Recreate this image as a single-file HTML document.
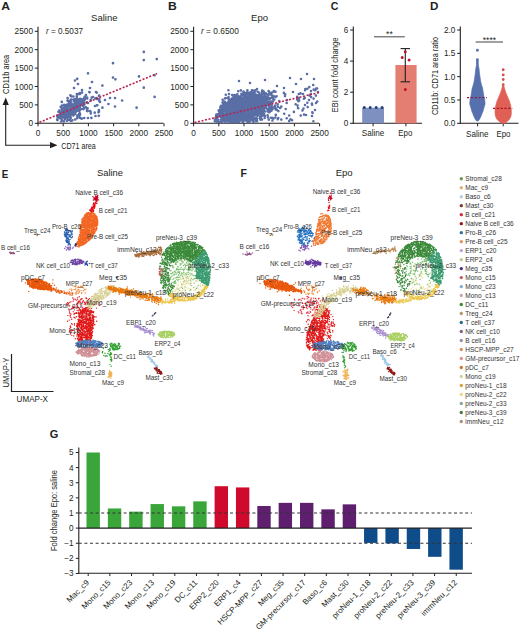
<!DOCTYPE html>
<html><head><meta charset="utf-8"><style>
html,body{margin:0;padding:0;background:#fff;}
svg{display:block;}
text{font-family:"Liberation Sans", sans-serif;}
</style></head><body>
<svg width="520" height="633" viewBox="0 0 520 633" fill="#231f20" font-family='"Liberation Sans", sans-serif'>
<rect width="520" height="633" fill="#fff"/>
<text x="1.20" y="10.17" font-size="10.8" font-weight="bold" textLength="8.80" lengthAdjust="spacingAndGlyphs">A</text>
<text x="104.30" y="21.20" font-size="9.5" text-anchor="middle">Saline</text>
<line x1="38.00" y1="26.70" x2="38.00" y2="123.80" stroke="#231f20" stroke-width="1.1"/>
<line x1="37.50" y1="123.30" x2="163.50" y2="123.30" stroke="#231f20" stroke-width="1.1"/>
<line x1="34.80" y1="123.30" x2="38.00" y2="123.30" stroke="#231f20" stroke-width="1"/>
<text x="33.00" y="126.45" font-size="8.8" text-anchor="end" textLength="4.60" lengthAdjust="spacingAndGlyphs">0</text>
<line x1="38.00" y1="123.30" x2="38.00" y2="126.30" stroke="#231f20" stroke-width="1"/>
<text x="38.00" y="135.95" font-size="8.8" text-anchor="middle" textLength="4.60" lengthAdjust="spacingAndGlyphs">0</text>
<line x1="34.80" y1="104.90" x2="38.00" y2="104.90" stroke="#231f20" stroke-width="1"/>
<text x="33.00" y="108.05" font-size="8.8" text-anchor="end" textLength="13.80" lengthAdjust="spacingAndGlyphs">500</text>
<line x1="63.20" y1="123.30" x2="63.20" y2="126.30" stroke="#231f20" stroke-width="1"/>
<text x="63.20" y="135.95" font-size="8.8" text-anchor="middle" textLength="13.80" lengthAdjust="spacingAndGlyphs">500</text>
<line x1="34.80" y1="86.50" x2="38.00" y2="86.50" stroke="#231f20" stroke-width="1"/>
<text x="33.00" y="89.65" font-size="8.8" text-anchor="end" textLength="18.40" lengthAdjust="spacingAndGlyphs">1000</text>
<line x1="88.40" y1="123.30" x2="88.40" y2="126.30" stroke="#231f20" stroke-width="1"/>
<text x="88.40" y="135.95" font-size="8.8" text-anchor="middle" textLength="18.40" lengthAdjust="spacingAndGlyphs">1000</text>
<line x1="34.80" y1="68.10" x2="38.00" y2="68.10" stroke="#231f20" stroke-width="1"/>
<text x="33.00" y="71.25" font-size="8.8" text-anchor="end" textLength="18.40" lengthAdjust="spacingAndGlyphs">1500</text>
<line x1="113.60" y1="123.30" x2="113.60" y2="126.30" stroke="#231f20" stroke-width="1"/>
<text x="113.60" y="135.95" font-size="8.8" text-anchor="middle" textLength="18.40" lengthAdjust="spacingAndGlyphs">1500</text>
<line x1="34.80" y1="49.70" x2="38.00" y2="49.70" stroke="#231f20" stroke-width="1"/>
<text x="33.00" y="52.85" font-size="8.8" text-anchor="end" textLength="18.40" lengthAdjust="spacingAndGlyphs">2000</text>
<line x1="138.80" y1="123.30" x2="138.80" y2="126.30" stroke="#231f20" stroke-width="1"/>
<text x="138.80" y="135.95" font-size="8.8" text-anchor="middle" textLength="18.40" lengthAdjust="spacingAndGlyphs">2000</text>
<line x1="34.80" y1="31.30" x2="38.00" y2="31.30" stroke="#231f20" stroke-width="1"/>
<text x="33.00" y="34.45" font-size="8.8" text-anchor="end" textLength="18.40" lengthAdjust="spacingAndGlyphs">2500</text>
<line x1="164.00" y1="123.30" x2="164.00" y2="126.30" stroke="#231f20" stroke-width="1"/>
<text x="164.00" y="135.95" font-size="8.8" text-anchor="middle" textLength="18.40" lengthAdjust="spacingAndGlyphs">2500</text>
<text x="46.00" y="34.20" font-size="8.2" textLength="37.00" lengthAdjust="spacingAndGlyphs"><tspan font-style="italic">r</tspan> = 0.5037</text>
<text x="168.10" y="10.17" font-size="10.8" font-weight="bold" textLength="8.80" lengthAdjust="spacingAndGlyphs">B</text>
<text x="259.50" y="21.20" font-size="9.5" text-anchor="middle">Epo</text>
<line x1="193.60" y1="26.70" x2="193.60" y2="123.80" stroke="#231f20" stroke-width="1.1"/>
<line x1="193.10" y1="123.30" x2="319.10" y2="123.30" stroke="#231f20" stroke-width="1.1"/>
<line x1="190.40" y1="123.30" x2="193.60" y2="123.30" stroke="#231f20" stroke-width="1"/>
<text x="188.60" y="126.45" font-size="8.8" text-anchor="end" textLength="4.60" lengthAdjust="spacingAndGlyphs">0</text>
<line x1="193.60" y1="123.30" x2="193.60" y2="126.30" stroke="#231f20" stroke-width="1"/>
<text x="193.60" y="135.95" font-size="8.8" text-anchor="middle" textLength="4.60" lengthAdjust="spacingAndGlyphs">0</text>
<line x1="190.40" y1="104.90" x2="193.60" y2="104.90" stroke="#231f20" stroke-width="1"/>
<text x="188.60" y="108.05" font-size="8.8" text-anchor="end" textLength="13.80" lengthAdjust="spacingAndGlyphs">500</text>
<line x1="218.80" y1="123.30" x2="218.80" y2="126.30" stroke="#231f20" stroke-width="1"/>
<text x="218.80" y="135.95" font-size="8.8" text-anchor="middle" textLength="13.80" lengthAdjust="spacingAndGlyphs">500</text>
<line x1="190.40" y1="86.50" x2="193.60" y2="86.50" stroke="#231f20" stroke-width="1"/>
<text x="188.60" y="89.65" font-size="8.8" text-anchor="end" textLength="18.40" lengthAdjust="spacingAndGlyphs">1000</text>
<line x1="244.00" y1="123.30" x2="244.00" y2="126.30" stroke="#231f20" stroke-width="1"/>
<text x="244.00" y="135.95" font-size="8.8" text-anchor="middle" textLength="18.40" lengthAdjust="spacingAndGlyphs">1000</text>
<line x1="190.40" y1="68.10" x2="193.60" y2="68.10" stroke="#231f20" stroke-width="1"/>
<text x="188.60" y="71.25" font-size="8.8" text-anchor="end" textLength="18.40" lengthAdjust="spacingAndGlyphs">1500</text>
<line x1="269.20" y1="123.30" x2="269.20" y2="126.30" stroke="#231f20" stroke-width="1"/>
<text x="269.20" y="135.95" font-size="8.8" text-anchor="middle" textLength="18.40" lengthAdjust="spacingAndGlyphs">1500</text>
<line x1="190.40" y1="49.70" x2="193.60" y2="49.70" stroke="#231f20" stroke-width="1"/>
<text x="188.60" y="52.85" font-size="8.8" text-anchor="end" textLength="18.40" lengthAdjust="spacingAndGlyphs">2000</text>
<line x1="294.40" y1="123.30" x2="294.40" y2="126.30" stroke="#231f20" stroke-width="1"/>
<text x="294.40" y="135.95" font-size="8.8" text-anchor="middle" textLength="18.40" lengthAdjust="spacingAndGlyphs">2000</text>
<line x1="190.40" y1="31.30" x2="193.60" y2="31.30" stroke="#231f20" stroke-width="1"/>
<text x="188.60" y="34.45" font-size="8.8" text-anchor="end" textLength="18.40" lengthAdjust="spacingAndGlyphs">2500</text>
<line x1="319.60" y1="123.30" x2="319.60" y2="126.30" stroke="#231f20" stroke-width="1"/>
<text x="319.60" y="135.95" font-size="8.8" text-anchor="middle" textLength="18.40" lengthAdjust="spacingAndGlyphs">2500</text>
<text x="201.00" y="34.20" font-size="8.2" textLength="37.80" lengthAdjust="spacingAndGlyphs"><tspan font-style="italic">r</tspan> = 0.6500</text>
<path d="M143.8 51.9h0M143.8 60.1h0M156.8 59.1h0M113.0 63.2h0M88.0 73.3h0M139.0 76.4h0M154.6 75.2h0M113.0 77.6h0M115.4 79.3h0M143.8 87.7h0M77.2 78.8h0M92.0 82.0h0M102.4 85.6h0M122.1 100.5h0M136.6 107.7h0M154.6 96.9h0M115.0 98.0h0M115.0 106.5h0M108.4 104.0h0M102.4 107.7h0M78.0 84.0h0M74.0 88.0h0M82.0 90.0h0M90.0 88.0h0M96.0 92.0h0M99.0 96.0h0M86.0 95.0h0M105.0 100.0h0M110.0 98.0h0M100.0 102.0h0M75.0 80.5h0M80.0 94.0h0M93.0 97.0h0M88.0 103.0h0M95.0 106.0h0M84.0 108.0h0M90.0 111.0h0M97.0 99.0h0M79.0 116.0h0M88.0 118.0h0M71.0 121.0h0M64.0 121.5h0M69.6 113.0h0M67.7 110.1h0M63.2 114.2h0M78.5 105.6h0M77.6 105.4h0M73.1 108.5h0M61.1 121.5h0M74.7 109.0h0M62.8 113.1h0M71.9 108.2h0M71.8 105.1h0M73.1 109.7h0M70.0 119.1h0M76.8 111.0h0M63.9 110.8h0M67.4 111.4h0M74.9 107.5h0M64.5 109.2h0M69.7 116.8h0M65.2 115.0h0M69.0 102.8h0M73.7 114.1h0M67.2 107.9h0M73.2 107.2h0M62.3 120.4h0M76.9 109.6h0M80.6 103.7h0M67.4 105.1h0M72.5 104.8h0M63.7 108.2h0M62.1 113.3h0M73.4 96.5h0M60.9 118.4h0M81.2 104.4h0M70.5 105.7h0M65.0 119.1h0M77.8 104.8h0M72.8 110.2h0M82.3 103.7h0M74.9 109.1h0M77.8 106.8h0M71.0 99.6h0M71.4 114.3h0M73.3 106.6h0M73.9 110.5h0M73.8 113.2h0M64.5 112.1h0M77.0 104.6h0M66.5 117.7h0M78.7 100.9h0M60.4 116.8h0M68.2 109.8h0M76.8 99.2h0M75.2 99.2h0M66.4 116.2h0M79.8 106.9h0M72.7 108.7h0M72.5 111.1h0M69.5 111.8h0M73.8 107.0h0M76.6 107.9h0M84.3 100.6h0M66.2 111.0h0M72.3 113.1h0M68.7 113.0h0M63.1 116.7h0M73.3 108.7h0M68.8 114.4h0M70.5 106.8h0M87.2 98.5h0M66.0 112.6h0M68.3 111.0h0M73.7 100.9h0M72.0 113.5h0M79.6 110.5h0M57.7 117.7h0M69.3 113.8h0M70.4 95.4h0M73.5 99.5h0M70.7 101.5h0M74.3 113.0h0M69.5 111.4h0M75.7 106.3h0M73.4 115.5h0M76.3 103.5h0M75.4 104.3h0M72.7 111.6h0M73.1 111.0h0M71.6 103.6h0M59.3 110.5h0M80.4 105.8h0M77.4 99.2h0M67.1 106.2h0M79.2 111.3h0M68.1 119.8h0M76.2 104.2h0M67.8 108.5h0M73.7 109.3h0M77.4 98.8h0M81.5 109.0h0M79.3 101.8h0M67.7 117.3h0M71.1 109.8h0M78.9 101.7h0M70.5 106.3h0M72.1 112.8h0M74.0 114.0h0M72.3 113.8h0M84.2 107.5h0M67.8 116.4h0M61.7 116.4h0M68.6 110.9h0M66.6 113.9h0M82.1 100.8h0M76.1 110.5h0M65.4 106.9h0M69.1 116.5h0M57.4 116.6h0M78.8 107.4h0M72.1 112.6h0M68.1 105.2h0M57.9 116.1h0M74.7 103.3h0M62.0 112.2h0M59.4 117.6h0M63.0 117.4h0M60.7 106.9h0M74.1 105.3h0M70.8 107.0h0M77.2 108.4h0M75.3 107.6h0M80.6 105.2h0M67.6 100.7h0M79.4 109.6h0M66.8 110.0h0M78.5 94.0h0M79.4 115.6h0M65.6 117.1h0M82.3 99.7h0M76.1 110.1h0M63.7 114.4h0M74.1 111.2h0M69.3 109.5h0M62.3 114.1h0M76.2 105.7h0M62.1 111.7h0M90.8 99.8h0M67.6 98.1h0M75.4 108.3h0M82.4 102.6h0M70.9 112.1h0M70.4 106.0h0M83.6 109.1h0M58.9 115.1h0M72.4 109.1h0M64.8 108.9h0M86.9 102.3h0M58.5 111.8h0M84.0 104.4h0M84.3 103.2h0M64.8 115.4h0M71.0 112.0h0M64.8 113.4h0M74.0 108.8h0M74.8 107.4h0M69.9 114.3h0M68.2 107.0h0M65.8 113.3h0M69.7 111.1h0M70.5 110.6h0M65.8 106.5h0M75.5 111.3h0M72.4 107.1h0M70.5 104.5h0M57.5 120.1h0M65.7 117.3h0M67.1 120.7h0M63.9 107.5h0M66.2 115.7h0M73.8 108.0h0M81.8 104.6h0M71.4 112.1h0M83.6 104.6h0M74.1 101.1h0M70.9 113.2h0M70.8 115.1h0M76.3 109.9h0M75.2 119.5h0M77.7 102.8h0M77.3 118.1h0M70.0 114.7h0M76.6 104.9h0M62.7 116.7h0M75.3 111.9h0M75.3 106.0h0M77.1 107.3h0M71.5 109.1h0M70.1 113.5h0M61.3 113.4h0M66.2 105.1h0M61.9 105.6h0M66.9 115.5h0M73.7 106.9h0M64.8 106.5h0M83.6 102.1h0M75.0 101.4h0M64.1 104.9h0M77.6 109.0h0M57.2 119.8h0M69.7 100.9h0M62.2 108.6h0M70.9 110.7h0M76.1 109.0h0M83.1 106.0h0M59.9 115.2h0M60.1 112.0h0M69.5 110.4h0M69.2 102.2h0M61.7 116.4h0M67.9 110.0h0M67.6 107.8h0M75.6 107.5h0M67.7 108.2h0M61.8 101.9h0M63.5 115.3h0M60.4 118.5h0M67.4 104.7h0M67.5 110.3h0M74.7 109.6h0M67.6 107.4h0M68.9 110.5h0M75.7 107.1h0M61.7 109.3h0M65.6 109.5h0M62.3 115.4h0M67.0 112.9h0M72.4 105.9h0M84.7 96.8h0M77.7 104.6h0M71.3 96.3h0M65.6 114.8h0M80.1 114.6h0M75.5 112.5h0M77.6 109.1h0M73.0 106.8h0M70.6 103.8h0M75.3 100.5h0M77.2 115.7h0M68.6 111.2h0M77.9 104.0h0M65.3 115.1h0M75.7 109.3h0M69.4 119.8h0M81.2 101.3h0M70.7 107.2h0M77.6 100.3h0M73.3 104.9h0M67.2 116.0h0M78.9 103.0h0M67.6 116.2h0M70.5 111.3h0M83.1 105.8h0M72.4 120.3h0M72.1 112.6h0M65.5 113.2h0M76.0 98.8h0M76.7 102.3h0M68.8 109.3h0M66.4 107.0h0M66.4 105.1h0M70.3 111.4h0M72.5 106.8h0M64.4 115.3h0M70.8 117.7h0M74.8 105.6h0M65.0 110.1h0M62.8 113.7h0M73.3 110.2h0M79.2 114.0h0M65.3 113.7h0M66.9 113.3h0M72.1 110.5h0M69.3 112.5h0M72.3 112.3h0M67.3 106.6h0M64.6 117.5h0M67.3 115.5h0M75.8 107.1h0M99.2 95.5h0M87.1 109.6h0M96.4 98.0h0M81.0 99.0h0M84.4 104.5h0M98.8 115.8h0M96.7 92.6h0M74.8 111.9h0M97.3 105.3h0M89.3 92.0h0M84.2 118.0h0M95.5 116.0h0M99.3 99.0h0M76.8 96.3h0M87.6 111.1h0M98.5 112.2h0M90.8 113.4h0M85.9 107.4h0M75.0 113.9h0M80.0 117.8h0M90.8 100.5h0M77.3 99.1h0M90.5 111.6h0M76.9 94.0h0M87.6 108.3h0M84.1 98.3h0M89.6 92.3h0M81.8 104.9h0M98.9 110.0h0M97.0 105.3h0M80.1 98.9h0M99.0 111.7h0M82.0 92.6h0M87.0 110.9h0M84.9 99.2h0M91.4 117.9h0M79.9 93.0h0M82.8 103.8h0M91.7 97.5h0M94.7 112.7h0M87.1 97.7h0M99.2 100.7h0M95.3 98.5h0M79.8 113.3h0M81.7 118.7h0" stroke="#5a6ea6" stroke-width="2.70" stroke-linecap="round"/>
<line x1="39.50" y1="122.30" x2="157.00" y2="73.60" stroke="#b82350" stroke-width="1.6" stroke-dasharray="2,1.6"/>
<path d="M233.1 112.7h0M246.9 114.2h0M252.4 110.4h0M257.1 121.3h0M245.5 109.4h0M255.8 106.0h0M262.1 92.2h0M228.4 90.3h0M252.4 102.2h0M260.1 116.8h0M241.3 107.5h0M233.0 106.8h0M234.8 116.4h0M242.7 109.2h0M241.8 115.5h0M248.5 105.4h0M250.9 104.4h0M246.1 100.6h0M257.8 105.0h0M248.8 112.5h0M244.4 107.0h0M241.7 107.1h0M247.1 107.5h0M250.5 103.0h0M236.3 96.3h0M237.8 115.5h0M259.7 99.3h0M244.2 119.2h0M239.3 115.3h0M265.4 99.8h0M257.3 97.8h0M244.7 107.4h0M246.3 115.2h0M273.6 91.6h0M235.2 115.2h0M228.5 117.9h0M249.3 104.1h0M245.6 96.7h0M248.8 95.4h0M231.0 109.6h0M238.5 116.4h0M242.2 106.1h0M253.4 115.5h0M243.0 111.2h0M259.9 103.6h0M242.5 111.7h0M257.1 107.6h0M235.6 104.2h0M245.9 114.6h0M224.3 108.9h0M236.9 97.5h0M237.3 107.8h0M246.6 102.2h0M228.8 111.6h0M239.7 105.3h0M244.0 113.5h0M262.6 112.6h0M230.1 110.9h0M231.8 112.9h0M246.0 97.9h0M248.4 106.2h0M217.3 121.0h0M254.1 91.0h0M253.7 105.7h0M249.7 109.0h0M259.6 100.3h0M253.2 101.6h0M250.1 100.0h0M244.7 120.0h0M247.8 105.5h0M224.2 110.7h0M247.0 113.6h0M249.2 109.8h0M244.7 117.4h0M235.2 107.9h0M254.5 104.4h0M236.7 107.1h0M239.9 114.2h0M244.0 99.7h0M248.4 107.7h0M230.0 119.3h0M237.3 108.6h0M256.3 112.5h0M233.5 115.5h0M238.0 119.0h0M235.0 117.5h0M237.2 114.5h0M239.1 105.5h0M272.1 97.4h0M234.3 113.1h0M259.8 102.6h0M260.3 106.8h0M232.7 118.8h0M250.5 110.1h0M256.3 108.4h0M245.5 111.0h0M237.5 111.1h0M253.2 101.3h0M256.0 97.8h0M244.4 104.3h0M242.5 103.9h0M244.9 103.9h0M247.2 113.8h0M228.1 113.8h0M250.8 109.1h0M232.2 98.2h0M260.1 104.0h0M241.5 107.2h0M244.6 105.0h0M225.9 110.3h0M232.2 108.7h0M227.4 119.3h0M225.4 120.3h0M228.7 116.8h0M261.6 102.5h0M232.0 113.4h0M239.8 97.7h0M233.9 113.4h0M235.7 112.1h0M254.1 109.5h0M256.0 107.5h0M238.0 110.5h0M237.5 108.6h0M235.3 99.6h0M237.3 110.7h0M228.4 114.3h0M248.8 105.1h0M234.7 99.2h0M262.1 119.5h0M248.5 104.3h0M244.2 92.4h0M254.8 106.5h0M240.9 105.3h0M249.7 102.5h0M243.9 104.7h0M246.6 112.4h0M229.7 113.7h0M250.9 106.4h0M264.1 114.0h0M224.7 102.5h0M257.6 113.4h0M256.8 108.7h0M231.7 108.2h0M252.1 98.5h0M281.3 106.6h0M230.7 108.5h0M243.4 103.2h0M260.0 101.2h0M234.4 113.6h0M241.1 107.2h0M244.8 103.0h0M222.5 111.5h0M241.8 109.5h0M250.0 106.6h0M229.2 109.2h0M250.0 109.5h0M239.9 108.6h0M255.1 103.8h0M253.7 108.4h0M248.1 115.7h0M233.2 110.1h0M228.8 108.7h0M267.9 110.9h0M243.7 112.3h0M260.3 107.3h0M255.7 94.6h0M234.2 115.3h0M262.2 101.6h0M229.2 111.7h0M230.7 107.5h0M261.4 96.8h0M247.5 121.9h0M259.3 104.4h0M234.5 114.9h0M266.1 103.6h0M259.8 102.5h0M248.7 104.9h0M251.1 114.4h0M221.9 116.7h0M244.0 104.2h0M239.6 115.5h0M271.4 101.5h0M242.8 97.8h0M269.0 98.6h0M238.8 102.4h0M238.5 102.7h0M244.1 111.4h0M243.1 110.5h0M228.5 101.7h0M237.5 105.5h0M227.1 112.5h0M243.2 100.2h0M243.6 118.4h0M251.1 104.2h0M243.5 107.6h0M243.1 113.7h0M234.9 95.0h0M239.5 103.8h0M249.6 101.7h0M249.4 121.3h0M224.7 108.1h0M216.8 121.8h0M228.6 101.3h0M222.9 121.1h0M230.3 111.1h0M249.9 115.3h0M271.5 104.3h0M244.4 109.3h0M270.5 107.5h0M238.8 113.5h0M246.1 107.7h0M231.8 103.8h0M230.8 102.7h0M260.3 105.4h0M249.8 92.5h0M269.6 103.5h0M250.4 108.6h0M245.2 108.9h0M253.0 94.1h0M221.3 107.6h0M232.8 108.5h0M247.8 108.5h0M240.8 104.7h0M238.2 117.2h0M252.9 105.3h0M241.3 120.2h0M235.3 116.2h0M257.4 100.9h0M250.8 97.6h0M256.6 104.5h0M221.6 122.0h0M232.7 121.7h0M232.2 111.8h0M245.1 105.4h0M244.3 104.2h0M251.4 105.3h0M238.2 91.2h0M258.2 102.7h0M217.4 119.6h0M251.1 112.8h0M241.6 113.9h0M234.2 104.3h0M259.5 108.3h0M265.5 105.5h0M230.0 102.2h0M231.3 108.6h0M232.1 117.1h0M245.9 105.5h0M244.0 107.2h0M246.8 112.3h0M253.7 99.5h0M246.3 115.0h0M218.3 116.2h0M238.9 100.2h0M236.6 116.3h0M260.9 112.5h0M226.6 105.4h0M251.5 111.7h0M241.5 100.1h0M254.8 109.4h0M248.5 103.0h0M248.2 112.1h0M229.7 101.0h0M247.7 110.1h0M244.4 114.3h0M233.6 111.8h0M239.1 114.2h0M263.6 98.5h0M274.3 106.7h0M254.4 108.1h0M266.2 98.0h0M237.9 103.2h0M251.9 114.4h0M250.4 108.6h0M239.6 111.1h0M233.6 104.6h0M229.5 108.3h0M256.5 110.6h0M225.4 122.2h0M252.9 100.5h0M219.5 112.9h0M234.0 114.6h0M232.1 98.8h0M241.5 98.4h0M251.7 96.6h0M230.3 107.7h0M237.6 119.9h0M255.3 107.8h0M242.7 97.9h0M233.4 108.6h0M229.6 117.6h0M230.0 108.9h0M222.5 102.5h0M253.5 113.7h0M242.1 102.1h0M259.6 104.0h0M258.5 112.7h0M256.6 100.0h0M258.5 107.8h0M219.6 115.2h0M221.9 116.3h0M247.4 99.3h0M250.8 115.7h0M275.7 109.4h0M239.7 111.8h0M242.3 115.9h0M256.6 103.7h0M224.9 121.1h0M237.0 115.4h0M249.6 117.3h0M256.7 99.9h0M251.1 117.7h0M235.6 114.6h0M261.6 109.9h0M246.0 98.1h0M225.1 117.6h0M253.6 122.2h0M232.8 120.7h0M248.6 94.6h0M231.0 114.6h0M234.8 110.8h0M246.6 101.5h0M246.9 102.5h0M235.7 115.3h0M234.7 114.0h0M264.3 100.2h0M241.8 114.3h0M239.6 117.6h0M225.7 119.9h0M232.9 107.1h0M264.5 93.9h0M268.0 103.1h0M259.8 94.9h0M262.2 111.0h0M240.1 108.9h0M276.6 96.3h0M234.6 107.6h0M249.0 108.5h0M248.7 118.4h0M238.6 113.7h0M259.8 94.7h0M260.9 114.2h0M220.5 110.0h0M223.1 103.7h0M243.8 95.3h0M252.5 115.0h0M218.8 116.2h0M231.1 111.5h0M244.1 112.0h0M237.2 111.0h0M234.7 112.8h0M225.8 116.0h0M268.8 98.7h0M225.1 117.6h0M224.5 104.5h0M233.6 117.6h0M247.1 106.3h0M226.5 107.7h0M261.4 102.9h0M223.6 101.6h0M225.8 115.0h0M244.5 106.9h0M234.8 102.3h0M233.5 118.3h0M217.8 116.9h0M248.2 113.8h0M227.8 118.9h0M245.6 102.4h0M246.4 100.9h0M230.9 113.4h0M224.5 105.8h0M237.9 116.0h0M239.5 118.9h0M222.7 107.6h0M264.5 102.7h0M253.1 98.7h0M253.8 106.0h0M251.1 105.5h0M257.2 98.3h0M225.0 105.5h0M256.3 98.0h0M225.2 109.2h0M232.7 103.8h0M236.4 106.9h0M232.0 106.3h0M241.4 106.0h0M244.2 109.9h0M241.4 93.9h0M232.6 107.2h0M248.9 95.1h0M231.3 111.2h0M239.7 116.9h0M238.2 117.3h0M260.0 104.8h0M249.1 107.0h0M245.8 99.0h0M253.9 100.5h0M255.9 104.0h0M257.4 101.8h0M237.1 112.7h0M234.8 108.1h0M243.8 109.3h0M263.2 100.8h0M272.5 109.3h0M268.5 105.8h0M244.1 109.1h0M238.2 105.4h0M239.5 105.5h0M266.1 103.0h0M231.1 100.0h0M240.2 106.8h0M224.1 108.3h0M241.2 108.3h0M262.4 101.7h0M243.4 105.8h0M237.2 121.4h0M260.1 113.7h0M237.2 111.1h0M232.1 119.8h0M224.0 120.2h0M260.7 111.3h0M231.6 120.8h0M230.2 108.4h0M263.5 96.2h0M230.6 111.2h0M279.3 101.0h0M230.1 101.2h0M235.5 119.9h0M267.3 96.9h0M231.1 109.8h0M229.5 121.5h0M244.2 102.8h0M252.9 104.7h0M227.2 119.3h0M249.1 92.7h0M268.6 101.7h0M248.0 93.5h0M231.1 110.9h0M253.4 94.2h0M224.8 101.7h0M239.5 112.4h0M217.1 114.9h0M253.0 115.7h0M250.5 103.4h0M223.3 110.0h0M233.1 113.6h0M245.4 119.3h0M243.4 100.9h0M265.8 106.0h0M241.7 104.1h0M252.7 99.0h0M224.1 117.6h0M246.9 111.3h0M254.5 113.8h0M232.7 119.6h0M230.0 118.7h0M245.1 109.5h0M255.4 103.5h0M259.6 108.0h0M242.5 104.8h0M230.2 110.1h0M239.1 110.0h0M285.0 96.1h0M250.6 99.5h0M231.3 111.1h0M242.2 101.7h0M263.0 96.5h0M242.6 110.7h0M246.1 111.6h0M246.3 108.4h0M245.8 106.1h0M229.2 110.1h0M271.9 109.1h0M244.3 117.1h0M233.2 106.4h0M234.7 113.3h0M243.4 110.4h0M243.8 114.8h0M263.7 91.5h0M243.6 106.5h0M243.2 97.8h0M249.8 107.2h0M237.3 94.3h0M235.0 106.5h0M220.1 111.4h0M253.0 108.4h0M242.9 112.2h0M233.8 112.8h0M243.9 112.1h0M240.7 108.5h0M238.6 105.9h0M274.3 99.5h0M253.5 120.4h0M257.7 91.7h0M253.7 110.1h0M271.4 106.3h0M249.9 97.6h0M230.5 115.5h0M246.5 100.0h0M235.7 108.7h0M243.7 110.7h0M235.0 103.2h0M263.2 111.6h0M243.0 115.8h0M249.8 110.5h0M246.8 101.7h0M252.4 111.9h0M275.5 108.2h0M271.5 102.3h0M235.8 107.3h0M231.0 114.3h0M243.2 113.2h0M273.6 96.0h0M252.6 108.1h0M245.3 106.2h0M238.3 104.7h0M244.4 107.9h0M244.4 102.0h0M242.7 109.1h0M247.8 99.2h0M250.2 112.6h0M249.4 103.4h0M234.6 110.3h0M255.9 114.3h0M238.2 106.0h0M247.7 108.1h0M227.6 109.7h0M242.2 113.6h0M222.9 109.6h0M246.0 98.8h0M244.4 110.5h0M238.0 103.5h0M240.4 107.3h0M244.6 102.1h0M253.1 92.8h0M239.6 110.0h0M253.9 99.9h0M248.2 102.5h0M256.5 115.3h0M237.5 113.9h0M231.5 120.1h0M258.9 102.4h0M227.2 117.8h0M260.6 109.1h0M248.9 93.4h0M236.0 121.4h0M270.0 103.0h0M256.8 100.7h0M224.7 115.3h0M239.1 109.8h0M251.3 104.2h0M245.7 110.5h0M246.4 120.1h0M248.4 107.0h0M237.6 106.4h0M261.1 102.4h0M225.6 111.7h0M239.0 107.1h0M254.3 95.9h0M249.2 107.1h0M225.7 115.9h0M241.9 112.6h0M236.5 113.4h0M255.5 110.9h0M240.4 105.5h0M252.0 90.3h0M232.5 117.5h0M248.6 99.1h0M241.9 102.7h0M245.0 114.1h0M247.2 92.3h0M248.4 93.9h0M258.8 105.0h0M271.8 92.7h0M244.6 115.3h0M231.4 108.3h0M236.7 110.7h0M228.1 118.0h0M249.7 106.4h0M264.8 97.5h0M258.8 98.4h0M247.8 93.1h0M244.3 106.8h0M233.6 108.1h0M235.4 106.6h0M233.1 108.9h0M227.0 114.1h0M252.3 103.1h0M238.5 119.9h0M257.8 109.1h0M257.3 100.5h0M242.9 116.4h0M234.0 111.4h0M248.2 109.1h0M240.6 116.5h0M241.3 114.4h0M258.5 107.0h0M249.4 97.9h0M222.3 112.6h0M252.3 115.4h0M225.7 117.7h0M228.3 109.4h0M239.8 114.7h0M247.8 114.9h0M230.5 119.9h0M255.1 104.2h0M247.3 102.9h0M225.9 112.7h0M239.3 121.7h0M245.6 109.7h0M250.4 100.1h0M255.7 106.1h0M222.4 121.1h0M250.8 108.6h0M263.0 97.6h0M250.9 110.6h0M232.4 121.3h0M246.6 99.5h0M236.4 99.7h0M240.2 101.8h0M243.0 97.8h0M247.6 104.9h0M242.7 108.2h0M240.6 100.3h0M227.9 111.5h0M243.1 94.6h0M229.9 109.6h0M228.1 116.9h0M238.1 104.8h0M230.3 119.4h0M234.3 116.2h0M243.6 95.1h0M226.9 115.1h0M248.7 111.8h0M255.7 110.7h0M236.3 109.8h0M251.8 102.1h0M252.8 93.5h0M250.7 104.3h0M246.4 107.4h0M225.9 112.2h0M261.0 95.5h0M225.0 114.9h0M234.3 105.7h0M232.8 120.0h0M231.8 105.5h0M254.3 108.0h0M229.3 119.4h0M257.0 101.1h0M225.1 119.4h0M254.7 103.7h0M216.0 117.1h0M249.7 111.3h0M267.2 97.1h0M235.2 111.5h0M256.5 96.5h0M251.4 100.4h0M250.1 110.6h0M225.3 115.1h0M246.8 111.2h0M226.7 108.2h0M238.8 108.7h0M238.1 120.7h0M253.9 104.3h0M249.4 98.2h0M236.1 107.4h0M224.4 116.2h0M243.5 118.5h0M228.1 111.4h0M248.9 109.1h0M241.2 106.0h0M249.8 108.4h0M215.7 117.8h0M220.0 109.6h0M244.2 108.5h0M241.5 103.1h0M237.0 104.6h0M249.0 111.0h0M269.5 106.8h0M229.7 110.8h0M229.7 116.1h0M271.3 102.1h0M225.3 119.4h0M242.7 110.8h0M264.8 94.0h0M244.9 102.4h0M245.0 114.7h0M238.4 105.6h0M217.9 120.0h0M243.9 112.6h0M237.6 114.3h0M253.0 103.5h0M235.2 110.4h0M228.1 113.2h0M238.3 112.0h0M263.8 109.4h0M237.3 115.1h0M248.0 111.9h0M242.9 110.5h0M233.6 106.9h0M257.3 111.9h0M252.3 107.9h0M244.6 104.8h0M243.4 104.5h0M231.7 122.1h0M256.7 119.7h0M232.0 112.9h0M235.3 112.8h0M237.3 105.7h0M255.0 98.2h0M236.3 115.2h0M233.5 109.4h0M246.1 104.8h0M224.4 115.4h0M243.1 120.5h0M229.1 121.0h0M230.2 111.3h0M238.1 112.5h0M258.3 114.7h0M236.4 120.6h0M257.8 108.3h0M233.6 118.7h0M241.4 111.7h0M239.9 114.5h0M260.3 109.6h0M241.6 116.2h0M259.9 95.2h0M259.2 92.7h0M251.0 109.5h0M263.3 102.3h0M233.4 106.9h0M226.5 120.6h0M237.0 106.0h0M247.5 101.4h0M234.8 108.7h0M268.6 108.5h0M236.0 100.4h0M246.0 107.9h0M248.2 110.4h0M239.8 116.4h0M254.2 105.6h0M235.2 108.4h0M249.0 98.5h0M238.0 105.4h0M224.1 120.5h0M241.7 109.4h0M250.5 95.1h0M241.8 111.1h0M250.9 97.8h0M252.5 106.3h0M263.6 108.2h0M254.9 118.9h0M240.9 106.4h0M235.0 105.2h0M237.0 97.8h0M241.9 112.0h0M254.9 101.3h0M259.7 97.3h0M235.6 98.4h0M229.5 108.5h0M263.5 103.9h0M228.3 118.2h0M248.0 105.0h0M241.6 107.1h0M230.4 101.5h0M243.8 117.1h0M260.8 99.5h0M231.4 111.9h0M255.0 106.1h0M234.9 114.3h0M240.4 113.2h0M233.0 102.6h0M244.6 113.2h0M226.7 114.4h0M253.0 102.0h0M255.7 110.5h0M218.3 115.0h0M255.2 112.8h0M227.8 110.2h0M240.1 96.6h0M252.0 108.8h0M237.2 114.6h0M253.2 106.6h0M252.6 115.0h0M235.9 112.6h0M237.4 117.9h0M237.6 114.0h0M244.0 108.6h0M264.9 99.2h0M263.0 106.1h0M259.4 100.9h0M256.3 108.4h0M234.4 113.9h0M240.2 109.5h0M257.8 97.7h0M234.4 107.7h0M243.5 112.2h0M266.4 101.2h0M246.5 102.2h0M253.0 113.8h0M255.4 90.4h0M257.7 113.4h0M249.6 95.8h0M239.3 114.1h0M245.7 102.0h0M232.3 119.4h0M243.0 110.6h0M222.7 112.8h0M247.8 96.7h0M225.7 115.9h0M250.2 110.6h0M236.5 109.8h0M237.5 106.9h0M245.7 108.6h0M234.2 113.9h0M241.6 108.6h0M252.7 93.1h0M242.9 101.5h0M241.3 119.4h0M227.3 114.3h0M236.3 117.7h0M225.0 104.5h0M248.0 104.2h0M240.3 117.0h0M229.3 111.6h0M244.9 110.6h0M237.5 117.8h0M271.0 94.5h0M260.0 99.4h0M243.0 106.3h0M230.5 105.0h0M239.8 118.6h0M256.4 100.8h0M233.3 107.8h0M251.1 106.1h0M233.0 105.7h0M261.4 106.4h0M231.6 119.9h0M228.7 118.7h0M228.2 111.8h0M249.6 108.8h0M253.5 98.7h0M266.2 108.3h0M243.0 111.7h0M231.3 112.3h0M224.6 116.6h0M247.8 115.7h0M256.6 108.6h0M236.6 109.7h0M238.0 112.1h0M219.9 114.5h0M241.1 105.9h0M264.0 99.5h0M265.7 107.3h0M236.3 114.0h0M258.6 100.1h0M241.9 105.3h0M242.0 106.6h0M245.4 114.4h0M260.9 102.3h0M246.7 112.9h0M235.7 104.4h0M254.6 97.6h0M252.2 98.4h0M264.0 93.1h0M256.8 113.1h0M226.9 103.2h0M253.3 109.2h0M233.4 95.5h0M240.6 107.5h0M236.3 109.4h0M216.8 115.4h0M269.6 108.2h0M235.5 106.8h0M249.8 113.0h0M248.9 98.3h0M244.5 108.9h0M264.0 108.2h0M251.8 113.2h0M240.3 120.0h0M237.2 113.6h0M252.1 98.8h0M228.5 102.6h0M244.1 107.8h0M238.8 113.6h0M242.5 107.0h0M256.7 114.9h0M233.9 106.0h0M234.1 112.8h0M247.8 100.9h0M252.9 97.7h0M254.0 107.0h0M253.2 119.0h0M238.1 109.5h0M250.4 111.4h0M224.8 117.8h0M233.6 116.6h0M260.4 101.9h0M241.0 110.6h0M249.9 106.9h0M235.0 106.9h0M242.4 117.0h0M243.8 117.3h0M245.6 107.4h0M218.3 114.1h0M255.7 94.8h0M226.2 108.0h0M236.1 115.7h0M245.2 94.0h0M260.1 97.7h0M238.0 121.8h0M238.0 102.3h0M231.8 108.2h0M227.7 112.5h0M254.5 106.3h0M229.1 115.0h0M244.2 113.2h0M238.7 113.4h0M270.3 98.2h0M228.3 116.7h0M230.4 111.2h0M245.3 109.9h0M240.2 115.4h0M236.4 102.5h0M252.9 102.2h0M256.7 98.7h0M250.4 107.7h0M257.7 106.0h0M249.8 102.5h0M242.4 110.4h0M249.3 110.8h0M237.6 106.1h0M235.5 114.4h0M235.2 108.0h0M232.2 95.1h0M236.9 109.4h0M247.7 93.4h0M239.0 113.4h0M251.3 113.3h0M253.6 97.2h0M249.7 103.6h0M234.9 122.2h0M231.6 107.5h0M234.6 106.3h0M256.3 105.8h0M261.7 103.8h0M236.2 118.4h0M232.2 109.9h0M239.9 110.1h0M256.6 99.0h0M246.6 106.9h0M222.6 109.5h0M240.0 112.5h0M247.4 110.0h0M241.6 106.1h0M245.4 100.9h0M223.2 114.3h0M221.6 113.8h0M230.7 109.8h0M239.5 104.6h0M232.3 101.4h0M241.9 103.1h0M240.8 90.4h0M231.8 114.8h0M243.5 109.1h0M222.5 118.4h0M241.7 102.5h0M251.9 104.7h0M241.2 106.3h0M249.6 106.6h0M258.3 105.5h0M233.2 111.0h0M253.5 101.9h0M248.4 110.0h0M234.1 96.4h0M244.3 109.5h0M242.0 103.8h0M257.9 101.6h0M231.9 108.2h0M244.3 100.7h0M262.1 108.0h0M261.8 105.1h0M259.8 105.1h0M259.2 98.7h0M245.5 112.8h0M243.4 115.9h0M244.7 112.6h0M239.7 99.9h0M248.9 115.1h0M261.4 112.8h0M248.1 102.5h0M237.7 97.7h0M241.6 115.3h0M256.2 112.3h0M228.0 110.2h0M254.1 118.2h0M246.6 103.8h0M241.6 110.6h0M275.0 107.9h0M272.9 97.4h0M258.5 111.6h0M249.8 108.3h0M238.6 107.6h0M231.0 99.3h0M245.5 107.4h0M248.7 118.7h0M239.9 108.0h0M231.9 112.9h0M236.6 112.6h0M285.2 94.2h0M255.6 109.1h0M253.6 109.9h0M254.5 113.6h0M258.8 111.4h0M235.2 111.7h0M234.4 118.6h0M252.1 101.7h0M256.1 121.2h0M256.1 95.7h0M242.3 113.2h0M242.4 111.5h0M258.8 104.5h0M228.8 119.2h0M241.0 110.2h0M231.1 104.0h0M224.3 113.7h0M254.8 95.9h0M233.4 116.1h0M233.2 117.1h0M236.2 113.4h0M243.4 108.4h0M244.8 117.5h0M235.9 115.1h0M245.3 110.9h0M251.9 94.8h0M245.3 106.5h0M235.7 105.7h0M228.9 107.3h0M265.1 99.8h0M249.7 99.2h0M247.3 116.7h0M239.1 103.4h0M236.4 104.5h0M222.6 115.3h0M234.7 106.4h0M227.8 108.4h0M248.5 115.9h0M220.7 119.5h0M225.9 114.4h0M244.7 111.7h0M256.0 99.6h0M224.7 114.7h0M244.3 103.3h0M258.1 114.0h0M223.6 118.9h0M251.2 92.1h0M244.3 106.5h0M243.8 105.0h0M249.5 110.3h0M253.8 108.2h0M244.7 99.9h0M236.6 112.1h0M234.4 104.9h0M217.9 120.4h0M241.1 105.4h0M234.2 106.1h0M231.6 112.5h0M234.9 116.5h0M240.4 110.6h0M250.5 114.2h0M250.7 107.0h0M237.9 105.2h0M239.0 114.9h0M244.1 105.5h0M220.3 107.3h0M248.8 113.3h0M243.8 98.9h0M239.6 111.5h0M230.4 116.1h0M237.3 105.2h0M227.1 120.6h0M244.7 101.8h0M230.4 119.8h0M249.4 103.9h0M262.9 98.6h0M230.3 121.2h0M240.3 112.1h0M240.1 102.9h0M225.5 114.4h0M258.7 95.4h0M260.9 102.9h0M227.6 116.7h0M247.6 100.6h0M228.0 117.7h0M215.8 118.6h0M227.5 104.7h0M239.1 111.3h0M231.7 105.1h0M240.7 97.6h0M250.4 109.0h0M266.8 105.0h0M247.4 108.6h0M239.2 101.1h0M263.0 104.1h0M235.4 103.8h0M263.3 104.0h0M227.6 119.4h0M267.6 98.5h0M246.4 104.4h0M236.0 118.7h0M283.9 92.9h0M242.2 114.3h0M239.6 114.9h0M250.8 98.5h0M227.3 114.4h0M253.9 106.1h0M255.5 94.2h0M247.2 102.7h0M244.1 110.3h0M228.4 113.0h0M226.9 116.9h0M229.4 110.7h0M243.4 104.0h0M256.0 99.0h0M254.1 106.0h0M227.5 113.4h0M229.9 111.4h0M242.6 121.1h0M240.1 120.5h0M244.9 98.9h0M256.8 105.7h0M238.6 108.7h0M244.8 105.8h0M233.9 109.8h0M256.3 99.0h0M244.4 100.2h0M229.2 104.9h0M240.9 114.1h0M245.0 104.5h0M249.4 103.6h0M247.7 108.6h0M243.5 91.6h0M226.3 120.6h0M237.5 107.1h0M263.4 104.1h0M268.7 101.7h0M241.0 114.3h0M230.3 110.7h0M234.0 110.7h0M251.3 102.0h0M245.2 104.3h0M239.6 111.1h0M229.9 120.8h0M247.9 115.3h0M256.4 107.5h0M237.4 103.5h0M238.0 107.5h0M244.3 104.9h0M256.7 99.9h0M240.9 115.7h0M239.2 101.9h0M247.1 105.6h0M214.8 121.3h0M226.1 110.4h0M249.2 108.1h0M246.2 103.2h0M244.9 107.0h0M238.9 108.4h0M236.7 117.8h0M246.4 118.8h0M256.5 114.3h0M241.3 111.8h0M235.8 110.4h0M217.4 115.0h0M227.7 110.4h0M258.9 103.9h0M260.5 107.3h0M256.7 109.9h0M235.8 116.9h0M236.4 107.7h0M263.1 115.1h0M251.2 99.6h0M246.5 109.7h0M246.2 104.9h0M224.8 116.1h0M255.4 108.9h0M253.4 111.8h0M228.6 114.1h0M248.9 113.0h0M245.3 111.2h0M248.7 120.5h0M275.7 97.0h0M217.8 119.7h0M221.2 112.8h0M249.0 117.7h0M249.8 110.4h0M256.1 104.7h0M230.3 113.1h0M245.9 105.6h0M232.2 110.5h0M219.5 111.2h0M239.9 107.4h0M245.8 116.9h0M245.9 107.2h0M223.8 109.1h0M245.0 101.9h0M245.2 100.4h0M243.6 107.9h0M254.4 101.3h0M237.6 112.4h0M246.7 118.5h0M237.3 107.3h0M238.8 113.5h0M246.8 111.8h0M266.6 98.9h0M226.2 116.4h0M242.3 93.8h0M238.7 100.4h0M251.4 114.5h0M252.3 94.7h0M262.6 106.8h0M238.3 113.9h0M261.5 98.9h0M240.5 105.8h0M252.4 90.3h0M258.7 95.7h0M250.6 94.6h0M228.1 110.6h0M249.3 95.1h0M248.6 102.1h0M257.9 100.5h0M248.1 105.4h0M265.2 97.2h0M246.3 120.6h0M244.6 112.6h0M232.6 114.1h0M229.8 103.8h0M244.2 97.9h0M264.6 95.2h0M237.6 112.4h0M223.0 105.8h0M234.8 119.9h0M251.0 94.7h0M258.2 102.7h0M248.8 106.6h0M245.2 101.0h0M228.2 109.8h0M238.5 114.6h0M232.2 109.0h0M252.4 107.7h0M235.0 104.6h0M224.9 105.1h0M259.8 109.1h0M268.2 101.8h0M248.2 111.6h0M254.1 102.4h0M251.8 119.6h0M230.9 118.6h0M257.1 100.6h0M250.9 105.1h0M244.7 104.2h0M241.6 109.1h0M262.4 115.8h0M219.0 121.9h0M244.2 114.6h0M258.0 107.8h0M250.6 99.1h0M256.0 96.9h0M260.8 105.9h0M231.5 121.1h0M231.1 108.4h0M220.8 116.1h0M254.1 99.6h0M268.3 103.0h0M232.0 104.9h0M221.4 121.1h0M256.9 95.8h0M241.3 107.4h0M239.7 113.3h0M268.5 94.0h0M255.9 110.7h0M237.8 109.7h0M233.3 108.1h0M240.9 103.7h0M227.3 112.9h0M261.4 99.8h0M245.6 97.6h0M233.0 102.2h0M242.0 113.1h0M243.3 102.2h0M254.9 110.3h0M246.9 104.1h0M239.9 105.6h0M241.0 111.6h0M240.3 116.3h0M275.5 91.8h0M248.5 111.9h0M250.1 104.1h0M237.9 117.4h0M251.6 108.6h0M232.7 117.0h0M252.2 103.6h0M255.8 118.1h0M223.1 107.4h0M240.1 113.5h0M240.0 101.9h0M221.4 113.6h0M240.2 104.1h0M230.4 112.6h0M233.2 108.6h0M241.8 107.0h0M247.5 98.7h0M242.8 113.9h0M259.2 105.8h0M238.8 99.7h0M252.5 108.6h0M225.0 107.9h0M241.7 102.2h0M261.8 96.8h0M236.5 117.1h0M244.3 102.0h0M257.6 115.8h0M224.9 114.2h0M222.9 103.5h0M252.1 109.7h0M256.2 106.2h0M214.8 119.8h0M230.2 105.8h0M228.9 119.5h0M242.6 122.1h0M243.8 95.3h0M257.0 111.4h0M239.6 101.7h0M262.8 91.7h0M236.4 98.3h0M221.0 105.9h0M259.5 110.0h0M233.3 103.3h0M242.1 111.6h0M218.6 110.5h0M242.3 113.7h0M244.1 111.2h0M244.0 101.9h0M239.4 107.5h0M246.7 101.8h0M261.7 101.3h0M250.7 109.8h0M257.0 105.7h0M216.8 114.9h0M268.4 101.6h0M250.7 108.7h0M231.7 108.5h0M236.0 119.4h0M251.2 117.5h0M253.3 117.4h0M245.4 99.5h0M266.5 101.4h0M258.7 103.7h0M237.9 111.8h0M223.9 108.1h0M228.6 110.8h0M223.3 115.9h0M251.0 119.3h0M267.0 98.6h0M253.5 102.8h0M247.3 106.6h0M234.8 112.4h0M222.9 119.8h0M235.5 104.2h0M238.4 114.3h0M233.8 115.6h0M253.5 115.1h0M226.9 114.3h0M252.6 115.1h0M247.4 112.0h0M220.5 113.7h0M264.1 98.1h0M269.9 92.7h0M234.4 101.1h0M251.3 107.0h0M270.1 98.8h0M235.2 102.0h0M243.1 115.1h0M255.1 112.2h0M253.8 103.9h0M250.7 106.7h0M244.6 100.7h0M248.0 108.6h0M259.2 112.1h0M260.8 94.9h0M217.1 121.0h0M247.5 109.2h0M225.6 112.4h0M246.5 112.4h0M272.9 98.6h0M228.0 98.3h0M256.5 102.2h0M238.1 103.7h0M247.8 94.2h0M243.8 109.1h0M249.3 115.1h0M240.9 110.1h0M250.1 95.0h0M238.1 111.0h0M253.2 98.9h0M254.0 106.8h0M222.6 117.8h0M246.6 112.2h0M252.0 101.1h0M258.7 107.9h0M249.7 109.2h0M225.1 118.3h0M224.8 107.6h0M237.5 111.8h0M240.5 107.3h0M228.6 115.7h0M228.3 104.7h0M246.8 117.2h0M233.8 104.9h0M265.3 111.5h0M237.4 109.4h0M246.3 114.2h0M243.7 95.6h0M223.8 107.8h0M248.3 107.2h0M266.1 97.4h0M246.5 107.7h0M249.5 122.1h0M249.5 116.2h0M258.5 98.1h0M250.6 102.9h0M243.9 109.3h0M241.2 106.1h0M262.9 98.7h0M255.8 115.2h0M253.2 111.7h0M263.9 107.8h0M262.4 90.8h0M269.2 98.2h0M216.2 114.9h0M222.6 116.7h0M218.9 111.3h0M246.5 108.3h0M230.4 112.1h0M240.8 110.0h0M241.4 107.7h0M250.3 94.4h0M235.5 112.6h0M235.1 107.9h0M236.4 112.7h0M258.8 100.9h0M239.2 112.6h0M233.9 98.7h0M244.8 105.2h0M235.6 116.0h0M241.2 105.4h0M241.9 108.2h0M248.6 107.9h0M232.3 104.1h0M226.4 114.3h0M227.9 120.0h0M235.0 99.4h0M262.2 93.9h0M240.7 107.8h0M226.3 103.0h0M261.5 116.3h0M223.0 120.6h0M243.9 114.2h0M236.6 116.2h0M255.9 107.6h0M261.7 99.8h0M261.8 96.1h0M240.2 104.1h0M244.5 115.2h0M252.2 105.5h0M262.1 90.5h0M241.5 94.7h0M243.9 99.9h0M265.3 107.6h0M237.5 119.9h0M232.7 119.2h0M249.7 105.0h0M221.5 115.3h0M222.6 99.8h0M251.0 107.9h0M252.9 105.1h0M225.8 94.8h0M251.0 112.1h0M230.3 103.8h0M237.3 99.2h0M244.0 113.6h0M263.6 102.1h0M246.6 112.4h0M260.7 99.2h0M223.0 111.1h0M222.3 110.7h0M241.2 111.7h0M244.3 108.5h0M238.1 113.6h0M256.2 108.6h0M262.1 98.8h0M242.6 120.6h0M245.8 110.4h0M239.7 116.7h0M233.9 105.2h0M240.1 106.7h0M252.7 102.0h0M243.2 107.0h0M245.2 103.3h0M253.9 94.2h0M234.9 106.9h0M251.1 105.6h0M247.9 104.3h0M229.3 106.3h0M236.0 107.7h0M246.8 109.6h0M255.3 102.9h0M229.0 106.8h0M243.7 110.8h0M269.5 99.1h0M271.0 110.4h0M230.4 122.2h0M261.1 110.7h0M244.2 114.8h0M235.1 111.3h0M246.6 119.6h0M241.3 116.0h0M241.2 104.4h0M247.0 111.6h0M233.6 116.8h0M230.0 107.7h0M244.5 106.3h0M224.4 104.7h0M242.9 110.3h0M236.1 112.7h0M221.7 119.9h0M248.5 108.3h0M233.7 112.9h0M246.4 114.7h0M246.5 109.0h0M234.0 118.3h0M257.1 99.4h0M251.6 107.3h0M238.2 101.5h0M245.3 105.0h0M256.9 100.0h0M244.0 112.5h0M247.1 103.3h0M252.4 107.5h0M254.5 100.4h0M240.4 106.9h0M231.0 115.2h0M251.1 115.2h0M238.4 113.2h0M257.6 101.9h0M243.2 109.5h0M230.0 106.9h0M257.9 103.8h0M237.9 102.0h0M246.5 115.4h0M223.9 110.1h0M260.8 111.4h0M262.2 97.0h0M248.5 101.1h0M248.3 103.9h0M248.0 116.0h0M246.1 105.7h0M243.4 110.3h0M235.4 113.1h0M254.1 115.0h0M227.0 121.2h0M276.2 96.5h0M246.4 115.1h0M233.8 108.9h0M245.3 103.6h0M257.4 102.8h0M253.4 122.1h0M238.0 117.0h0M233.6 121.1h0M255.7 104.5h0M259.6 113.1h0M261.0 101.3h0M243.9 115.9h0M220.2 113.6h0M250.1 109.7h0M271.9 109.1h0M247.5 109.8h0M223.4 115.2h0M245.1 106.2h0M244.3 112.3h0M227.5 110.9h0M223.4 104.7h0M252.1 103.4h0M254.4 101.4h0M273.0 101.4h0M244.4 108.9h0M241.1 115.0h0M268.5 95.4h0M228.5 118.6h0M253.1 94.2h0M230.1 106.9h0M250.9 108.9h0M229.2 106.4h0M246.4 93.0h0M250.5 104.5h0M270.8 104.3h0M233.4 110.6h0M236.4 106.2h0M245.4 114.3h0M220.8 116.0h0M264.3 105.1h0M228.9 108.7h0M226.4 104.2h0M257.9 103.0h0M229.0 104.3h0M235.5 108.1h0M264.5 96.7h0M246.2 114.7h0M250.7 104.2h0M249.1 103.1h0M238.5 103.8h0M226.2 105.2h0M250.1 109.3h0M246.3 112.7h0M249.6 106.8h0M231.3 117.4h0M259.7 106.2h0M257.9 99.3h0M231.6 121.8h0M234.6 113.7h0M239.4 110.2h0M237.0 107.3h0M240.2 96.5h0M226.9 107.3h0M225.8 98.0h0M253.8 115.5h0M240.4 114.8h0M247.2 98.3h0M254.6 92.3h0M233.3 110.0h0M259.4 102.8h0M238.4 104.9h0M243.3 108.8h0M255.3 113.2h0M252.1 105.0h0M243.7 119.3h0M244.7 107.8h0M270.2 108.4h0M249.5 105.2h0M235.9 118.8h0M238.1 117.2h0M231.6 113.9h0M247.8 107.6h0M246.1 110.0h0M224.1 108.6h0M244.3 120.4h0M238.1 104.2h0M233.1 112.8h0M256.7 99.2h0M250.1 107.0h0M234.9 105.4h0M238.2 105.6h0M245.1 95.7h0M259.1 107.3h0M253.4 114.6h0M246.1 95.6h0M243.8 111.4h0M230.0 106.1h0M249.1 109.6h0M235.7 109.9h0M233.8 108.4h0M243.8 115.6h0M219.3 115.8h0M264.7 102.0h0M246.1 113.1h0M225.5 107.4h0M247.4 112.6h0M234.7 107.3h0M248.9 110.4h0M241.0 96.4h0M228.6 97.1h0M243.3 102.7h0M236.7 121.4h0M261.1 104.6h0M246.1 108.5h0M233.9 111.9h0M265.8 93.4h0M233.4 113.6h0M256.1 109.0h0M228.6 113.5h0M235.5 103.2h0M241.9 105.8h0M255.5 106.5h0M231.6 113.7h0M235.7 107.2h0M237.9 117.9h0M232.3 101.2h0M233.4 118.0h0M268.6 91.1h0M236.4 109.0h0M223.9 119.0h0M242.0 110.9h0M271.7 95.2h0M254.7 109.6h0M232.0 109.0h0M264.8 104.7h0M241.4 101.8h0M255.2 107.3h0M275.2 105.6h0M253.5 106.2h0M241.5 105.4h0M246.8 108.7h0M253.4 111.8h0M244.9 104.1h0M256.6 113.7h0M231.7 116.0h0M250.7 109.1h0M248.6 105.7h0M244.6 119.4h0M262.1 91.3h0M231.7 109.7h0M221.3 119.8h0M240.0 106.1h0M259.9 118.3h0M264.7 107.8h0M238.0 115.1h0M244.2 116.0h0M249.8 105.6h0M247.8 101.8h0M256.3 113.5h0M238.4 114.2h0M251.4 98.2h0M265.8 100.1h0M253.2 102.6h0M253.2 93.9h0M243.0 115.3h0M234.5 116.7h0M238.0 113.0h0M251.6 120.3h0M227.1 120.3h0M257.1 95.3h0M248.6 122.1h0M234.8 100.3h0M244.4 103.1h0M232.4 107.2h0M244.9 104.7h0M229.2 112.6h0M245.5 101.8h0M253.1 93.2h0M246.6 104.5h0M261.7 96.6h0M229.9 104.8h0M270.3 101.8h0M226.6 113.0h0M242.8 94.8h0M247.0 113.2h0M243.1 111.8h0M241.0 110.8h0M243.2 103.7h0M247.1 108.1h0M239.9 105.2h0M228.9 116.0h0M247.4 90.3h0M238.0 119.8h0M252.7 99.8h0M257.9 95.8h0M235.6 110.1h0M225.8 114.6h0M235.8 107.4h0M235.2 116.8h0M261.8 98.2h0M267.6 109.6h0M260.9 103.4h0M223.5 121.1h0M236.9 112.4h0M215.8 117.6h0M242.9 102.2h0M249.9 117.2h0M243.5 103.7h0M230.5 116.4h0M228.6 98.8h0M247.5 112.5h0M234.7 121.9h0M251.6 113.3h0M221.3 117.3h0M268.4 112.1h0M259.8 101.8h0M243.0 104.3h0M255.2 98.9h0M238.8 96.2h0M243.3 109.9h0M234.3 110.7h0M221.7 107.9h0M226.8 119.5h0M243.3 114.1h0M228.8 118.4h0M236.2 111.9h0M254.8 104.1h0M233.3 101.1h0M244.7 113.3h0M233.3 112.1h0M250.6 114.4h0M233.8 100.9h0M233.1 101.9h0M242.9 121.9h0M245.7 106.5h0M255.2 101.1h0M247.0 108.4h0M244.6 97.9h0M253.8 110.3h0M243.9 112.9h0M251.7 111.2h0M231.9 109.1h0M248.6 110.5h0M250.7 107.8h0M238.0 118.2h0M251.0 112.7h0M233.2 113.4h0M234.7 109.8h0M245.5 110.0h0M225.0 98.4h0M232.6 116.5h0M231.5 116.2h0M234.7 105.4h0M262.0 112.4h0M240.5 109.3h0M252.0 95.8h0M232.8 120.6h0M253.2 101.1h0M232.2 115.4h0M221.5 113.8h0M232.9 95.6h0M252.0 110.3h0M253.2 94.5h0M222.4 111.3h0M227.8 112.6h0M245.9 110.6h0M259.3 94.4h0M254.5 105.0h0M226.2 116.4h0M234.4 119.1h0M258.4 98.1h0M229.9 114.8h0M229.7 120.2h0M242.6 103.5h0M234.3 117.2h0M230.7 112.2h0M256.5 112.2h0M251.2 105.9h0M267.0 103.5h0M249.4 110.0h0M252.9 106.6h0M235.8 100.4h0M271.7 105.5h0M234.3 114.0h0M236.8 97.2h0M238.1 112.6h0M255.3 95.2h0M246.8 107.6h0M244.4 109.1h0M233.6 102.8h0M249.2 108.8h0M253.0 113.3h0M230.3 116.5h0M243.6 113.5h0M238.2 106.4h0M246.7 110.8h0M259.0 105.2h0M239.9 108.2h0M220.7 122.2h0M227.2 111.5h0M253.6 97.9h0M236.8 117.1h0M266.1 94.4h0M255.8 98.9h0M248.6 109.7h0M228.7 121.6h0M267.1 99.2h0M242.9 100.4h0M267.0 99.3h0M226.1 120.8h0M220.0 113.1h0M271.2 92.8h0M231.5 109.2h0M235.5 115.5h0M259.8 94.7h0M243.7 95.7h0M263.0 99.9h0M236.0 122.2h0M243.9 117.9h0M261.0 112.9h0M231.0 113.8h0M246.7 105.8h0M261.4 96.1h0M259.3 111.6h0M228.1 110.8h0M247.0 105.8h0M242.0 105.8h0M242.0 112.4h0M250.5 100.1h0M278.3 118.0h0M309.4 95.5h0M317.3 101.5h0M313.6 98.6h0M270.8 117.7h0M312.1 104.7h0M312.6 113.0h0M284.2 113.8h0M313.2 85.0h0M310.8 94.0h0M290.5 119.2h0M277.8 119.3h0M289.2 115.5h0M277.7 104.3h0M316.1 88.6h0M307.7 107.1h0M313.4 121.2h0M311.9 103.6h0M313.7 89.6h0M315.9 95.6h0M259.2 114.1h0M277.9 106.8h0M286.7 103.0h0M269.9 110.9h0M286.7 118.2h0M275.4 117.6h0M297.2 96.8h0M271.8 107.2h0M280.2 107.9h0M289.2 121.1h0M297.2 99.6h0M273.4 118.6h0M298.2 108.3h0M298.8 94.0h0M272.4 120.5h0M300.7 115.6h0M264.8 115.9h0M312.3 112.2h0M292.1 120.2h0M303.5 108.6h0M269.7 112.1h0M297.6 105.6h0M285.7 109.0h0M272.7 118.1h0M275.9 115.0h0M278.4 111.1h0M267.6 115.2h0M295.6 104.2h0M317.1 88.5h0M303.9 98.8h0M304.0 114.6h0M271.4 110.7h0M299.2 100.5h0M309.3 87.1h0M260.3 119.6h0M275.7 114.8h0M281.3 119.6h0M304.8 97.9h0M268.8 119.8h0M274.4 107.5h0M293.9 111.9h0M307.3 102.7h0M257.1 118.6h0M311.1 97.1h0M298.4 101.2h0M267.8 117.1h0M272.6 118.0h0M305.1 90.2h0M260.8 118.2h0M299.1 98.2h0M315.3 90.2h0M307.4 88.8h0M268.7 119.5h0M302.5 110.4h0M276.9 109.9h0M264.7 118.0h0M300.5 93.4h0M305.3 89.0h0M239.0 81.0h0M250.0 83.0h0M265.0 80.0h0M277.0 86.0h0M284.0 88.0h0M290.0 78.0h0M301.0 79.0h0M307.0 74.0h0M314.0 79.0h0M318.0 92.0h0M311.0 91.0h0M296.0 84.0h0M287.0 100.0h0M305.0 105.0h0M315.0 110.0h0M303.0 94.0h0M309.0 100.0h0M316.0 103.0h0M298.0 108.0h0M312.0 116.0h0M306.0 115.0h0M293.0 92.0h0M274.0 91.0h0M257.0 89.0h0M229.0 94.0h0" stroke="#5a6ea6" stroke-width="2.60" stroke-linecap="round"/>
<line x1="194.50" y1="122.60" x2="320.00" y2="92.30" stroke="#b82350" stroke-width="1.6" stroke-dasharray="2,1.6"/>
<line x1="5.70" y1="145.20" x2="5.70" y2="104.00" stroke="#231f20" stroke-width="1.1"/>
<path d="M5.7 97.5 L2.6 105 L8.8 105 Z" fill="#231f20"/>
<line x1="5.20" y1="145.20" x2="51.00" y2="145.20" stroke="#231f20" stroke-width="1.1"/>
<path d="M57.5 145.2 L50 142.1 L50 148.3 Z" fill="#231f20"/>
<text x="5.20" y="77.73" font-size="9.3" text-anchor="middle" textLength="39.00" lengthAdjust="spacingAndGlyphs" transform="rotate(-90 5.20 74.40)">CD11b area</text>
<text x="61.30" y="148.53" font-size="9.3" textLength="34.50" lengthAdjust="spacingAndGlyphs">CD71 area</text>
<text x="330.80" y="10.17" font-size="10.8" font-weight="bold" textLength="7.60" lengthAdjust="spacingAndGlyphs">C</text>
<line x1="353.30" y1="26.50" x2="353.30" y2="123.80" stroke="#231f20" stroke-width="1.1"/>
<line x1="352.80" y1="123.30" x2="422.00" y2="123.30" stroke="#231f20" stroke-width="1.1"/>
<line x1="350.10" y1="123.30" x2="353.30" y2="123.30" stroke="#231f20" stroke-width="1"/>
<text x="348.30" y="126.24" font-size="8.2" text-anchor="end">0</text>
<line x1="350.10" y1="92.20" x2="353.30" y2="92.20" stroke="#231f20" stroke-width="1"/>
<text x="348.30" y="95.14" font-size="8.2" text-anchor="end">2</text>
<line x1="350.10" y1="61.10" x2="353.30" y2="61.10" stroke="#231f20" stroke-width="1"/>
<text x="348.30" y="64.04" font-size="8.2" text-anchor="end">4</text>
<line x1="350.10" y1="30.00" x2="353.30" y2="30.00" stroke="#231f20" stroke-width="1"/>
<text x="348.30" y="32.94" font-size="8.2" text-anchor="end">6</text>
<rect x="362.20" y="107.75" width="21.80" height="15.55" fill="#7e90c0"/>
<rect x="395.40" y="64.99" width="21.20" height="58.31" fill="#e47e72"/>
<line x1="373.10" y1="123.30" x2="373.10" y2="126.30" stroke="#231f20" stroke-width="1"/>
<line x1="405.90" y1="123.30" x2="405.90" y2="126.30" stroke="#231f20" stroke-width="1"/>
<text x="373.10" y="136.14" font-size="8.2" text-anchor="middle" textLength="22.50" lengthAdjust="spacingAndGlyphs">Saline</text>
<text x="405.30" y="136.14" font-size="8.2" text-anchor="middle" textLength="14.00" lengthAdjust="spacingAndGlyphs">Epo</text>
<line x1="405.30" y1="48.60" x2="405.30" y2="81.80" stroke="#231f20" stroke-width="1.1"/>
<line x1="400.60" y1="48.60" x2="410.00" y2="48.60" stroke="#231f20" stroke-width="1.1"/>
<line x1="400.60" y1="81.80" x2="410.00" y2="81.80" stroke="#231f20" stroke-width="1.1"/>
<path d="M364.3 107.6h0M370.2 107.6h0M376.2 107.6h0M382.1 107.6h0" stroke="#263c78" stroke-width="3.00" stroke-linecap="round"/>
<path d="M405.3 51.7h0M402.2 57.6h0M409.1 60.0h0M405.3 89.6h0" stroke="#c4102e" stroke-width="3.00" stroke-linecap="round"/>
<line x1="374.00" y1="36.80" x2="404.80" y2="36.80" stroke="#555" stroke-width="1.1"/>
<text x="389.40" y="37.24" font-size="8.5" text-anchor="middle">**</text>
<text x="334.60" y="78.04" font-size="8.5" text-anchor="middle" textLength="75.00" lengthAdjust="spacingAndGlyphs" transform="rotate(-90 334.60 75.00)">EBI count fold change</text>
<text x="430.00" y="10.17" font-size="10.8" font-weight="bold" textLength="8.40" lengthAdjust="spacingAndGlyphs">D</text>
<line x1="460.30" y1="26.50" x2="460.30" y2="123.80" stroke="#231f20" stroke-width="1.1"/>
<line x1="459.80" y1="123.30" x2="518.50" y2="123.30" stroke="#231f20" stroke-width="1.1"/>
<line x1="457.10" y1="123.30" x2="460.30" y2="123.30" stroke="#231f20" stroke-width="1"/>
<text x="455.30" y="126.24" font-size="8.2" text-anchor="end">0.0</text>
<line x1="457.10" y1="99.97" x2="460.30" y2="99.97" stroke="#231f20" stroke-width="1"/>
<text x="455.30" y="102.91" font-size="8.2" text-anchor="end">0.5</text>
<line x1="457.10" y1="76.65" x2="460.30" y2="76.65" stroke="#231f20" stroke-width="1"/>
<text x="455.30" y="79.59" font-size="8.2" text-anchor="end">1.0</text>
<line x1="457.10" y1="53.33" x2="460.30" y2="53.33" stroke="#231f20" stroke-width="1"/>
<text x="455.30" y="56.26" font-size="8.2" text-anchor="end">1.5</text>
<line x1="457.10" y1="30.00" x2="460.30" y2="30.00" stroke="#231f20" stroke-width="1"/>
<text x="455.30" y="32.94" font-size="8.2" text-anchor="end">2.0</text>
<line x1="477.60" y1="123.30" x2="477.60" y2="126.30" stroke="#231f20" stroke-width="1"/>
<line x1="503.20" y1="123.30" x2="503.20" y2="126.30" stroke="#231f20" stroke-width="1"/>
<text x="477.30" y="136.64" font-size="8.2" text-anchor="middle" textLength="22.50" lengthAdjust="spacingAndGlyphs">Saline</text>
<text x="503.40" y="136.64" font-size="8.2" text-anchor="middle" textLength="14.00" lengthAdjust="spacingAndGlyphs">Epo</text>
<text x="434.70" y="79.04" font-size="8.5" text-anchor="middle" textLength="78.00" lengthAdjust="spacingAndGlyphs" transform="rotate(-90 434.70 76.00)">CD11b: CD71 area ratio</text>
<line x1="475.70" y1="42.00" x2="503.00" y2="42.00" stroke="#555" stroke-width="1.1"/>
<text x="489.40" y="42.84" font-size="8.5" text-anchor="middle">****</text>
<path d="M477.40 64.50 L476.90 64.50 L476.20 66.00 L475.60 70.00 L475.20 74.00 L474.60 78.00 L474.00 82.00 L473.20 85.00 L472.20 88.00 L471.60 92.00 L470.90 96.00 L470.00 100.00 L469.70 104.00 L470.90 108.00 L471.70 111.00 L472.90 114.00 L474.10 117.00 L475.40 119.50 L476.60 121.00 L478.20 121.00 L479.40 119.50 L480.70 117.00 L481.90 114.00 L483.10 111.00 L483.90 108.00 L485.10 104.00 L484.80 100.00 L483.90 96.00 L483.20 92.00 L482.60 88.00 L481.60 85.00 L480.80 82.00 L480.20 78.00 L479.60 74.00 L479.20 70.00 L478.60 66.00 L477.90 64.50 Z" fill="#5670ad" stroke="#5670ad" stroke-width="0.6" stroke-linejoin="round"/>
<path d="M477.4 50.3h0M477.4 59.8h0M477.4 61.8h0M477.4 64.0h0" stroke="#5670ad" stroke-width="2.90" stroke-linecap="round"/>
<path d="M503.20 85.50 L502.80 85.50 L502.20 87.00 L501.40 90.00 L500.40 93.00 L499.10 96.00 L497.90 99.00 L497.00 101.00 L496.10 104.00 L495.50 106.50 L495.10 109.00 L495.00 111.50 L495.10 114.00 L495.50 116.50 L496.70 119.00 L498.60 121.00 L500.70 122.70 L502.70 123.50 L503.70 123.50 L505.70 122.70 L507.80 121.00 L509.70 119.00 L510.90 116.50 L511.30 114.00 L511.40 111.50 L511.30 109.00 L510.90 106.50 L510.30 104.00 L509.40 101.00 L508.50 99.00 L507.30 96.00 L506.00 93.00 L505.00 90.00 L504.20 87.00 L503.60 85.50 Z" fill="#e06055" stroke="#e06055" stroke-width="0.6" stroke-linejoin="round"/>
<path d="M503.2 69.8h0M503.2 74.9h0M503.2 79.5h0M503.2 84.7h0" stroke="#d8504c" stroke-width="2.90" stroke-linecap="round"/>
<line x1="467.00" y1="97.60" x2="486.80" y2="97.60" stroke="#8c1c40" stroke-width="1.3" stroke-dasharray="2.2,1.6"/>
<line x1="493.00" y1="108.40" x2="512.30" y2="108.40" stroke="#a8102a" stroke-width="1.4" stroke-dasharray="2.2,1.6"/>
<text x="49.80" y="438.07" font-size="10.8" font-weight="bold" textLength="8.60" lengthAdjust="spacingAndGlyphs">G</text>
<line x1="78.80" y1="447.50" x2="78.80" y2="573.80" stroke="#231f20" stroke-width="1.1"/>
<line x1="78.30" y1="573.30" x2="472.00" y2="573.30" stroke="#231f20" stroke-width="1.1"/>
<line x1="75.80" y1="573.46" x2="78.80" y2="573.46" stroke="#231f20" stroke-width="1"/>
<text x="73.60" y="576.40" font-size="8.2" text-anchor="end">−3</text>
<line x1="75.80" y1="558.34" x2="78.80" y2="558.34" stroke="#231f20" stroke-width="1"/>
<text x="73.60" y="561.28" font-size="8.2" text-anchor="end">−2</text>
<line x1="75.80" y1="543.22" x2="78.80" y2="543.22" stroke="#231f20" stroke-width="1"/>
<text x="73.60" y="546.16" font-size="8.2" text-anchor="end">−1</text>
<line x1="75.80" y1="528.10" x2="78.80" y2="528.10" stroke="#231f20" stroke-width="1"/>
<text x="73.60" y="531.04" font-size="8.2" text-anchor="end">0</text>
<line x1="75.80" y1="512.98" x2="78.80" y2="512.98" stroke="#231f20" stroke-width="1"/>
<text x="73.60" y="515.92" font-size="8.2" text-anchor="end">1</text>
<line x1="75.80" y1="497.86" x2="78.80" y2="497.86" stroke="#231f20" stroke-width="1"/>
<text x="73.60" y="500.80" font-size="8.2" text-anchor="end">2</text>
<line x1="75.80" y1="482.74" x2="78.80" y2="482.74" stroke="#231f20" stroke-width="1"/>
<text x="73.60" y="485.68" font-size="8.2" text-anchor="end">3</text>
<line x1="75.80" y1="467.62" x2="78.80" y2="467.62" stroke="#231f20" stroke-width="1"/>
<text x="73.60" y="470.56" font-size="8.2" text-anchor="end">4</text>
<line x1="75.80" y1="452.50" x2="78.80" y2="452.50" stroke="#231f20" stroke-width="1"/>
<text x="73.60" y="455.44" font-size="8.2" text-anchor="end">5</text>
<rect x="86.50" y="452.50" width="13.40" height="75.60" fill="#3aa63a"/>
<line x1="88.20" y1="573.30" x2="88.20" y2="576.00" stroke="#231f20" stroke-width="1"/>
<text x="89.60" y="583.20" font-size="8" text-anchor="end" transform="rotate(-45 89.60 583.20)">Mac_c9</text>
<rect x="107.85" y="508.44" width="13.40" height="19.66" fill="#3aa63a"/>
<line x1="109.85" y1="573.30" x2="109.85" y2="576.00" stroke="#231f20" stroke-width="1"/>
<text x="111.25" y="583.20" font-size="8" text-anchor="end" transform="rotate(-45 111.25 583.20)">Mono_c15</text>
<rect x="129.20" y="511.62" width="13.40" height="16.48" fill="#3aa63a"/>
<line x1="131.50" y1="573.30" x2="131.50" y2="576.00" stroke="#231f20" stroke-width="1"/>
<text x="132.90" y="583.20" font-size="8" text-anchor="end" transform="rotate(-45 132.90 583.20)">Mono_c23</text>
<rect x="150.55" y="504.06" width="13.40" height="24.04" fill="#3aa63a"/>
<line x1="153.15" y1="573.30" x2="153.15" y2="576.00" stroke="#231f20" stroke-width="1"/>
<text x="154.55" y="583.20" font-size="8" text-anchor="end" transform="rotate(-45 154.55 583.20)">Mono_c13</text>
<rect x="171.90" y="506.33" width="13.40" height="21.77" fill="#3aa63a"/>
<line x1="174.80" y1="573.30" x2="174.80" y2="576.00" stroke="#231f20" stroke-width="1"/>
<text x="176.20" y="583.20" font-size="8" text-anchor="end" transform="rotate(-45 176.20 583.20)">Mono_c19</text>
<rect x="193.25" y="501.34" width="13.40" height="26.76" fill="#3aa63a"/>
<line x1="196.45" y1="573.30" x2="196.45" y2="576.00" stroke="#231f20" stroke-width="1"/>
<text x="197.85" y="583.20" font-size="8" text-anchor="end" transform="rotate(-45 197.85 583.20)">DC_c11</text>
<rect x="214.60" y="486.22" width="13.40" height="41.88" fill="#cf0a2c"/>
<line x1="218.10" y1="573.30" x2="218.10" y2="576.00" stroke="#231f20" stroke-width="1"/>
<text x="219.50" y="583.20" font-size="8" text-anchor="end" transform="rotate(-45 219.50 583.20)">ERP2_c20</text>
<rect x="235.95" y="487.43" width="13.40" height="40.67" fill="#cf0a2c"/>
<line x1="239.75" y1="573.30" x2="239.75" y2="576.00" stroke="#231f20" stroke-width="1"/>
<text x="241.15" y="583.20" font-size="8" text-anchor="end" transform="rotate(-45 241.15 583.20)">ERP1_c4</text>
<rect x="257.30" y="506.02" width="13.40" height="22.08" fill="#5d1f6e"/>
<line x1="261.40" y1="573.30" x2="261.40" y2="576.00" stroke="#231f20" stroke-width="1"/>
<text x="262.80" y="583.20" font-size="8" text-anchor="end" transform="rotate(-45 262.80 583.20)">HSCP-MPP_c27</text>
<rect x="278.65" y="502.85" width="13.40" height="25.25" fill="#5d1f6e"/>
<line x1="283.05" y1="573.30" x2="283.05" y2="576.00" stroke="#231f20" stroke-width="1"/>
<text x="284.45" y="583.20" font-size="8" text-anchor="end" transform="rotate(-45 284.45 583.20)">Meg_c35</text>
<rect x="300.00" y="502.85" width="13.40" height="25.25" fill="#5d1f6e"/>
<line x1="304.70" y1="573.30" x2="304.70" y2="576.00" stroke="#231f20" stroke-width="1"/>
<text x="306.10" y="583.20" font-size="8" text-anchor="end" transform="rotate(-45 306.10 583.20)">GM-precursor_c17</text>
<rect x="321.35" y="509.35" width="13.40" height="18.75" fill="#5d1f6e"/>
<line x1="326.35" y1="573.30" x2="326.35" y2="576.00" stroke="#231f20" stroke-width="1"/>
<text x="327.75" y="583.20" font-size="8" text-anchor="end" transform="rotate(-45 327.75 583.20)">Baso_c6</text>
<rect x="342.70" y="504.36" width="13.40" height="23.74" fill="#5d1f6e"/>
<line x1="348.00" y1="573.30" x2="348.00" y2="576.00" stroke="#231f20" stroke-width="1"/>
<text x="349.40" y="583.20" font-size="8" text-anchor="end" transform="rotate(-45 349.40 583.20)">Mast_c30</text>
<rect x="364.05" y="528.10" width="13.40" height="14.82" fill="#0f4c8a"/>
<line x1="369.65" y1="573.30" x2="369.65" y2="576.00" stroke="#231f20" stroke-width="1"/>
<text x="371.05" y="583.20" font-size="8" text-anchor="end" transform="rotate(-45 371.05 583.20)">proNeu-1_c18</text>
<rect x="385.40" y="528.10" width="13.40" height="15.27" fill="#0f4c8a"/>
<line x1="391.30" y1="573.30" x2="391.30" y2="576.00" stroke="#231f20" stroke-width="1"/>
<text x="392.70" y="583.20" font-size="8" text-anchor="end" transform="rotate(-45 392.70 583.20)">proNeu-2_c22</text>
<rect x="406.75" y="528.10" width="13.40" height="20.87" fill="#0f4c8a"/>
<line x1="412.95" y1="573.30" x2="412.95" y2="576.00" stroke="#231f20" stroke-width="1"/>
<text x="414.35" y="583.20" font-size="8" text-anchor="end" transform="rotate(-45 414.35 583.20)">preNeu-2_c33</text>
<rect x="428.10" y="528.10" width="13.40" height="28.73" fill="#0f4c8a"/>
<line x1="434.60" y1="573.30" x2="434.60" y2="576.00" stroke="#231f20" stroke-width="1"/>
<text x="436.00" y="583.20" font-size="8" text-anchor="end" transform="rotate(-45 436.00 583.20)">preNeu-3_c39</text>
<rect x="449.45" y="528.10" width="13.40" height="41.58" fill="#0f4c8a"/>
<line x1="456.25" y1="573.30" x2="456.25" y2="576.00" stroke="#231f20" stroke-width="1"/>
<text x="457.65" y="583.20" font-size="8" text-anchor="end" transform="rotate(-45 457.65 583.20)">immNeu_c12</text>
<line x1="78.80" y1="528.10" x2="472.00" y2="528.10" stroke="#231f20" stroke-width="1.3"/>
<line x1="78.80" y1="512.98" x2="472.00" y2="512.98" stroke="#333" stroke-width="1.1" stroke-dasharray="3,2.6"/>
<line x1="78.80" y1="543.22" x2="472.00" y2="543.22" stroke="#333" stroke-width="1.1" stroke-dasharray="3,2.6"/>
<text x="54.30" y="513.44" font-size="8.2" text-anchor="middle" textLength="81.00" lengthAdjust="spacingAndGlyphs" transform="rotate(-90 54.30 510.50)">Fold change Epo: saline</text>
<circle cx="461.3" cy="178.70" r="1.7" fill="#6b9a50"/>
<text x="465.30" y="181.03" font-size="6.5" fill="#333">Stromal_c28</text>
<circle cx="461.3" cy="187.69" r="1.7" fill="#e0b070"/>
<text x="465.30" y="190.02" font-size="6.5" fill="#333">Mac_c9</text>
<circle cx="461.3" cy="196.68" r="1.7" fill="#b8cce0"/>
<text x="465.30" y="199.01" font-size="6.5" fill="#333">Baso_c6</text>
<circle cx="461.3" cy="205.67" r="1.7" fill="#7a3a2a"/>
<text x="465.30" y="208.00" font-size="6.5" fill="#333">Mast_c30</text>
<circle cx="461.3" cy="214.66" r="1.7" fill="#d03040"/>
<text x="465.30" y="216.99" font-size="6.5" fill="#333">B cell_c21</text>
<circle cx="461.3" cy="223.65" r="1.7" fill="#a01020"/>
<text x="465.30" y="225.98" font-size="6.5" fill="#333">Naive B cell_c36</text>
<circle cx="461.3" cy="232.64" r="1.7" fill="#3070a0"/>
<text x="465.30" y="234.97" font-size="6.5" fill="#333">Pro-B_c26</text>
<circle cx="461.3" cy="241.63" r="1.7" fill="#e89060"/>
<text x="465.30" y="243.96" font-size="6.5" fill="#333">Pre-B cell_c25</text>
<circle cx="461.3" cy="250.62" r="1.7" fill="#c0a0d8"/>
<text x="465.30" y="252.95" font-size="6.5" fill="#333">ERP1_c20</text>
<circle cx="461.3" cy="259.61" r="1.7" fill="#b8c890"/>
<text x="465.30" y="261.94" font-size="6.5" fill="#333">ERP2_c4</text>
<circle cx="461.3" cy="268.60" r="1.7" fill="#4a3080"/>
<text x="465.30" y="270.93" font-size="6.5" fill="#333">Meg_c35</text>
<circle cx="461.3" cy="277.59" r="1.7" fill="#c85858"/>
<text x="465.30" y="279.92" font-size="6.5" fill="#333">Mono_c15</text>
<circle cx="461.3" cy="286.58" r="1.7" fill="#80a8d0"/>
<text x="465.30" y="288.91" font-size="6.5" fill="#333">Mono_c23</text>
<circle cx="461.3" cy="295.57" r="1.7" fill="#c8a8b0"/>
<text x="465.30" y="297.90" font-size="6.5" fill="#333">Mono_c13</text>
<circle cx="461.3" cy="304.56" r="1.7" fill="#3a8a3a"/>
<text x="465.30" y="306.89" font-size="6.5" fill="#333">DC_c11</text>
<circle cx="461.3" cy="313.55" r="1.7" fill="#b89870"/>
<text x="465.30" y="315.88" font-size="6.5" fill="#333">Treg_c24</text>
<circle cx="461.3" cy="322.54" r="1.7" fill="#306888"/>
<text x="465.30" y="324.87" font-size="6.5" fill="#333">T cell_c37</text>
<circle cx="461.3" cy="331.53" r="1.7" fill="#806880"/>
<text x="465.30" y="333.86" font-size="6.5" fill="#333">NK cell_c10</text>
<circle cx="461.3" cy="340.52" r="1.7" fill="#a090a8"/>
<text x="465.30" y="342.85" font-size="6.5" fill="#333">B cell_c16</text>
<circle cx="461.3" cy="349.51" r="1.7" fill="#d89060"/>
<text x="465.30" y="351.84" font-size="6.5" fill="#333">HSCP-MPP_c27</text>
<circle cx="461.3" cy="358.50" r="1.7" fill="#e0909a"/>
<text x="465.30" y="360.83" font-size="6.5" fill="#333">GM-precursor_c17</text>
<circle cx="461.3" cy="367.49" r="1.7" fill="#c87838"/>
<text x="465.30" y="369.82" font-size="6.5" fill="#333">pDC_c7</text>
<circle cx="461.3" cy="376.48" r="1.7" fill="#c8d8a0"/>
<text x="465.30" y="378.81" font-size="6.5" fill="#333">Mono_c19</text>
<circle cx="461.3" cy="385.47" r="1.7" fill="#d8a040"/>
<text x="465.30" y="387.80" font-size="6.5" fill="#333">proNeu-1_c18</text>
<circle cx="461.3" cy="394.46" r="1.7" fill="#f0d888"/>
<text x="465.30" y="396.79" font-size="6.5" fill="#333">proNeu-2_c22</text>
<circle cx="461.3" cy="403.45" r="1.7" fill="#88a8a0"/>
<text x="465.30" y="405.78" font-size="6.5" fill="#333">preNeu-2_c33</text>
<circle cx="461.3" cy="412.44" r="1.7" fill="#4a7a40"/>
<text x="465.30" y="414.77" font-size="6.5" fill="#333">preNeu-3_c39</text>
<circle cx="461.3" cy="421.43" r="1.7" fill="#a89080"/>
<text x="465.30" y="423.76" font-size="6.5" fill="#333">immNeu_c12</text>
<path d="M79.0 291.0h0M80.5 286.3h0M83.5 287.9h0M85.3 292.9h0M81.6 293.2h0M76.7 291.7h0M70.0 289.1h0M78.2 286.5h0M72.4 293.7h0M75.8 286.5h0M71.7 290.8h0M71.8 289.8h0M78.8 289.4h0M78.1 293.4h0M83.4 290.7h0M78.8 287.2h0M83.6 288.1h0M82.5 287.3h0M79.5 291.5h0M75.4 289.8h0M69.3 291.4h0M81.8 286.5h0M79.0 292.3h0M73.0 285.8h0M73.1 285.9h0M77.8 287.5h0M74.0 289.6h0M75.4 292.9h0M82.5 286.1h0M74.6 286.1h0M81.9 292.8h0M76.2 294.3h0M75.8 288.1h0M78.2 289.4h0M76.7 292.7h0M84.6 289.8h0M71.6 289.1h0M85.8 289.1h0M81.2 290.6h0M77.2 290.7h0" stroke="#f08a3a" stroke-width="1.44" stroke-linecap="round"/>
<path d="M72.9 307.0h0M76.3 312.9h0M83.6 308.4h0M89.6 305.5h0M69.7 302.4h0M86.0 310.1h0M71.7 308.6h0M84.4 308.8h0M66.6 304.9h0M75.1 307.7h0M75.4 299.3h0M84.8 302.2h0M88.1 302.5h0M81.3 311.5h0M69.2 310.2h0M76.3 300.2h0M77.1 306.0h0M77.6 299.2h0M80.6 302.4h0M93.1 303.9h0M78.2 301.1h0M84.1 312.0h0M77.0 310.6h0M73.8 299.0h0M67.2 305.1h0M90.5 300.7h0M78.3 310.7h0M73.7 299.7h0M80.5 304.7h0M72.7 307.1h0M77.7 297.6h0M78.4 313.5h0M74.5 307.6h0M85.9 298.1h0M74.4 309.9h0M66.5 303.8h0M69.5 305.5h0M80.5 299.5h0M89.0 304.5h0M73.1 301.3h0M86.8 298.8h0M92.4 304.3h0M82.7 312.5h0M85.4 307.6h0M86.2 302.0h0M79.9 300.4h0M78.2 302.1h0M82.4 302.4h0M73.7 308.6h0M79.9 301.1h0M69.2 306.2h0M80.1 310.0h0M76.5 304.4h0M91.0 301.9h0M73.2 311.7h0M83.1 300.7h0M88.7 307.0h0M70.9 301.7h0M83.3 300.5h0M79.0 309.8h0M68.7 308.9h0M68.9 305.6h0M84.2 309.4h0M92.9 304.0h0M77.9 303.7h0M85.5 310.3h0M84.2 304.2h0M81.9 306.3h0M93.8 305.4h0M89.5 301.3h0" stroke="#e84050" stroke-width="1.44" stroke-linecap="round"/>
<path d="M89.3 330.6h0M93.4 312.7h0M90.6 321.0h0M76.4 316.7h0M91.0 335.7h0M92.3 328.8h0M72.1 308.2h0M84.0 310.5h0M77.1 306.1h0M71.6 330.7h0M73.7 335.9h0M76.9 336.0h0M76.1 312.7h0M78.8 302.5h0M80.1 317.2h0M70.0 330.4h0M84.5 322.2h0M74.4 313.5h0M96.1 316.9h0M91.3 329.8h0M83.5 334.5h0M71.6 323.6h0M75.0 318.0h0M72.7 330.3h0M84.2 333.2h0M85.8 326.0h0M84.0 315.0h0M94.8 316.8h0M70.1 315.3h0M88.2 339.3h0M86.4 328.5h0M80.4 320.5h0M89.8 314.7h0M70.3 326.8h0M91.3 311.9h0M87.5 337.7h0M81.8 315.4h0M80.4 333.7h0M86.0 308.9h0M69.3 320.1h0M67.5 321.2h0M79.4 340.2h0M79.4 336.0h0M90.4 325.5h0M74.1 314.2h0M81.7 317.8h0M86.4 322.2h0M76.7 326.3h0M79.7 335.5h0M92.1 325.4h0M84.4 302.5h0M78.5 312.5h0M85.6 304.6h0M83.3 317.0h0M81.8 318.2h0M70.1 331.3h0M91.0 325.9h0M70.5 326.0h0M93.4 328.6h0M75.3 338.8h0M74.4 325.1h0M78.4 313.8h0M89.8 326.7h0M77.0 323.7h0M94.9 324.7h0M94.4 324.6h0M80.8 324.1h0M85.7 321.1h0M86.0 323.3h0M88.1 339.9h0M86.4 334.0h0M74.1 317.2h0M73.8 330.2h0M82.9 326.2h0M76.8 325.5h0M82.5 317.4h0M77.4 334.1h0M72.2 324.3h0M81.8 339.5h0M71.9 335.6h0M78.9 323.9h0M76.9 308.2h0M71.0 314.1h0M88.0 325.2h0M70.7 334.1h0M82.2 307.7h0M91.6 334.8h0M91.3 311.2h0M90.0 332.9h0M86.0 335.3h0M76.4 329.3h0M87.5 336.0h0M84.0 313.0h0M74.5 323.7h0M93.7 311.7h0M87.9 328.9h0M70.7 333.1h0M90.0 314.3h0M69.9 313.3h0M90.1 320.7h0M91.5 308.4h0M70.2 316.0h0M69.2 332.1h0M69.7 328.7h0M69.5 311.9h0M86.9 336.9h0M79.3 320.0h0M67.9 315.6h0M74.3 333.5h0M88.4 333.4h0M83.0 330.0h0M70.8 317.4h0M75.8 313.3h0M89.2 310.6h0M76.8 313.3h0M92.9 327.5h0M81.4 317.2h0M80.5 324.7h0M92.9 312.3h0M74.8 306.1h0M82.1 332.7h0M71.7 319.3h0M96.7 321.2h0M78.5 335.6h0M93.8 317.0h0M70.7 327.5h0M89.2 338.9h0M86.8 314.3h0M82.4 313.5h0M80.4 320.7h0M99.3 302.6h0M99.2 305.2h0M97.4 301.6h0M96.5 308.1h0M79.5 308.3h0M73.7 307.0h0M82.9 301.6h0M73.1 307.8h0M92.3 296.4h0M79.5 301.6h0M86.8 309.2h0M100.0 305.1h0M79.2 296.7h0M68.5 303.3h0M87.0 302.2h0M101.4 301.6h0M78.6 301.7h0M87.3 303.7h0M81.3 299.0h0M77.4 302.9h0M82.1 310.7h0M86.3 298.3h0M78.4 307.5h0M98.0 298.8h0M94.1 302.1h0M85.4 303.5h0M90.0 306.0h0M79.7 309.7h0M95.5 299.8h0M68.4 303.9h0M89.6 298.6h0M67.6 302.8h0M88.5 299.5h0M82.0 298.7h0M72.7 297.9h0M95.4 302.3h0M91.8 300.6h0M95.0 304.5h0M89.5 301.3h0M86.2 298.1h0" stroke="#e01a1a" stroke-width="1.44" stroke-linecap="round"/>
<path d="M86.1 331.3h0M78.7 319.7h0M80.9 339.0h0M91.8 336.7h0M89.2 318.5h0M80.9 333.8h0M82.1 334.5h0M82.9 335.9h0M86.7 338.0h0M93.8 321.4h0M86.3 321.8h0M90.1 319.0h0M80.5 336.8h0M86.4 335.7h0M85.3 308.4h0M90.1 315.3h0M81.4 332.3h0M90.0 331.2h0M84.5 334.8h0M88.4 314.8h0M86.1 329.7h0M89.4 314.5h0M82.3 320.0h0M78.6 320.2h0M89.4 328.9h0M79.9 334.8h0M79.0 335.5h0M81.3 326.6h0M81.6 340.6h0M93.0 317.8h0M89.7 333.4h0M86.5 316.7h0M82.5 314.5h0M84.3 341.1h0M77.4 338.8h0M92.3 317.3h0M80.6 311.4h0M83.2 311.5h0M80.1 316.5h0M86.8 324.0h0M82.2 327.0h0M90.2 334.5h0M82.8 341.9h0M90.5 328.3h0M85.1 319.5h0M79.3 340.7h0M87.3 310.7h0M77.6 333.6h0M81.0 327.4h0M91.2 320.3h0M85.5 332.3h0M80.3 330.8h0M84.2 344.3h0M80.2 334.0h0M86.0 313.6h0M90.5 310.7h0M87.6 339.7h0M79.2 315.3h0M90.0 324.9h0M92.8 319.8h0M83.8 343.4h0M82.8 343.7h0M92.1 314.6h0M86.3 342.8h0M79.0 339.3h0M90.2 335.5h0M87.2 310.8h0M90.3 334.5h0M82.4 333.0h0M84.0 335.5h0M83.5 337.5h0M85.0 337.9h0M82.1 327.7h0M77.4 325.6h0M78.3 339.7h0M88.5 323.2h0M89.0 334.6h0M87.3 307.6h0M92.7 323.7h0M87.1 338.0h0M92.7 317.3h0M80.6 312.6h0M92.3 332.3h0M86.9 312.0h0M84.0 343.0h0M91.3 334.8h0M77.7 333.4h0M85.4 325.7h0M79.5 326.5h0M90.6 312.0h0M91.9 323.0h0M81.5 316.1h0M84.8 331.6h0M86.7 340.8h0M85.7 326.5h0M82.3 311.7h0M92.7 325.4h0M91.9 333.5h0M89.4 335.8h0M82.1 334.7h0M80.5 328.1h0M87.1 336.5h0M79.9 320.1h0M91.0 337.6h0M80.6 311.1h0M89.3 335.3h0M88.0 336.6h0M85.8 328.4h0M92.7 331.6h0M88.2 329.4h0M85.4 335.8h0M86.7 311.9h0M84.2 323.0h0M84.3 328.3h0M83.1 321.9h0M84.3 321.1h0M77.3 334.4h0M83.7 324.1h0M87.1 320.9h0M81.9 324.7h0M82.5 309.2h0M81.1 316.7h0M88.9 337.3h0M85.0 321.7h0M81.0 337.3h0M78.9 329.6h0M84.8 312.5h0M78.0 334.8h0M78.2 337.7h0M88.3 325.0h0M87.5 310.8h0M87.0 323.0h0M81.2 342.3h0M89.4 311.6h0M80.9 320.0h0M86.7 319.3h0M84.5 337.9h0M80.1 334.4h0M82.6 342.9h0M93.2 319.4h0M87.3 311.2h0M84.0 330.7h0M87.8 320.0h0M86.5 313.5h0M82.2 330.5h0M92.3 326.6h0M81.3 329.3h0M81.7 336.7h0M79.7 317.0h0M84.5 341.5h0M79.8 314.3h0M79.2 315.1h0M82.6 322.0h0M89.9 322.3h0M85.1 322.1h0M90.2 341.3h0M84.2 342.0h0M81.3 344.2h0M85.9 332.9h0M83.5 317.3h0M79.3 340.6h0M83.1 333.5h0M84.8 327.0h0M80.5 313.7h0M82.7 332.9h0M89.1 323.5h0M80.6 338.3h0M86.4 319.4h0M81.2 318.1h0M81.8 320.2h0M90.4 337.0h0M88.9 340.6h0M88.1 311.3h0M81.4 327.1h0M91.0 329.3h0M84.3 316.2h0M91.4 311.5h0M88.1 320.5h0M92.1 318.3h0M87.9 332.9h0M81.8 317.4h0M77.7 330.3h0M82.9 314.1h0M84.4 342.4h0M81.2 313.3h0M87.7 332.0h0M85.7 313.8h0M91.9 311.2h0M80.0 316.2h0M85.7 325.1h0M86.4 334.6h0M92.2 324.8h0M77.7 338.6h0M79.4 329.9h0M90.3 311.9h0M82.0 339.3h0M88.7 311.1h0M88.7 337.2h0M83.9 312.9h0M88.2 319.1h0M79.3 313.3h0M83.8 311.8h0M83.5 328.0h0M86.4 322.3h0M90.6 310.3h0M82.6 342.5h0M90.0 327.4h0M90.4 328.8h0M79.0 316.7h0M78.7 340.3h0M82.5 322.5h0M86.1 310.8h0M89.0 337.2h0M90.5 340.5h0M82.4 312.5h0M89.9 333.3h0M83.3 320.0h0M79.6 338.6h0M84.8 337.9h0M82.8 319.2h0M85.7 335.3h0M92.0 320.4h0M88.8 322.3h0M91.6 335.9h0M86.4 320.8h0M81.7 340.6h0M90.6 318.6h0M90.8 327.1h0M86.4 327.5h0M84.0 328.2h0M88.4 331.4h0M90.7 333.3h0M90.2 312.8h0M86.0 336.3h0M79.7 327.0h0M92.3 335.4h0M83.8 325.2h0M81.7 343.5h0M90.3 332.9h0M82.2 334.8h0M85.3 337.3h0M83.2 340.5h0M88.6 324.1h0M86.6 337.6h0M86.0 343.5h0M89.1 325.6h0M91.4 312.7h0M82.7 334.1h0M91.0 321.2h0M78.3 328.7h0M82.5 316.9h0M84.6 310.0h0M86.5 323.9h0M82.2 329.9h0M82.9 344.1h0M79.1 320.1h0M79.1 323.1h0M93.3 315.4h0M86.0 318.4h0M88.5 328.3h0M87.2 318.4h0M89.5 333.2h0M89.1 324.9h0M84.9 317.9h0M77.7 324.7h0M87.5 314.1h0M91.5 338.0h0M85.3 313.7h0M81.6 335.0h0M82.9 329.7h0M78.9 339.1h0M82.7 341.5h0M82.6 318.6h0M80.0 343.7h0M87.0 338.4h0M78.1 327.6h0M86.1 343.4h0M93.1 317.0h0M86.5 320.7h0M86.8 342.5h0M81.4 338.2h0M93.1 316.7h0M83.2 329.1h0M81.0 333.9h0M88.1 310.6h0M88.8 320.2h0M84.8 337.2h0M86.1 317.4h0M85.8 344.3h0M89.4 332.5h0M91.3 322.5h0M86.5 339.3h0M80.4 339.6h0M77.4 327.4h0M86.8 312.6h0M92.7 323.7h0M80.1 322.6h0M87.1 323.3h0M89.1 312.0h0M81.3 337.7h0M89.8 329.8h0M84.3 316.0h0M87.0 344.3h0M80.6 309.9h0M88.8 311.1h0M80.8 323.7h0M93.8 319.3h0M82.4 325.1h0M79.8 322.3h0M88.9 319.3h0M90.5 314.0h0M78.7 330.8h0M84.7 341.9h0M78.8 335.4h0M88.4 321.1h0M79.2 330.3h0M89.9 325.0h0M85.0 333.1h0M87.4 323.1h0M80.2 324.6h0M86.3 341.1h0M82.6 315.5h0M87.7 335.1h0M81.2 333.2h0M93.0 323.6h0M88.1 339.9h0M80.5 320.1h0M82.2 325.1h0M89.7 331.0h0M77.6 323.4h0M77.5 327.0h0M87.8 314.7h0M91.6 322.7h0M93.3 320.6h0M87.5 327.6h0M81.5 336.6h0M82.5 340.5h0M85.5 308.4h0M82.1 330.2h0M90.7 311.1h0M90.2 321.8h0M85.9 323.0h0M89.5 333.6h0M91.1 332.6h0M87.7 318.9h0M81.5 342.0h0M86.0 307.8h0M82.8 320.3h0M78.9 334.6h0M90.8 337.0h0M90.5 311.6h0M91.3 338.5h0M85.8 315.9h0M91.6 311.6h0M93.7 322.8h0M90.1 337.5h0M90.2 342.2h0M89.8 315.6h0M82.5 320.0h0M84.4 311.9h0M88.9 326.8h0M90.0 319.8h0M84.0 335.3h0M88.9 340.7h0M82.3 339.2h0M89.5 328.8h0M83.9 328.5h0M82.3 311.7h0M77.8 334.2h0M89.4 330.4h0M80.5 334.4h0M91.0 330.5h0M80.9 328.5h0M83.7 317.2h0M79.5 339.9h0M87.7 342.4h0M79.9 317.0h0M85.7 309.2h0M82.1 327.5h0M85.2 341.6h0M86.8 331.2h0M86.9 336.8h0M80.8 332.0h0M81.4 321.5h0M81.4 316.3h0M82.5 322.8h0M83.1 319.3h0M89.6 325.7h0M92.3 324.4h0M80.5 338.2h0M92.2 311.6h0M85.5 328.3h0M79.0 319.1h0M87.5 332.6h0M87.7 330.6h0M83.4 309.6h0M78.3 336.2h0M79.9 320.2h0M80.4 339.7h0M90.9 338.6h0M83.5 342.6h0M81.4 328.8h0M88.4 315.9h0M83.5 310.8h0M90.5 314.0h0M79.3 317.6h0M87.9 331.2h0M85.9 339.4h0M89.8 315.0h0M86.1 313.4h0M81.1 312.6h0M78.3 320.3h0M92.1 331.9h0M87.1 327.1h0M86.6 329.8h0M78.4 336.4h0M81.1 329.4h0M86.0 319.9h0M93.1 322.0h0M84.2 327.5h0M90.1 327.5h0M89.2 331.2h0M89.9 315.2h0M86.7 323.7h0M80.9 336.7h0M80.8 334.0h0M85.3 323.2h0M89.0 334.5h0M90.6 317.0h0M88.4 325.8h0M93.0 324.0h0M85.0 327.2h0M82.2 311.0h0M85.2 309.7h0M79.9 323.9h0M82.9 326.0h0M86.0 321.8h0M86.5 343.9h0M81.8 320.4h0M82.4 335.2h0M85.4 337.2h0M80.5 321.0h0M83.8 321.6h0M93.4 323.7h0M86.8 343.6h0M87.9 329.6h0M91.1 319.7h0M86.1 329.1h0M78.1 335.3h0M83.4 331.4h0M81.8 341.9h0M83.3 317.5h0M92.2 315.5h0M81.6 325.5h0M80.6 337.2h0M78.3 322.7h0M90.3 334.1h0M90.5 311.5h0M92.1 320.6h0M90.8 324.9h0M92.2 325.2h0M81.4 312.7h0M85.4 308.9h0M79.8 340.2h0M86.8 339.8h0M79.6 325.3h0M85.0 311.1h0M81.5 342.0h0M89.3 326.3h0M87.4 339.7h0M79.8 316.1h0M79.3 326.5h0M86.9 324.5h0M85.0 312.4h0M89.2 327.4h0M82.3 338.7h0M83.6 324.1h0M81.4 335.3h0M92.4 312.3h0M85.6 343.8h0M92.1 324.1h0M78.8 324.3h0M85.8 336.9h0M80.2 317.6h0M87.4 310.6h0M89.8 323.1h0M92.7 315.5h0M91.9 315.6h0M78.3 321.8h0M93.5 320.5h0M89.2 308.3h0M85.8 327.5h0M78.7 329.0h0M84.6 319.4h0M91.1 333.3h0M87.8 343.8h0M79.1 337.1h0M90.0 325.0h0M79.0 315.2h0M79.2 330.2h0M87.6 339.6h0M93.5 317.0h0M81.5 339.9h0M78.9 337.1h0M92.2 328.4h0M87.3 330.3h0M90.1 326.7h0M78.9 315.5h0M88.1 310.0h0M78.8 316.5h0M90.5 327.8h0M83.1 343.6h0M86.9 316.1h0M86.6 339.5h0M83.3 323.5h0M87.9 313.9h0M86.9 319.2h0M85.0 334.1h0M77.3 326.3h0M82.3 329.8h0M91.0 324.8h0M87.7 318.0h0M81.4 326.4h0M86.1 315.5h0M90.0 326.0h0M83.0 316.6h0M92.9 316.4h0M78.2 331.0h0M88.5 319.8h0M84.5 333.0h0M79.7 320.9h0M90.4 332.9h0M87.0 310.9h0M80.7 316.7h0M77.5 331.3h0M86.7 342.1h0M86.4 341.9h0M85.0 326.7h0M81.8 324.6h0M92.9 325.5h0M80.4 330.7h0M85.7 325.1h0M88.9 329.7h0M88.1 326.0h0M77.6 324.2h0M91.2 329.9h0M92.4 327.7h0M79.8 333.9h0M88.0 337.7h0M78.5 324.6h0M90.8 320.0h0M79.4 339.9h0M78.1 328.2h0M91.9 311.0h0M86.8 313.9h0M82.6 312.7h0M84.9 308.8h0M88.2 331.6h0M78.3 340.0h0M86.2 342.6h0M85.4 310.1h0M89.0 313.6h0M92.3 325.7h0M82.5 332.2h0M89.1 324.5h0M81.7 323.0h0M89.2 315.7h0M79.7 325.4h0M88.2 309.5h0M81.6 343.9h0M81.5 336.3h0M82.2 310.3h0M85.3 340.0h0M89.0 330.6h0M85.2 332.3h0M85.9 314.0h0M88.8 311.9h0M82.3 339.4h0M86.7 326.4h0M89.1 325.7h0M83.5 328.0h0M92.4 331.8h0M79.7 339.5h0M81.8 337.6h0M88.1 330.0h0M89.6 317.2h0M91.2 327.6h0M89.9 338.9h0M81.3 322.6h0M83.1 309.9h0M91.9 333.1h0M85.3 327.7h0M83.1 333.1h0M86.1 325.9h0M81.4 315.5h0M88.4 320.0h0M93.5 317.5h0M85.7 311.0h0M83.1 309.8h0M85.5 343.4h0M90.0 320.8h0M81.7 342.4h0M77.9 339.1h0M83.6 323.2h0M87.3 327.0h0M90.2 331.6h0M88.1 309.8h0M83.2 325.0h0M87.8 309.3h0M86.5 335.1h0M79.7 335.9h0M89.2 327.8h0M91.0 337.6h0M87.7 332.4h0M80.0 319.9h0M82.5 339.6h0M90.3 318.0h0M78.0 319.5h0M83.1 321.8h0M91.5 327.3h0M87.7 323.7h0M84.8 343.4h0M81.7 327.0h0M85.1 312.4h0M79.5 326.3h0M90.6 323.4h0M79.3 340.6h0M77.8 331.7h0M79.5 316.9h0M84.2 335.7h0M84.4 322.9h0M83.8 326.8h0M81.8 343.2h0M80.2 312.0h0M86.3 320.3h0M89.3 308.5h0M88.5 320.8h0M92.8 318.4h0M84.4 319.1h0M86.1 317.7h0M88.4 322.6h0M89.0 318.1h0M84.8 328.2h0M89.2 331.8h0M84.3 310.3h0M80.1 314.0h0M88.3 320.0h0M92.4 315.9h0M81.2 314.0h0M79.5 332.9h0M86.8 316.5h0M90.8 332.7h0M84.3 330.1h0M88.2 323.8h0M78.6 320.9h0M93.1 321.2h0M87.9 310.4h0M90.2 339.8h0M83.3 321.1h0M85.7 316.6h0M80.6 311.9h0M88.7 326.4h0M91.9 330.4h0M87.5 323.6h0M84.2 312.5h0M86.3 317.4h0M79.1 340.1h0M86.8 340.3h0M82.0 328.9h0M81.7 338.6h0M80.6 331.6h0M86.4 319.4h0M78.4 325.5h0M85.9 338.1h0M80.5 314.0h0M82.2 337.5h0M80.9 331.1h0M89.0 325.9h0M78.9 325.0h0M93.0 321.9h0M86.5 323.0h0M85.6 308.6h0M92.0 329.0h0M82.9 317.8h0M80.2 342.5h0M91.3 321.4h0M87.3 328.0h0M89.5 313.2h0M86.6 307.7h0M88.1 330.3h0M93.3 325.6h0M91.2 325.1h0M80.7 322.4h0M78.3 329.1h0M80.7 333.7h0M80.0 333.2h0M87.5 334.0h0M93.2 318.2h0M88.6 322.1h0M90.0 329.8h0" stroke="#e01a1a" stroke-width="1.44" stroke-linecap="round"/>
<path d="M112.2 285.8h0M88.9 305.2h0M88.6 306.2h0M98.3 299.3h0M101.2 298.0h0M99.9 294.9h0M106.7 287.7h0M91.5 303.0h0M111.7 289.5h0M96.1 297.3h0M97.8 295.1h0M92.7 296.6h0M107.2 293.7h0M105.9 296.8h0M94.6 298.1h0M90.6 305.4h0M94.1 297.3h0M93.0 299.3h0M105.4 287.1h0M102.5 292.4h0M94.5 296.2h0M94.3 299.8h0M97.3 296.4h0M91.1 305.1h0M108.9 288.9h0M96.4 302.7h0M111.3 289.1h0M102.9 297.6h0M104.4 292.8h0M110.8 287.1h0M105.0 290.7h0M106.9 294.7h0M107.4 292.9h0M100.3 296.4h0M108.5 286.8h0M101.3 291.2h0M103.7 291.2h0M94.1 298.3h0M104.9 287.7h0M101.6 296.9h0M106.1 291.9h0M88.2 304.6h0M112.5 286.7h0M111.1 291.0h0M98.0 297.0h0M101.2 290.2h0M93.8 305.3h0M93.6 304.8h0M87.0 304.2h0M97.2 295.8h0M106.4 287.6h0M89.2 304.8h0M106.4 289.6h0M107.3 292.6h0M95.8 302.8h0M102.9 288.2h0M93.2 296.4h0M112.7 288.1h0M95.5 298.0h0M95.3 295.1h0M95.5 300.6h0M111.5 287.6h0M94.1 299.6h0M97.9 295.9h0M102.1 299.1h0M112.7 291.8h0M89.4 305.4h0M113.6 288.0h0M93.6 296.4h0M106.5 288.7h0M89.1 304.2h0M112.4 286.0h0M105.5 292.2h0M110.6 287.0h0M92.6 307.0h0M108.6 286.1h0M90.4 301.0h0M106.2 290.6h0M100.3 290.1h0M87.8 306.3h0M103.7 296.8h0M94.3 297.4h0M107.6 290.0h0M101.2 299.0h0M103.4 296.0h0M95.4 293.5h0M100.7 292.1h0M97.1 301.8h0M113.7 288.8h0M110.1 292.7h0M90.3 304.4h0M98.5 293.4h0M109.0 289.2h0M90.0 300.7h0M98.3 290.9h0M106.6 292.9h0M86.7 305.1h0M106.9 288.5h0M94.5 295.2h0M91.2 307.1h0M109.7 291.9h0M110.2 287.4h0M110.0 293.1h0M108.9 289.8h0M90.6 302.4h0M93.7 303.4h0M86.3 305.1h0M102.4 294.9h0M96.1 294.5h0M105.6 293.3h0M106.0 291.1h0M88.7 303.6h0M98.6 301.0h0M112.0 286.9h0M89.5 306.4h0M98.8 300.8h0M110.3 287.7h0M95.0 297.6h0M89.3 301.2h0M100.4 293.9h0M109.3 287.7h0M102.2 293.6h0M104.1 291.2h0M99.1 297.6h0M97.4 298.5h0M97.4 302.1h0M92.0 299.8h0M108.1 285.5h0M112.3 287.2h0M111.7 285.8h0M109.3 288.6h0M91.4 298.6h0M106.2 295.6h0M98.5 296.2h0M107.3 295.8h0M93.3 298.5h0M95.4 304.9h0M96.2 295.1h0M101.8 298.5h0M91.9 303.9h0M103.5 296.7h0M96.6 297.6h0M100.8 297.0h0M111.3 287.8h0M100.7 295.9h0M98.2 296.9h0M89.2 303.1h0M101.6 289.0h0M112.3 286.0h0M91.8 296.5h0M94.0 304.0h0M89.1 301.2h0M110.2 286.2h0M100.5 290.2h0M91.7 300.1h0M103.8 297.4h0M95.4 301.0h0M114.5 286.2h0M110.1 293.1h0M89.1 307.1h0M99.1 295.8h0M99.0 293.6h0M94.9 302.1h0M107.6 292.7h0M90.2 306.9h0M99.0 291.6h0M97.3 297.7h0M101.8 292.1h0M101.7 290.5h0M112.6 286.7h0M105.7 297.2h0M89.5 304.7h0M108.7 294.4h0M96.3 299.5h0M108.1 294.2h0M97.1 297.6h0M97.8 300.7h0M90.6 308.5h0M97.6 298.7h0M103.6 296.0h0M96.1 300.6h0M94.1 298.6h0M111.5 290.5h0M99.6 296.9h0M94.8 298.9h0M99.3 291.8h0M96.9 302.5h0M98.6 300.4h0M90.0 299.7h0M108.9 286.6h0M104.6 293.8h0M95.9 304.5h0M98.8 295.6h0M95.3 302.4h0M101.9 294.3h0M114.0 285.4h0M96.8 303.8h0M100.3 298.5h0M100.3 296.6h0M96.0 303.6h0M97.3 301.2h0M97.4 293.4h0M99.0 299.5h0M113.9 286.5h0M107.6 290.2h0M101.0 297.3h0M96.9 296.7h0M113.3 289.3h0M109.1 294.1h0M103.9 298.5h0M108.2 292.2h0M106.3 293.9h0M96.9 295.1h0M97.0 293.2h0M105.3 292.2h0M97.5 297.0h0M99.4 300.4h0M96.7 298.8h0M91.5 298.0h0M108.2 293.7h0M104.5 294.8h0M104.7 294.9h0M90.0 305.3h0M94.0 297.7h0M114.2 289.1h0M94.7 294.0h0M105.2 293.5h0M106.1 288.6h0M107.7 288.2h0M106.7 288.9h0M103.5 297.3h0M105.7 296.9h0M95.0 294.7h0M96.3 295.4h0M96.6 303.9h0M94.5 298.9h0M109.2 287.8h0M100.6 289.5h0M99.7 289.8h0M91.9 305.3h0M95.0 296.7h0M100.8 293.7h0M109.2 287.8h0M89.0 301.5h0M102.1 299.1h0M93.6 297.1h0M102.3 299.0h0M86.5 304.5h0M90.9 300.3h0M102.2 295.9h0M101.8 291.1h0M90.9 302.6h0M112.7 288.5h0M99.1 297.3h0M106.7 295.4h0M113.0 286.8h0M94.5 305.0h0M89.2 305.3h0M108.0 295.3h0M89.8 307.7h0M106.0 287.3h0M91.1 300.4h0M94.4 296.7h0M105.5 287.8h0M105.3 293.3h0M99.4 297.9h0M113.1 286.1h0M89.5 300.8h0M91.9 303.1h0M106.6 289.0h0M106.9 287.0h0M97.2 301.9h0M107.8 290.1h0M114.1 287.6h0M92.0 300.1h0M112.4 286.3h0M100.3 297.3h0M89.2 305.2h0M99.7 292.0h0M88.4 304.9h0M108.8 289.7h0M95.5 297.5h0M90.0 301.1h0M89.9 306.6h0M102.7 299.3h0M97.1 302.7h0M113.5 289.2h0M96.5 299.8h0M106.7 296.1h0M95.5 303.1h0M107.4 295.0h0M90.6 303.4h0M93.3 301.6h0M110.2 291.4h0M109.5 293.9h0M99.7 299.1h0M113.0 290.2h0M101.6 288.5h0M104.6 294.5h0M106.5 287.0h0" stroke="#d8d296" stroke-width="1.44" stroke-linecap="round"/>
<path d="M125.7 292.5h0M153.8 298.9h0M115.6 288.6h0M144.6 295.4h0M154.6 301.0h0M160.8 296.9h0M129.1 295.0h0M123.1 290.9h0M126.5 289.0h0M113.4 288.8h0M156.3 298.3h0M130.5 291.0h0M129.1 290.5h0M131.7 294.4h0M146.4 297.5h0M109.1 287.9h0M158.6 300.8h0M129.4 295.1h0M119.9 291.9h0M140.4 295.3h0M110.8 289.5h0M155.5 299.2h0M148.5 297.5h0M130.3 294.3h0M146.4 296.6h0M135.0 295.2h0M121.3 288.7h0M135.1 295.0h0M111.2 287.8h0M120.3 292.0h0M129.3 291.2h0M118.0 289.6h0M154.6 302.2h0M113.0 290.0h0M138.4 293.1h0M142.0 295.1h0M155.7 299.0h0M118.8 290.6h0M155.8 297.0h0M129.5 291.1h0M125.7 291.0h0M157.7 297.7h0M116.9 288.8h0M156.5 301.4h0M133.3 293.6h0M142.8 295.1h0M126.0 291.3h0M118.3 289.1h0M122.7 290.7h0M157.8 297.2h0M129.9 295.2h0M121.7 291.8h0M147.3 295.3h0M109.7 288.4h0M120.3 290.5h0M155.9 297.4h0M152.5 293.6h0M108.3 287.4h0M129.9 292.1h0M155.0 298.9h0M116.3 288.9h0M128.8 291.8h0M133.3 293.2h0M143.8 297.1h0M140.8 299.1h0M113.5 290.6h0M120.2 290.3h0M134.3 295.1h0M156.4 301.0h0M141.4 296.7h0M122.2 290.0h0M155.6 300.5h0M150.1 297.3h0M127.4 292.1h0M152.4 296.9h0M142.4 296.4h0M110.4 287.5h0M114.4 287.9h0M130.5 293.5h0M136.9 293.3h0M127.1 290.6h0M126.8 291.4h0M158.3 297.8h0M127.3 287.0h0M133.7 291.5h0M127.4 294.3h0M144.5 297.3h0M122.3 292.5h0M157.8 297.1h0M138.1 297.4h0M127.2 288.8h0M145.8 295.5h0M152.9 296.4h0M115.7 288.9h0M153.2 297.1h0M124.8 289.9h0M149.6 296.3h0M161.6 300.2h0M150.1 296.5h0M146.4 293.9h0M128.2 295.4h0M144.6 295.3h0M131.7 292.6h0M156.0 299.2h0M153.1 297.1h0M151.6 297.2h0M109.3 287.6h0M140.7 295.9h0M127.8 289.7h0M130.7 290.8h0M113.8 291.4h0M133.3 293.7h0M131.8 293.8h0M108.0 288.1h0M156.1 300.6h0M133.6 293.9h0M139.0 295.2h0M141.9 297.9h0M161.0 301.3h0M113.5 289.7h0M123.7 291.3h0M151.4 298.7h0M123.0 291.0h0M151.6 295.1h0M109.7 286.6h0M142.7 294.1h0M141.4 292.7h0M136.6 295.5h0M127.5 290.4h0M118.2 290.1h0M144.0 297.5h0M108.8 286.9h0M130.0 292.7h0M135.6 293.2h0M145.3 295.1h0M109.0 288.0h0M145.7 297.9h0M136.0 295.9h0M146.0 300.4h0M147.5 300.4h0M154.9 300.1h0M128.1 294.4h0M146.0 296.2h0M159.4 298.5h0M132.3 290.8h0M116.1 290.1h0M156.7 297.7h0M115.4 291.7h0M114.9 288.7h0M132.0 292.5h0M118.9 289.9h0M145.8 294.0h0M115.0 291.0h0M112.3 289.3h0M147.7 293.4h0M152.4 297.3h0M143.2 296.9h0M124.1 289.8h0M111.4 288.2h0M142.9 293.5h0M136.5 290.8h0M128.2 293.2h0M115.2 291.4h0M156.5 298.5h0M161.4 299.6h0M134.6 294.1h0M135.0 291.8h0M121.3 292.3h0M160.3 300.4h0M152.5 299.9h0M120.7 290.5h0M130.5 291.6h0M133.4 293.5h0M158.2 302.5h0M157.9 299.8h0M131.8 293.4h0M149.1 293.4h0M161.5 299.3h0M144.9 296.4h0M111.3 289.8h0M129.4 292.5h0M118.3 289.0h0M136.8 296.0h0M114.2 288.2h0M131.3 293.3h0M130.1 295.4h0M131.8 294.0h0M132.5 292.4h0M161.1 299.7h0M142.5 297.7h0M126.4 290.8h0M153.1 297.4h0M138.2 294.3h0M146.3 294.6h0M129.0 293.3h0M125.4 292.7h0M108.8 288.3h0M134.4 291.8h0M145.8 297.6h0M146.6 297.4h0M110.0 289.3h0M160.5 298.9h0M154.6 297.7h0M131.4 293.7h0M150.3 295.3h0M161.4 300.9h0M149.2 294.8h0M134.8 293.6h0M140.2 291.8h0M161.0 301.9h0M138.9 294.1h0M138.7 294.4h0M158.1 299.8h0M121.4 293.1h0M146.7 296.5h0M149.1 300.2h0M109.6 289.0h0M121.5 289.4h0M125.1 289.3h0M117.8 289.3h0M111.8 289.0h0M129.4 294.6h0M149.2 297.5h0M140.3 293.6h0M116.2 288.3h0M121.1 289.5h0M143.2 298.9h0M137.0 297.5h0M157.9 299.1h0M147.8 296.3h0M141.8 293.7h0M148.5 299.5h0M144.5 297.2h0M156.3 303.3h0M130.6 297.1h0M127.2 289.9h0M118.4 290.2h0M115.6 291.0h0M120.9 290.6h0M141.2 295.0h0M130.2 292.4h0M134.2 292.5h0M119.0 292.9h0M127.8 292.5h0M123.8 292.5h0M137.5 293.8h0M116.1 287.6h0M152.1 300.3h0M151.9 299.5h0M110.9 288.2h0M115.2 288.6h0M128.4 290.8h0M146.3 297.3h0M130.2 294.7h0M115.5 289.7h0M151.4 297.2h0M149.6 296.0h0M119.0 290.8h0M115.6 289.2h0M138.8 293.3h0M128.0 292.1h0M148.8 298.7h0M131.1 294.7h0M116.0 291.7h0M120.3 291.5h0M149.4 299.8h0M109.4 289.8h0M153.1 297.4h0M131.0 292.3h0M122.2 291.2h0M155.1 298.3h0M152.2 302.0h0M157.5 300.6h0M152.7 299.9h0M124.9 291.5h0M136.8 294.6h0M137.7 294.8h0M141.9 296.8h0M117.3 290.5h0M131.4 290.0h0M115.3 288.6h0M113.8 288.8h0M146.7 295.7h0M121.5 290.4h0M146.7 298.4h0M139.9 294.2h0M120.3 288.8h0M124.5 291.8h0M140.9 294.8h0M114.5 289.2h0M130.2 293.9h0M139.7 296.5h0M141.4 297.1h0M150.1 296.4h0M113.9 291.1h0M140.8 292.6h0M153.0 296.9h0M116.8 289.4h0M134.2 293.0h0M156.8 296.7h0M135.8 295.4h0M109.1 287.9h0M131.7 290.5h0M120.8 290.0h0M109.4 288.2h0M154.2 297.8h0M138.4 295.9h0M149.2 299.4h0M120.1 290.9h0M116.1 289.6h0M140.5 294.2h0M158.2 297.8h0M118.6 291.7h0M127.0 292.5h0M130.0 290.2h0M123.1 292.9h0M145.7 295.4h0M157.3 299.0h0M121.9 290.6h0M145.6 297.7h0M145.6 296.1h0M140.1 295.6h0M126.8 289.9h0M108.2 287.6h0M110.3 289.4h0M113.2 287.0h0M120.6 288.3h0M124.5 292.6h0M159.1 302.6h0M110.8 289.9h0M139.9 297.5h0M157.4 299.1h0M126.4 294.9h0M123.1 290.3h0M149.3 298.9h0M129.4 292.0h0M150.6 294.5h0M131.8 291.6h0M132.2 293.8h0M155.0 300.2h0M121.8 292.8h0M139.3 293.1h0M124.3 292.1h0M152.7 298.6h0M159.5 301.1h0M158.6 299.5h0M132.4 291.0h0M151.6 301.1h0M144.7 296.2h0M117.8 290.6h0M122.2 291.6h0M124.7 293.2h0M119.5 291.3h0M108.3 287.4h0M108.6 287.9h0M138.2 294.5h0M109.7 286.9h0M137.2 294.8h0M119.4 292.2h0M152.7 294.6h0M158.0 301.1h0M137.5 294.2h0M130.4 293.0h0M120.5 289.8h0M133.5 289.0h0M126.5 290.6h0M108.5 286.5h0M112.9 290.5h0M136.6 291.8h0M126.1 290.1h0M139.7 299.1h0M138.9 293.5h0M126.7 290.5h0M145.4 294.4h0M145.0 294.5h0M126.7 293.5h0M120.4 291.9h0M117.1 290.8h0M123.4 290.8h0M130.3 294.1h0M161.0 298.5h0M129.8 292.3h0M137.5 295.2h0M136.2 292.4h0M127.0 292.4h0M112.7 289.7h0M123.2 292.5h0M139.0 295.2h0M114.2 289.3h0M142.3 293.9h0M131.2 293.6h0M114.9 287.7h0M137.8 294.2h0M127.6 294.6h0M119.4 294.2h0M114.3 290.0h0M121.6 291.2h0M130.3 292.5h0M131.7 291.9h0M161.1 298.0h0M125.1 292.4h0M108.2 288.4h0M123.0 288.9h0M113.7 287.5h0M122.3 292.4h0M130.0 291.4h0M111.8 289.5h0M141.2 295.8h0M111.5 286.7h0M108.1 288.0h0M123.9 289.6h0M147.4 298.5h0M145.1 295.1h0M141.7 296.1h0M132.5 295.0h0M139.9 294.1h0M144.5 294.4h0M143.8 296.4h0M140.1 296.4h0M134.8 293.8h0M160.5 300.9h0M124.9 289.8h0M117.9 288.9h0M131.3 293.8h0M122.3 289.1h0M113.5 289.3h0M143.7 295.8h0M121.7 289.9h0M110.4 286.9h0M130.2 293.1h0M140.0 294.6h0M111.0 288.4h0M135.0 296.0h0M132.4 292.1h0M121.8 292.2h0M148.7 299.5h0M129.1 293.5h0M146.0 297.5h0M150.4 295.0h0M128.7 294.2h0M109.2 288.9h0M145.1 300.1h0M112.8 288.7h0M133.8 295.0h0M109.1 289.4h0M122.5 290.2h0M110.1 286.2h0M147.3 295.4h0M154.0 300.5h0M111.3 287.5h0M125.2 290.2h0M119.9 289.8h0M111.5 289.8h0M124.5 289.8h0M133.4 294.0h0M142.2 295.0h0M120.3 292.5h0M159.5 298.5h0M129.1 291.1h0M127.1 291.9h0M158.5 304.5h0M157.2 298.5h0M134.9 292.0h0M132.0 290.3h0M157.5 299.9h0M127.8 291.0h0M145.1 297.2h0M118.4 291.0h0M113.1 292.4h0M152.9 295.3h0M135.3 293.9h0M132.4 290.9h0M136.0 294.9h0M126.5 292.6h0M127.5 291.5h0M121.1 289.8h0M155.0 299.8h0M150.8 294.1h0M119.1 287.8h0M151.4 298.6h0" stroke="#e8780c" stroke-width="1.44" stroke-linecap="round"/>
<path d="M32.7 284.0h0M33.1 287.0h0M43.7 283.6h0M41.3 284.6h0M35.6 279.5h0M45.6 287.4h0M37.9 287.3h0M47.7 286.5h0M47.2 289.6h0M38.3 287.4h0M45.3 282.4h0M36.4 281.6h0M47.2 285.9h0M34.5 287.0h0M42.1 287.3h0M44.4 283.8h0M41.8 285.0h0M34.1 282.0h0M47.0 287.9h0M39.6 283.0h0M44.6 286.0h0M50.6 287.1h0M36.6 281.7h0M37.7 283.0h0M28.3 284.2h0M45.6 287.2h0M43.5 285.4h0M33.2 286.3h0M39.9 282.6h0M49.7 285.7h0M35.5 286.0h0M30.8 280.7h0M38.8 281.2h0M47.1 285.4h0M36.8 282.9h0M32.3 280.9h0M44.3 282.1h0M29.6 282.9h0M36.6 283.1h0M38.5 283.1h0M32.6 280.3h0M38.8 285.9h0M29.6 284.0h0M31.3 285.4h0M35.6 286.2h0M46.6 283.2h0M36.6 279.4h0M32.3 285.6h0M36.1 284.7h0M43.8 282.3h0M36.2 286.8h0M39.1 283.5h0M38.8 281.9h0M31.2 284.5h0M44.6 284.5h0M39.5 286.2h0M41.2 286.5h0M36.6 283.1h0M35.6 281.3h0M46.8 288.4h0M34.0 285.0h0M38.5 280.0h0M45.3 284.6h0M29.7 286.4h0M31.4 286.6h0M48.7 284.4h0M44.6 282.9h0M38.6 282.1h0M32.7 282.0h0M33.8 280.7h0M41.0 287.8h0M47.8 285.9h0M27.8 282.8h0M44.5 284.8h0M50.7 287.6h0M29.2 284.2h0M38.0 279.3h0M42.9 287.6h0M32.6 281.3h0M46.3 284.6h0M27.5 282.0h0M34.2 283.7h0M49.2 287.8h0M36.6 286.2h0M36.3 285.8h0M29.0 281.8h0M41.5 286.0h0M34.1 284.4h0M35.3 285.2h0M29.7 285.7h0M32.2 284.9h0M31.7 283.6h0M33.6 285.9h0M46.5 288.2h0M40.7 282.5h0M34.2 284.3h0M45.7 282.2h0M41.9 281.6h0M45.0 284.2h0M34.8 283.7h0M36.9 286.2h0M37.8 285.2h0M39.7 287.1h0M46.7 286.9h0M37.2 284.4h0M29.6 285.0h0M33.7 280.4h0M45.3 285.5h0M41.1 288.5h0M28.6 282.9h0M32.5 285.4h0M32.8 281.6h0M49.9 286.8h0M37.7 282.8h0M49.9 288.4h0M27.6 280.3h0M49.9 287.9h0M34.3 287.7h0M41.5 281.3h0M44.2 283.3h0M37.7 286.4h0M36.3 281.5h0M40.2 289.4h0M29.4 281.4h0M32.2 280.1h0M49.5 286.4h0M39.8 284.4h0M31.6 284.1h0M46.0 284.9h0M45.4 285.4h0M38.6 287.8h0M33.4 282.8h0M48.2 286.0h0M46.1 283.3h0M32.9 282.9h0M46.9 289.6h0M30.7 280.5h0M33.9 285.6h0M37.8 280.5h0M29.5 284.5h0M35.7 284.3h0M29.7 282.6h0M39.6 279.5h0M39.5 288.2h0M40.3 280.5h0M34.0 279.9h0M43.9 287.8h0M38.2 285.2h0M35.3 287.9h0M39.0 280.6h0M39.1 286.0h0M45.3 282.2h0M28.4 283.7h0M42.5 287.3h0M43.0 289.4h0M50.9 287.0h0M33.6 286.7h0M41.5 288.4h0M46.4 282.3h0M31.3 286.1h0M29.8 284.2h0M33.9 283.1h0M43.4 285.8h0M49.3 286.6h0M49.7 285.5h0M43.2 288.7h0M45.7 285.8h0M44.9 288.2h0M36.7 280.9h0M38.0 288.2h0M32.0 280.9h0M31.8 283.3h0M27.6 283.3h0M48.8 288.9h0M48.4 286.9h0M41.2 284.4h0M44.9 285.4h0M49.5 287.2h0M38.1 288.3h0M34.2 283.0h0M43.4 289.1h0M34.5 286.1h0M49.2 288.7h0M44.5 288.2h0M42.9 284.9h0M31.8 284.5h0M28.1 282.0h0M31.5 287.3h0M31.9 282.4h0M41.5 281.7h0M43.9 281.5h0M50.5 285.8h0M49.9 287.1h0M36.5 280.8h0M49.3 286.1h0M35.7 279.3h0M33.0 279.1h0M31.3 287.1h0M34.0 287.7h0M45.4 285.9h0M47.7 289.1h0M40.3 280.7h0M29.2 281.4h0M34.0 284.5h0M47.2 287.3h0M41.9 285.8h0M27.7 281.0h0M31.8 279.3h0M46.6 283.7h0M46.6 289.0h0M36.1 287.6h0M35.4 285.7h0M33.4 286.8h0M34.1 283.4h0M45.1 288.0h0M30.5 280.5h0M32.3 287.3h0M43.8 286.7h0M35.8 285.4h0M33.5 287.6h0M32.3 283.6h0M43.6 283.1h0M28.2 279.7h0M43.3 288.0h0M44.0 288.4h0M43.6 287.5h0M48.0 285.3h0M40.3 280.4h0M32.9 279.5h0M29.8 283.0h0M34.3 285.0h0M49.4 288.1h0M31.8 285.3h0M31.9 279.2h0M32.5 280.8h0M47.2 288.4h0M36.4 282.5h0M44.5 284.6h0M35.2 280.2h0M29.9 286.7h0M32.6 284.5h0M33.7 284.1h0M39.5 281.5h0M29.9 283.3h0M40.4 287.8h0M41.3 282.5h0M50.2 287.5h0M39.1 283.7h0M48.0 285.6h0M40.8 284.4h0M30.3 280.5h0M33.1 279.6h0M46.9 283.7h0M40.0 281.1h0M37.1 287.0h0M39.0 283.4h0M47.7 283.4h0M32.1 284.0h0M34.6 281.5h0M46.3 282.5h0M42.6 282.0h0M46.4 286.6h0M42.2 280.5h0M39.5 288.1h0M46.6 285.3h0M27.5 281.4h0M37.0 286.6h0M44.4 288.5h0M33.2 279.9h0M35.2 279.7h0M33.8 280.1h0M40.4 281.8h0M41.3 286.7h0M32.6 280.0h0M39.9 283.1h0M38.2 282.7h0M31.1 279.9h0M45.2 285.8h0M44.2 285.8h0M39.8 280.8h0M38.5 281.5h0M37.2 287.7h0M30.1 285.4h0M33.8 281.2h0M34.6 283.1h0M43.1 283.2h0M46.8 283.0h0M42.9 286.8h0M40.1 286.7h0M50.9 287.0h0M47.8 288.7h0M37.9 283.3h0M31.2 280.5h0M34.6 283.3h0M36.6 283.8h0M27.9 282.4h0M39.0 288.9h0M43.3 289.4h0M48.5 284.2h0M41.4 288.2h0M35.3 280.0h0M46.0 284.7h0M38.7 280.0h0M40.8 285.1h0M44.8 288.9h0M35.0 283.3h0M35.6 287.8h0M38.0 279.3h0M38.9 280.2h0M36.5 283.7h0M27.0 280.1h0M49.5 284.8h0M50.9 286.5h0M36.7 279.1h0M43.6 281.9h0M31.1 285.9h0M32.2 280.6h0M44.8 289.2h0M32.1 281.2h0M30.6 280.9h0M32.6 283.3h0M32.9 286.1h0M33.0 281.6h0M37.5 280.4h0M28.2 284.0h0M49.2 285.6h0M34.7 283.1h0M37.7 282.2h0M28.3 280.3h0M30.6 280.9h0M35.3 279.7h0M42.4 280.8h0M39.8 286.5h0M39.4 287.0h0M46.5 283.6h0M32.3 279.0h0M44.3 282.7h0M34.3 279.5h0M38.8 288.2h0M32.9 285.4h0M48.6 289.2h0M33.8 280.6h0M39.0 288.0h0M47.1 288.8h0M36.1 281.2h0M39.8 289.2h0M42.3 288.5h0M31.9 284.3h0M49.9 285.1h0M46.8 287.8h0M38.1 286.4h0M44.3 283.6h0M40.0 287.8h0M36.2 286.3h0M40.8 288.3h0M33.0 283.9h0M33.4 287.7h0M29.7 280.1h0M41.8 287.4h0M35.6 279.4h0M41.6 285.6h0M37.8 281.6h0M35.7 281.2h0M44.8 284.8h0M32.7 281.7h0M43.8 288.4h0M33.5 279.6h0M31.7 282.9h0M45.0 289.0h0M36.4 280.2h0M34.0 285.1h0M39.5 280.5h0M42.8 285.4h0M35.1 281.9h0M43.3 289.5h0M31.6 283.4h0M43.3 286.3h0M34.2 286.3h0M36.9 286.4h0M48.8 286.4h0M50.2 287.5h0M29.9 282.4h0M35.8 288.0h0M28.6 282.3h0M38.2 288.3h0M39.2 282.8h0M35.5 279.0h0M29.4 283.6h0M28.6 280.9h0M31.7 286.1h0M31.3 283.5h0M30.7 279.6h0M39.1 284.7h0M35.9 279.3h0M40.8 280.4h0M43.2 286.2h0M42.1 280.8h0M44.1 289.7h0M35.6 280.8h0M43.4 288.3h0M31.2 280.8h0M39.5 280.9h0M27.6 283.4h0M32.1 280.4h0M41.7 289.4h0M38.7 284.9h0M44.5 288.4h0M42.1 288.7h0M30.0 280.0h0M30.0 282.7h0M37.4 286.1h0M41.5 283.2h0M36.6 281.5h0M45.1 287.7h0M44.2 283.6h0M37.3 280.7h0M41.7 283.1h0M40.4 284.2h0M34.3 283.3h0M37.8 288.8h0M38.4 281.1h0M38.5 283.8h0M27.4 280.2h0M39.5 284.0h0M34.6 279.1h0M35.1 282.5h0M29.6 285.4h0M32.5 284.6h0M39.4 285.8h0M49.4 286.4h0M47.9 286.1h0M45.9 284.1h0M40.6 287.7h0M31.2 284.2h0M37.7 279.9h0M38.6 281.3h0M41.7 286.6h0M41.3 285.2h0M27.5 280.4h0M43.7 289.7h0M41.3 285.9h0M42.4 288.6h0M42.9 282.0h0M38.5 279.8h0M42.9 284.7h0M41.3 285.6h0M33.6 280.3h0M35.1 278.9h0M32.0 284.2h0M36.8 287.2h0M30.5 280.9h0M40.1 286.4h0M34.9 280.9h0M30.1 282.7h0M36.5 287.7h0M33.0 282.4h0M34.1 283.8h0M32.3 287.5h0M49.1 286.7h0M37.0 288.2h0M51.7 287.7h0M37.2 287.0h0M34.3 279.2h0M38.4 288.3h0M41.4 281.6h0M32.3 284.9h0M39.7 288.9h0M31.3 283.9h0M38.2 282.8h0M31.7 282.9h0M40.6 280.7h0M35.0 284.6h0M35.7 278.9h0M40.0 282.5h0M29.9 284.0h0M42.4 282.5h0M45.4 285.8h0M40.1 285.5h0M40.9 281.1h0M35.6 286.8h0M32.8 285.7h0M40.4 289.4h0M39.5 284.9h0M41.5 279.8h0M56.4 287.9h0M38.4 281.4h0M38.0 289.3h0M34.5 285.1h0M46.4 289.2h0M38.2 279.5h0M42.3 287.2h0M37.9 283.3h0M52.8 283.1h0M36.7 282.6h0M29.6 280.8h0M33.7 287.3h0M28.8 278.6h0M42.6 281.0h0M26.6 280.3h0M32.2 280.5h0M38.5 286.0h0M35.6 283.3h0M44.8 285.6h0M45.2 284.4h0M42.5 289.3h0M28.7 291.4h0M37.9 283.6h0M38.5 286.1h0M31.6 283.4h0M35.0 288.1h0M27.7 284.3h0M38.2 282.5h0M40.9 284.5h0M40.0 285.7h0M48.3 285.6h0M52.9 279.9h0M51.6 291.0h0M50.4 287.8h0M42.4 282.6h0M49.7 283.7h0M34.4 283.9h0M41.3 286.3h0M32.1 282.4h0M42.5 289.0h0M44.8 287.3h0M38.4 283.1h0M36.4 284.0h0M43.8 284.4h0M54.5 285.2h0M45.6 285.6h0M39.1 283.8h0M50.5 286.4h0M43.6 286.1h0M44.6 287.7h0M51.6 285.4h0M33.3 288.5h0M48.5 287.1h0M37.8 285.3h0M49.2 284.8h0M49.8 287.0h0M37.6 283.4h0M25.4 282.9h0M31.2 281.6h0M33.6 284.4h0M44.8 286.2h0M40.9 286.4h0M50.5 288.9h0M50.6 287.1h0M42.7 283.7h0M44.4 283.5h0M43.4 283.9h0M36.7 287.9h0M40.4 287.4h0M39.3 279.5h0M50.0 286.7h0M34.9 286.7h0M32.6 281.3h0M48.1 284.8h0M47.7 285.8h0M38.4 284.9h0" stroke="#e8560c" stroke-width="1.44" stroke-linecap="round"/>
<path d="M52.0 289.3h0M55.6 290.4h0M45.6 287.6h0M70.0 295.1h0M45.8 286.7h0M43.8 286.7h0M51.4 288.2h0M59.6 291.1h0M44.3 286.3h0M48.1 287.5h0M59.1 293.1h0M61.2 290.8h0M58.1 291.0h0M64.1 291.2h0M53.9 288.3h0M60.2 290.9h0M60.8 290.9h0M62.1 292.4h0M56.0 289.5h0M50.9 289.6h0M61.3 292.1h0M62.2 291.4h0M58.6 290.1h0M54.6 288.9h0M42.6 286.1h0M61.3 292.5h0M70.8 292.9h0M53.1 288.4h0M66.4 293.9h0M56.7 292.3h0M56.1 290.1h0M73.0 293.1h0M45.4 289.4h0M48.8 289.3h0M48.7 290.1h0M51.0 289.2h0M53.2 289.9h0M45.9 288.9h0M72.3 293.8h0M45.6 286.7h0M72.2 294.1h0M69.0 293.0h0M58.8 292.2h0M55.5 290.3h0M42.5 286.3h0M69.3 293.0h0M48.7 289.5h0M67.1 292.3h0M63.9 293.3h0M53.2 289.2h0M50.1 289.1h0M51.1 289.8h0M51.8 289.5h0M57.5 290.8h0M57.5 291.7h0M48.0 290.0h0M64.8 293.3h0M51.1 291.3h0M44.8 288.2h0M45.9 288.6h0M51.4 290.4h0M54.2 289.9h0M65.2 292.8h0M68.9 293.3h0M52.0 289.8h0M64.9 292.9h0M72.5 292.9h0M56.0 291.5h0M48.4 288.2h0M49.5 289.8h0M66.4 293.4h0M64.6 292.8h0M42.6 288.9h0M62.2 291.5h0M47.8 289.1h0M72.0 295.2h0M42.4 287.4h0M44.6 286.9h0M60.1 293.0h0M68.0 293.9h0M50.6 290.0h0M65.0 293.3h0M43.2 287.1h0M53.8 289.4h0M46.8 289.5h0M51.1 290.0h0M70.0 294.5h0M58.0 290.1h0M62.1 291.3h0M58.7 292.1h0" stroke="#e85a0c" stroke-width="1.44" stroke-linecap="round"/>
<path d="M94.8 199.5h0M97.8 195.4h0M95.6 196.0h0M95.7 199.3h0M96.0 200.4h0M96.0 196.5h0M97.4 197.6h0M95.7 199.3h0M94.8 198.9h0M97.4 196.6h0M94.0 198.2h0M95.6 197.1h0M93.3 200.0h0M96.2 197.1h0M96.4 198.7h0M96.0 197.0h0M95.6 199.5h0M93.9 197.4h0M96.9 201.5h0M96.5 198.7h0M94.6 198.3h0M95.5 199.4h0M95.5 202.1h0M97.3 195.9h0M94.5 198.8h0M96.9 199.4h0M92.8 196.6h0M97.3 199.6h0M98.6 199.9h0M96.3 200.9h0M95.3 198.1h0M94.7 199.1h0M96.3 200.1h0M97.4 199.7h0M97.2 198.5h0M94.7 199.8h0M96.9 200.6h0M95.6 198.2h0M95.4 199.3h0M95.7 198.6h0M96.1 198.4h0M96.2 198.0h0M94.1 198.4h0M97.9 197.7h0M96.8 200.6h0" stroke="#c8001e" stroke-width="1.44" stroke-linecap="round"/>
<path d="M93.2 206.4h0M90.5 211.0h0M95.7 202.8h0M92.5 211.4h0M93.4 207.0h0M93.7 202.9h0M92.5 209.1h0M94.5 204.0h0M90.7 210.1h0M93.6 203.3h0M90.2 210.7h0M92.8 207.4h0M92.4 208.0h0M91.3 212.1h0M92.8 207.9h0M91.6 212.3h0M92.9 209.6h0M91.5 210.8h0M91.5 207.1h0M92.3 209.7h0M91.6 209.0h0M91.1 208.7h0M94.8 203.3h0M94.4 204.5h0M92.0 209.7h0M95.0 206.5h0M90.9 211.2h0M93.1 206.5h0M94.5 205.0h0M93.7 210.3h0M94.6 205.8h0M93.4 207.9h0M92.4 207.2h0M90.6 209.6h0M91.6 209.7h0M91.9 209.5h0M93.3 210.9h0M94.8 207.1h0M95.1 204.9h0M93.7 206.1h0M92.6 210.2h0M91.8 207.6h0M96.7 203.3h0M92.8 208.7h0M93.4 211.5h0M97.0 203.6h0M93.2 206.4h0M93.1 204.8h0M92.7 208.9h0M92.9 208.4h0M94.1 205.7h0M91.6 208.0h0M94.6 204.6h0M95.5 203.1h0M89.7 210.0h0M91.9 212.4h0M93.1 210.0h0M93.6 207.8h0M90.4 211.0h0M94.8 204.5h0M94.4 208.2h0M90.7 210.9h0M92.0 208.0h0M94.5 203.5h0M92.7 207.4h0M94.5 207.4h0M93.6 203.4h0M94.0 207.5h0M95.6 203.1h0M94.4 206.6h0M93.9 206.1h0M92.2 208.5h0M94.4 208.0h0M92.8 207.1h0M94.9 204.1h0M91.6 208.4h0M92.7 208.6h0M92.8 210.2h0M93.0 208.1h0M92.4 208.3h0" stroke="#e8101a" stroke-width="1.44" stroke-linecap="round"/>
<path d="M88.6 220.6h0M81.8 242.2h0M81.3 228.9h0M93.4 232.5h0M91.5 213.5h0M96.7 222.2h0M85.7 230.4h0M87.8 232.0h0M87.0 215.4h0M86.6 218.6h0M84.9 237.2h0M92.3 217.7h0M89.5 218.5h0M89.0 220.7h0M82.4 218.7h0M93.8 215.7h0M89.5 217.0h0M90.0 216.5h0M79.5 246.6h0M81.1 227.8h0M87.6 216.1h0M90.4 235.9h0M88.4 225.5h0M93.9 214.2h0M87.6 231.0h0M80.5 225.4h0M88.7 225.3h0M85.5 216.9h0M96.0 216.9h0M92.7 232.7h0M81.5 235.6h0M93.6 219.2h0M80.3 226.4h0M88.6 221.3h0M91.7 217.3h0M88.3 232.2h0M85.7 231.4h0M88.5 226.1h0M85.7 238.0h0M78.7 244.7h0M81.9 222.7h0M93.0 231.1h0M89.8 226.9h0M94.2 227.7h0M93.3 214.0h0M90.7 228.3h0M90.0 226.7h0M88.6 213.4h0M88.2 223.9h0M85.7 226.6h0M80.2 235.4h0M81.9 224.4h0M93.5 224.7h0M96.0 229.0h0M94.9 216.5h0M86.2 228.3h0M97.3 225.5h0M87.1 237.5h0M95.0 228.6h0M84.8 234.6h0M86.6 213.3h0M90.9 216.6h0M83.6 233.7h0M94.3 218.7h0M87.9 233.2h0M87.7 232.9h0M83.8 220.3h0M90.7 235.0h0M97.0 220.9h0M88.2 240.9h0M86.8 240.6h0M87.5 232.9h0M94.5 227.9h0M84.2 233.5h0M86.2 213.6h0M81.9 241.5h0M97.3 218.9h0M85.4 217.0h0M93.6 217.5h0M87.4 221.5h0M89.9 216.1h0M86.4 241.7h0M90.4 220.5h0M95.7 218.1h0M86.2 237.5h0M88.8 214.3h0M89.6 218.9h0M83.7 237.3h0M93.1 227.8h0M91.3 232.5h0M89.5 238.5h0M89.6 217.1h0M80.9 232.4h0M92.3 226.7h0M91.0 223.7h0M84.5 232.3h0M77.5 244.6h0M83.0 244.8h0M90.9 225.2h0M85.1 235.1h0M90.7 223.5h0M79.5 234.9h0M88.1 213.7h0M84.1 222.3h0M97.7 220.1h0M80.9 229.5h0M89.7 221.3h0M82.0 239.9h0M85.9 214.0h0M81.8 241.9h0M80.6 229.8h0M91.7 231.0h0M93.3 215.6h0M89.6 219.4h0M91.4 218.3h0M82.1 224.1h0M95.0 231.8h0M91.6 231.9h0M96.9 228.7h0M89.9 214.0h0M81.9 222.5h0M84.9 229.9h0M88.5 212.8h0M82.6 240.3h0M91.8 225.1h0M78.8 238.3h0M95.0 214.8h0M84.6 231.2h0M90.9 219.1h0M93.9 233.3h0M90.7 235.5h0M81.8 221.6h0M83.6 240.4h0M88.7 221.7h0M95.8 230.1h0M91.9 224.1h0M90.5 226.1h0M87.0 218.2h0M83.5 226.5h0M92.1 217.5h0M85.9 242.9h0M83.1 230.1h0M95.1 218.7h0M81.6 231.5h0M91.0 234.7h0M82.1 223.9h0M83.7 222.2h0M87.1 223.5h0M77.5 242.5h0M81.8 227.4h0M90.9 221.1h0M83.7 243.5h0M89.6 227.6h0M79.9 239.5h0M96.4 220.4h0M94.6 225.1h0M79.7 240.9h0M96.9 223.2h0M93.4 222.5h0M88.4 218.8h0M95.9 230.0h0M88.6 239.8h0M87.0 229.1h0M91.4 228.6h0M88.3 222.5h0M88.4 229.9h0M96.9 225.3h0M89.5 236.0h0M93.9 223.8h0M93.3 232.9h0M97.1 223.3h0M92.5 236.4h0M82.3 234.8h0M81.4 231.2h0M94.7 232.6h0M80.0 227.8h0M81.6 242.2h0M95.6 218.6h0M83.9 242.6h0M83.3 234.0h0M92.6 223.9h0M85.9 215.1h0M78.6 239.8h0M82.1 236.6h0M84.9 236.9h0M90.4 221.0h0M91.0 227.2h0M85.1 233.0h0M88.8 219.3h0M80.0 240.9h0M88.0 220.5h0M92.8 216.9h0M85.0 230.9h0M89.0 218.1h0M80.8 234.8h0M75.4 245.5h0M81.6 224.2h0M96.8 216.9h0M82.2 223.2h0M83.6 241.8h0M83.1 223.1h0M90.4 237.2h0M93.1 218.2h0M90.9 214.6h0M90.5 219.7h0M85.7 237.4h0M89.9 233.6h0M83.2 235.9h0M90.4 226.9h0M79.8 245.2h0M81.7 230.9h0M86.3 218.5h0M95.5 222.5h0M96.7 218.2h0M83.2 237.5h0M97.0 222.4h0M84.3 237.9h0M82.0 241.6h0M85.8 217.1h0M87.8 225.8h0M94.0 225.4h0M90.3 216.0h0M83.0 244.2h0M86.4 226.2h0M89.3 232.8h0M81.0 242.8h0M85.4 239.1h0M86.8 232.6h0M92.8 220.0h0M91.0 238.2h0M93.4 219.0h0M94.9 214.0h0M90.4 225.5h0M76.7 243.0h0M76.6 243.1h0M80.4 236.7h0M88.6 220.3h0M82.6 220.4h0M87.3 221.7h0M87.5 221.9h0M81.0 245.2h0M84.3 221.2h0M83.5 237.7h0M89.4 222.0h0M84.5 226.3h0M83.4 218.6h0M87.5 235.3h0M81.0 228.6h0M80.0 235.6h0M84.3 232.3h0M84.4 229.8h0M77.0 246.4h0M84.8 223.6h0M94.5 222.3h0M93.2 226.8h0M85.8 240.3h0M90.4 222.6h0M79.4 238.4h0M88.7 219.7h0M85.6 224.3h0M96.1 230.3h0M97.1 217.7h0M91.1 236.4h0M78.2 244.5h0M93.9 231.1h0M91.1 216.3h0M89.8 224.4h0M82.7 223.0h0M92.6 212.3h0M87.5 217.8h0M97.1 223.2h0M87.0 221.2h0M82.0 219.9h0M92.2 225.0h0M94.8 223.5h0M87.0 232.1h0M87.0 227.6h0M86.1 235.5h0M91.2 217.4h0M82.6 222.8h0M96.2 226.4h0M91.4 215.0h0M89.8 227.6h0M86.6 215.2h0M89.4 226.2h0M85.9 234.2h0M91.1 236.8h0M84.5 218.0h0M88.7 233.8h0M88.2 236.0h0M81.2 225.5h0M77.9 241.5h0M89.2 240.4h0M86.8 215.9h0M83.9 235.5h0M93.3 224.4h0M85.2 226.4h0M83.8 233.2h0M78.4 238.9h0M95.0 231.1h0M96.7 220.0h0M85.4 218.9h0M81.5 225.8h0M90.1 239.2h0M96.9 228.0h0M85.6 225.2h0M92.8 234.4h0M97.8 221.5h0M96.9 229.0h0M86.2 240.7h0M79.3 239.3h0M85.7 237.0h0M87.0 241.7h0M90.9 225.4h0M87.0 225.6h0M95.1 222.6h0M80.8 240.3h0M90.8 220.6h0M84.7 243.3h0M97.1 219.8h0M93.9 232.0h0M89.1 222.6h0M79.9 242.4h0M84.3 228.5h0M92.8 212.6h0M80.1 231.9h0M85.1 237.9h0M84.2 223.2h0M92.5 236.4h0M83.3 237.0h0M81.0 229.5h0M84.6 215.1h0M82.2 224.3h0M82.5 229.7h0M77.0 243.0h0M95.9 226.0h0M84.2 238.9h0M87.7 234.8h0M96.7 223.2h0M87.3 228.0h0M95.9 229.0h0M92.2 220.2h0M82.9 227.3h0M85.0 221.9h0M97.5 225.3h0M90.8 219.2h0M82.7 239.9h0M87.1 220.2h0M86.1 230.9h0M96.4 227.7h0M78.0 244.2h0M90.9 227.5h0M86.8 233.6h0M90.1 233.1h0M95.1 229.1h0M81.8 232.6h0M86.0 233.3h0M93.2 213.0h0M83.7 236.9h0M84.7 218.3h0M86.7 230.8h0M90.7 238.7h0M84.2 224.8h0M92.9 228.1h0M87.3 220.8h0M96.7 222.6h0M86.4 241.7h0M91.6 229.6h0M97.5 222.7h0M82.3 221.3h0M88.9 228.3h0M86.2 229.4h0M91.0 219.1h0M88.6 229.6h0M81.9 229.4h0M81.9 245.4h0M90.4 220.5h0M93.7 228.7h0M81.2 232.7h0M84.6 227.7h0M88.7 231.3h0M90.7 233.5h0M85.8 241.9h0M95.2 226.3h0M94.4 231.7h0M82.6 221.8h0M85.8 224.7h0M96.3 226.7h0M86.4 222.5h0M92.1 214.0h0M89.9 236.1h0M85.5 220.9h0M93.2 226.6h0M82.3 233.0h0M91.4 227.1h0M91.4 232.0h0M92.6 212.8h0M94.1 217.7h0M96.2 224.0h0M85.1 234.2h0M86.9 235.2h0M89.3 226.9h0M86.4 224.2h0M94.2 231.1h0M85.4 236.4h0M95.4 229.1h0M93.9 221.8h0M78.7 241.8h0M88.8 221.0h0M77.8 243.4h0M87.1 237.1h0M88.2 213.7h0M93.0 235.6h0M82.5 244.3h0M86.4 238.9h0M92.4 235.9h0M91.1 236.3h0M82.0 229.5h0M93.5 213.1h0M79.6 243.3h0M82.1 230.2h0M87.1 226.2h0M93.3 229.7h0M83.0 241.6h0M88.8 238.4h0M86.7 226.1h0M91.5 217.5h0M85.9 219.0h0M84.1 239.5h0M87.5 234.9h0M80.5 239.0h0M81.0 226.1h0M92.9 221.1h0M78.8 237.5h0M81.7 221.6h0M83.1 239.3h0M89.7 225.4h0M79.5 242.3h0M87.0 234.3h0M94.8 219.5h0M85.8 236.8h0M87.5 227.7h0M86.6 241.3h0M85.6 216.5h0M85.6 217.9h0M85.2 216.8h0M85.2 233.1h0M90.5 216.5h0M94.5 225.0h0M89.3 224.6h0M91.7 222.9h0M93.8 214.2h0M84.7 230.6h0M83.8 218.5h0M88.5 216.2h0M88.4 237.9h0M85.9 239.8h0M89.7 214.5h0M92.4 227.1h0M78.1 241.5h0M80.7 243.5h0M83.8 231.5h0M85.2 238.7h0M83.2 230.0h0M81.4 236.1h0M77.0 242.3h0M92.5 233.3h0M87.7 241.2h0M82.4 220.6h0M81.8 219.8h0M82.9 232.7h0M87.9 237.5h0M88.2 222.9h0M91.5 213.5h0M87.5 236.5h0M92.9 222.3h0M96.4 220.6h0M79.3 246.8h0M96.1 223.3h0M80.2 242.2h0M77.4 242.2h0M80.1 238.9h0M88.2 231.5h0M87.0 220.2h0M93.3 227.1h0M81.0 239.1h0M85.9 230.1h0M94.5 221.9h0M97.3 222.3h0M83.4 232.9h0M76.5 243.7h0M79.6 244.4h0M85.8 241.1h0M80.8 233.1h0M92.2 224.0h0M89.5 226.4h0M88.6 217.4h0M79.9 241.6h0M96.6 223.6h0M93.3 234.0h0M90.4 234.7h0M96.5 228.0h0M91.6 228.4h0M88.2 212.7h0M81.8 227.4h0M79.5 236.1h0M87.6 238.4h0M82.3 232.1h0M94.0 220.6h0M88.8 216.0h0M85.2 218.6h0M77.7 243.1h0M92.0 232.6h0M86.1 234.7h0M93.6 218.7h0M87.4 221.4h0M84.9 218.1h0M83.5 242.9h0M87.1 229.2h0M89.4 218.2h0M83.5 227.4h0M88.2 233.1h0M88.1 217.4h0M82.3 239.0h0M83.6 227.3h0M88.2 218.5h0M84.2 216.1h0M94.4 220.0h0M86.7 232.2h0M93.4 220.4h0M89.5 237.4h0M87.9 224.5h0M86.8 235.4h0M85.1 237.8h0M85.0 217.1h0M87.9 214.1h0M87.3 219.0h0M93.9 214.2h0M83.2 238.1h0M94.2 225.7h0M87.9 223.6h0M79.4 236.1h0M89.2 225.7h0M93.2 225.6h0M92.9 233.6h0M88.8 220.5h0M82.5 235.1h0M89.9 236.3h0M94.2 215.9h0M84.8 216.7h0M91.2 234.6h0M82.9 240.2h0M88.5 226.6h0M87.8 229.5h0M88.1 223.2h0M93.7 230.2h0M80.4 232.5h0M92.9 229.4h0M82.5 231.0h0M90.9 218.4h0M95.4 226.3h0M84.6 230.2h0M92.5 218.0h0M83.4 243.4h0M89.1 221.8h0M89.7 229.8h0M86.8 225.3h0M85.2 240.7h0M85.1 231.0h0M88.4 230.5h0M79.4 239.0h0M90.4 216.8h0M94.5 225.2h0M83.4 230.6h0M96.8 224.6h0M81.0 233.0h0M84.2 219.3h0M85.4 226.1h0M78.2 239.9h0M92.4 219.6h0M83.3 220.1h0M92.1 233.8h0M82.4 236.7h0M92.7 224.2h0M90.8 233.3h0M95.9 225.0h0M86.7 227.8h0M94.7 223.6h0M80.5 224.9h0M79.3 240.6h0M97.7 223.8h0M89.2 220.1h0M82.6 240.8h0M91.9 237.4h0M82.4 244.2h0M94.9 231.1h0M96.9 223.6h0M84.9 234.9h0M75.8 244.8h0M86.2 228.7h0M86.2 237.2h0M79.2 239.8h0M82.5 226.0h0M84.7 224.1h0M87.0 241.7h0M79.0 236.6h0M84.5 228.2h0M82.2 219.5h0M89.4 231.9h0M89.2 230.5h0M86.0 223.9h0M82.1 223.6h0M86.7 227.6h0M87.6 235.4h0M97.8 223.1h0M89.0 232.4h0M85.4 228.1h0M86.0 224.1h0M82.1 245.1h0M82.7 232.2h0M84.6 235.2h0M87.8 230.6h0M86.9 221.8h0M92.1 223.4h0M82.6 234.6h0M83.2 233.2h0M80.6 235.7h0M96.8 224.9h0M86.6 234.3h0M92.6 224.5h0M81.2 234.9h0M82.1 229.4h0M89.5 231.5h0M97.4 224.2h0M80.4 239.3h0M90.9 217.8h0M93.7 224.2h0M93.8 221.1h0M96.4 216.9h0M84.1 222.7h0M87.2 230.8h0M81.7 232.5h0M97.0 228.0h0M85.7 232.5h0M83.7 244.5h0M90.9 238.1h0M90.9 216.4h0M92.9 235.5h0M90.5 236.6h0M96.7 225.4h0M83.4 242.1h0M84.5 239.9h0M91.0 215.1h0M93.9 231.8h0M89.3 219.8h0M80.7 244.5h0M84.6 242.1h0M80.3 225.1h0M86.9 228.9h0M77.4 244.1h0M89.6 230.1h0M81.3 226.6h0M95.9 226.8h0M84.2 241.9h0M77.0 242.8h0M86.5 215.9h0M88.5 212.8h0M91.4 233.9h0M90.6 238.8h0M87.8 221.6h0M80.3 233.9h0M85.3 214.9h0M83.9 221.8h0M93.4 220.4h0M89.7 235.6h0M87.3 215.8h0M80.5 244.4h0M79.0 245.5h0M95.6 221.5h0M82.9 223.9h0M89.6 222.6h0M85.8 234.8h0M90.0 234.8h0M94.5 232.8h0M78.4 243.4h0M90.1 223.9h0M91.3 221.5h0M86.6 233.9h0M92.9 220.6h0M92.4 231.0h0M89.4 215.3h0M87.1 215.2h0M89.5 239.7h0M83.8 227.2h0M89.4 231.6h0M90.8 224.2h0M80.1 236.6h0M82.8 224.0h0M80.9 241.1h0M85.5 231.3h0M89.6 216.3h0M82.8 221.3h0M87.7 214.8h0M85.1 225.1h0M89.3 222.7h0M80.7 244.0h0M89.8 229.4h0M85.6 239.8h0M92.0 221.8h0M82.2 226.4h0M82.7 223.4h0M80.3 243.0h0M85.5 231.1h0M88.8 218.0h0M93.1 232.3h0M79.5 234.8h0M88.3 217.3h0M96.1 223.5h0M89.7 215.6h0M81.9 237.2h0M92.0 227.1h0M80.3 235.1h0M86.8 231.9h0M84.6 231.8h0M87.9 223.2h0M83.4 217.7h0M80.3 232.6h0M84.0 218.3h0M92.1 216.7h0M81.5 229.9h0M85.9 219.8h0M90.6 234.4h0M96.9 223.7h0M92.9 233.8h0M88.1 213.3h0M82.1 227.0h0M94.0 215.9h0M87.9 220.3h0M87.1 225.7h0M81.1 228.0h0M81.4 245.1h0M85.6 216.4h0M92.1 217.7h0M96.2 230.2h0M93.7 233.2h0M83.8 224.9h0M83.7 244.3h0M82.8 221.6h0M81.7 236.0h0M85.6 219.8h0M78.4 240.3h0M87.2 213.9h0M84.3 219.1h0M94.8 231.4h0M86.4 228.4h0M88.0 239.5h0M78.4 246.8h0M95.2 221.1h0M84.9 215.8h0M91.2 228.1h0M82.2 219.4h0M84.9 222.1h0M86.2 232.0h0M84.3 232.8h0M84.5 229.4h0M86.2 241.5h0M92.4 222.6h0M92.7 232.1h0M78.3 246.8h0M87.4 234.3h0M94.1 216.2h0M90.6 212.9h0M86.8 216.4h0M90.2 226.3h0M93.6 223.3h0M86.6 241.6h0M80.6 227.2h0M80.5 225.6h0M92.6 231.5h0M82.8 242.3h0M91.7 221.4h0M94.1 219.9h0M92.6 224.7h0M79.0 240.2h0M88.6 225.6h0M86.1 231.8h0M92.5 215.7h0M88.1 220.9h0M90.8 233.9h0M80.3 229.0h0M96.3 225.9h0M93.6 227.9h0M94.4 215.6h0M94.4 227.6h0M88.9 213.8h0M85.1 225.6h0M91.2 220.3h0M97.6 223.5h0M86.8 228.5h0M82.9 221.9h0M82.5 241.3h0M93.8 225.0h0M93.7 215.5h0M91.6 236.2h0M88.0 233.5h0M85.7 227.0h0M85.9 233.3h0M94.5 223.8h0M87.8 225.6h0M92.1 227.2h0M81.9 229.1h0M93.3 225.9h0M90.7 219.4h0M81.2 245.0h0M87.7 236.9h0M83.3 225.9h0M96.6 217.3h0M84.5 244.1h0M95.4 221.2h0M91.4 215.7h0M85.0 218.8h0M84.4 235.5h0M96.5 222.7h0M82.7 226.7h0M80.8 241.5h0M93.2 235.2h0M89.9 222.3h0M81.4 238.6h0M78.6 244.9h0M86.7 216.4h0M87.6 220.1h0M89.9 234.0h0M94.3 229.4h0M89.1 231.1h0M84.7 229.4h0M88.6 238.3h0M91.2 215.6h0M92.8 221.7h0M92.0 220.0h0M82.0 241.8h0M79.5 241.4h0M87.7 212.9h0M85.8 230.9h0M86.2 228.6h0M96.2 225.5h0M95.6 222.2h0M92.1 217.4h0M88.4 238.1h0M94.0 213.8h0M92.1 217.4h0M97.2 222.7h0M94.6 217.8h0M80.1 244.0h0M84.8 220.1h0M92.0 236.9h0M81.7 230.7h0M90.4 233.0h0M81.6 226.8h0M80.1 229.2h0M95.3 219.6h0M83.3 217.9h0M81.3 234.6h0M88.3 227.4h0M91.8 232.6h0M91.8 215.7h0M83.7 244.5h0M89.5 229.9h0M83.7 227.3h0M82.9 241.7h0M80.8 241.3h0M86.9 224.3h0M84.6 216.9h0M82.4 234.7h0M89.9 227.5h0M87.2 228.0h0M84.4 232.1h0M84.1 222.4h0M84.6 239.3h0M80.3 244.5h0M80.4 237.7h0M86.5 215.3h0M81.6 226.3h0M87.7 235.3h0M89.3 240.4h0M83.5 234.7h0M81.1 226.1h0M81.8 232.9h0M88.9 239.8h0M93.1 227.1h0M89.3 212.9h0M93.2 215.7h0M84.5 222.5h0M78.6 245.9h0M87.9 227.3h0M91.2 213.1h0M94.5 231.3h0M89.8 234.1h0M90.0 213.6h0M93.4 221.0h0M87.2 213.9h0M85.3 240.8h0M83.2 224.3h0M82.7 223.3h0M86.3 233.4h0M82.5 243.6h0M92.8 231.4h0M83.8 241.8h0M85.0 226.6h0M88.1 214.0h0M86.4 214.9h0M90.3 231.0h0M84.3 226.3h0M80.2 226.3h0M83.2 232.7h0M93.9 231.6h0M92.5 234.1h0M83.4 227.2h0M78.6 245.9h0M83.5 223.1h0M79.3 236.4h0M96.8 216.3h0M87.6 238.8h0M89.8 224.2h0M88.0 229.5h0M81.0 230.8h0M97.0 217.8h0M85.0 232.8h0M90.7 239.1h0M82.6 238.3h0M83.3 239.3h0M86.7 232.1h0M95.6 218.2h0M86.5 224.1h0M91.2 223.5h0M86.2 224.5h0M86.3 213.3h0M81.6 245.5h0M82.4 236.5h0M89.3 228.3h0M89.3 236.4h0M88.2 239.5h0M81.9 220.0h0M85.6 239.6h0M85.7 243.3h0M81.6 231.0h0M92.6 223.5h0M82.0 219.6h0M85.9 239.5h0M87.9 232.6h0M80.1 230.6h0M92.2 223.6h0M75.4 245.9h0M89.0 223.9h0M79.1 244.7h0M92.5 232.1h0M84.7 215.2h0M85.9 228.5h0M93.9 222.6h0M80.4 228.7h0M96.5 219.4h0M92.3 235.8h0M86.1 217.8h0M82.5 243.2h0M81.7 236.3h0M89.0 222.1h0M91.7 236.6h0M90.1 216.4h0M94.9 229.3h0M94.7 233.5h0M78.6 245.7h0M88.4 221.2h0M80.0 236.2h0M94.9 221.4h0M86.6 242.2h0M81.8 242.8h0M81.1 228.4h0M96.7 224.5h0M84.0 238.6h0M81.2 242.2h0M92.6 232.7h0M82.7 237.4h0M84.6 238.6h0M88.5 224.5h0M82.3 229.6h0M89.7 218.8h0M96.1 230.5h0M81.4 225.9h0M89.7 226.3h0M95.0 231.5h0M95.1 224.4h0M94.0 227.2h0M80.0 241.0h0M93.2 234.3h0M85.8 221.2h0M94.6 216.9h0M81.0 230.7h0M96.4 218.8h0M86.4 214.1h0M85.0 239.8h0M78.5 240.2h0M86.3 236.0h0M85.5 232.4h0M95.0 231.4h0M82.4 222.3h0M82.8 230.1h0M83.1 225.5h0M95.3 222.6h0M83.8 224.2h0M87.3 234.6h0M85.4 234.9h0M83.8 237.8h0M94.3 220.7h0M87.1 215.5h0M82.4 232.2h0M94.1 218.7h0M93.4 235.1h0M93.9 214.3h0M86.9 217.1h0M92.8 235.7h0M95.6 225.7h0M80.0 239.1h0M82.8 242.1h0M81.4 241.9h0M83.1 232.6h0M82.2 233.7h0M83.1 232.7h0M93.4 229.3h0M96.9 217.4h0M91.9 225.9h0M83.6 229.1h0M86.3 239.7h0M93.2 226.0h0M92.7 232.9h0M88.8 219.7h0M90.6 230.4h0M97.4 223.8h0M85.3 232.2h0M80.0 244.9h0M83.9 229.6h0M87.0 215.6h0M80.9 235.0h0M82.7 229.8h0M84.4 221.2h0M89.8 229.4h0M82.4 235.8h0M82.9 241.3h0M94.5 220.2h0M86.9 224.7h0M97.6 220.2h0M91.9 229.1h0M91.2 227.0h0M87.1 234.8h0M85.6 220.5h0M87.5 222.6h0M95.8 215.6h0M84.3 240.2h0M89.2 219.9h0M87.0 216.4h0M79.2 243.0h0M86.7 242.3h0M85.6 222.8h0M86.2 224.6h0M86.7 225.6h0M95.3 231.1h0M82.8 229.5h0M82.0 225.4h0M92.9 226.3h0M95.1 216.1h0M93.1 217.8h0M87.9 229.7h0M91.9 230.4h0M81.6 245.2h0M86.1 217.7h0M87.5 230.0h0M86.4 237.1h0M83.3 234.5h0M81.0 237.4h0M93.3 230.7h0M96.1 226.3h0M83.7 238.7h0M92.8 227.1h0M85.2 233.2h0M94.5 216.4h0M89.0 225.2h0M81.1 243.8h0M89.2 231.5h0M97.5 220.0h0M94.4 220.3h0M78.9 242.5h0M90.5 227.5h0M80.6 245.5h0M82.9 237.8h0M89.7 225.6h0M83.0 222.6h0M82.2 220.8h0M81.0 240.4h0M86.0 235.6h0M87.5 212.9h0M90.2 220.5h0M94.7 232.4h0" stroke="#f26522" stroke-width="1.44" stroke-linecap="round"/>
<path d="M70.2 236.2h0M71.7 237.8h0M66.3 236.9h0M67.2 237.0h0M69.0 234.9h0M67.1 233.5h0M69.2 236.3h0M70.5 231.9h0M69.8 234.7h0M68.3 234.2h0M71.3 232.9h0M70.9 235.1h0M64.3 234.5h0M68.1 230.2h0M65.4 230.4h0M72.0 234.7h0M67.8 234.8h0M67.9 233.9h0M69.3 236.7h0M65.5 230.3h0M67.5 238.0h0M69.3 236.7h0M68.5 239.1h0M70.1 239.4h0M71.4 234.6h0M67.6 229.1h0M66.4 229.1h0M68.5 232.4h0M70.4 231.8h0M72.2 230.8h0M65.8 230.6h0M68.1 230.7h0M69.4 230.7h0M68.7 236.9h0M67.8 238.8h0M67.2 228.9h0M66.7 229.5h0M68.3 231.1h0M67.2 234.4h0M67.3 230.8h0M65.9 230.6h0M66.2 235.8h0M72.0 234.1h0M72.5 236.7h0M72.1 234.3h0M67.8 238.7h0M72.2 231.8h0M70.8 237.3h0M70.0 230.8h0M64.5 232.0h0M66.4 234.3h0M67.2 232.8h0M66.8 229.6h0M66.5 236.0h0M66.5 238.7h0M71.8 233.5h0M66.7 235.8h0M65.9 230.6h0M66.5 232.7h0M70.9 231.5h0M66.6 241.5h0M65.9 229.5h0M68.3 242.3h0M66.6 242.2h0M66.0 231.0h0M65.9 240.9h0M65.1 236.3h0M64.7 234.9h0M66.5 237.1h0M67.8 240.3h0M67.0 238.1h0M66.0 229.9h0M66.5 229.9h0M68.7 243.0h0M65.6 233.0h0M66.3 240.2h0M67.6 242.5h0M66.5 240.6h0M67.2 241.4h0M67.4 240.9h0M65.2 236.8h0M68.5 242.6h0M69.3 243.7h0M65.3 235.0h0M64.8 235.4h0M65.6 236.0h0M66.2 235.0h0M66.1 229.6h0M64.7 232.9h0M66.3 240.0h0M67.8 242.0h0M70.2 244.7h0M65.7 229.2h0M65.8 240.1h0M65.5 235.6h0M65.8 234.5h0M65.4 234.4h0M66.9 241.1h0M66.8 232.1h0M68.6 242.0h0" stroke="#2a64b0" stroke-width="1.44" stroke-linecap="round"/>
<path d="M68.4 243.8h0M67.0 238.2h0M68.4 239.6h0M68.1 245.0h0M68.7 239.4h0M68.7 243.1h0M67.6 238.1h0M68.5 239.2h0M69.0 243.8h0M69.9 244.0h0M69.4 241.0h0M68.0 241.5h0M68.7 239.6h0M69.2 243.3h0M68.8 244.1h0M68.8 241.8h0M68.0 241.2h0M67.9 238.1h0M68.6 243.0h0M68.5 244.1h0" stroke="#2a64b0" stroke-width="1.44" stroke-linecap="round"/>
<path d="M69.1 249.4h0M68.0 246.9h0M70.7 248.3h0M70.4 247.2h0M68.8 249.0h0M72.6 248.3h0M70.3 245.7h0M68.3 249.3h0M73.2 247.3h0M64.7 248.5h0M67.0 247.7h0M68.4 247.7h0M67.7 248.7h0M70.1 246.9h0M66.5 250.0h0M70.6 248.3h0M66.3 250.0h0M67.5 248.2h0M70.1 247.4h0M69.7 247.7h0M65.6 246.8h0M68.3 247.6h0M70.3 249.6h0M69.0 250.1h0M68.7 248.2h0" stroke="#8a6ab8" stroke-width="1.44" stroke-linecap="round"/>
<path d="M75.8 243.7h0M75.9 244.9h0M75.2 245.7h0M76.4 244.8h0M75.2 245.3h0M75.2 244.4h0M75.5 245.8h0M75.7 244.9h0M75.7 245.6h0M75.8 245.7h0" stroke="#203a70" stroke-width="1.44" stroke-linecap="round"/>
<path d="M37.4 235.2h0M37.3 234.2h0M37.8 234.5h0M37.1 235.5h0M37.1 234.2h0M37.2 235.5h0" stroke="#b08040" stroke-width="1.44" stroke-linecap="round"/>
<path d="M10.6 253.8h0M13.2 252.8h0M12.0 252.6h0M9.6 252.5h0M10.5 252.1h0M11.8 253.4h0M11.1 252.9h0M11.4 252.9h0M13.0 253.8h0M13.3 253.3h0M14.4 253.5h0M13.2 253.4h0M13.6 252.4h0M11.2 253.1h0" stroke="#905080" stroke-width="1.44" stroke-linecap="round"/>
<path d="M77.2 263.7h0M75.0 259.8h0M72.6 263.2h0M76.7 264.6h0M73.1 263.3h0M75.5 260.7h0M80.0 260.9h0M73.1 261.7h0M76.0 259.5h0M83.8 261.4h0M75.1 259.8h0M72.1 260.1h0M71.0 262.3h0M79.0 264.1h0M73.7 263.8h0M72.8 260.2h0M82.2 263.5h0M72.3 262.8h0M76.0 264.7h0M81.7 260.7h0M73.8 262.0h0M75.7 263.8h0M72.7 264.2h0M78.2 261.4h0M83.5 261.1h0M76.2 263.6h0M81.7 260.8h0M76.3 264.5h0M80.9 260.8h0M80.8 259.7h0M75.5 262.4h0M78.0 262.7h0M79.3 260.0h0M77.6 259.2h0M72.9 262.0h0M75.3 263.1h0M71.9 262.1h0M75.9 260.2h0M82.6 261.1h0M74.2 263.8h0M77.7 262.6h0M80.0 262.1h0M81.5 262.3h0M76.7 264.4h0M76.8 263.2h0M77.4 264.6h0M71.1 260.7h0M72.3 264.2h0M74.0 260.5h0M78.5 263.3h0M73.6 264.0h0M76.3 262.0h0M75.1 261.7h0M74.3 259.6h0M82.2 261.4h0M79.1 260.8h0M71.8 260.3h0M80.7 262.2h0M79.3 263.4h0M78.0 263.1h0M72.7 260.1h0M76.1 264.0h0M73.1 263.7h0M81.6 263.4h0M81.3 260.3h0M70.3 262.5h0M79.8 263.9h0M80.0 262.6h0M75.0 264.6h0M73.7 261.7h0M71.6 262.5h0M79.6 262.1h0M75.2 259.3h0M78.9 259.3h0M80.6 262.7h0M82.1 263.0h0M80.7 260.7h0M83.2 262.5h0M77.7 261.3h0M81.8 262.8h0" stroke="#6a40a0" stroke-width="1.44" stroke-linecap="round"/>
<path d="M84.9 263.1h0M87.3 261.2h0M87.5 265.4h0M86.2 264.3h0M86.3 262.0h0M85.9 264.1h0M85.2 263.3h0M85.7 263.9h0M89.3 263.6h0M84.9 264.9h0M86.1 263.2h0M87.0 264.2h0M86.7 263.9h0M86.6 262.6h0M87.3 264.3h0" stroke="#2a4a9a" stroke-width="1.44" stroke-linecap="round"/>
<path d="M153.6 253.1h0M140.6 253.8h0M135.9 254.6h0M161.6 249.5h0M141.9 255.6h0M153.9 252.8h0M141.4 254.4h0M158.0 252.3h0M150.5 252.8h0M142.1 255.3h0M135.7 256.0h0M143.3 252.6h0M144.5 254.8h0M153.9 251.8h0M159.6 250.1h0M143.9 255.9h0M161.6 251.2h0M154.0 252.9h0M144.1 252.0h0M139.4 255.3h0M141.0 254.0h0M147.2 253.0h0M140.8 253.7h0M136.2 254.5h0M156.5 252.8h0M156.2 251.3h0M143.7 256.3h0M153.7 250.2h0M146.1 253.4h0M159.0 252.0h0M160.0 250.0h0M143.7 251.8h0M136.8 252.2h0M151.3 253.4h0M157.4 250.5h0M148.0 252.5h0M141.3 252.6h0M160.4 253.4h0M151.5 252.4h0M152.2 251.4h0M160.2 254.8h0M139.9 255.9h0M136.4 256.1h0M155.0 252.2h0M141.8 256.0h0M138.7 254.4h0M156.2 252.3h0M136.5 256.5h0M156.3 250.4h0M137.0 256.2h0M148.5 252.9h0M146.5 254.2h0M162.1 254.6h0M144.4 254.7h0M156.9 252.4h0M151.4 251.1h0M160.6 248.0h0M148.3 254.2h0M143.9 254.7h0M160.7 250.8h0M155.4 253.3h0M136.3 256.7h0M155.0 254.4h0M159.7 250.4h0M153.8 251.9h0M159.4 247.6h0M145.1 254.4h0M137.9 255.8h0M158.6 247.2h0M138.1 256.0h0M147.3 252.7h0M154.0 251.4h0M142.5 256.4h0M149.7 253.6h0M143.9 254.2h0M143.2 253.8h0M148.6 254.4h0M147.3 252.4h0M152.2 253.8h0M140.0 254.4h0M149.7 253.8h0M153.0 253.2h0M147.2 253.6h0M161.3 250.7h0M157.5 250.2h0M147.8 252.3h0M162.0 254.5h0M152.5 252.3h0M153.0 253.3h0M148.3 253.0h0M150.2 252.2h0M151.1 254.4h0M159.6 249.4h0M150.0 253.4h0M135.1 255.7h0M158.8 251.3h0M158.4 251.3h0M151.4 251.7h0M138.9 253.9h0M153.2 252.0h0M138.4 256.0h0M161.8 249.6h0M137.5 254.9h0M161.2 247.6h0M141.3 253.6h0M154.5 254.8h0M137.9 254.5h0M156.5 250.9h0M137.8 254.9h0M139.2 254.0h0M142.0 255.2h0M160.3 247.0h0M136.2 256.1h0M145.4 252.8h0M136.0 255.1h0M140.7 253.5h0M150.1 255.8h0M158.2 253.1h0M155.0 252.9h0M148.1 253.4h0M161.2 252.6h0M137.9 254.4h0M148.1 252.0h0M142.7 253.9h0M141.0 254.3h0M161.2 251.8h0M139.7 255.5h0M138.8 257.3h0M135.8 254.6h0M153.0 253.5h0M158.5 251.5h0M156.6 251.5h0M140.8 253.2h0M138.1 254.0h0M150.0 254.3h0M152.2 252.0h0M155.6 251.4h0M153.9 252.8h0M135.7 256.2h0M149.9 252.4h0M138.7 254.0h0M152.6 252.2h0M137.5 254.9h0M156.3 253.5h0M153.6 255.6h0M145.8 254.3h0M152.8 255.1h0M144.7 253.8h0M141.8 253.3h0M138.6 254.9h0M151.6 253.2h0M151.6 252.0h0M149.7 253.7h0M139.0 256.5h0M156.7 254.5h0M142.5 255.3h0M153.6 251.2h0M155.5 250.0h0M142.2 253.1h0M154.4 252.8h0M146.0 252.8h0M137.6 256.0h0M149.3 251.6h0M144.0 255.1h0M136.5 255.0h0M136.8 254.6h0M136.3 256.2h0M138.7 254.6h0M136.6 254.5h0M136.2 255.0h0M149.4 251.5h0M137.9 255.0h0M135.2 255.4h0M148.8 253.3h0M145.7 254.8h0M138.9 254.1h0M139.0 255.2h0M151.0 252.0h0M144.5 253.7h0M152.0 253.9h0M144.7 253.5h0M158.2 252.6h0M161.4 250.8h0M145.0 252.1h0M154.3 250.1h0M141.2 252.0h0M134.9 254.4h0M143.6 254.1h0M161.4 251.4h0M158.5 253.4h0M161.2 248.6h0M139.0 255.8h0M148.9 254.7h0M149.8 254.8h0M136.7 256.1h0M158.0 251.1h0M159.5 249.6h0M153.2 251.6h0M148.5 253.4h0M155.7 251.9h0M159.7 250.6h0M157.3 249.6h0M143.9 253.8h0M159.5 253.8h0M149.8 251.3h0M145.5 253.6h0M146.8 255.1h0M156.9 252.4h0M144.5 253.5h0M153.1 250.2h0M139.5 253.6h0M159.0 251.9h0M135.6 255.8h0M156.5 252.3h0M139.2 254.1h0M153.7 252.0h0M146.6 253.5h0M159.5 253.0h0M157.8 249.0h0M159.8 250.4h0M153.8 250.4h0M137.9 254.1h0M150.5 252.9h0M137.5 256.1h0M142.5 252.5h0M161.4 250.3h0M160.9 248.6h0M145.4 252.5h0M138.2 254.6h0M150.6 254.8h0M138.1 255.3h0M160.9 253.2h0M146.7 251.2h0M155.0 251.7h0M152.7 250.0h0M143.8 253.6h0M136.5 255.7h0M137.5 254.0h0M160.0 249.2h0M137.2 255.4h0" stroke="#a86e3c" stroke-width="1.44" stroke-linecap="round"/>
<path d="M180.4 269.2h0M185.0 287.0h0M179.9 290.6h0M174.0 275.3h0M175.6 281.4h0M173.9 274.2h0M183.1 262.6h0M175.0 262.1h0M189.8 268.2h0M189.8 263.8h0M190.4 280.8h0M190.7 279.7h0M184.6 260.4h0M191.5 285.6h0M177.1 268.5h0M188.4 280.1h0M182.2 261.5h0M198.9 291.4h0M176.8 262.3h0M170.6 273.6h0M192.0 270.8h0M193.8 266.2h0M176.7 268.6h0M179.9 260.2h0M179.0 260.1h0M192.7 264.2h0M183.8 281.8h0M191.5 274.0h0M189.8 270.1h0M179.7 271.7h0M175.5 263.0h0M194.3 267.3h0M188.5 260.8h0M176.2 277.5h0M193.8 287.6h0M190.8 283.6h0M183.2 278.7h0M174.4 283.2h0M192.9 279.8h0M188.4 272.2h0M190.4 265.2h0M194.0 278.8h0M195.4 276.1h0M193.2 267.8h0M172.0 273.4h0M177.5 266.5h0M176.3 264.3h0M190.7 289.5h0M195.3 278.3h0M174.1 283.2h0M183.7 270.8h0M176.7 269.2h0M169.4 269.0h0M180.3 293.1h0M176.3 269.9h0M183.6 265.5h0M177.7 280.3h0M188.2 272.5h0M187.0 260.9h0M177.9 262.1h0M178.9 279.5h0M171.0 270.8h0M185.5 265.5h0M185.2 267.2h0M174.0 282.2h0M183.8 272.5h0M175.3 280.9h0M192.4 267.9h0M189.5 261.5h0M196.1 280.9h0M171.8 276.8h0M172.7 291.2h0M181.4 292.6h0M196.3 288.6h0M178.5 277.4h0M185.3 290.5h0M181.8 287.3h0M173.2 267.8h0M181.9 274.8h0M178.8 288.9h0M180.3 265.2h0M177.1 277.2h0M186.7 269.4h0M170.6 279.6h0M172.9 282.3h0M177.2 260.1h0M186.4 274.8h0M177.7 269.5h0M183.6 269.1h0M190.6 269.4h0M193.1 275.6h0M189.4 267.9h0M178.3 272.2h0M181.2 267.5h0M194.8 271.3h0M185.6 265.8h0M175.9 283.0h0M172.4 265.7h0M175.1 262.8h0M188.0 270.0h0M186.9 263.3h0M202.6 285.1h0M184.6 269.3h0M190.0 290.6h0M175.8 263.6h0M187.3 261.3h0M190.1 275.1h0M189.4 266.8h0M172.8 265.5h0M184.1 274.5h0M186.4 265.5h0M170.1 278.4h0M188.2 274.4h0M182.3 276.3h0M191.9 268.1h0M175.5 272.8h0M177.0 279.4h0M181.6 284.5h0M182.9 261.1h0M172.1 275.1h0M175.2 283.0h0M180.5 259.3h0M172.3 291.6h0M169.9 270.5h0M182.0 269.4h0M182.6 288.2h0M179.9 277.0h0M178.5 269.4h0M186.7 282.9h0M174.2 274.2h0M185.2 267.7h0M179.0 274.9h0M171.6 273.6h0M182.6 262.8h0M185.5 265.6h0M197.1 287.9h0M178.5 267.1h0M175.4 264.4h0M181.6 273.0h0M187.5 265.0h0M194.2 267.1h0M188.9 269.2h0M185.8 273.5h0M195.7 275.5h0M179.8 269.3h0M186.4 277.8h0M175.1 271.2h0M191.2 278.3h0M184.2 295.2h0M190.9 269.9h0M180.2 263.8h0M176.6 294.1h0M184.8 274.9h0M172.6 293.5h0M176.3 260.7h0M170.2 277.4h0M190.3 283.7h0M188.7 263.0h0M196.0 275.8h0M172.9 272.4h0M169.2 275.5h0M173.1 279.4h0M177.8 277.3h0M180.5 275.1h0M179.4 273.2h0M184.7 264.2h0M183.0 278.0h0M194.2 283.1h0M186.8 281.1h0M178.5 296.3h0M182.5 273.4h0M179.3 272.4h0M177.5 289.1h0M190.8 264.5h0M187.1 272.6h0M186.3 262.6h0M172.6 266.9h0M176.1 274.4h0M188.3 268.2h0M174.7 281.3h0M174.3 271.7h0M170.4 277.3h0M171.5 265.6h0M193.0 269.3h0M190.0 273.2h0M194.1 275.5h0M174.4 283.0h0M181.4 260.7h0M198.5 285.4h0M177.0 273.0h0M188.6 270.5h0M178.4 275.3h0M190.8 289.7h0M188.2 278.1h0M189.0 267.3h0M185.0 280.8h0M184.7 260.1h0M192.2 274.3h0M187.5 276.6h0M190.7 266.3h0M181.4 263.9h0M169.0 275.6h0M177.8 261.7h0M178.2 271.0h0M190.7 267.4h0M173.9 278.1h0M196.2 271.2h0M181.0 293.3h0M182.5 269.4h0M175.2 281.5h0M173.5 267.1h0M175.8 278.1h0" stroke="#7cc070" stroke-width="1.44" stroke-linecap="round"/>
<path d="M188.4 250.9h0M190.8 261.3h0M167.0 265.6h0M185.3 256.0h0M174.0 244.2h0M179.6 256.6h0M176.4 251.6h0M166.9 253.3h0M188.1 245.4h0M190.6 257.1h0M185.7 245.1h0M195.1 247.5h0M187.1 251.9h0M180.9 246.0h0M173.6 252.3h0M183.2 251.9h0M166.5 249.1h0M194.2 245.5h0M172.8 251.2h0M200.0 246.1h0M192.2 259.6h0M184.5 248.6h0M167.1 258.7h0M172.2 256.2h0M190.0 241.7h0M192.6 249.0h0M174.2 248.8h0M185.0 256.0h0M185.9 253.5h0M196.8 257.9h0M179.7 249.6h0M204.2 250.5h0M169.0 294.9h0M188.1 260.0h0M180.2 258.1h0M192.0 244.9h0M181.4 244.8h0M195.3 247.9h0M165.1 253.3h0M169.9 252.5h0M168.2 287.2h0M176.7 248.8h0M162.2 262.0h0M169.0 253.7h0M176.6 249.2h0M180.3 243.8h0M182.4 247.7h0M187.6 248.3h0M167.4 251.2h0M190.2 259.3h0M181.1 243.9h0M175.9 255.5h0M196.4 256.9h0M187.8 254.9h0M180.6 242.2h0M197.6 251.3h0M192.5 249.3h0M183.6 258.4h0M177.5 250.3h0M187.5 247.4h0M162.9 270.8h0M191.8 255.1h0M194.3 254.0h0M166.0 283.5h0M161.1 283.6h0M186.8 251.6h0M166.9 267.5h0M178.1 254.2h0M171.2 256.0h0M163.8 254.5h0M188.0 241.1h0M175.9 252.1h0M182.4 245.3h0M190.4 255.8h0M160.7 263.1h0M187.1 243.1h0M166.3 284.7h0M175.7 258.3h0M173.0 248.7h0M168.4 284.4h0M164.4 258.8h0M185.2 248.0h0M163.7 253.9h0M175.6 251.5h0M172.6 246.9h0M183.9 248.5h0M198.1 249.8h0M192.6 246.1h0M171.0 254.9h0M173.4 252.4h0M164.1 286.6h0M177.4 247.5h0M166.3 252.8h0M199.0 253.1h0M187.2 258.0h0M174.3 259.7h0M174.7 260.7h0M199.4 245.9h0M184.5 258.9h0M178.8 253.4h0M178.0 255.1h0M161.5 281.8h0M169.3 280.2h0M167.5 259.4h0M187.9 242.7h0M195.4 242.8h0M184.1 258.3h0M183.5 247.9h0M180.3 241.6h0M165.4 262.9h0M184.4 252.9h0M163.1 286.1h0M161.7 276.5h0M174.6 255.0h0M187.7 245.4h0M182.1 253.6h0M193.9 248.0h0M168.0 248.3h0M168.1 253.1h0M195.1 246.1h0M175.7 244.4h0M163.8 261.3h0M167.5 247.7h0M190.6 260.3h0M174.5 247.0h0M179.6 247.5h0M165.2 285.5h0M174.6 243.3h0M171.3 251.6h0M189.0 255.6h0M165.2 271.2h0M170.8 258.4h0M190.9 250.1h0M201.2 251.2h0M187.5 249.1h0M192.3 245.0h0M180.8 255.9h0M179.1 244.3h0M179.4 242.7h0M190.6 245.4h0M186.1 258.7h0M188.7 247.7h0M190.7 254.5h0M189.4 255.3h0M186.5 252.3h0M185.7 251.2h0M187.5 253.2h0M165.7 249.7h0M192.2 256.4h0M165.7 251.4h0M189.1 250.5h0M193.9 248.5h0M166.5 265.3h0M191.4 245.0h0M173.5 244.2h0M193.6 246.3h0M189.7 243.2h0M195.9 246.8h0M183.6 251.8h0M180.2 254.9h0M171.1 286.1h0M169.8 251.8h0M188.0 243.3h0M169.1 286.0h0M181.2 259.0h0M187.5 242.2h0M181.5 248.3h0M184.7 250.3h0M174.6 251.8h0M169.3 290.0h0M161.5 278.2h0M185.0 255.7h0M166.1 264.9h0M182.7 251.9h0M194.1 259.6h0M178.4 248.9h0M186.5 244.6h0M183.8 245.4h0M166.4 270.0h0M170.0 247.1h0M180.1 254.9h0M180.4 251.0h0M183.4 258.5h0M175.1 259.9h0M167.0 260.7h0M173.8 286.8h0M180.4 242.8h0M184.2 241.2h0M162.3 255.3h0M163.9 260.0h0M188.9 253.2h0M194.8 250.5h0M187.0 253.1h0M183.3 247.5h0M190.6 261.7h0M168.1 254.0h0M170.0 259.5h0M169.4 248.1h0M183.8 245.2h0M182.1 249.5h0M183.8 248.9h0M198.4 249.6h0M184.5 254.6h0M164.9 280.1h0M168.8 247.1h0M186.3 245.1h0M199.8 253.1h0M192.5 251.4h0M190.8 257.0h0M171.7 284.7h0M178.6 243.2h0M190.9 243.9h0M163.8 275.8h0M161.5 281.8h0M193.3 261.9h0M166.5 258.6h0M185.8 257.6h0M189.2 251.6h0M188.1 241.9h0M176.0 260.0h0M194.2 258.5h0M181.8 248.2h0M171.3 261.9h0M166.9 252.0h0M201.2 252.9h0M172.4 287.5h0M186.4 248.4h0M175.7 251.9h0M173.9 250.2h0M188.8 257.1h0M190.4 244.4h0M186.8 253.8h0M177.1 244.4h0M199.6 254.3h0M164.4 271.5h0M167.0 272.2h0M193.3 254.5h0M167.4 268.8h0M160.1 263.4h0M190.0 256.7h0M190.9 251.3h0M177.4 248.4h0M196.7 258.1h0M192.4 243.9h0M175.9 249.4h0M170.6 254.4h0M162.2 263.6h0M180.5 256.1h0M166.6 274.7h0M172.2 260.0h0M166.9 279.7h0M167.1 290.4h0M193.2 257.4h0M192.6 245.4h0M176.4 252.5h0M190.8 243.9h0M199.3 254.3h0M165.5 281.2h0M191.3 256.3h0M180.8 258.7h0M191.2 244.5h0M177.3 254.3h0M181.6 254.1h0M199.0 246.8h0M173.2 285.8h0M191.1 244.3h0M188.1 242.1h0M164.8 268.1h0M195.3 254.1h0M169.0 259.8h0M184.1 247.4h0M165.6 276.9h0M177.8 249.7h0M183.3 258.4h0M201.1 248.8h0M180.0 248.1h0M160.4 266.7h0M186.5 247.5h0M171.9 253.6h0M165.4 251.3h0M171.5 250.5h0M189.8 258.8h0M186.9 244.6h0M192.1 244.5h0M201.2 252.5h0M189.6 258.4h0M180.6 241.5h0M168.9 247.2h0M193.5 247.3h0M177.2 256.6h0M178.6 246.2h0M173.7 286.3h0M186.1 258.3h0M192.8 255.6h0M170.6 265.8h0M162.8 263.0h0M189.9 258.7h0M178.9 243.8h0M204.1 249.8h0M168.0 259.4h0M180.6 250.4h0M188.5 246.6h0M193.4 258.0h0M169.4 256.9h0M184.6 250.0h0M186.8 242.2h0M178.5 257.1h0M170.6 248.0h0M191.7 250.1h0M193.1 249.3h0M194.8 257.8h0M165.4 264.6h0M186.6 259.2h0M176.7 249.2h0M193.8 257.7h0M197.9 252.5h0M166.2 267.7h0M169.9 284.7h0M170.9 247.7h0M193.0 245.2h0M173.8 246.7h0M164.8 274.7h0M166.0 277.6h0M168.8 293.8h0M192.9 244.3h0M174.7 258.2h0M202.2 251.4h0M178.1 246.5h0M182.3 250.6h0M181.0 254.6h0M180.4 243.7h0M166.4 257.9h0M161.4 276.0h0M186.1 246.6h0M169.4 283.6h0M161.3 269.9h0M200.0 250.4h0M185.5 252.2h0M167.6 265.5h0M177.4 258.2h0M193.4 259.5h0M190.2 258.0h0M188.6 260.1h0M182.1 252.4h0M180.5 254.7h0M195.6 253.7h0M189.8 253.6h0M175.9 249.6h0M167.2 290.7h0M189.8 259.6h0M167.5 268.4h0M185.1 256.5h0M179.8 246.6h0M187.7 259.7h0M189.2 249.9h0M189.0 241.3h0M177.7 251.7h0M163.9 279.9h0M176.0 251.4h0M176.8 245.5h0M193.3 262.1h0M190.2 258.3h0M181.7 245.7h0M162.9 262.4h0M163.0 269.8h0M177.2 242.7h0M188.4 246.5h0M174.8 248.3h0M194.5 243.1h0M173.2 249.3h0M167.7 279.2h0M174.8 250.3h0M195.3 256.0h0M179.0 247.4h0M167.8 252.9h0M163.0 276.0h0M196.7 249.2h0M179.3 245.7h0M187.7 251.3h0M182.3 246.7h0M160.0 265.9h0M170.5 286.8h0M186.7 247.4h0M189.6 254.4h0M173.3 286.1h0M182.1 245.7h0M195.4 257.0h0M177.3 257.7h0M185.7 256.8h0M189.3 254.4h0M172.0 261.7h0M181.1 245.3h0M185.8 250.2h0M203.3 250.8h0M171.5 252.9h0M165.7 273.8h0M199.5 254.9h0M200.6 252.1h0M168.4 256.8h0M196.7 258.0h0M175.1 247.3h0M175.7 248.4h0M196.9 256.8h0M163.1 264.4h0M184.4 257.6h0M192.6 242.2h0M164.5 255.4h0M196.5 251.0h0M184.7 245.8h0M171.3 252.4h0M169.7 253.8h0M192.7 252.9h0M179.1 251.1h0M171.8 254.8h0M192.1 257.7h0M164.3 266.4h0M173.4 250.8h0M172.6 243.7h0M167.3 261.3h0M163.7 281.9h0M191.2 250.0h0M187.9 254.6h0M190.4 251.4h0M173.5 248.9h0M165.9 283.1h0M169.3 258.7h0M187.2 259.6h0M167.0 248.7h0M185.2 251.0h0M189.4 256.1h0M183.9 251.2h0M171.9 249.0h0M198.6 248.7h0M191.7 253.1h0M171.3 289.4h0M165.5 260.1h0M176.6 243.4h0M166.5 249.0h0M163.3 288.0h0M186.7 251.7h0M193.5 255.9h0M188.0 243.6h0M203.4 251.0h0M193.2 247.6h0M191.5 246.4h0M196.5 254.0h0M167.4 257.7h0M191.2 260.1h0M191.5 244.0h0M181.8 257.5h0M173.7 257.4h0M194.9 248.7h0M194.4 244.7h0M177.5 257.6h0M185.9 255.0h0M166.5 250.7h0M192.3 256.6h0M167.5 273.3h0M190.0 245.0h0M194.0 256.2h0M174.5 259.8h0M167.2 268.3h0M176.7 256.4h0M186.0 250.8h0M200.6 246.3h0M196.5 255.5h0M172.6 260.0h0M165.2 273.6h0M168.3 294.1h0M187.6 249.4h0M193.8 259.4h0M169.1 281.4h0M175.8 254.1h0M162.2 259.6h0M188.7 248.8h0M186.0 244.7h0M187.8 250.2h0M160.8 282.5h0M175.6 246.7h0M178.8 247.5h0M167.9 261.1h0M165.9 252.8h0M164.7 254.2h0M183.8 253.8h0M180.5 257.8h0M182.1 246.4h0M179.7 245.4h0M194.7 246.4h0M194.4 255.1h0M199.1 250.5h0M176.6 252.2h0M191.7 250.9h0M175.3 250.2h0M166.3 278.1h0M169.0 286.0h0M170.2 245.5h0M167.6 262.1h0M172.2 253.7h0M171.2 247.8h0M175.3 244.8h0M188.0 254.0h0M187.0 247.7h0M187.4 241.1h0M168.9 253.7h0M199.9 252.4h0M163.9 268.5h0M192.5 256.6h0M180.6 258.3h0M166.6 251.2h0M165.0 267.0h0M188.6 247.8h0M179.0 249.7h0M169.6 257.8h0M188.3 247.5h0M185.7 254.2h0M193.0 250.2h0M175.6 258.9h0M168.1 257.1h0M175.8 258.6h0M176.4 246.5h0M179.0 245.0h0M176.4 242.7h0M163.1 277.5h0M182.9 247.9h0M189.4 257.8h0M166.4 263.4h0M193.1 248.0h0M177.3 258.5h0M162.0 274.7h0M189.3 257.4h0M169.8 251.8h0M171.0 252.1h0M185.4 241.6h0M193.5 255.1h0M189.3 254.8h0M193.5 243.0h0M163.6 279.4h0M178.3 253.9h0M168.6 256.2h0M174.9 260.7h0M167.8 288.0h0M191.0 257.6h0M170.5 254.7h0M196.0 251.9h0M164.8 254.0h0M188.1 246.1h0M200.4 254.3h0M162.3 259.1h0M171.4 289.2h0M172.8 251.5h0M168.3 293.5h0M174.8 258.5h0M167.9 277.4h0M178.2 254.7h0M179.0 252.4h0M173.2 256.0h0M184.6 244.3h0M176.3 252.0h0M169.3 254.6h0M191.7 255.2h0M192.8 246.0h0M192.8 249.8h0M189.5 247.5h0M171.2 254.3h0M193.9 254.8h0M188.7 258.9h0M161.0 280.7h0M192.9 248.5h0M177.5 245.9h0M198.4 256.1h0M173.0 250.8h0M188.2 255.3h0M197.5 251.7h0M182.9 255.1h0M168.7 251.3h0M173.7 287.5h0M185.7 245.7h0M161.1 268.8h0M200.2 250.1h0M167.3 251.1h0M176.6 249.7h0M188.3 242.1h0M185.1 246.4h0M187.0 249.2h0M195.2 244.5h0M177.4 247.8h0M194.4 244.0h0M193.4 257.1h0M201.0 248.6h0M189.1 256.8h0M192.6 256.3h0M181.8 250.9h0M180.5 244.1h0M166.1 276.0h0M183.2 243.0h0M168.3 294.2h0M183.5 242.8h0M192.4 250.3h0M173.5 245.8h0M192.6 247.8h0M196.0 246.4h0M176.2 244.4h0M170.6 252.2h0M174.4 252.6h0M188.8 241.7h0M166.3 263.9h0M166.7 248.6h0M192.5 249.7h0M180.4 248.0h0M200.9 247.8h0M198.9 253.3h0M198.3 252.0h0M169.9 265.8h0M196.5 252.8h0M165.5 256.1h0M189.9 243.7h0M164.0 262.0h0M166.9 256.1h0M196.6 256.9h0M204.0 250.3h0M167.4 254.5h0M170.6 255.8h0M188.0 242.6h0M192.9 256.0h0M201.8 248.4h0M192.4 243.1h0M187.5 250.8h0M184.6 245.6h0M187.7 242.7h0M183.2 245.1h0M176.9 256.2h0M178.6 248.6h0M191.8 245.7h0M193.8 242.2h0M165.2 271.9h0M176.5 251.8h0M169.2 256.4h0M189.0 242.5h0M191.5 260.7h0M175.5 256.9h0M168.8 288.7h0M184.5 247.6h0M181.6 242.9h0M166.3 284.5h0M179.9 255.9h0M185.2 259.1h0M165.0 253.4h0M160.9 278.2h0M171.0 287.3h0M162.3 276.3h0M199.6 250.3h0M187.1 258.4h0M195.1 251.7h0M189.4 258.7h0M168.3 273.2h0M175.0 245.6h0M190.2 252.6h0M192.0 248.9h0M188.5 251.7h0M171.5 249.5h0M173.4 260.4h0M180.8 251.5h0M181.5 253.5h0M200.0 250.4h0M170.3 260.7h0M175.3 252.9h0M167.4 289.8h0M181.7 257.9h0M182.3 256.1h0M195.9 248.6h0M197.8 254.1h0M161.5 274.8h0M188.1 254.9h0M182.5 244.5h0M177.1 252.2h0M171.9 246.6h0M195.7 257.1h0M172.6 288.5h0M194.0 246.0h0M187.3 241.7h0M174.9 244.4h0M188.8 254.8h0M183.6 249.4h0M165.8 280.1h0M192.3 244.4h0M183.6 250.3h0M181.2 252.0h0M176.8 256.2h0M186.3 250.5h0M184.6 245.9h0M166.1 285.9h0M196.6 254.7h0M177.8 258.5h0M164.7 270.7h0M185.5 246.6h0M159.6 269.0h0M182.4 246.6h0M170.2 248.6h0M197.2 250.7h0M170.3 291.1h0M170.1 253.7h0M195.8 250.7h0M163.2 254.0h0M177.5 243.3h0M193.5 257.0h0M189.3 256.5h0M199.7 245.8h0M186.4 255.2h0M164.3 263.1h0M192.9 249.0h0M200.7 250.2h0M160.9 273.1h0M200.2 253.5h0M179.5 252.5h0M192.4 253.7h0M172.6 244.4h0M164.4 255.0h0M168.4 275.6h0M167.5 256.9h0M185.8 252.7h0M187.7 246.6h0M202.8 250.8h0M179.9 251.6h0M193.0 244.9h0M187.3 251.8h0M173.4 248.2h0M170.6 249.8h0M184.3 258.8h0M184.0 242.1h0M163.3 288.5h0M166.9 256.2h0M191.0 244.5h0M190.1 248.8h0M171.1 257.8h0M171.9 248.6h0M173.0 243.8h0M171.8 254.9h0M185.7 250.7h0M177.6 246.7h0M167.4 291.2h0M186.4 253.1h0M198.0 251.6h0M189.1 252.4h0M166.1 249.9h0M184.5 253.5h0M188.4 254.9h0M185.9 258.6h0M198.7 249.8h0M189.6 260.7h0M188.8 243.3h0M171.0 245.6h0M182.3 244.0h0M185.4 246.7h0M171.4 254.4h0M168.8 249.1h0M190.9 245.1h0M195.0 244.4h0M186.2 242.0h0M176.5 242.4h0M182.5 244.9h0M181.0 249.6h0M192.8 252.4h0M168.4 292.9h0M194.2 251.6h0M198.4 251.6h0M161.2 278.0h0M181.3 244.1h0M195.7 247.4h0M169.0 263.0h0M173.3 260.6h0M165.9 268.1h0M170.2 245.8h0M169.2 260.1h0M185.5 251.5h0M195.9 248.2h0M191.6 245.4h0M183.6 256.9h0M180.8 255.2h0M173.2 248.6h0M168.4 272.5h0M179.2 251.0h0M174.8 250.8h0M192.4 248.8h0M162.8 254.5h0M191.7 243.3h0M173.4 260.4h0M170.5 292.6h0M198.1 244.5h0M194.7 249.6h0M186.7 246.6h0M171.7 249.1h0M181.8 249.3h0M181.4 244.7h0M172.9 244.5h0M180.4 242.4h0M172.0 260.5h0M180.7 250.4h0M191.5 246.8h0M169.0 262.6h0M171.8 249.9h0M202.3 250.2h0M173.2 257.2h0M188.2 243.4h0M188.2 259.8h0M199.7 254.7h0M172.4 255.0h0M191.5 258.1h0M173.3 261.3h0M196.9 251.1h0M163.7 271.8h0M168.4 274.9h0M177.7 256.3h0M191.2 247.9h0M165.6 253.1h0M174.2 251.4h0M164.7 276.7h0M190.9 245.6h0M179.5 248.9h0M187.0 255.3h0M189.5 241.4h0M196.0 256.8h0M189.1 253.2h0M173.0 248.3h0M189.8 257.4h0M190.5 250.1h0M166.9 252.4h0M163.5 287.1h0M196.7 257.5h0M165.0 287.1h0M195.2 246.7h0M175.9 246.7h0M167.5 254.9h0M177.5 253.0h0M202.1 251.6h0M180.3 254.8h0M163.1 280.9h0M196.6 247.5h0M174.5 261.2h0M174.8 245.8h0M188.8 247.6h0M174.8 255.8h0M164.8 253.6h0M171.8 255.9h0M175.7 243.2h0M190.3 244.1h0M198.7 252.8h0M196.4 250.2h0M200.0 253.3h0M176.9 243.7h0M177.9 250.8h0M178.5 250.4h0M199.6 245.8h0M175.9 246.6h0M179.7 244.0h0M186.2 247.5h0M194.2 254.4h0M195.5 255.0h0M161.7 277.6h0M197.2 253.6h0M168.2 291.3h0M167.4 277.3h0M196.4 244.4h0M197.2 253.4h0M183.7 248.4h0M166.7 263.9h0M176.4 253.5h0M167.4 256.4h0M188.7 259.7h0M177.6 249.2h0M178.9 244.7h0M170.2 290.5h0M163.9 252.1h0M172.9 255.5h0M184.8 243.9h0M196.2 251.8h0M185.1 249.7h0M166.3 255.0h0M190.8 253.6h0M197.4 244.7h0M182.4 242.7h0M195.3 244.5h0M173.1 246.7h0M173.0 256.0h0M192.2 262.4h0M170.7 286.8h0M186.4 256.1h0M172.2 249.2h0M182.8 244.1h0M181.8 255.8h0M191.0 252.7h0M198.9 249.8h0M189.5 247.4h0M178.6 253.3h0M178.3 250.8h0M170.9 285.9h0M165.4 257.8h0M164.0 255.3h0M170.4 260.7h0M178.4 251.6h0M176.7 247.7h0M165.0 258.6h0M168.9 278.2h0M191.0 247.8h0M181.2 249.1h0M189.0 255.8h0M172.3 285.8h0M185.0 253.0h0M171.2 262.6h0M189.8 253.1h0M179.5 255.7h0M173.8 245.4h0M169.5 265.2h0M170.5 255.5h0M171.9 247.2h0M177.7 250.1h0M162.7 287.8h0M188.4 256.1h0M193.3 255.4h0M193.6 244.9h0M164.0 278.4h0M190.1 250.8h0M176.1 246.5h0M187.8 251.6h0M182.5 244.4h0M195.3 244.5h0M191.1 254.9h0M195.1 244.7h0M168.6 277.9h0M185.6 256.5h0M166.5 254.7h0M184.7 244.7h0M169.0 279.2h0M178.3 258.7h0M176.8 254.2h0M170.9 290.6h0M185.2 243.2h0M170.1 249.9h0M183.6 242.8h0M177.7 258.8h0M179.4 253.4h0M174.9 260.2h0M160.5 274.7h0M168.6 251.7h0M168.0 252.2h0M193.8 247.4h0M181.1 253.2h0M198.4 248.0h0M166.0 271.8h0M176.2 251.2h0M183.3 247.7h0M169.4 289.1h0M188.7 252.0h0M167.7 275.3h0M194.4 245.1h0M185.2 242.7h0M191.7 243.2h0M173.8 246.0h0M186.9 254.4h0M161.5 277.2h0M190.0 250.5h0M186.3 253.0h0M168.8 247.1h0M190.2 246.5h0M198.8 249.1h0M169.7 293.5h0M189.9 253.8h0M170.4 253.9h0M192.1 247.6h0M189.5 249.3h0M199.0 255.0h0M201.0 246.7h0M165.1 263.5h0M184.7 243.2h0M180.6 250.2h0M172.2 287.5h0M193.2 247.6h0M174.9 251.2h0M178.6 245.9h0M187.6 255.3h0M195.6 258.1h0M177.8 256.5h0M163.2 288.0h0M172.3 249.0h0M165.1 285.3h0M185.7 254.6h0M168.0 259.4h0M171.9 259.7h0M181.9 241.8h0M186.7 243.5h0M165.7 274.1h0M183.3 246.6h0M188.7 248.5h0M191.3 245.5h0M196.1 244.9h0M169.6 260.1h0M165.3 263.6h0M181.0 251.0h0M178.2 242.5h0M173.1 261.5h0M180.6 248.3h0M183.7 254.4h0M172.3 252.4h0M164.2 271.2h0M176.0 256.8h0M191.0 242.0h0M200.7 248.0h0M169.2 251.5h0M189.3 246.6h0M185.1 246.1h0M191.6 261.3h0M199.7 252.5h0M181.6 257.4h0M165.7 290.8h0M191.1 253.3h0M159.9 273.1h0M170.2 291.7h0M192.6 254.2h0M174.4 251.9h0M200.1 248.0h0M188.8 252.2h0M177.6 255.9h0M164.9 278.4h0M163.5 285.8h0M166.0 271.5h0M198.3 251.1h0M195.7 259.5h0M173.4 255.9h0M200.6 246.9h0M167.5 254.5h0M177.2 242.8h0M167.6 277.8h0M190.3 251.3h0M175.2 254.1h0M166.5 258.1h0M192.5 250.1h0M192.5 260.3h0M167.4 264.6h0M183.1 248.2h0M196.6 258.4h0M173.9 257.0h0M165.4 255.9h0M172.0 258.7h0M193.2 247.0h0M185.1 248.7h0M195.4 254.8h0M194.2 252.0h0M185.8 243.3h0M202.2 250.7h0M172.7 260.2h0M181.2 246.5h0M165.2 292.0h0M181.7 249.0h0M195.9 253.0h0M178.2 249.8h0M169.0 278.4h0M178.3 244.6h0M186.5 251.2h0M180.4 254.2h0M182.4 242.4h0M187.6 252.3h0M186.4 252.3h0M164.4 265.1h0M170.7 253.6h0M176.8 259.1h0M164.4 282.4h0M180.4 247.6h0M165.8 284.2h0M184.0 249.8h0M178.3 249.7h0M198.6 251.7h0M170.8 263.0h0M188.5 253.1h0M183.1 242.6h0M186.1 254.7h0M169.5 257.7h0M185.2 257.1h0M169.6 260.1h0M199.4 246.6h0M174.0 253.7h0M168.0 280.7h0M178.7 247.2h0M184.4 248.2h0M179.0 258.6h0M184.8 252.2h0M199.9 252.6h0M167.4 253.2h0M183.1 256.0h0M173.4 262.2h0M190.1 243.7h0M176.7 242.4h0M164.5 262.1h0M195.0 253.7h0M197.9 246.2h0M182.3 251.8h0M190.1 254.3h0M197.1 244.5h0M175.8 259.3h0M200.3 252.9h0M165.5 258.3h0M178.3 243.9h0M190.1 254.6h0M192.1 260.4h0M162.3 271.3h0M164.2 284.7h0M184.3 247.3h0M198.5 246.8h0M178.0 253.2h0M170.5 247.7h0M161.6 257.2h0M183.9 241.2h0M192.9 258.3h0M190.2 246.3h0M190.4 245.3h0M174.1 253.5h0M183.9 242.7h0M186.9 255.9h0M167.9 263.0h0M178.5 257.6h0M199.7 254.5h0M187.5 258.1h0M185.3 255.1h0M178.1 254.7h0M168.0 280.3h0M192.6 258.8h0M201.8 248.5h0M196.2 255.0h0M182.1 253.6h0M194.1 257.7h0M190.5 252.4h0M170.4 245.8h0M199.0 247.9h0M162.8 273.2h0M161.5 264.0h0M203.6 250.2h0M174.1 243.0h0M167.9 250.1h0M174.9 250.4h0M170.5 249.8h0M201.6 252.5h0M178.9 249.7h0M183.1 256.4h0M190.8 256.8h0M167.6 252.6h0M173.0 252.1h0M163.1 279.8h0M162.0 282.5h0M201.9 248.6h0M178.4 256.3h0M165.7 288.0h0M171.0 251.2h0M201.0 253.7h0M178.5 251.6h0M197.6 255.8h0M168.3 292.2h0M186.1 258.2h0M173.3 248.7h0M169.0 282.1h0M174.6 252.9h0M195.1 252.3h0M185.6 245.0h0M191.3 261.1h0M184.9 243.3h0M194.5 254.2h0M192.5 258.9h0M182.9 252.6h0M165.4 282.6h0M165.5 274.2h0M194.8 254.9h0M167.8 268.5h0M184.1 250.8h0M195.3 256.3h0M180.0 250.8h0M187.3 256.5h0M171.1 249.4h0M201.0 248.0h0M191.8 253.1h0M172.8 248.5h0M196.1 248.1h0M180.0 251.6h0M190.5 243.1h0M186.8 241.8h0M192.2 257.1h0M169.3 279.4h0M185.0 244.0h0M190.1 254.9h0M194.1 242.7h0M191.6 261.4h0M166.4 253.0h0M196.2 255.5h0M196.5 251.7h0M169.5 259.4h0M181.7 258.8h0M189.9 257.7h0M164.5 280.2h0M186.0 258.3h0M191.9 244.8h0M165.9 262.3h0M163.5 288.1h0M191.2 252.2h0M175.4 244.2h0M173.0 259.4h0M178.2 242.6h0M178.2 242.6h0M166.5 293.0h0M169.0 268.8h0M167.3 250.5h0M193.9 248.9h0M179.0 255.3h0M166.0 259.2h0M164.0 283.6h0M198.1 256.9h0M197.9 254.3h0M175.5 251.6h0M182.0 257.4h0M195.7 253.9h0M193.4 242.6h0M200.3 246.9h0M174.9 258.0h0M168.7 277.1h0M176.3 253.0h0M164.9 290.2h0M182.1 245.4h0M190.1 254.9h0M178.1 259.0h0M193.4 255.5h0M191.6 243.7h0M186.5 253.5h0M174.4 286.2h0M163.1 253.4h0M190.8 241.8h0M182.9 247.4h0M194.9 243.2h0M183.6 244.6h0M170.7 257.9h0M173.2 257.8h0M170.6 250.2h0M171.3 283.3h0M162.1 260.5h0M195.9 252.5h0M168.7 295.5h0M169.3 251.4h0M180.4 251.5h0M187.9 255.5h0M170.5 249.2h0M184.1 253.1h0M187.6 259.6h0M186.0 246.8h0M193.0 245.1h0M169.6 255.5h0M184.4 247.6h0M190.5 260.1h0M199.0 249.3h0M202.8 247.7h0M188.6 246.9h0M190.1 258.6h0M193.7 243.0h0M167.2 285.2h0M183.8 255.9h0M197.6 251.4h0M179.8 249.7h0M170.9 252.7h0M181.8 244.1h0M182.8 248.4h0M189.4 251.6h0M185.8 247.1h0M168.0 252.8h0M201.5 248.4h0M172.5 255.0h0M163.1 264.4h0M165.3 270.0h0M194.5 243.8h0M166.6 253.5h0M195.7 254.7h0M173.4 252.2h0M203.3 249.9h0M201.9 247.2h0M192.2 247.1h0M171.1 252.5h0M164.8 290.5h0M187.4 241.2h0M163.0 278.4h0M167.7 252.8h0M192.4 254.8h0M178.2 259.0h0M193.8 257.4h0M181.0 242.1h0M170.9 244.8h0M192.7 253.1h0M172.7 258.2h0M171.1 259.5h0M167.5 254.7h0M187.5 242.5h0M165.7 277.6h0M188.3 241.6h0M188.1 246.9h0M163.9 283.4h0M173.0 288.5h0M190.3 256.3h0M188.8 253.2h0M193.4 248.5h0M180.2 253.2h0M163.0 253.7h0M181.0 249.3h0M166.4 264.3h0M171.6 261.3h0M170.3 256.5h0M196.0 251.3h0M185.2 255.3h0M184.8 248.5h0M167.8 281.8h0M198.9 248.5h0M194.3 252.5h0M191.7 243.4h0M186.5 258.4h0M160.6 279.9h0M165.6 256.9h0M162.5 280.3h0M167.5 253.1h0M172.6 244.4h0M194.6 250.9h0M190.9 248.1h0M168.9 280.9h0M165.8 269.5h0M168.1 277.2h0M165.0 284.8h0M178.8 251.9h0M188.9 252.1h0M172.6 243.9h0M170.8 251.6h0M180.8 244.3h0M166.1 271.7h0M185.9 252.9h0M169.7 253.6h0M185.9 252.4h0M190.5 250.2h0M165.0 264.0h0M178.7 249.9h0M199.7 251.9h0M179.5 245.6h0M170.2 248.8h0M186.5 254.3h0M192.8 256.3h0M188.1 243.4h0M176.5 243.5h0M180.0 251.9h0M163.9 253.4h0M183.5 252.3h0M176.7 242.3h0M188.3 245.1h0M167.7 251.4h0M174.4 248.6h0M178.4 247.8h0M202.6 248.0h0M195.4 255.9h0M173.9 246.0h0M181.3 244.6h0M190.5 252.1h0M194.7 246.2h0M178.4 243.0h0M186.0 241.4h0M159.7 267.0h0M183.0 251.0h0M199.3 246.7h0M184.7 246.8h0M174.8 244.4h0M188.5 259.6h0M202.5 249.5h0M174.2 261.0h0M172.9 252.6h0M169.3 264.5h0M170.3 257.7h0M171.1 250.1h0" stroke="#3a8a3a" stroke-width="1.44" stroke-linecap="round"/>
<path d="M197.6 262.8h0M210.3 269.2h0M197.8 265.0h0M202.0 280.9h0M196.8 276.9h0M208.8 259.4h0M201.7 257.1h0M202.9 255.0h0M205.7 285.1h0M200.3 262.2h0M204.6 255.2h0M207.1 277.3h0M205.3 258.3h0M201.0 272.1h0M206.5 273.6h0M196.3 270.4h0M198.5 263.7h0M200.4 272.1h0M209.6 279.9h0M206.5 279.8h0M208.1 278.1h0M202.8 262.0h0M202.0 260.8h0M205.2 283.5h0M201.2 281.3h0M204.1 264.2h0M195.5 260.9h0M202.7 257.7h0M202.5 273.1h0M209.4 280.6h0M208.9 272.9h0M202.4 261.1h0M208.8 276.5h0M205.4 277.8h0M207.3 275.7h0M207.0 270.5h0M195.8 262.8h0M200.7 275.5h0M201.8 269.0h0M207.1 259.9h0M205.9 265.3h0M202.5 252.8h0M198.6 258.0h0M196.8 278.5h0M205.7 282.4h0M203.8 258.4h0M207.7 257.9h0M207.0 256.5h0M204.2 251.4h0M205.5 266.1h0M204.6 277.6h0M205.6 256.5h0M204.1 273.4h0M202.5 265.6h0M197.9 277.5h0M203.5 260.5h0M207.7 280.9h0M196.2 260.3h0M198.7 269.3h0M205.8 273.7h0M206.9 276.5h0M199.1 260.6h0M209.2 265.9h0M200.4 275.2h0M199.7 258.5h0M201.4 270.4h0M197.3 266.0h0M196.8 274.3h0M196.3 268.0h0M201.6 276.3h0M199.2 275.1h0M199.1 267.2h0M209.2 278.9h0M208.2 263.7h0M208.9 281.8h0M203.7 273.3h0M205.8 273.7h0M208.1 262.5h0M210.5 270.4h0M205.0 266.3h0M203.6 271.6h0M196.3 276.6h0M206.2 273.5h0M207.2 274.8h0M197.9 272.9h0M205.6 261.5h0M206.3 273.3h0M198.2 259.9h0M196.7 274.6h0M197.0 271.5h0M204.0 263.8h0M197.1 258.4h0M202.2 271.0h0M202.9 276.2h0M207.7 263.8h0M199.5 272.3h0M202.7 262.9h0M203.1 271.0h0M203.6 269.1h0M202.7 281.3h0M200.5 271.5h0M201.9 277.0h0M199.5 260.3h0M205.7 268.8h0M204.3 280.4h0M197.2 271.8h0M201.7 254.1h0M208.0 282.0h0M198.6 273.0h0M208.4 281.6h0M204.8 270.6h0M205.2 263.3h0M197.7 269.2h0M206.8 268.0h0M202.5 277.8h0M205.7 258.0h0M197.4 261.7h0M208.5 276.2h0M198.3 259.6h0M202.0 276.3h0M195.1 266.5h0M199.6 273.6h0M200.5 268.9h0M198.4 268.0h0M207.2 260.3h0M204.4 269.2h0M205.6 278.6h0M207.2 283.4h0M204.4 250.8h0M209.0 274.7h0M202.1 261.9h0M209.5 263.6h0M202.6 268.4h0M206.4 277.7h0M197.5 272.6h0M208.3 285.3h0M200.3 262.4h0M201.5 255.0h0M203.6 281.7h0M196.9 275.4h0M199.7 271.7h0M198.6 262.3h0M206.1 252.4h0M205.2 261.0h0M199.8 279.0h0M201.9 277.5h0M203.0 277.9h0M199.6 275.5h0M201.7 267.3h0M204.7 266.2h0M195.6 260.1h0M209.5 265.6h0M206.0 260.1h0M202.4 258.2h0M200.5 265.4h0M208.4 263.1h0M197.4 277.4h0M200.9 259.2h0M196.6 273.1h0M209.7 266.8h0M200.8 275.4h0M199.8 272.0h0M205.6 274.3h0M203.5 281.1h0M206.6 259.9h0M196.4 268.4h0M197.3 269.2h0M208.4 257.7h0M204.5 266.1h0M204.8 272.0h0M206.5 272.9h0M209.0 266.4h0M197.0 277.5h0M201.2 257.8h0M196.8 265.2h0M205.8 264.2h0M201.7 277.3h0M205.5 258.1h0M204.8 279.8h0M206.4 283.0h0M196.5 267.9h0M206.2 284.5h0M203.9 253.2h0M201.6 269.7h0M194.5 261.7h0M210.2 266.9h0M202.5 273.5h0M199.6 271.5h0M207.2 260.9h0M207.8 272.8h0M208.6 281.8h0M207.3 257.5h0M207.2 282.8h0M207.3 276.6h0M208.4 272.3h0M204.6 258.1h0M208.4 267.9h0M200.7 266.6h0M208.2 261.9h0M209.1 280.1h0M206.2 259.5h0M208.9 272.5h0M203.7 277.1h0M208.0 268.9h0M206.1 279.3h0M205.0 254.0h0M205.5 279.2h0M207.7 259.7h0M202.8 265.6h0M192.6 263.1h0M201.0 278.0h0M200.7 261.6h0M199.2 270.9h0M208.9 280.8h0M202.2 276.7h0M202.4 272.9h0M197.6 264.8h0M206.9 279.2h0M199.6 278.7h0M198.3 263.4h0M196.1 268.4h0M202.7 276.8h0M204.3 265.1h0M204.8 271.0h0M197.6 261.3h0M200.2 257.0h0M208.0 279.2h0M199.9 265.7h0M202.8 260.6h0M206.0 283.8h0M209.0 273.1h0M203.6 263.5h0M201.2 256.4h0M201.6 282.1h0M192.9 262.8h0M198.4 268.9h0M210.1 266.2h0M199.7 260.4h0M200.2 276.0h0M205.3 252.2h0M206.5 265.6h0M209.6 276.5h0M196.1 278.4h0M199.8 276.6h0M199.9 267.2h0M210.4 272.0h0M205.5 272.3h0M196.5 270.6h0M197.9 263.0h0M208.1 263.9h0M206.6 277.0h0M205.4 274.7h0M201.2 254.0h0M203.9 280.2h0M205.4 269.4h0M207.7 274.0h0M200.2 261.2h0M196.6 265.7h0M203.5 264.0h0M202.3 274.6h0M205.1 280.0h0M206.5 256.7h0M202.5 279.1h0M208.3 279.4h0M201.7 274.6h0M194.2 263.6h0M196.4 260.5h0M208.0 268.4h0M207.5 254.9h0M201.9 253.8h0M197.6 260.7h0M197.6 274.3h0M198.3 273.7h0M200.8 276.1h0M209.0 271.8h0M206.1 266.1h0M201.8 277.9h0M209.8 278.2h0M195.9 269.3h0M200.1 271.7h0M201.7 282.0h0M207.2 282.0h0M207.1 255.1h0M204.6 250.7h0M203.0 253.3h0M207.5 285.7h0M202.5 253.5h0M209.1 279.8h0M195.2 260.8h0M203.3 263.7h0M204.9 269.4h0M207.5 257.4h0M198.9 256.7h0M207.3 267.3h0M203.8 266.4h0M208.4 266.1h0M197.9 276.6h0M199.5 270.6h0M204.6 274.3h0M203.5 278.8h0M197.9 268.9h0M198.7 256.6h0M199.8 278.1h0M206.2 275.3h0M202.2 282.5h0M204.0 274.4h0M200.1 274.3h0M194.7 261.7h0M207.8 276.8h0M206.2 277.4h0M197.2 262.9h0M197.6 269.5h0M203.1 261.0h0M201.8 273.5h0M196.4 275.8h0M206.0 274.8h0M202.0 254.5h0M197.8 264.9h0M204.3 277.7h0M197.9 261.8h0M207.2 261.0h0M195.7 263.7h0M205.6 259.4h0M199.8 257.0h0M202.4 271.7h0M206.5 258.4h0M197.3 262.3h0M200.0 272.6h0M200.3 273.0h0M198.7 270.1h0M205.1 265.5h0M208.3 262.9h0M203.2 256.1h0M200.0 276.1h0M203.0 270.1h0M199.6 263.1h0M198.6 270.7h0M204.5 258.4h0M204.8 279.8h0M198.5 262.9h0M200.4 267.2h0M197.1 269.1h0M197.0 265.6h0M202.1 267.3h0M207.4 274.8h0M205.1 253.0h0M203.0 262.5h0M205.1 264.3h0M199.6 264.7h0M196.9 268.6h0M201.4 257.8h0M195.0 264.3h0M200.4 277.6h0M193.0 262.6h0M205.2 275.7h0M202.6 268.5h0M196.7 270.3h0M207.5 284.8h0M197.6 267.6h0M206.5 283.4h0M198.7 268.4h0M198.6 267.4h0M207.8 266.1h0M200.9 254.3h0M198.1 275.7h0M208.7 262.7h0M199.5 260.7h0M196.4 275.1h0M198.4 277.9h0M206.0 260.1h0M206.2 260.9h0M203.6 282.6h0M203.7 270.9h0M207.6 283.1h0M209.2 260.7h0M201.9 279.1h0M196.0 264.6h0M206.8 270.2h0M208.5 284.2h0M196.9 272.8h0M199.8 270.1h0M209.0 278.8h0M204.0 283.5h0M207.7 257.1h0M199.5 262.1h0M196.8 276.5h0M202.1 267.4h0M206.6 274.0h0M204.0 254.5h0M206.9 283.1h0M201.7 281.3h0M204.0 267.9h0M201.4 271.7h0M203.3 255.0h0M199.0 267.6h0M198.0 273.5h0M205.0 282.3h0M205.6 264.3h0M199.7 259.8h0M204.2 267.5h0M202.3 262.3h0M203.1 254.5h0M204.5 258.7h0M200.7 277.7h0M200.0 270.8h0M209.8 264.5h0M200.1 255.2h0M201.0 255.4h0M194.0 263.8h0M200.0 275.3h0M208.8 279.7h0M207.2 271.6h0M197.6 277.1h0M204.4 283.5h0M208.6 280.7h0M196.9 277.7h0M207.3 259.3h0M209.2 282.8h0M199.2 261.6h0M203.3 262.9h0M208.2 285.1h0M203.0 281.5h0M196.4 265.3h0M205.2 279.7h0M202.9 280.1h0M202.5 256.5h0M207.5 268.9h0M195.1 262.6h0M195.4 260.7h0M202.1 264.7h0M201.4 259.4h0M202.4 272.4h0M202.1 271.5h0M204.2 283.7h0M205.1 283.2h0M204.6 273.5h0M195.5 264.3h0M205.2 251.0h0M209.7 277.7h0M201.8 269.3h0M199.3 256.3h0M207.6 283.5h0M200.1 269.5h0M209.9 268.8h0M199.2 265.3h0M207.3 262.4h0M200.4 272.4h0M207.9 274.2h0M205.1 253.8h0M204.7 272.9h0M203.3 281.6h0M207.7 272.7h0M202.0 261.2h0M206.2 281.0h0M196.6 260.3h0M208.1 269.2h0M200.3 260.3h0M205.7 254.3h0M201.7 258.3h0M208.6 261.0h0M200.8 258.6h0M206.1 268.2h0M203.2 259.1h0M202.6 263.6h0M208.2 269.6h0M204.3 262.2h0M202.5 270.8h0M197.4 258.1h0M204.3 251.6h0M208.8 276.2h0M205.4 281.6h0M197.6 272.2h0M203.9 268.1h0M197.3 269.5h0M204.8 279.9h0M198.8 270.2h0M208.0 268.5h0M210.2 269.6h0M198.7 277.4h0M202.1 258.1h0M197.2 276.3h0M207.3 276.1h0M200.3 277.7h0M202.9 267.6h0M198.5 272.1h0M200.1 273.7h0M204.7 263.9h0M203.6 275.6h0M207.7 260.4h0M197.2 278.1h0M205.2 275.0h0M207.1 254.7h0M196.5 259.9h0M201.3 263.5h0M196.3 262.0h0M205.8 251.9h0M199.4 258.2h0M200.5 265.5h0M202.6 271.7h0M206.3 270.5h0M199.4 258.5h0M209.3 271.3h0M197.7 262.9h0M196.2 268.9h0M202.9 273.1h0M208.8 267.3h0M197.0 259.4h0M202.3 272.2h0M201.7 282.0h0M205.0 282.2h0M201.4 259.8h0M204.6 280.4h0M199.1 276.6h0M199.4 269.7h0M206.2 280.7h0M197.9 274.6h0M209.7 267.7h0M196.5 266.1h0M201.0 258.3h0M194.2 264.0h0M207.3 256.5h0M206.1 278.8h0M209.2 261.7h0M201.5 259.0h0M202.7 271.1h0M203.2 260.6h0M208.4 260.7h0M199.7 261.5h0M205.3 260.4h0M203.1 252.7h0M205.6 259.4h0M205.7 258.9h0M202.0 259.1h0M208.4 266.8h0M198.9 271.9h0M201.5 257.5h0M205.5 256.5h0M205.7 280.7h0M206.8 284.9h0M204.2 253.1h0M208.1 259.8h0M200.9 256.3h0M207.3 258.5h0M195.8 261.4h0M201.1 269.0h0M201.5 270.4h0M204.8 268.3h0M204.4 257.8h0M204.6 262.1h0M206.4 258.9h0M207.7 284.2h0M203.0 269.7h0M198.6 275.6h0M199.0 258.2h0M209.0 277.1h0M206.8 278.0h0M207.3 258.4h0M206.8 259.8h0M200.0 258.1h0M207.8 263.6h0M206.3 274.8h0M201.9 261.3h0M205.0 263.7h0M205.9 260.0h0M207.0 280.6h0M198.5 269.1h0M205.9 275.3h0M200.6 266.4h0M208.2 283.3h0M204.9 274.3h0M208.5 284.1h0M201.6 268.1h0M206.8 269.9h0M203.5 277.2h0M196.4 261.1h0M208.8 272.4h0M198.8 271.2h0M201.3 278.8h0M195.1 266.4h0M209.8 277.3h0M201.7 257.8h0M203.7 277.1h0M203.1 265.1h0M202.5 275.8h0M207.2 256.9h0M203.5 266.0h0M206.9 255.9h0M200.1 278.5h0M209.5 278.5h0M208.2 258.4h0M200.2 272.1h0M200.2 266.5h0M206.4 270.8h0M194.4 262.1h0M206.5 257.1h0M202.8 265.8h0M197.4 272.1h0M196.0 260.6h0M209.5 273.9h0M201.4 278.6h0M198.7 278.2h0M205.7 280.7h0M208.7 258.7h0M203.1 259.6h0M206.0 278.2h0M201.2 270.5h0M198.0 261.4h0M206.4 253.5h0M205.5 262.2h0M200.6 255.1h0M204.3 282.1h0M198.2 268.7h0M199.8 280.5h0M197.8 279.0h0M207.7 284.4h0M203.3 254.4h0M203.3 262.6h0M198.3 271.9h0M198.6 259.8h0M204.3 260.2h0M198.6 267.6h0M206.9 275.9h0M204.6 278.0h0M204.9 256.9h0M210.1 267.2h0M202.7 263.3h0M203.3 270.7h0M208.9 273.3h0M201.4 278.9h0M198.5 261.9h0M206.1 281.8h0M209.4 264.8h0M204.2 279.5h0M201.2 264.3h0M204.8 257.1h0M205.8 253.8h0M204.7 269.6h0M207.6 275.6h0M203.6 280.6h0M196.4 262.0h0M194.2 263.2h0M197.1 262.6h0M204.9 254.5h0M201.8 269.1h0M198.7 267.8h0M202.9 270.0h0M199.8 265.3h0M206.4 269.8h0M200.5 264.5h0M200.5 267.2h0M198.4 276.9h0M202.9 257.3h0M197.4 262.8h0M209.7 274.0h0M205.6 283.9h0M199.3 275.3h0M208.8 267.0h0M210.2 274.8h0M199.1 277.5h0M203.6 260.5h0M206.2 278.2h0M201.9 273.1h0M204.6 251.4h0M205.9 253.9h0M196.6 263.6h0M194.7 264.3h0M205.2 279.6h0M209.4 272.8h0M207.2 269.2h0M205.6 264.9h0M203.7 263.3h0M199.3 273.7h0M210.2 268.3h0M204.2 277.9h0M199.7 263.5h0M201.6 257.7h0M200.6 256.5h0M198.4 268.1h0M204.8 278.9h0M201.2 258.1h0M199.3 262.6h0M203.0 282.0h0M194.3 264.7h0M201.2 265.0h0M202.4 280.3h0M207.8 284.8h0M205.6 258.0h0M209.8 265.2h0M201.1 279.9h0M207.5 279.0h0M202.1 264.4h0M205.7 279.5h0M203.8 262.6h0M199.3 260.7h0M203.2 271.6h0M201.6 278.4h0M207.7 284.6h0M205.3 261.6h0M205.5 262.1h0M201.3 271.7h0M200.7 260.1h0M209.8 274.2h0M203.5 266.2h0M198.2 268.1h0M203.5 266.6h0M199.6 268.0h0M209.3 273.7h0M199.1 267.9h0M196.8 265.3h0M200.9 272.9h0M202.4 265.9h0M206.5 271.5h0M205.4 276.4h0M196.4 271.5h0M202.9 275.7h0M205.8 267.9h0M197.9 264.1h0M202.5 255.7h0M206.9 284.6h0M197.5 261.2h0M199.4 258.2h0M207.1 263.6h0M204.3 257.5h0" stroke="#3a9a70" stroke-width="1.44" stroke-linecap="round"/>
<path d="M175.5 298.1h0M195.8 295.4h0M175.2 295.5h0M181.6 299.8h0M193.6 297.4h0M173.3 295.8h0M196.4 297.7h0M179.0 298.2h0M178.9 300.5h0M196.3 297.2h0M206.9 287.8h0M196.4 297.1h0M204.0 292.4h0M181.3 299.4h0M179.7 299.8h0M205.6 286.8h0M195.2 296.9h0M199.7 292.4h0M185.2 297.6h0M202.1 293.0h0M184.6 298.2h0M181.9 300.5h0M188.6 297.5h0M194.3 299.7h0M170.8 294.5h0M178.0 297.2h0M187.7 300.3h0M173.4 298.3h0M177.1 297.3h0M179.1 296.8h0M182.3 298.9h0M189.5 297.0h0M193.4 298.6h0M196.4 297.9h0M202.0 294.0h0M186.2 300.6h0M198.4 293.7h0M204.2 289.6h0M172.5 294.9h0M196.8 294.6h0M177.3 299.0h0M200.8 292.9h0M188.6 298.1h0M176.8 297.6h0M206.3 287.9h0M203.2 288.9h0M174.5 297.9h0M173.9 298.5h0M174.4 296.0h0M184.7 298.1h0M203.4 289.4h0M180.3 300.7h0M181.2 297.3h0M179.1 299.8h0M178.1 296.5h0M195.8 296.3h0M189.1 300.0h0M190.9 300.2h0M172.4 297.7h0M174.3 295.9h0M184.2 297.7h0M176.0 297.8h0M204.5 287.1h0M192.9 298.5h0M178.9 300.0h0M201.3 294.4h0M201.7 291.5h0M193.6 297.2h0M188.9 298.6h0M183.6 300.3h0M174.4 295.2h0M179.8 297.5h0M189.2 299.7h0M189.2 298.4h0M179.4 300.1h0M180.6 299.1h0M180.9 300.2h0M190.7 299.7h0M195.6 295.9h0M198.2 293.7h0M203.0 290.4h0M206.9 287.0h0M203.4 290.8h0M201.5 293.6h0M184.9 300.9h0M198.7 293.1h0M199.1 294.8h0M172.8 296.6h0M190.0 300.0h0M189.7 298.6h0M201.2 293.5h0M171.3 293.2h0M206.0 287.5h0M195.0 297.9h0M179.8 300.6h0M200.0 294.6h0M206.2 289.0h0M199.3 297.1h0M173.8 295.5h0M192.1 299.3h0M200.2 293.9h0M176.6 299.1h0M171.8 297.0h0M206.9 286.7h0M195.1 298.6h0M194.8 296.0h0M176.5 298.8h0M194.8 298.2h0M206.7 288.7h0M190.6 299.1h0M169.9 294.4h0M189.2 299.9h0M187.6 298.5h0M173.6 295.6h0M170.9 294.0h0M203.5 292.1h0M206.7 287.4h0M186.3 297.6h0M206.0 286.5h0M205.3 285.4h0M188.5 299.2h0M196.6 298.0h0M195.6 296.4h0M205.0 291.4h0M174.0 297.0h0M203.9 292.2h0M195.0 295.5h0M200.2 293.5h0M180.6 297.0h0M186.9 297.2h0M169.9 296.5h0M205.0 285.2h0M195.6 296.1h0M195.9 297.9h0M174.3 296.7h0M174.5 297.3h0M170.8 295.6h0M196.4 297.5h0M182.6 297.1h0M171.7 297.1h0M178.3 298.3h0M194.5 295.7h0M179.2 297.7h0M171.7 294.7h0M187.3 298.2h0M190.0 299.3h0M190.2 296.8h0M199.7 296.6h0M202.8 290.9h0M170.5 295.6h0M192.9 299.0h0M192.7 296.2h0M177.7 296.3h0M174.3 297.8h0M205.7 288.9h0M172.8 295.5h0M193.1 300.0h0M204.4 288.1h0M195.0 295.2h0M192.6 298.9h0M202.1 292.1h0M182.6 297.3h0M188.6 298.4h0M173.5 297.0h0M200.1 292.2h0M188.2 300.2h0M197.0 296.0h0M182.6 299.2h0M201.1 292.1h0M196.2 297.4h0M205.0 289.0h0M174.7 297.3h0M193.0 298.2h0M182.0 300.9h0M174.8 298.3h0M179.7 297.2h0M170.5 294.0h0M171.7 293.9h0M172.2 294.2h0M202.5 291.4h0M202.3 291.0h0M173.6 296.6h0M207.4 286.6h0M204.3 290.3h0M191.0 297.9h0M177.9 297.5h0M194.8 299.4h0M205.6 288.7h0M168.7 295.6h0M181.1 300.2h0M193.1 297.1h0M204.0 287.1h0M190.2 300.2h0M202.1 290.8h0M178.7 298.9h0M173.8 295.0h0M183.6 300.9h0M172.7 296.4h0M194.5 298.2h0M207.6 287.2h0M203.6 292.7h0M173.8 297.1h0M198.9 293.8h0M202.5 290.6h0M177.5 297.8h0M186.0 300.3h0M192.8 298.9h0M197.1 298.1h0M173.0 295.3h0M206.9 287.3h0M207.5 287.2h0M178.8 296.5h0M170.5 294.8h0M199.2 293.6h0M203.2 291.2h0M200.8 295.5h0M171.1 294.0h0M197.9 295.1h0M201.8 290.4h0M189.2 297.1h0M190.0 298.9h0M175.4 299.1h0M184.5 299.7h0M192.7 297.1h0M177.0 299.4h0M204.1 289.0h0M203.2 289.1h0M187.2 298.4h0M201.2 295.6h0M200.7 294.6h0M176.4 298.5h0M182.7 297.9h0M175.2 297.4h0M199.2 295.4h0M201.5 292.2h0M199.8 295.1h0M180.0 300.1h0M185.6 300.7h0M189.1 299.8h0M194.4 296.1h0M191.9 297.5h0M182.3 300.4h0M193.7 299.8h0M187.4 300.7h0M205.4 287.7h0M184.9 297.9h0M182.2 300.1h0M199.2 294.1h0M194.0 297.6h0M203.4 292.6h0M187.5 298.2h0M193.8 298.8h0M170.7 293.2h0M190.7 298.5h0M177.4 298.2h0M205.2 285.5h0M204.2 287.1h0M201.1 295.7h0M177.6 298.5h0M171.6 296.5h0M202.9 289.7h0M171.1 296.9h0M196.1 298.6h0M195.9 295.0h0M174.1 295.7h0M172.7 296.2h0M204.2 289.7h0M192.7 297.0h0M202.1 294.6h0M191.4 297.9h0M201.9 292.4h0M175.7 297.8h0M200.3 296.1h0M196.7 297.0h0M179.1 300.2h0M182.8 300.0h0M190.0 298.2h0M174.8 296.4h0M191.6 298.0h0M196.8 298.6h0M205.3 287.7h0M197.0 295.5h0M178.0 300.1h0M192.6 300.0h0M203.8 291.0h0M190.8 298.9h0M173.4 298.4h0M178.2 300.0h0M173.5 295.7h0M182.3 298.8h0M182.0 300.6h0M176.1 297.1h0M184.7 299.2h0M192.2 297.3h0M193.1 297.4h0M188.0 297.1h0M177.7 298.5h0" stroke="#ecc850" stroke-width="1.44" stroke-linecap="round"/>
<path d="M182.7 290.6h0M189.1 283.8h0M187.8 278.3h0M190.7 285.8h0M197.0 286.0h0M195.0 294.3h0M182.8 285.1h0M189.7 276.9h0M185.6 285.2h0M182.5 287.2h0M181.6 296.0h0M176.6 288.6h0M194.9 286.1h0M200.4 285.3h0M188.4 283.1h0M198.7 289.1h0M172.5 291.9h0M177.6 296.1h0M204.5 285.4h0M200.4 286.7h0M197.4 292.7h0M185.6 281.1h0M180.1 279.8h0M182.4 284.4h0M198.0 281.6h0M191.8 295.6h0M191.2 281.7h0M191.1 275.7h0M184.2 288.7h0M183.2 277.2h0M183.8 273.7h0M186.0 287.8h0M185.3 295.4h0M185.0 278.6h0M175.5 290.7h0M174.5 291.2h0M190.8 279.2h0M186.2 281.0h0M194.0 290.3h0M178.7 292.2h0M181.3 279.2h0M188.0 282.6h0M180.9 278.6h0M190.7 282.6h0M177.2 292.5h0M186.5 282.0h0M189.2 279.0h0M180.0 287.7h0M178.4 285.2h0M178.7 282.0h0M187.7 272.9h0M180.8 282.7h0M183.6 279.8h0M174.2 293.7h0M185.5 276.3h0M190.9 279.7h0M181.2 286.4h0M187.0 281.4h0M187.8 287.9h0M200.4 289.5h0M176.8 293.1h0M194.6 279.8h0M177.1 284.8h0M182.3 283.6h0M198.4 289.1h0M184.2 284.3h0M183.9 282.8h0M184.8 274.5h0M204.8 284.6h0M186.1 283.0h0M176.0 289.4h0M182.2 296.0h0M178.1 291.2h0M176.3 293.7h0M195.5 290.7h0M200.8 286.7h0M182.9 281.6h0M189.5 290.9h0M195.2 289.2h0M183.3 283.8h0M198.1 280.2h0M177.0 287.0h0M186.3 279.6h0M200.5 283.8h0M193.8 282.6h0M189.5 288.4h0M197.5 279.6h0M177.4 289.1h0M185.1 292.2h0M189.1 276.2h0M181.6 291.8h0M173.9 287.8h0M189.7 293.4h0M183.5 276.4h0M182.8 290.0h0M204.2 285.0h0" stroke="#f0e0a0" stroke-width="1.44" stroke-linecap="round"/>
<path d="M171.3 302.2h0M172.3 302.8h0M161.8 300.1h0M162.3 303.1h0M176.5 298.6h0M172.0 302.0h0M163.3 301.8h0M161.6 300.7h0M170.4 299.8h0M168.7 302.9h0M162.8 300.2h0M174.4 301.8h0M163.4 302.2h0M168.8 302.5h0M166.2 301.9h0M176.2 298.5h0M162.3 301.0h0M169.6 301.2h0M162.0 303.9h0M162.0 301.9h0M168.9 302.8h0M169.2 301.3h0M173.2 300.6h0M171.1 299.1h0M163.1 301.3h0M165.1 303.0h0M169.7 302.7h0M170.1 302.3h0M165.5 298.9h0M165.8 300.5h0M170.7 301.8h0M165.1 301.7h0M162.4 299.9h0M173.4 301.2h0M171.4 301.3h0M164.8 302.4h0M161.5 300.4h0M165.8 302.7h0M169.1 303.1h0M165.7 302.9h0M160.1 302.2h0M163.6 302.0h0M169.5 302.2h0M175.7 300.2h0M171.9 301.2h0M170.6 300.8h0M163.0 302.0h0M174.7 303.2h0M177.2 299.7h0M174.8 299.7h0M174.6 300.9h0M176.1 299.1h0M161.6 301.6h0M167.8 301.2h0M173.1 300.8h0M172.5 299.4h0M171.3 303.1h0M167.7 299.0h0M165.7 302.8h0M164.5 302.3h0M178.0 301.1h0M172.7 301.2h0M174.9 300.9h0M173.8 299.6h0M171.8 299.5h0M160.4 301.7h0M167.7 302.2h0M177.1 300.0h0M161.6 300.0h0M163.5 301.5h0" stroke="#ecc850" stroke-width="1.44" stroke-linecap="round"/>
<path d="M160.2 269.6h0M160.3 271.3h0M159.6 272.9h0M162.0 269.7h0M162.0 268.5h0M159.9 274.2h0M162.2 270.6h0M160.5 275.8h0M162.0 271.9h0M162.8 274.5h0M159.3 271.6h0M159.2 268.8h0M159.9 274.2h0M159.2 274.0h0M159.6 274.8h0" stroke="#d05050" stroke-width="1.44" stroke-linecap="round"/>
<path d="M117.1 277.4h0M117.0 277.0h0M116.3 277.2h0M116.8 277.1h0M117.1 277.9h0" stroke="#203060" stroke-width="1.44" stroke-linecap="round"/>
<path d="M140.1 329.4h0M135.8 326.0h0M142.7 328.4h0M140.5 328.7h0M142.0 328.7h0M147.8 331.0h0M139.9 326.5h0M140.9 327.5h0M153.0 334.6h0M148.3 332.0h0M135.8 326.8h0M149.0 330.4h0M148.2 331.7h0M145.9 332.2h0M149.4 333.6h0M154.2 333.6h0M142.0 328.6h0M149.4 331.5h0M139.7 328.1h0M140.3 327.3h0M137.3 326.7h0M139.1 326.1h0M136.0 325.9h0M153.4 334.6h0M144.9 330.1h0M150.2 332.2h0M145.8 330.2h0M136.9 327.2h0M149.4 331.2h0M152.3 330.4h0M136.0 327.1h0M150.0 330.9h0M144.6 329.7h0M134.9 327.0h0M143.6 330.4h0M139.6 328.0h0M146.1 331.9h0M135.0 326.0h0M142.2 330.1h0M146.8 328.8h0M142.4 329.1h0M151.1 332.3h0M137.8 327.5h0M145.0 332.9h0M139.2 326.6h0M142.1 329.6h0M149.3 331.7h0M154.3 333.5h0M149.7 333.3h0M144.7 332.2h0M146.0 331.8h0M136.8 326.9h0M137.6 327.0h0M147.4 328.5h0M153.8 336.0h0M136.3 326.9h0M143.5 329.4h0M153.1 333.0h0M135.3 326.5h0M137.0 325.5h0M149.8 331.0h0M150.8 330.5h0M136.9 326.4h0M143.6 328.5h0M149.8 330.3h0M149.5 332.5h0M141.5 328.4h0M135.5 326.2h0M138.2 323.7h0M150.4 334.1h0M152.2 332.3h0M145.4 327.7h0M139.6 328.2h0M143.1 328.7h0M148.7 331.6h0M147.0 332.3h0M153.5 335.7h0M138.3 327.7h0M140.9 330.0h0M141.1 328.0h0M145.7 331.0h0M153.0 332.6h0M143.9 330.8h0M144.4 329.8h0M143.7 326.7h0M146.5 330.2h0M134.6 325.8h0M136.0 326.6h0M138.8 326.9h0M135.1 326.9h0M139.6 328.0h0M145.0 330.1h0M154.5 333.8h0M138.2 326.0h0M145.1 330.6h0" stroke="#a890d0" stroke-width="1.44" stroke-linecap="round"/>
<path d="M152.8 315.5h0M152.3 315.9h0M155.6 312.9h0M155.1 313.2h0M154.2 314.2h0M155.7 312.8h0M155.3 313.1h0M152.9 315.6h0M154.5 314.1h0M154.9 313.3h0" stroke="#404060" stroke-width="1.44" stroke-linecap="round"/>
<path d="M173.3 333.8h0M160.0 336.2h0M169.7 334.3h0M163.5 334.6h0M167.2 337.3h0M160.6 334.7h0M161.1 332.2h0M159.9 332.3h0M164.7 336.7h0M174.1 335.2h0M166.2 334.1h0M162.2 331.8h0M164.3 335.4h0M162.8 333.8h0M171.3 335.2h0M160.2 332.7h0M165.9 331.1h0M166.8 331.8h0M172.6 332.1h0M163.5 333.6h0M167.4 334.0h0M168.9 332.8h0M165.1 336.0h0M161.6 337.1h0M162.3 332.4h0M172.7 333.3h0M173.6 335.2h0M169.9 331.5h0M161.4 332.1h0M170.8 335.2h0M159.1 333.5h0M163.0 332.7h0M167.0 332.6h0M160.4 334.9h0M172.6 332.1h0M163.1 334.9h0M166.5 335.6h0M159.4 336.0h0M170.8 337.1h0M162.5 332.4h0M170.7 332.2h0M163.1 334.0h0M158.7 335.0h0M160.4 334.7h0M161.7 333.8h0M163.0 335.1h0M164.9 337.2h0M167.1 334.7h0M160.7 337.0h0M159.0 334.1h0M159.5 332.9h0M164.5 331.3h0M158.2 334.4h0M159.3 334.2h0M159.2 335.7h0M170.2 332.6h0M171.4 331.8h0M169.2 332.6h0M171.5 332.9h0M172.2 337.0h0M169.3 334.6h0M163.6 335.5h0M160.5 336.0h0M162.1 332.3h0M170.1 332.3h0M169.0 331.6h0M161.1 336.0h0M166.3 334.1h0M161.0 336.7h0M172.0 335.5h0M169.5 331.4h0M165.4 337.7h0M167.6 334.4h0M172.9 335.8h0M164.3 332.6h0M171.6 334.4h0M167.0 331.6h0M163.1 334.3h0M162.6 336.1h0M173.1 333.0h0M161.8 334.5h0M166.1 332.1h0M166.4 334.0h0M170.6 333.0h0M162.0 336.1h0M170.8 335.6h0M173.3 332.8h0M164.3 332.3h0M160.6 335.4h0M163.7 335.9h0M174.7 334.6h0M172.8 334.6h0M167.1 336.2h0M168.0 332.7h0M172.8 335.1h0M169.4 335.5h0M170.1 334.4h0M163.3 331.8h0M164.3 334.8h0M163.3 337.7h0M170.1 337.2h0M161.0 333.7h0M166.2 337.2h0M168.2 334.8h0M174.4 334.3h0M173.0 335.3h0M166.8 336.1h0M167.4 333.2h0M168.9 335.3h0M164.2 332.7h0M162.9 333.1h0M167.4 334.4h0M167.3 335.8h0M172.0 332.9h0M171.2 335.7h0M173.6 333.3h0M174.1 334.2h0M172.5 332.2h0M161.5 331.9h0M173.9 335.7h0M169.9 335.5h0M163.3 331.4h0M170.8 333.8h0M165.2 337.5h0M163.4 331.9h0M173.0 332.7h0M173.6 334.6h0M168.5 334.9h0M164.7 333.5h0M173.0 333.7h0M160.6 332.6h0M174.2 333.0h0M165.1 332.3h0M174.4 333.3h0M173.5 335.7h0M163.3 334.5h0M167.6 332.9h0M172.4 335.5h0M169.7 333.3h0M167.1 336.2h0M161.6 335.0h0M165.6 331.6h0M163.3 337.6h0M167.6 336.0h0M168.2 335.1h0M167.5 333.4h0M158.8 334.8h0M172.3 332.4h0M168.5 337.2h0M162.4 337.4h0M172.6 334.6h0M161.7 335.5h0M168.0 336.3h0M171.5 333.6h0M161.0 335.2h0M161.2 331.8h0M168.1 331.2h0M172.2 332.0h0M162.8 333.1h0M162.2 335.2h0" stroke="#a8d060" stroke-width="1.44" stroke-linecap="round"/>
<path d="M152.7 360.2h0M148.0 357.5h0M153.8 362.0h0M152.1 361.0h0M149.8 359.5h0M150.6 358.5h0M153.6 362.8h0M155.8 366.2h0M156.8 365.9h0M150.5 358.4h0M154.9 364.8h0M152.7 360.1h0M150.7 358.0h0M148.9 357.5h0M154.7 363.9h0M157.8 366.3h0M150.8 361.1h0M152.1 361.8h0M151.8 359.6h0M154.6 364.5h0M151.4 359.4h0M157.1 365.5h0M153.0 361.6h0M151.5 359.5h0M157.4 366.3h0M152.2 359.8h0M157.4 366.6h0M153.3 363.1h0M156.3 366.3h0M152.2 361.0h0M152.3 360.1h0M155.6 365.7h0M155.6 365.6h0M150.2 357.9h0M156.2 364.9h0M154.8 362.6h0M148.7 357.2h0M152.3 360.4h0M155.7 365.4h0M156.2 366.7h0M154.7 364.4h0M154.3 364.0h0M147.9 356.4h0M156.1 365.2h0M152.7 361.4h0M155.1 364.6h0M149.4 357.7h0M153.7 363.0h0M151.7 360.7h0M152.9 361.7h0M154.2 362.4h0M157.0 366.7h0M149.2 355.8h0M148.6 356.1h0M151.7 362.0h0" stroke="#a0c8e8" stroke-width="1.44" stroke-linecap="round"/>
<path d="M159.3 369.6h0M157.7 370.6h0M161.3 371.9h0M156.1 369.4h0M159.6 370.4h0M160.7 374.3h0M158.5 369.8h0M161.9 373.2h0M156.0 368.2h0M161.3 371.7h0M158.6 370.7h0M159.9 371.4h0M157.4 368.6h0M156.9 368.6h0M158.5 371.4h0M158.3 370.8h0M158.9 369.8h0M161.8 373.7h0M158.3 371.6h0M159.6 371.8h0M161.7 372.9h0M154.3 368.1h0M161.2 373.2h0M160.5 372.6h0M156.0 370.5h0M156.6 370.9h0M159.8 371.3h0M155.3 368.8h0M156.0 368.5h0M160.7 371.5h0M160.7 372.1h0M156.9 367.5h0M156.0 369.4h0M160.0 371.3h0M159.7 370.9h0M160.4 372.9h0M155.5 369.1h0M159.1 373.1h0M160.5 371.9h0M158.9 373.4h0M157.4 372.2h0M159.6 371.3h0M157.0 369.2h0M161.4 373.0h0M155.3 367.9h0M160.3 373.9h0M159.7 373.3h0M161.6 373.4h0M157.3 373.3h0M155.4 368.2h0M159.7 371.4h0M158.0 370.2h0M154.7 368.9h0M158.8 370.2h0M161.8 373.2h0" stroke="#901818" stroke-width="1.44" stroke-linecap="round"/>
<path d="M90.2 348.9h0M79.5 346.8h0M75.9 345.8h0M77.0 343.4h0M89.0 347.1h0M78.6 346.7h0M80.1 345.1h0M80.0 344.3h0M91.2 342.0h0M82.9 347.5h0M97.1 345.7h0M88.1 342.6h0M81.4 345.5h0M82.7 344.6h0M80.8 342.8h0M100.0 345.6h0M81.0 344.7h0M96.0 345.1h0M78.0 342.4h0M83.3 344.4h0M95.0 341.1h0M97.5 343.1h0M90.1 343.6h0M90.1 344.0h0M86.6 343.2h0M83.5 340.6h0M83.7 347.8h0M96.3 344.1h0M78.8 346.8h0M99.1 342.2h0M86.7 341.7h0M89.2 340.2h0M81.7 343.4h0M85.2 343.1h0M85.3 345.7h0M91.2 348.4h0M87.4 344.3h0M99.1 342.9h0M89.2 344.4h0M92.9 344.1h0M96.5 345.4h0M96.9 346.7h0M85.9 340.6h0M85.5 348.0h0M95.6 347.8h0M93.6 344.7h0M94.0 345.3h0M98.3 341.2h0M91.6 348.2h0M85.8 343.7h0M92.0 348.4h0M94.6 348.1h0M94.6 341.6h0M89.3 347.5h0M95.2 345.3h0M93.6 346.2h0M90.6 344.4h0M91.7 343.0h0M78.5 344.8h0M97.8 344.5h0M96.3 342.9h0M100.0 341.9h0M82.0 342.2h0M81.3 346.5h0M84.0 340.9h0M99.0 342.6h0M99.0 345.2h0M87.6 342.7h0M96.3 345.9h0M85.3 342.7h0M84.8 342.9h0M86.8 341.8h0M86.4 345.9h0M87.8 342.1h0M94.7 346.5h0M93.4 346.8h0M87.9 347.9h0M85.9 341.7h0M97.1 341.4h0M86.6 342.8h0M101.2 343.5h0M89.3 347.7h0M79.4 346.7h0M91.1 343.2h0M89.2 342.0h0M87.7 344.7h0M81.7 342.2h0M76.0 345.2h0M87.3 346.0h0M87.4 343.7h0M93.1 345.5h0M99.4 342.1h0M89.4 340.8h0M98.7 342.5h0M94.1 343.0h0M84.9 348.3h0M91.0 342.7h0M81.3 347.6h0M88.1 348.0h0M80.5 344.6h0M94.6 343.2h0M82.6 343.4h0M89.6 342.3h0M93.9 341.1h0M96.9 347.5h0M93.6 341.4h0M95.4 342.1h0M89.5 345.1h0M79.9 345.5h0M89.4 344.6h0M78.6 341.8h0M87.6 346.1h0M83.3 343.5h0M78.1 344.5h0M87.4 344.2h0M84.4 342.1h0M101.6 343.6h0M88.6 344.9h0M97.2 344.3h0M95.8 340.8h0M99.9 344.5h0M93.6 344.2h0M80.3 342.0h0M81.5 342.7h0M94.0 344.4h0M88.7 342.5h0M87.0 348.6h0M100.9 342.3h0M75.6 345.6h0M99.5 345.8h0M94.2 340.8h0M97.3 346.7h0M83.9 342.5h0M102.5 343.3h0M79.0 343.5h0M76.0 343.4h0M86.6 343.9h0M92.0 342.8h0M87.0 347.7h0M91.0 343.1h0M93.8 342.0h0M78.6 344.6h0M89.7 343.6h0M92.8 344.0h0M87.8 347.9h0M85.9 347.4h0M99.5 341.6h0M95.9 348.3h0M101.8 342.8h0M91.7 345.9h0M92.3 341.7h0M92.1 344.8h0M91.3 345.3h0M85.1 340.9h0M77.7 346.6h0M85.6 341.8h0M77.3 343.3h0M85.2 341.2h0M92.9 343.0h0M86.1 342.6h0M93.2 340.2h0M98.2 344.4h0M90.8 345.1h0M85.6 340.2h0M95.2 348.0h0M87.3 347.7h0M98.6 343.2h0M101.3 346.0h0M86.3 342.0h0M85.5 341.3h0M94.8 348.6h0M90.0 342.8h0M100.4 347.0h0M94.3 346.5h0M96.7 346.3h0M93.4 344.5h0M81.9 342.4h0M94.7 347.0h0M101.7 343.5h0M94.0 343.7h0M80.0 342.2h0M87.2 346.3h0M89.6 342.1h0M85.9 348.8h0M93.6 344.4h0M89.1 348.7h0M91.5 345.1h0M83.9 348.7h0M87.9 342.4h0M86.4 344.6h0M83.3 342.5h0M100.5 343.6h0M83.3 344.9h0M85.8 348.0h0M79.3 345.3h0M87.0 345.6h0M96.1 344.6h0M87.9 348.8h0M98.5 344.6h0M87.7 348.0h0M93.1 346.1h0M96.3 345.5h0M96.7 347.1h0M78.9 344.8h0M100.9 343.8h0M93.3 346.4h0M75.8 343.3h0M78.7 346.5h0M83.6 344.8h0M82.0 346.6h0M99.3 346.3h0M77.9 341.9h0M96.6 344.9h0M77.1 345.9h0M93.0 344.8h0M79.1 341.5h0M88.5 340.4h0M85.0 342.7h0M76.7 343.0h0M87.5 341.5h0M98.8 341.6h0M101.7 344.4h0M95.5 341.6h0M92.7 347.9h0M90.2 342.2h0M94.9 344.5h0M99.9 344.7h0M89.5 345.6h0M92.5 348.6h0M92.8 340.3h0M86.0 341.4h0M85.1 343.7h0M80.5 345.5h0M77.8 342.3h0M97.2 343.9h0M77.9 342.4h0M83.6 342.5h0M99.5 347.0h0M78.5 346.4h0M97.4 344.2h0M81.9 342.3h0M89.0 340.6h0M83.4 341.9h0M101.0 344.0h0M95.3 346.5h0M80.8 341.1h0M86.2 344.4h0M82.2 341.5h0M97.2 344.4h0M89.3 341.1h0M100.7 345.2h0M94.9 342.1h0M79.2 342.0h0M96.8 343.1h0M89.8 348.4h0M87.9 347.5h0M96.7 343.5h0M91.5 346.1h0M99.5 342.7h0M92.1 347.7h0M99.7 342.7h0M82.7 341.2h0M99.6 344.2h0M77.8 344.2h0M89.8 343.1h0M86.2 345.3h0M90.9 344.1h0M83.0 344.7h0M84.3 342.0h0M92.8 343.0h0M84.2 340.4h0M93.7 343.7h0M87.8 345.1h0M83.3 344.5h0M83.8 341.5h0M76.6 344.7h0M100.4 342.0h0M81.6 347.6h0M96.6 346.5h0M97.9 346.0h0M84.8 346.9h0M87.1 346.5h0M79.1 347.2h0M82.4 342.1h0M77.9 344.8h0M83.7 346.1h0M92.3 343.4h0M97.7 345.6h0M81.4 346.1h0M97.4 344.8h0M91.7 342.0h0M78.2 345.1h0M83.0 341.5h0M83.7 346.6h0M77.5 343.7h0M86.3 344.8h0M96.8 347.3h0M89.9 342.0h0M90.6 345.2h0M99.9 343.9h0M89.1 343.4h0M96.2 344.0h0M93.0 340.8h0M102.5 344.9h0M96.8 345.6h0M97.5 346.1h0M96.5 346.9h0M95.8 344.2h0M99.0 343.7h0M86.1 346.6h0M80.8 346.7h0M92.8 344.0h0M81.4 346.4h0M76.9 345.2h0M100.3 342.5h0M87.4 340.8h0M91.3 341.0h0M93.4 341.2h0M91.0 344.5h0M86.7 346.2h0" stroke="#5080c0" stroke-width="1.44" stroke-linecap="round"/>
<path d="M88.6 356.8h0M92.3 351.7h0M97.2 348.8h0M77.2 353.6h0M89.0 354.9h0M94.2 351.5h0M96.9 353.7h0M89.6 351.1h0M95.3 350.0h0M82.3 354.0h0M84.6 353.5h0M82.0 351.4h0M92.7 351.1h0M97.4 353.6h0M82.1 349.8h0M95.1 354.1h0M81.3 354.9h0M97.1 352.6h0M84.4 355.7h0M84.4 352.0h0M78.4 351.8h0M81.8 350.3h0M87.8 351.1h0M86.6 355.6h0M84.3 355.4h0M90.5 353.3h0M83.4 352.6h0M78.7 349.0h0M89.8 355.2h0M96.6 353.5h0M90.9 352.7h0M89.1 353.6h0M88.3 348.7h0M90.5 354.3h0M90.9 351.1h0M85.4 348.5h0M82.1 349.4h0M83.8 353.0h0M87.7 347.8h0M82.1 350.4h0M89.3 355.8h0M84.8 350.0h0M76.3 352.3h0M96.3 351.9h0M97.3 353.1h0M78.2 351.4h0M87.8 351.1h0M93.3 347.6h0M84.5 352.2h0M87.7 350.8h0M94.0 352.9h0M90.6 348.7h0M90.6 350.5h0M85.8 354.1h0M98.2 350.3h0M91.6 356.2h0M84.3 356.2h0M89.9 351.7h0M93.1 355.5h0M89.4 348.9h0M86.8 351.8h0M85.0 355.7h0M80.0 350.3h0M93.8 354.0h0M85.2 354.0h0M77.3 353.0h0M78.1 350.9h0M98.6 351.5h0M89.0 351.1h0M85.4 350.1h0M82.0 355.2h0M95.4 348.6h0M76.1 352.3h0M90.5 348.7h0M98.0 351.9h0M82.9 349.6h0M81.6 351.8h0M95.0 349.1h0M87.8 347.6h0M84.2 347.8h0M81.6 355.6h0M78.0 350.4h0M82.8 354.5h0M79.0 349.7h0M85.0 348.3h0M85.0 350.4h0M78.8 353.1h0M84.6 353.4h0M78.5 353.7h0M77.4 351.4h0M88.9 350.3h0M96.4 353.8h0M91.7 349.7h0M88.5 350.3h0M93.7 351.1h0M95.3 350.7h0M77.2 352.2h0M87.0 350.8h0M87.6 353.4h0M87.1 354.6h0M96.5 355.3h0M84.1 349.5h0M96.6 349.3h0M77.8 351.4h0M84.9 355.0h0M89.6 353.7h0M94.1 354.4h0M83.0 347.7h0M96.6 354.4h0M92.3 354.7h0M87.7 349.2h0M84.3 348.4h0M90.2 349.8h0M91.5 350.1h0M89.5 355.7h0M91.4 349.4h0M89.7 354.7h0M81.6 351.0h0M89.6 350.2h0M87.6 349.7h0M83.6 353.8h0M79.8 350.5h0M88.5 347.0h0M87.2 348.9h0M88.6 355.6h0M85.6 353.3h0M99.2 353.0h0M94.9 348.3h0M95.8 352.7h0M82.5 351.5h0M87.6 350.1h0M99.6 351.0h0M79.6 353.3h0M88.6 352.4h0M98.4 350.7h0M80.4 353.4h0M86.1 348.4h0M83.7 353.9h0M94.4 355.1h0M88.2 354.3h0M84.6 349.0h0M76.5 352.1h0M89.2 352.5h0M92.6 350.6h0M90.4 348.9h0M95.3 352.0h0M90.9 350.3h0M99.5 350.8h0M91.6 351.0h0M94.6 350.6h0M84.3 349.8h0M96.4 355.1h0M81.4 352.8h0M97.3 351.8h0M84.4 352.4h0M79.2 352.9h0M94.8 355.0h0M89.2 347.4h0M86.8 356.5h0M82.9 350.5h0M98.1 349.5h0M85.8 355.2h0M77.8 353.9h0M83.5 347.8h0M93.7 355.8h0M85.6 355.5h0M90.9 354.5h0M79.8 353.1h0M90.0 348.1h0M90.9 354.3h0M89.3 353.9h0M95.2 351.4h0M87.6 354.1h0M98.5 351.7h0M92.0 350.5h0M85.6 349.4h0M86.7 352.1h0M90.7 354.4h0M82.7 347.8h0M80.1 351.3h0M85.6 349.3h0M80.7 353.0h0M93.8 348.1h0M87.5 354.0h0M76.2 352.0h0M87.8 348.2h0M96.3 353.9h0M87.6 348.5h0M89.7 349.7h0M91.0 347.9h0M95.7 355.2h0M87.0 357.0h0M80.7 352.0h0M84.2 355.1h0M85.1 351.1h0M93.4 348.1h0M95.2 355.6h0M97.2 348.8h0M94.0 350.9h0M92.0 355.7h0M88.7 352.6h0M83.6 355.8h0M87.4 354.2h0M90.0 351.5h0M78.2 353.6h0M94.6 351.1h0M84.3 353.3h0M93.8 349.9h0M80.8 349.5h0M85.6 350.1h0M87.3 350.9h0M96.7 349.4h0M80.9 353.9h0M93.2 351.7h0M95.5 348.9h0M82.5 352.4h0M93.5 351.0h0M98.8 351.4h0M95.8 352.6h0M95.2 352.2h0M91.8 348.7h0M88.0 350.5h0M88.6 351.4h0M82.4 356.0h0M86.2 347.3h0M93.4 355.9h0M94.9 355.5h0M93.8 350.2h0M81.8 348.2h0M92.2 348.9h0M98.1 354.6h0M88.4 348.1h0M89.2 353.8h0M91.0 352.1h0M89.9 356.9h0M86.4 353.0h0M95.0 352.2h0M80.6 353.5h0M81.6 348.2h0M92.8 348.0h0M87.6 348.3h0M93.4 350.0h0M79.0 352.6h0M94.1 349.8h0M79.0 350.0h0M90.5 353.2h0M95.0 354.6h0M82.7 348.8h0M82.1 351.2h0M78.8 351.3h0M85.9 353.5h0M87.8 351.3h0M86.6 350.1h0M84.6 349.8h0M93.9 348.0h0M85.9 351.4h0M86.6 356.8h0M82.5 351.8h0M97.1 352.4h0M93.3 352.3h0M97.5 350.4h0M96.7 353.8h0M97.9 351.4h0M84.3 347.8h0M85.8 350.4h0M77.2 350.9h0M99.4 351.3h0M91.1 355.6h0M80.9 351.2h0M94.5 353.0h0M91.0 349.0h0M91.0 352.0h0M92.3 348.0h0M96.3 354.6h0M93.3 354.7h0M94.3 355.2h0M84.5 350.0h0M94.7 350.9h0M80.1 350.7h0M84.4 348.4h0M77.6 352.7h0M81.6 352.5h0M89.6 349.7h0M90.2 356.1h0M88.7 352.4h0M85.7 354.2h0M82.3 352.0h0M79.3 353.1h0M93.6 352.1h0M96.9 350.7h0M89.1 352.3h0M77.8 351.2h0M83.3 353.5h0M87.9 353.4h0M94.9 348.8h0M96.5 354.3h0M83.7 356.0h0M87.3 355.8h0M86.0 349.8h0M85.7 352.9h0M79.1 351.6h0M85.4 352.3h0M88.3 349.1h0M80.2 353.0h0M88.2 353.1h0M90.6 350.4h0M88.9 355.0h0M98.4 350.5h0M89.1 352.8h0M81.7 348.2h0M80.2 352.6h0M92.1 356.1h0M85.9 350.6h0M94.6 355.6h0M84.9 351.7h0M82.9 347.9h0M88.5 347.2h0M90.1 354.6h0M86.8 350.1h0M82.1 351.3h0" stroke="#d09098" stroke-width="1.44" stroke-linecap="round"/>
<path d="M114.8 349.9h0M113.9 349.0h0M115.0 346.2h0M115.5 348.2h0M116.5 349.6h0M115.0 347.1h0M113.2 347.5h0M113.0 346.7h0M113.8 345.2h0M118.9 343.3h0M111.2 343.6h0M120.7 346.1h0M114.8 345.0h0M113.3 349.6h0M119.2 344.5h0M115.5 346.8h0M111.1 346.0h0M116.4 349.1h0M119.4 346.6h0M118.1 343.9h0M110.7 346.6h0M114.6 345.7h0M119.7 348.2h0M112.8 347.0h0M119.3 347.7h0M117.7 348.6h0M109.9 344.1h0M112.0 343.4h0M115.9 345.8h0M112.8 344.7h0M117.4 347.8h0M117.3 346.2h0M113.7 349.9h0M111.3 344.0h0M113.6 345.0h0M118.2 349.1h0M114.3 343.8h0M115.0 349.7h0M113.8 344.5h0M116.8 346.8h0M116.5 349.2h0M114.1 345.6h0M117.0 346.0h0M118.4 345.4h0M114.5 345.8h0M119.0 346.1h0M111.7 347.1h0M112.8 349.4h0M112.2 346.0h0M115.1 345.6h0M117.1 346.9h0M111.0 343.2h0M117.4 349.6h0M112.2 345.4h0M115.6 344.2h0M111.9 347.1h0M118.7 345.6h0M118.9 348.5h0M112.9 348.0h0M119.4 343.8h0M110.5 345.5h0M117.3 346.1h0M118.9 348.8h0M113.0 349.7h0M112.3 348.4h0M111.6 347.0h0M113.5 348.4h0M116.0 348.0h0M110.4 344.9h0M113.0 348.4h0M113.2 346.3h0M119.7 346.7h0M114.9 348.1h0M114.8 349.8h0M115.1 349.7h0M111.2 357.9h0M111.2 357.9h0M110.1 348.2h0M109.5 350.1h0M111.5 361.3h0M111.3 357.3h0M111.6 354.6h0M110.3 359.8h0M110.8 357.2h0M110.0 354.1h0M109.6 348.9h0M110.6 359.7h0M111.7 360.4h0M110.1 349.9h0M110.0 355.9h0M110.2 349.5h0M110.4 350.1h0M110.4 352.7h0M111.3 358.1h0M111.2 366.3h0M111.7 359.2h0M110.5 354.5h0M111.4 353.3h0M109.9 364.6h0M111.1 353.6h0M108.8 351.6h0M109.2 354.8h0M105.0 353.2h0M108.1 349.6h0M105.3 356.2h0M103.8 355.5h0M102.6 351.4h0M107.9 353.4h0M107.3 356.1h0M102.4 352.8h0M105.6 347.2h0M106.2 355.8h0M109.5 350.5h0M103.4 348.5h0M102.3 352.8h0" stroke="#30a030" stroke-width="1.44" stroke-linecap="round"/>
<path d="M110.3 372.1h0M108.9 376.3h0M109.8 376.3h0M109.5 373.1h0M108.0 377.3h0M110.9 372.7h0M110.7 375.1h0M110.4 375.0h0M109.4 372.4h0M109.0 374.8h0M109.5 370.5h0M111.8 374.9h0M109.0 373.1h0M109.6 371.2h0M109.7 374.7h0M110.8 378.0h0M110.8 374.9h0M111.4 376.2h0M111.9 373.2h0M108.7 374.1h0M110.0 372.3h0M111.5 374.6h0M111.1 375.9h0M109.1 373.2h0M110.4 372.7h0M111.3 372.2h0M110.5 375.3h0M109.9 376.2h0M109.6 371.0h0M109.5 377.0h0M108.8 373.9h0M110.6 373.9h0M110.7 376.1h0M109.8 371.4h0M110.0 373.0h0" stroke="#f0b050" stroke-width="1.44" stroke-linecap="round"/>
<text x="1.80" y="177.87" font-size="10.8" font-weight="bold" textLength="6.60" lengthAdjust="spacingAndGlyphs">E</text>
<text x="110.00" y="175.90" font-size="9.5" text-anchor="middle" textLength="26.00" lengthAdjust="spacingAndGlyphs">Saline</text>
<text x="75.20" y="194.81" font-size="7.0" fill="#333" textLength="47.80" lengthAdjust="spacingAndGlyphs">Naive B cell_c36</text>
<text x="98.70" y="212.71" font-size="7.0" fill="#333" textLength="28.80" lengthAdjust="spacingAndGlyphs">B cell_c21</text>
<text x="52.00" y="228.51" font-size="7.0" fill="#333" textLength="28.80" lengthAdjust="spacingAndGlyphs">Pro-B_c26</text>
<text x="24.00" y="233.31" font-size="7.0" fill="#333" textLength="26.40" lengthAdjust="spacingAndGlyphs">Treg_c24</text>
<text x="87.10" y="239.21" font-size="7.0" fill="#333" textLength="40.90" lengthAdjust="spacingAndGlyphs">Pre-B cell_c25</text>
<text x="1.00" y="250.21" font-size="7.0" fill="#333" textLength="29.00" lengthAdjust="spacingAndGlyphs">B cell_c16</text>
<text x="117.30" y="251.81" font-size="7.0" fill="#333" textLength="39.30" lengthAdjust="spacingAndGlyphs">immNeu_c12</text>
<text x="156.00" y="239.81" font-size="7.0" fill="#333" textLength="41.00" lengthAdjust="spacingAndGlyphs">preNeu-3_c39</text>
<text x="36.00" y="267.91" font-size="7.0" fill="#333" textLength="34.00" lengthAdjust="spacingAndGlyphs">NK cell_c10</text>
<text x="90.00" y="267.51" font-size="7.0" fill="#333" textLength="27.70" lengthAdjust="spacingAndGlyphs">T cell_c37</text>
<text x="188.00" y="268.01" font-size="7.0" fill="#333" textLength="41.00" lengthAdjust="spacingAndGlyphs">preNeu-2_c33</text>
<text x="99.00" y="279.81" font-size="7.0" fill="#333" textLength="28.00" lengthAdjust="spacingAndGlyphs">Meg_c35</text>
<text x="21.00" y="280.21" font-size="7.0" fill="#333" textLength="24.00" lengthAdjust="spacingAndGlyphs">pDC_c7</text>
<text x="65.80" y="286.31" font-size="7.0" fill="#333" textLength="26.50" lengthAdjust="spacingAndGlyphs">MPP_c27</text>
<text x="124.70" y="295.01" font-size="7.0" fill="#333" textLength="41.30" lengthAdjust="spacingAndGlyphs">preNeu-1_c18</text>
<text x="172.70" y="296.51" font-size="7.0" fill="#333" textLength="41.30" lengthAdjust="spacingAndGlyphs">proNeu-2_c22</text>
<text x="86.60" y="304.81" font-size="7.0" fill="#333" textLength="30.00" lengthAdjust="spacingAndGlyphs">Mono_c19</text>
<text x="28.00" y="307.51" font-size="7.0" fill="#333" textLength="54.70" lengthAdjust="spacingAndGlyphs">GM-precursor_c17</text>
<text x="126.00" y="324.51" font-size="7.0" fill="#333" textLength="29.80" lengthAdjust="spacingAndGlyphs">EBP1_c20</text>
<text x="49.20" y="332.51" font-size="7.0" fill="#333" textLength="30.80" lengthAdjust="spacingAndGlyphs">Mono_c15</text>
<text x="154.60" y="345.91" font-size="7.0" fill="#333" textLength="25.90" lengthAdjust="spacingAndGlyphs">ERP2_c4</text>
<text x="77.00" y="348.31" font-size="7.0" fill="#333" textLength="31.00" lengthAdjust="spacingAndGlyphs">Mono_c23</text>
<text x="138.50" y="355.21" font-size="7.0" fill="#333" textLength="23.80" lengthAdjust="spacingAndGlyphs">Baso_c6</text>
<text x="113.40" y="358.51" font-size="7.0" fill="#333" textLength="22.60" lengthAdjust="spacingAndGlyphs">DC_c11</text>
<text x="69.60" y="366.31" font-size="7.0" fill="#333" textLength="30.90" lengthAdjust="spacingAndGlyphs">Mono_c13</text>
<text x="69.60" y="374.91" font-size="7.0" fill="#333" textLength="35.40" lengthAdjust="spacingAndGlyphs">Stromal_c28</text>
<text x="145.40" y="380.31" font-size="7.0" fill="#333" textLength="27.60" lengthAdjust="spacingAndGlyphs">Mast_c30</text>
<text x="102.00" y="384.81" font-size="7.0" fill="#333" textLength="22.00" lengthAdjust="spacingAndGlyphs">Mac_c9</text>
<line x1="11.50" y1="354.00" x2="11.50" y2="392.00" stroke="#231f20" stroke-width="1.2"/>
<line x1="10.90" y1="391.50" x2="53.50" y2="391.50" stroke="#231f20" stroke-width="1.2"/>
<text x="5.80" y="375.58" font-size="8.6" text-anchor="middle" textLength="30.00" lengthAdjust="spacingAndGlyphs" transform="rotate(-90 5.80 372.50)">UMAP-Y</text>
<text x="16.60" y="401.58" font-size="8.6" textLength="31.40" lengthAdjust="spacingAndGlyphs">UMAP-X</text>
<path d="M303.7 290.8h0M301.5 291.7h0M313.2 294.2h0M312.5 288.7h0M314.8 289.5h0M304.5 292.5h0M309.2 290.1h0M306.0 294.2h0M307.9 293.3h0M309.8 289.3h0M314.3 290.7h0M313.6 287.0h0M308.4 294.5h0M313.6 287.7h0M307.4 289.6h0M306.5 288.3h0M309.2 293.2h0M312.6 286.8h0M317.4 291.9h0M319.2 290.8h0M305.8 285.6h0M308.2 289.2h0M310.0 285.1h0M308.7 290.6h0M316.9 286.6h0M316.3 288.9h0M315.3 286.8h0M312.8 290.3h0M301.2 288.3h0M312.8 286.7h0M308.4 290.2h0M312.9 293.2h0M311.5 285.9h0M312.2 291.5h0M313.2 294.1h0M317.5 292.6h0M309.7 285.0h0M306.5 287.0h0M304.6 291.4h0M311.7 293.1h0" stroke="#f08a3a" stroke-width="1.44" stroke-linecap="round"/>
<path d="M305.1 303.2h0M300.3 310.4h0M301.6 313.6h0M300.2 310.1h0M310.3 302.1h0M307.4 308.6h0M302.0 313.7h0M294.6 300.1h0M316.7 302.4h0M294.4 299.3h0M307.8 312.2h0M303.6 308.0h0M318.3 302.9h0M303.1 309.2h0M317.0 301.2h0M307.4 301.5h0M301.4 313.4h0M307.1 298.7h0M306.8 312.5h0M306.8 313.2h0M299.7 299.5h0M316.8 307.3h0M298.8 312.8h0M310.1 311.5h0M316.6 300.1h0M306.8 304.2h0M301.0 309.8h0M313.9 309.1h0M298.2 311.6h0M309.2 307.0h0M302.1 298.4h0M298.1 303.4h0M301.5 311.8h0M303.3 305.7h0M307.8 296.7h0M315.1 310.9h0M317.2 305.9h0M310.6 312.2h0M314.0 302.9h0M291.5 306.2h0M309.7 305.0h0M316.7 303.8h0M312.5 302.6h0M309.4 304.2h0M315.8 310.1h0M301.2 300.6h0M319.0 304.8h0M292.0 302.5h0M310.9 309.1h0M313.2 301.3h0M312.7 304.3h0M307.0 296.5h0M301.7 306.8h0M302.8 298.4h0M304.3 307.4h0M301.1 300.3h0M312.8 303.5h0M294.1 310.5h0M293.1 304.7h0M301.3 312.2h0M311.8 302.1h0M308.9 300.1h0M291.3 303.7h0M307.9 311.9h0M292.7 307.5h0M311.2 298.2h0M303.1 306.5h0M295.1 304.2h0M306.8 306.5h0M312.2 305.5h0" stroke="#e84050" stroke-width="1.44" stroke-linecap="round"/>
<path d="M320.4 315.5h0M329.5 329.6h0M316.7 326.6h0M327.7 317.9h0M308.1 333.2h0M312.6 309.9h0M321.5 314.6h0M325.2 318.4h0M312.0 339.2h0M314.6 343.1h0M321.0 309.5h0M319.6 326.4h0M314.3 334.0h0M319.1 343.5h0M312.5 340.7h0M308.1 324.2h0M311.7 321.7h0M331.9 323.2h0M306.8 332.7h0M323.6 306.7h0M321.1 307.3h0M328.6 337.2h0M324.5 314.3h0M314.7 320.9h0M313.0 314.7h0M319.9 307.2h0M309.8 328.6h0M322.0 330.3h0M316.3 336.3h0M322.2 337.7h0M311.2 326.2h0M321.1 332.5h0M317.4 305.8h0M308.0 315.8h0M306.4 321.7h0M314.9 312.9h0M331.0 324.5h0M322.5 340.7h0M313.0 336.7h0M316.2 323.3h0M319.5 334.7h0M316.4 346.1h0M317.2 330.3h0M321.5 311.0h0M309.8 336.5h0M316.8 324.5h0M329.3 330.9h0M309.6 326.8h0M323.8 335.5h0M329.4 319.5h0M328.0 327.2h0M315.8 309.4h0M307.7 333.1h0M329.7 331.8h0M324.6 333.9h0M311.7 328.2h0M310.1 338.5h0M329.9 326.2h0M312.1 315.8h0M331.3 323.4h0M322.7 343.5h0M323.5 339.9h0M314.1 324.9h0M309.0 313.2h0M315.4 312.7h0M314.1 307.9h0M324.1 313.4h0M325.6 334.9h0M326.2 310.3h0M330.0 329.9h0M332.5 325.9h0M315.5 342.9h0M312.3 340.6h0M331.1 335.7h0M323.4 315.1h0M312.1 323.3h0M330.3 337.4h0M317.5 305.6h0M324.4 332.0h0M323.1 321.1h0M313.9 315.8h0M324.7 313.0h0M319.0 341.3h0M307.3 335.7h0M324.4 320.6h0M306.2 327.5h0M318.4 344.2h0M307.7 331.4h0M319.6 313.7h0M318.7 315.6h0M322.5 335.2h0M316.6 335.4h0M330.6 335.1h0M322.2 310.3h0M325.9 313.9h0M322.7 333.0h0M331.9 321.9h0M320.9 327.8h0M314.7 328.1h0M320.5 310.7h0M324.6 311.0h0M309.4 332.6h0M317.2 307.3h0M309.4 320.1h0M324.2 341.8h0M317.6 309.5h0M309.4 331.5h0M309.3 341.7h0M321.7 343.1h0M316.6 307.6h0M325.1 331.1h0M313.0 329.3h0M310.2 337.1h0M328.7 335.4h0M323.6 338.9h0M317.3 322.7h0M322.5 308.3h0M319.9 327.9h0M307.5 320.1h0M322.0 328.2h0M328.1 311.8h0M328.2 336.0h0M326.8 309.4h0M329.3 321.6h0M328.4 315.4h0M308.1 319.4h0M323.5 330.2h0M324.0 325.9h0M314.7 338.5h0M313.5 330.2h0M319.6 306.1h0M313.5 298.1h0M309.0 302.6h0M306.1 305.4h0M322.2 300.1h0M312.0 302.2h0M304.5 298.9h0M311.1 299.9h0M315.6 298.5h0M315.4 301.2h0M308.3 302.2h0M299.1 305.7h0M318.6 298.7h0M308.7 297.4h0M314.9 307.0h0M310.7 300.0h0M306.3 307.7h0M308.2 301.9h0M313.8 303.3h0M298.5 299.9h0M325.1 302.3h0M313.7 300.6h0M309.3 306.4h0M323.9 305.8h0M312.0 304.3h0M320.3 300.9h0M311.9 303.3h0M319.0 298.5h0M310.6 307.5h0M302.1 302.8h0M318.9 298.4h0M314.8 303.7h0M316.4 309.4h0M318.4 309.4h0M305.3 303.5h0M323.1 298.9h0M320.3 304.6h0M302.7 303.4h0M324.8 301.8h0M303.9 307.5h0" stroke="#e01a1a" stroke-width="1.44" stroke-linecap="round"/>
<path d="M322.7 318.5h0M313.3 329.1h0M325.4 328.7h0M318.0 312.5h0M320.7 336.2h0M322.3 341.8h0M320.6 338.4h0M319.2 323.2h0M318.3 342.4h0M318.7 349.0h0M325.8 316.4h0M322.1 341.0h0M321.0 309.8h0M314.1 338.3h0M323.5 334.5h0M317.8 328.3h0M322.1 324.3h0M307.2 345.8h0M320.3 346.2h0M312.4 322.4h0M308.0 331.4h0M318.1 320.6h0M323.3 331.9h0M313.4 328.3h0M315.7 344.0h0M325.7 315.6h0M318.6 309.8h0M314.7 320.7h0M323.0 309.9h0M321.5 325.3h0M318.4 314.8h0M318.9 348.4h0M317.9 316.3h0M316.0 315.4h0M320.3 323.3h0M320.2 324.7h0M324.8 326.3h0M319.1 349.6h0M308.3 338.7h0M316.6 335.0h0M307.1 339.4h0M309.3 329.9h0M310.8 329.4h0M307.7 333.3h0M310.2 348.3h0M319.3 337.0h0M319.3 326.4h0M323.2 307.5h0M316.1 350.4h0M312.0 329.0h0M315.9 320.6h0M321.3 336.7h0M320.8 324.9h0M322.3 338.5h0M306.4 342.4h0M320.9 346.7h0M320.5 327.0h0M322.7 311.9h0M317.5 348.6h0M324.4 308.4h0M315.0 345.5h0M320.5 347.0h0M323.9 316.4h0M320.7 314.0h0M315.6 344.1h0M316.8 339.3h0M321.6 337.3h0M320.6 337.4h0M309.1 349.0h0M306.5 343.9h0M311.4 339.6h0M311.3 335.7h0M311.9 327.1h0M311.7 340.8h0M313.0 343.5h0M315.1 333.5h0M322.4 317.8h0M314.9 345.4h0M308.0 344.5h0M313.6 345.1h0M322.8 322.8h0M319.4 350.0h0M315.9 315.7h0M314.5 348.0h0M319.6 318.4h0M313.5 319.9h0M310.1 341.1h0M323.8 310.1h0M328.6 310.9h0M312.3 331.2h0M312.9 322.1h0M313.8 347.4h0M307.9 331.7h0M310.3 332.5h0M326.2 312.9h0M313.7 323.5h0M319.4 320.1h0M320.5 324.8h0M313.3 326.6h0M316.4 323.3h0M316.1 334.6h0M323.3 321.6h0M322.1 326.5h0M324.8 325.5h0M313.9 317.7h0M319.5 333.4h0M325.6 308.6h0M317.9 338.9h0M308.9 335.2h0M323.7 322.6h0M322.9 319.7h0M314.3 344.5h0M320.4 350.0h0M321.2 325.4h0M324.9 327.5h0M325.4 323.7h0M307.3 341.5h0M314.4 346.4h0M316.7 344.8h0M311.9 332.7h0M326.5 310.2h0M325.6 320.4h0M320.3 343.3h0M316.4 328.5h0M315.9 348.6h0M309.1 333.7h0M321.9 317.5h0M321.6 325.7h0M320.5 334.3h0M322.3 337.9h0M321.9 339.7h0M317.0 339.4h0M319.3 331.3h0M318.1 344.8h0M318.0 343.9h0M316.8 318.3h0M309.4 335.5h0M313.9 343.7h0M310.7 338.7h0M321.6 342.7h0M327.7 315.5h0M319.7 326.3h0M323.3 332.1h0M313.0 341.4h0M316.0 319.3h0M323.4 330.7h0M311.0 326.2h0M310.6 325.3h0M319.0 330.0h0M310.0 337.0h0M319.0 312.9h0M307.1 338.2h0M309.2 336.0h0M311.0 333.7h0M315.0 335.8h0M319.4 343.7h0M325.8 313.8h0M319.0 330.7h0M314.2 331.0h0M313.8 344.3h0M315.5 334.2h0M311.8 334.7h0M312.4 320.8h0M312.5 339.4h0M324.5 308.1h0M320.9 340.0h0M322.5 316.8h0M319.0 320.7h0M327.5 315.8h0M318.8 313.9h0M325.0 329.9h0M315.4 346.8h0M307.9 346.1h0M313.5 349.0h0M313.5 337.8h0M323.8 312.2h0M322.0 346.6h0M326.4 312.1h0M323.9 327.2h0M321.8 313.6h0M322.3 318.2h0M308.4 347.5h0M309.3 336.0h0M316.8 346.1h0M319.5 331.3h0M325.0 310.3h0M324.6 324.0h0M323.0 316.8h0M309.7 335.0h0M318.0 329.7h0M318.8 317.1h0M312.9 346.4h0M312.4 325.7h0M313.0 319.2h0M323.9 316.0h0M310.7 324.4h0M314.2 332.5h0M318.3 315.6h0M310.0 341.4h0M319.0 339.9h0M320.4 347.7h0M322.7 343.7h0M312.0 333.9h0M326.1 308.6h0M322.9 341.9h0M324.8 315.3h0M321.8 343.9h0M326.3 318.4h0M328.8 312.3h0M317.6 348.6h0M320.1 328.1h0M323.0 308.6h0M314.5 320.5h0M325.4 307.2h0M321.0 322.9h0M315.2 340.2h0M325.8 317.3h0M319.2 331.7h0M318.7 328.7h0M319.3 337.4h0M319.0 343.0h0M317.9 337.6h0M326.2 313.6h0M315.4 319.8h0M319.1 332.9h0M317.7 310.5h0M323.6 316.4h0M308.9 348.1h0M311.2 335.7h0M316.7 338.4h0M312.9 332.3h0M316.3 326.7h0M309.6 346.5h0M321.0 323.5h0M311.6 321.2h0M319.5 333.0h0M312.3 320.6h0M312.4 333.4h0M321.2 330.8h0M316.7 324.7h0M315.2 314.8h0M315.5 333.6h0M320.7 344.6h0M320.0 325.4h0M310.6 332.3h0M318.2 347.5h0M321.0 347.6h0M323.2 325.0h0M312.1 323.5h0M325.4 327.9h0M308.5 342.2h0M314.2 332.2h0M314.4 331.7h0M318.9 317.6h0M320.8 341.3h0M324.1 316.3h0M310.5 326.2h0M320.9 342.3h0M327.5 318.5h0M319.2 336.2h0M314.2 347.3h0M322.6 309.7h0M323.3 313.4h0M321.4 316.2h0M307.8 331.6h0M321.8 320.9h0M323.3 328.1h0M319.8 335.8h0M313.0 332.9h0M321.0 309.5h0M315.3 328.8h0M319.8 331.5h0M327.5 321.6h0M315.0 323.3h0M318.3 344.9h0M309.2 346.8h0M314.0 319.9h0M321.2 322.0h0M309.8 339.1h0M319.9 335.3h0M309.2 336.1h0M322.1 322.0h0M318.5 325.9h0M321.3 322.1h0M320.0 335.7h0M319.3 322.9h0M316.2 330.5h0M318.9 333.3h0M321.1 313.2h0M320.4 322.5h0M320.8 340.6h0M317.7 336.4h0M313.3 324.8h0M317.3 340.9h0M319.5 340.4h0M314.7 329.7h0M320.8 309.5h0M322.2 344.4h0M314.3 322.1h0M317.0 316.9h0M323.8 315.0h0M307.4 339.9h0M307.8 346.4h0M322.3 344.2h0M314.2 342.9h0M316.5 325.9h0M320.5 326.7h0M320.7 333.4h0M320.0 329.9h0M322.1 315.7h0M314.4 320.0h0M320.4 346.1h0M323.9 334.8h0M308.6 340.5h0M315.2 319.0h0M323.1 314.9h0M312.8 333.6h0M317.0 348.8h0M319.2 343.5h0M329.3 313.0h0M321.1 316.0h0M314.7 348.6h0M322.8 336.4h0M318.0 322.7h0M325.3 317.5h0M313.3 338.6h0M314.4 349.5h0M324.2 315.0h0M312.9 346.6h0M307.6 333.9h0M327.0 316.4h0M308.0 340.8h0M314.2 335.0h0M323.2 325.9h0M317.9 332.4h0M311.2 335.2h0M320.5 331.4h0M318.7 338.7h0M314.9 334.0h0M315.1 322.4h0M308.7 341.9h0M316.7 321.6h0M320.5 313.6h0M312.1 347.5h0M314.7 349.1h0M324.2 310.8h0M324.8 317.8h0M322.3 327.1h0M315.8 328.9h0M310.8 329.5h0M315.3 320.1h0M327.9 314.6h0M310.3 331.2h0M310.0 343.3h0M312.1 328.2h0M308.7 331.5h0M328.7 314.1h0M315.2 349.4h0M323.3 316.1h0M317.1 330.0h0M320.9 348.9h0M327.8 315.2h0M324.2 310.7h0M321.3 349.6h0M309.3 330.9h0M317.9 342.6h0M318.0 315.8h0M320.0 348.5h0M316.7 324.2h0M320.1 327.2h0M317.9 310.9h0M312.7 329.9h0M308.6 329.4h0M310.2 347.1h0M318.8 334.7h0M309.5 328.2h0M315.9 350.3h0M313.3 330.9h0M315.1 330.3h0M306.2 339.8h0M319.5 331.8h0M320.4 309.7h0M314.7 319.3h0M321.1 341.4h0M322.6 342.8h0M322.2 330.0h0M321.6 344.3h0M311.2 325.1h0M314.2 341.6h0M325.6 308.4h0M319.0 331.6h0M309.7 327.1h0M326.7 310.8h0M322.0 333.9h0M309.5 336.4h0M317.4 323.0h0M308.6 332.7h0M319.9 318.8h0M315.1 327.0h0M317.4 341.4h0M308.8 344.6h0M322.7 333.6h0M307.3 346.2h0M320.1 321.5h0M315.4 344.1h0M316.7 313.0h0M307.7 333.7h0M318.6 344.0h0M320.5 329.8h0M320.5 311.5h0M309.7 349.7h0M307.3 337.0h0M315.7 320.3h0M315.5 349.1h0M319.4 339.1h0M321.8 315.8h0M310.4 328.2h0M325.0 308.6h0M311.0 337.8h0M310.7 332.4h0M307.9 341.6h0M322.8 318.5h0M317.2 338.2h0M321.6 336.2h0M319.2 332.9h0M321.7 327.9h0M324.7 320.1h0M314.3 331.6h0M312.5 328.7h0M313.1 342.9h0M315.4 346.0h0M307.5 337.3h0M311.8 322.6h0M313.3 319.4h0M320.7 329.4h0M321.5 338.6h0M308.1 333.4h0M326.6 315.1h0M317.1 321.5h0M318.5 339.7h0M322.3 324.7h0M311.4 328.0h0M315.7 316.3h0M306.6 345.7h0M307.0 335.0h0M320.9 349.1h0M314.7 318.3h0M321.6 313.3h0M318.8 346.8h0M307.6 345.7h0M308.6 347.5h0M312.9 322.6h0M320.6 313.0h0M325.0 316.2h0M317.0 329.3h0M307.4 339.6h0M329.8 310.7h0M316.3 338.1h0M318.8 315.8h0M320.4 311.9h0M314.5 346.4h0M317.5 327.0h0M308.0 333.6h0M320.7 338.2h0M316.9 348.9h0M319.8 316.4h0M309.3 329.5h0M318.3 340.9h0M323.4 331.6h0M322.2 309.3h0M321.1 325.1h0M326.9 321.7h0M322.1 315.5h0M325.3 314.3h0M310.3 337.4h0M314.9 325.8h0M322.7 322.4h0M313.9 344.0h0M310.6 326.9h0M307.6 347.7h0M318.7 345.9h0M313.1 324.4h0M313.7 323.7h0M315.0 348.8h0M315.0 319.2h0M314.0 342.2h0M317.8 344.5h0M324.4 325.1h0M321.9 336.0h0M320.1 336.0h0M314.1 333.7h0M328.4 315.9h0M313.8 348.8h0M320.3 313.7h0M311.9 345.5h0M318.4 344.5h0M309.6 334.8h0M308.4 339.7h0M308.5 334.0h0M319.4 311.6h0M322.0 310.1h0M308.2 340.9h0M316.5 341.5h0M317.7 339.3h0M327.5 317.9h0M317.5 316.7h0M310.7 332.8h0M312.4 345.4h0M318.3 339.8h0M319.1 313.8h0M309.3 349.1h0M308.4 331.8h0M319.9 347.9h0M318.8 341.6h0M320.4 338.5h0M308.9 341.3h0M314.5 335.7h0M317.2 348.2h0M323.6 311.8h0M328.5 314.6h0M314.8 343.3h0M314.2 323.5h0M316.3 315.6h0M317.0 338.6h0M322.5 308.9h0M318.9 343.8h0M316.0 332.0h0M311.2 340.6h0M323.5 310.9h0M323.0 315.8h0M315.1 348.5h0M316.8 330.9h0M306.4 342.4h0M325.5 315.8h0M314.7 315.6h0M309.4 328.8h0M318.0 337.0h0M317.6 323.5h0M316.0 321.9h0M316.7 321.3h0M322.3 308.1h0M308.5 346.9h0M317.5 314.3h0M316.4 324.6h0M320.4 340.8h0M319.8 325.0h0M315.3 316.7h0M311.5 335.5h0M322.9 348.4h0M315.3 320.1h0M324.2 307.5h0M314.7 323.8h0M321.3 346.1h0M313.7 324.2h0M320.9 309.7h0M310.8 341.0h0M312.0 327.7h0M319.8 313.0h0M328.4 316.3h0M322.5 342.8h0M312.9 337.1h0M312.3 337.8h0M312.5 340.3h0M319.0 339.3h0M316.4 329.0h0M317.0 344.7h0M318.8 313.7h0M319.9 335.8h0M314.0 334.3h0M315.7 329.7h0M326.3 321.1h0M325.1 322.2h0M316.6 346.0h0M316.2 320.3h0M321.7 333.8h0M318.9 344.1h0M321.1 326.2h0M312.9 350.0h0M310.3 348.3h0M313.4 320.5h0M313.6 344.3h0M322.6 339.7h0M325.2 316.4h0M313.2 344.2h0M326.6 321.2h0M319.4 309.8h0M312.9 345.2h0M324.9 317.5h0M321.0 345.4h0M315.9 346.4h0M313.7 317.9h0M327.4 310.1h0M321.7 320.5h0M317.9 338.4h0M313.4 326.2h0M326.0 312.8h0M311.0 324.5h0M309.5 334.2h0M328.2 314.0h0M319.8 333.0h0M321.6 349.7h0M314.7 339.9h0M312.7 333.6h0M307.2 335.3h0M328.6 312.5h0M323.9 326.0h0M321.2 339.2h0M313.3 330.6h0M314.2 322.9h0M319.6 344.6h0M322.4 342.7h0M317.4 317.6h0M308.0 341.6h0M316.2 344.9h0M314.3 337.6h0M310.7 347.9h0M324.5 328.0h0M321.5 327.9h0M306.8 339.8h0M317.6 317.5h0M319.4 327.5h0M313.9 328.9h0M322.7 328.7h0M313.7 337.9h0M322.8 322.5h0M321.4 323.8h0M324.2 308.4h0M318.5 328.7h0M324.6 312.8h0M312.5 341.4h0M317.4 324.1h0M315.9 327.4h0M315.4 329.4h0M308.7 340.5h0M318.2 337.3h0M318.9 343.0h0M315.0 323.6h0M313.3 319.6h0M308.8 338.8h0M325.5 320.8h0M328.1 316.0h0M313.5 341.1h0M326.1 318.4h0M318.6 336.8h0M313.7 350.0h0M311.7 340.4h0M309.0 340.7h0M321.0 313.0h0M321.1 341.7h0M312.8 325.2h0M315.4 320.5h0M312.6 335.7h0M318.2 350.1h0M320.4 342.8h0M320.5 341.2h0M325.2 313.2h0M321.7 344.7h0M325.7 322.5h0M308.8 346.2h0M312.8 326.5h0M320.5 344.8h0M313.0 340.8h0M313.0 332.8h0M318.4 330.1h0M314.7 319.4h0M310.9 329.0h0M320.4 311.6h0M306.5 337.2h0M324.8 314.3h0M319.1 348.0h0M314.3 330.3h0M322.8 316.6h0M313.3 329.1h0M327.9 315.5h0M316.0 341.0h0M317.8 314.0h0M318.0 337.4h0M327.2 311.1h0M322.4 330.9h0M327.7 320.3h0M320.9 330.8h0M324.9 313.8h0M314.9 346.6h0M318.4 326.4h0M314.4 344.7h0M319.3 344.1h0M318.6 322.9h0M313.5 349.4h0M322.8 321.4h0M325.1 325.8h0M315.0 328.1h0M315.1 325.8h0M319.4 349.1h0M327.8 319.4h0M316.6 337.7h0M307.8 334.5h0M319.7 329.0h0M319.0 344.1h0M312.1 322.7h0M322.8 315.1h0M324.8 322.4h0M318.8 322.8h0M312.1 335.1h0M324.8 314.2h0M308.0 331.4h0M325.8 316.7h0M314.5 321.6h0M317.2 314.7h0M309.2 348.1h0M307.1 339.8h0M319.6 343.8h0M322.1 346.9h0M324.2 328.3h0M309.7 335.1h0M315.7 343.1h0M314.3 348.8h0M329.2 312.9h0M317.4 325.7h0M325.1 310.7h0M314.3 345.1h0M316.1 327.8h0M318.0 342.6h0M316.2 343.5h0M319.7 320.1h0M323.8 308.5h0M311.3 322.5h0M319.6 331.7h0M322.5 312.4h0M318.9 342.9h0M313.8 345.3h0M318.2 318.4h0M324.6 310.3h0M309.9 347.2h0M315.9 346.0h0M322.3 312.3h0M327.3 308.9h0M309.6 331.8h0M323.9 326.8h0M319.9 336.4h0M321.9 339.6h0M321.9 312.0h0M323.1 335.2h0M313.7 335.7h0M322.2 342.2h0M309.5 336.0h0M320.8 349.7h0M321.9 313.5h0M317.1 317.6h0M312.5 342.3h0M307.5 335.0h0M323.0 342.3h0M308.6 340.7h0M319.3 346.7h0M323.9 323.0h0M315.0 327.7h0M313.2 336.9h0M319.6 342.5h0M316.6 328.8h0M323.7 333.9h0M313.6 318.3h0M327.4 338.6h0M329.1 336.5h0M333.7 323.8h0M330.4 332.4h0M327.0 326.8h0M328.2 324.9h0M328.2 316.5h0M329.0 324.3h0M331.6 325.5h0M329.5 317.4h0M329.6 336.9h0M333.0 325.8h0M325.5 328.3h0M327.0 335.7h0M327.7 333.8h0M328.3 318.4h0M326.8 322.4h0M330.6 340.0h0M325.6 323.1h0M333.5 322.1h0M328.9 336.5h0M333.4 319.6h0M334.7 324.8h0M329.1 324.4h0M334.3 326.2h0M327.3 332.3h0M331.1 314.6h0M326.1 322.5h0M332.8 316.6h0M331.9 326.0h0M327.0 328.9h0M329.4 327.9h0M327.7 323.0h0M332.7 330.4h0M329.8 338.4h0M329.2 331.5h0M329.4 316.1h0M328.7 329.4h0M331.5 322.5h0M332.8 331.9h0" stroke="#e01a1a" stroke-width="1.44" stroke-linecap="round"/>
<path d="M345.2 291.3h0M343.7 285.8h0M321.7 306.4h0M350.8 292.7h0M352.5 291.1h0M320.7 306.4h0M344.7 289.7h0M320.6 315.2h0M357.2 288.3h0M331.3 300.0h0M342.4 288.6h0M321.2 313.3h0M346.1 291.3h0M348.5 289.2h0M327.0 301.7h0M321.9 307.1h0M320.5 311.0h0M347.9 288.2h0M314.3 315.5h0M320.2 312.3h0M355.5 287.8h0M321.1 308.0h0M339.6 290.4h0M356.5 288.9h0M324.8 308.1h0M350.5 288.4h0M318.3 317.2h0M323.6 309.5h0M344.2 287.1h0M324.0 304.9h0M347.8 290.0h0M339.9 288.2h0M351.4 290.5h0M322.4 306.6h0M322.6 308.1h0M328.2 296.2h0M338.7 291.1h0M324.1 308.8h0M321.1 313.5h0M347.1 289.4h0M332.9 295.5h0M348.3 286.0h0M341.1 291.7h0M322.8 311.4h0M322.4 309.2h0M340.4 295.2h0M330.5 297.1h0M353.8 290.5h0M333.8 299.0h0M339.1 287.9h0M355.9 289.5h0M326.2 305.2h0M351.4 289.3h0M320.0 310.2h0M344.3 290.8h0M320.8 307.9h0M353.5 288.5h0M343.4 293.0h0M341.1 294.0h0M340.2 292.2h0M315.6 316.1h0M350.2 291.3h0M331.6 296.7h0M335.7 297.1h0M328.8 303.0h0M350.2 291.4h0M337.9 299.4h0M337.2 298.7h0M345.3 290.1h0M327.4 294.8h0M328.5 302.0h0M332.0 300.4h0M327.9 304.1h0M320.2 313.1h0M322.0 310.6h0M334.0 293.2h0M333.3 300.8h0M350.9 287.7h0M332.1 295.5h0M350.9 290.2h0M342.7 290.3h0M343.3 291.9h0M343.1 290.6h0M357.2 288.2h0M344.1 289.9h0M354.5 288.2h0M325.9 306.9h0M330.4 297.0h0M315.5 315.7h0M352.6 291.8h0M330.5 301.6h0M322.8 307.0h0M347.6 290.4h0M354.6 289.9h0M353.5 287.5h0M320.0 317.4h0M355.9 288.7h0M321.7 306.9h0M322.1 307.1h0M343.0 291.0h0M336.9 298.1h0M330.8 294.4h0M315.7 315.7h0M336.5 297.5h0M343.2 289.3h0M331.2 294.5h0M330.1 298.7h0M353.5 291.9h0M333.7 293.1h0M330.0 297.5h0M327.6 304.5h0M350.0 291.7h0M316.2 316.8h0M332.5 297.8h0M322.3 308.3h0M331.3 301.6h0M339.7 290.0h0M336.6 293.4h0M342.9 289.3h0M320.6 309.3h0M345.1 288.6h0M319.9 313.1h0M338.1 293.5h0M339.6 293.0h0M341.0 290.9h0M318.3 311.2h0M319.6 316.1h0M353.4 289.8h0M335.8 295.8h0M355.6 286.8h0M349.1 290.6h0M322.0 311.1h0M348.7 290.6h0M328.7 300.4h0M317.7 311.7h0M317.9 316.9h0M328.0 304.6h0M346.4 289.0h0M318.6 312.0h0M321.9 312.8h0M340.6 293.5h0M354.2 288.0h0M344.5 291.9h0M326.3 303.2h0M339.9 298.3h0M314.4 315.6h0M319.8 305.1h0M330.1 295.5h0M323.3 310.3h0M343.1 290.3h0M336.7 292.1h0M351.5 290.1h0M327.7 302.9h0M329.0 299.5h0M345.2 289.1h0M327.1 302.7h0M352.8 289.3h0M342.4 291.8h0M352.9 290.5h0M326.8 298.2h0M333.3 297.4h0M322.7 306.8h0M336.2 297.7h0M335.4 299.3h0M336.6 293.2h0M342.6 291.8h0M347.0 291.3h0M336.6 295.3h0M352.4 288.9h0M326.2 304.1h0M321.1 306.8h0M322.8 306.9h0M352.1 291.3h0M318.2 314.7h0M329.8 296.7h0M320.0 312.9h0M332.6 298.9h0M335.8 296.9h0M334.2 294.8h0M319.5 309.2h0M317.9 315.4h0M334.8 295.7h0M336.8 291.5h0M321.3 302.4h0M354.6 290.7h0M324.5 307.4h0M326.8 303.1h0M328.8 293.6h0M322.2 312.9h0M320.1 311.1h0M326.5 300.2h0M324.1 304.4h0M355.5 289.1h0M328.3 307.8h0M343.4 286.7h0M321.6 304.0h0M331.5 294.8h0M334.2 295.7h0M356.2 288.2h0M319.6 314.8h0M322.2 304.3h0M341.5 295.9h0M332.0 295.3h0M353.7 287.8h0M337.0 294.5h0M323.2 309.0h0M341.9 294.3h0M329.9 302.7h0M356.2 287.9h0M319.8 308.0h0M355.6 290.5h0M322.9 309.5h0M323.9 305.3h0M321.3 308.0h0M349.8 293.1h0M327.4 296.7h0M353.6 290.4h0M332.8 301.8h0M353.7 288.8h0M353.3 285.5h0M350.8 288.4h0M316.3 316.3h0M338.7 293.5h0M344.3 293.0h0M315.8 314.9h0M324.8 306.8h0M336.0 293.2h0M329.5 306.6h0M328.4 304.5h0M340.1 293.4h0M326.5 301.2h0M329.1 297.2h0M346.8 287.3h0M318.4 309.9h0M333.2 293.7h0M322.1 296.0h0M338.9 291.5h0M326.6 296.6h0M357.5 290.6h0M323.3 309.1h0M331.8 301.2h0M322.6 309.0h0M346.2 295.1h0M341.4 289.3h0M321.3 306.0h0M350.8 290.6h0M342.9 290.3h0M331.2 295.6h0M316.2 312.0h0M332.5 290.5h0M324.5 310.1h0M356.4 288.7h0M339.1 294.2h0M342.4 291.4h0M325.6 306.0h0M356.1 288.3h0M357.4 288.7h0M341.2 292.3h0M343.0 292.0h0M315.6 310.1h0M346.1 286.8h0M320.4 309.9h0M317.2 316.2h0M317.3 314.1h0M332.9 297.6h0M339.4 291.3h0M326.3 302.4h0M323.9 302.7h0M318.5 314.0h0M322.1 314.3h0M340.2 291.0h0M347.9 290.4h0M318.1 316.2h0M350.3 291.7h0M320.7 306.2h0M322.6 305.3h0M334.2 301.3h0M325.3 307.6h0M354.8 289.9h0M357.4 289.8h0M348.4 288.8h0M336.7 289.9h0M353.0 289.5h0M338.7 294.9h0M340.4 289.4h0M355.9 288.3h0M353.9 289.7h0M324.4 303.6h0M330.0 300.2h0M315.4 313.2h0M326.5 296.9h0M354.9 288.7h0M352.6 289.8h0M344.1 291.4h0M341.7 291.6h0M318.5 312.4h0M352.2 288.5h0M354.0 290.6h0M331.5 296.9h0M337.4 292.9h0M340.1 294.7h0M330.0 295.9h0M319.6 312.4h0M340.2 294.8h0M334.3 295.7h0M321.0 310.3h0M346.6 287.5h0M343.2 290.6h0M337.3 293.0h0M355.9 288.2h0M320.7 305.0h0M329.0 303.6h0M326.9 301.9h0M318.9 315.0h0M319.7 315.5h0M323.1 301.2h0M339.4 292.9h0M336.1 295.4h0M353.0 290.4h0M347.9 287.2h0" stroke="#d8d296" stroke-width="1.44" stroke-linecap="round"/>
<path d="M361.4 291.7h0M359.9 292.2h0M358.8 290.1h0M361.1 287.3h0M364.0 291.8h0M364.1 288.8h0M360.5 288.4h0M356.5 292.1h0M357.6 290.5h0M362.8 290.1h0M360.8 289.8h0M359.5 291.6h0M364.3 290.2h0M360.5 289.9h0M360.1 293.6h0M355.5 290.7h0M360.2 291.3h0M360.7 293.3h0M359.5 293.2h0M358.0 292.4h0M366.0 290.2h0M358.2 292.1h0M363.7 291.0h0M360.2 289.1h0M368.0 290.2h0M358.5 294.2h0M358.2 292.1h0M361.5 289.1h0M360.2 293.2h0M362.5 290.4h0M358.1 291.3h0M358.2 291.5h0M363.8 290.5h0M364.6 292.1h0M360.0 291.3h0M366.1 294.1h0M361.3 292.9h0M361.3 290.3h0M360.0 292.8h0M356.3 292.1h0M362.3 292.5h0M359.4 292.2h0M361.6 292.1h0M363.0 289.7h0M356.8 292.4h0M362.2 289.5h0M357.1 289.5h0M360.8 290.4h0M360.1 294.4h0M355.8 293.4h0M359.3 289.1h0M362.0 291.7h0M364.2 289.6h0M354.8 292.3h0M360.8 289.3h0M357.9 291.5h0M358.1 291.9h0M363.2 287.8h0M363.7 290.7h0M362.7 291.7h0M360.5 287.9h0M362.6 288.9h0M358.2 293.0h0M364.2 292.0h0M363.3 291.8h0M364.0 291.6h0M367.4 290.5h0M358.4 291.1h0M363.9 288.3h0M364.7 291.5h0M365.6 288.5h0M364.9 287.9h0M359.8 289.6h0M364.1 293.7h0M355.2 289.5h0M371.3 291.7h0M364.8 292.2h0M353.4 289.9h0M358.6 291.6h0M353.4 290.6h0M358.6 292.4h0M366.6 289.8h0M354.0 290.6h0M360.8 289.1h0M363.7 292.7h0M352.9 288.5h0M356.6 290.3h0M359.4 289.7h0M362.3 291.6h0M363.8 291.4h0M388.2 301.5h0M399.4 300.8h0M393.9 298.1h0M383.6 298.0h0M388.5 294.6h0M391.8 299.4h0M387.5 298.0h0M381.6 301.6h0M386.2 299.8h0M381.2 299.6h0M390.9 297.1h0M386.8 300.6h0M392.5 301.8h0M384.0 296.3h0M372.3 298.6h0M395.3 301.6h0M385.0 300.5h0M394.5 296.9h0M387.8 298.8h0M388.2 302.2h0M389.0 299.9h0M393.1 301.3h0M389.1 300.3h0M390.1 300.2h0M391.2 300.9h0M393.4 298.9h0M395.3 299.1h0M388.7 299.9h0M394.9 299.1h0M382.5 299.4h0M378.0 298.4h0M389.5 299.6h0M389.1 299.5h0M377.2 298.2h0M390.3 300.0h0M383.0 301.8h0M389.9 300.7h0M383.3 300.9h0M389.4 302.8h0M387.1 298.0h0M384.8 303.7h0M386.0 297.1h0M376.7 298.2h0M382.7 299.3h0M391.3 299.0h0M396.9 301.1h0M392.7 301.4h0M389.3 301.2h0M388.4 299.7h0M386.0 297.9h0M387.8 297.4h0M391.6 302.7h0M381.5 302.5h0M386.7 301.1h0M388.6 300.2h0M381.7 298.6h0M384.3 298.5h0M386.3 297.3h0M385.1 296.7h0M391.3 300.8h0M375.0 300.3h0M388.7 297.6h0M392.3 297.1h0M390.0 298.6h0M390.4 298.5h0M390.1 299.7h0M395.2 301.8h0M392.5 297.6h0M385.6 303.6h0M380.0 299.8h0M385.5 302.3h0M384.9 301.7h0M379.5 297.7h0M382.6 297.2h0M384.9 296.1h0M389.2 296.7h0M393.3 300.2h0M392.7 295.7h0M396.4 294.8h0M379.7 295.4h0M386.9 295.6h0M385.2 297.8h0M379.7 300.1h0M385.5 300.6h0M382.7 297.2h0M384.2 302.5h0M382.2 297.6h0M390.9 296.9h0M373.2 298.5h0M385.9 296.9h0M383.8 299.8h0M377.5 300.0h0M392.4 298.4h0M381.4 299.9h0M394.1 298.6h0M389.6 300.9h0M396.0 301.3h0M382.3 296.4h0M387.7 301.3h0M385.4 299.3h0M386.5 299.0h0M381.6 299.3h0M392.7 297.6h0M393.4 295.9h0M380.3 297.7h0M392.6 301.2h0M388.0 300.9h0M395.4 299.7h0M387.4 298.3h0M386.7 298.2h0M389.7 299.3h0M384.6 301.1h0M381.5 299.5h0M384.3 298.1h0M394.4 299.2h0M395.5 300.1h0M381.3 300.1h0M385.8 300.1h0M394.6 297.5h0M383.6 298.4h0M384.4 300.7h0M385.2 299.2h0M382.1 299.5h0M381.8 297.0h0M376.5 299.3h0M380.4 299.9h0M386.1 297.7h0M387.6 297.0h0M389.2 295.5h0M383.6 298.7h0M383.6 299.5h0M381.3 298.8h0M378.0 293.6h0M396.0 298.6h0M376.3 298.1h0M384.3 295.4h0M395.5 299.5h0M387.5 297.3h0M389.1 300.0h0M384.8 294.4h0M392.6 299.5h0M383.8 300.4h0M384.9 298.5h0M387.7 300.2h0M392.4 302.7h0M390.7 297.5h0M376.1 299.9h0M378.1 296.3h0M377.6 300.0h0M393.8 298.4h0M381.0 295.7h0M391.3 302.1h0M369.8 293.8h0M393.2 300.8h0M379.3 297.8h0M389.3 299.1h0M384.1 302.6h0M370.1 294.6h0M385.3 297.2h0M392.9 302.7h0M385.9 297.2h0M371.8 295.7h0M370.4 293.1h0M387.2 298.8h0M372.3 296.0h0M378.7 300.0h0M381.1 298.9h0M368.1 292.8h0M383.0 298.3h0M377.3 295.4h0M376.5 295.1h0M385.0 295.6h0M361.3 293.2h0M380.3 297.0h0M381.0 297.6h0M361.0 292.0h0M366.4 292.6h0M367.7 295.7h0M363.3 294.2h0M376.3 296.5h0M381.6 299.3h0M375.7 295.1h0M394.9 300.3h0M394.2 298.1h0M394.5 299.9h0M390.2 298.7h0M358.3 292.4h0M393.3 298.8h0M382.4 298.9h0M364.7 293.6h0M384.2 298.9h0M379.0 297.8h0M374.8 296.9h0M386.5 298.9h0M387.7 300.7h0M382.5 299.6h0M382.6 296.6h0M389.2 297.9h0M380.9 294.8h0M382.8 298.2h0M383.2 298.2h0M359.7 291.9h0M357.9 291.0h0M368.8 294.6h0M363.9 294.9h0M369.0 294.0h0M376.8 294.1h0M364.5 292.6h0M366.7 293.0h0M363.6 292.2h0M385.3 299.7h0M361.8 293.9h0M391.5 299.3h0M373.9 294.5h0M362.7 292.2h0M367.2 292.4h0M367.1 292.6h0M362.6 292.6h0M365.7 291.3h0M392.6 302.0h0M359.8 291.8h0M367.8 293.7h0M380.2 297.8h0M385.9 299.7h0M391.2 300.5h0M360.0 292.4h0M377.3 296.7h0M394.5 300.9h0M386.6 298.4h0M393.4 295.6h0" stroke="#e8780c" stroke-width="1.44" stroke-linecap="round"/>
<path d="M274.8 288.2h0M274.0 283.9h0M275.1 284.7h0M266.7 281.1h0M277.1 288.7h0M269.4 281.7h0M284.9 285.9h0M275.9 280.2h0M283.6 285.3h0M283.5 286.7h0M273.7 285.7h0M266.3 284.5h0M289.2 290.0h0M274.9 286.9h0M268.0 281.7h0M283.9 286.3h0M287.1 288.8h0M292.8 289.6h0M285.4 290.0h0M274.1 287.7h0M288.2 288.1h0M290.0 285.4h0M293.6 286.8h0M273.8 280.0h0M272.8 282.8h0M270.2 283.6h0M282.5 284.3h0M278.3 282.2h0M271.2 284.4h0M291.3 289.8h0M290.5 286.1h0M286.6 288.0h0M269.7 282.9h0M269.3 280.2h0M280.0 286.5h0M292.2 286.8h0M264.6 282.9h0M268.8 280.4h0M288.5 286.1h0M270.0 280.6h0M274.8 288.2h0M293.6 287.8h0M278.9 283.4h0M294.9 288.6h0M288.6 290.5h0M284.1 290.0h0M268.7 280.2h0M279.8 289.5h0M277.4 283.2h0M273.7 281.2h0M294.4 287.8h0M277.6 285.8h0M269.4 286.9h0M265.9 280.9h0M272.9 285.6h0M276.5 287.0h0M282.2 283.4h0M273.9 282.5h0M289.5 287.2h0M276.1 287.6h0M282.4 284.7h0M286.7 290.0h0M269.8 280.8h0M282.3 285.5h0M264.6 281.5h0M271.7 286.7h0M295.1 289.2h0M265.4 283.6h0M290.4 289.7h0M272.5 285.8h0M292.0 287.6h0M278.3 287.1h0M272.8 284.4h0M272.8 279.9h0M283.0 282.5h0M291.2 290.5h0M288.0 289.4h0M280.3 286.8h0M275.4 280.3h0M267.5 286.6h0M268.8 282.3h0M293.6 286.8h0M283.7 287.3h0M286.9 283.2h0M289.3 287.5h0M269.9 280.8h0M272.1 282.6h0M288.2 287.6h0M288.9 288.8h0M275.6 282.6h0M284.8 287.5h0M279.7 281.8h0M285.3 290.1h0M279.7 285.5h0M276.1 287.8h0M271.2 285.8h0M266.1 282.0h0M277.0 283.5h0M271.9 280.2h0M267.6 280.2h0M283.4 283.1h0M271.2 279.8h0M264.7 282.5h0M287.9 289.6h0M272.7 284.0h0M284.5 287.8h0M291.3 288.3h0M285.5 286.8h0M288.1 285.9h0M272.6 280.5h0M265.8 283.8h0M276.6 280.5h0M284.0 285.2h0M272.8 284.0h0M294.0 287.9h0M281.8 283.7h0M265.9 282.9h0M278.7 284.4h0M278.4 283.4h0M283.6 285.4h0M288.9 290.5h0M288.6 288.5h0M273.7 281.5h0M265.4 282.8h0M288.0 285.8h0M275.1 284.0h0M286.5 284.1h0M272.5 282.8h0M284.5 284.1h0M280.8 281.8h0M277.8 286.4h0M277.3 281.0h0M282.7 288.8h0M274.6 287.3h0M267.2 280.7h0M271.9 287.4h0M270.1 281.6h0M281.5 284.3h0M282.8 289.5h0M290.9 286.6h0M280.7 283.1h0M286.2 290.6h0M281.6 281.7h0M266.4 285.1h0M280.5 285.9h0M267.8 280.6h0M288.3 288.2h0M272.1 284.8h0M282.5 287.4h0M276.6 287.2h0M280.6 285.9h0M293.8 288.9h0M286.4 287.4h0M294.3 287.9h0M265.1 281.3h0M288.2 290.3h0M278.5 288.3h0M286.8 289.0h0M281.9 288.0h0M269.8 279.7h0M292.9 288.0h0M270.1 282.6h0M286.5 288.6h0M279.9 288.4h0M277.8 285.2h0M268.1 283.4h0M273.2 285.9h0M292.5 286.0h0M274.0 286.2h0M284.1 285.5h0M271.0 284.7h0M266.5 284.1h0M277.0 283.1h0M287.7 285.2h0M278.4 289.3h0M280.3 288.7h0M283.6 283.2h0M286.3 289.9h0M289.4 288.7h0M290.6 286.9h0M278.6 284.0h0M280.6 287.2h0M284.0 290.1h0M277.8 281.4h0M275.7 286.7h0M268.9 284.2h0M274.2 282.6h0M283.3 282.7h0M273.8 286.7h0M289.6 289.4h0M280.9 288.2h0M287.3 283.9h0M282.9 284.5h0M267.5 282.3h0M285.5 285.3h0M270.6 286.0h0M285.7 288.8h0M268.4 283.4h0M290.8 288.0h0M269.5 281.6h0M284.6 285.2h0M288.0 289.1h0M270.0 281.8h0M283.3 289.9h0M267.5 284.5h0M273.8 286.1h0M284.1 287.1h0M282.5 287.8h0M285.5 282.8h0M266.2 281.9h0M270.5 287.1h0M292.0 289.1h0M267.0 282.8h0M278.4 284.9h0M292.3 288.2h0M281.5 283.3h0M280.6 287.5h0M273.6 286.7h0M287.2 283.5h0M272.9 287.4h0M270.7 280.7h0M278.2 285.0h0M286.3 284.9h0M265.7 285.9h0M277.9 283.7h0M274.6 288.5h0M287.3 290.6h0M283.0 286.1h0M281.2 287.5h0M269.5 282.4h0M280.8 282.5h0M282.5 284.1h0M281.4 285.5h0M269.1 280.5h0M279.3 286.9h0M275.3 280.1h0M273.7 284.4h0M271.9 280.6h0M272.5 285.2h0M273.5 286.4h0M288.9 285.1h0M293.0 286.8h0M275.8 286.7h0M276.8 286.5h0M285.8 286.6h0M270.9 280.7h0M289.3 286.6h0M291.0 287.2h0M282.6 288.6h0M280.7 281.5h0M273.2 287.6h0M286.6 287.9h0M290.2 289.3h0M290.9 288.3h0M272.1 279.8h0M277.5 283.6h0M289.1 289.5h0M281.9 284.1h0M266.3 284.9h0M292.0 288.3h0M270.4 282.5h0M269.6 282.5h0M279.5 288.1h0M277.7 288.9h0M279.2 283.5h0M287.9 290.6h0M279.8 288.8h0M285.6 290.4h0M272.7 286.2h0M276.5 282.9h0M287.4 286.7h0M267.2 282.4h0M287.1 283.4h0M267.2 285.2h0M273.3 282.2h0M287.2 290.2h0M288.6 287.6h0M268.0 286.8h0M276.9 285.1h0M285.0 287.8h0M279.3 284.7h0M283.9 283.2h0M271.7 287.5h0M285.7 285.9h0M291.2 287.8h0M292.2 289.9h0M289.8 289.1h0M293.8 288.4h0M289.6 289.6h0M276.7 288.8h0M289.8 287.6h0M282.8 286.0h0M273.4 280.1h0M287.6 286.2h0M282.7 288.3h0M270.3 281.8h0M277.6 282.7h0M292.5 288.0h0M269.9 286.8h0M294.0 289.5h0M271.7 286.2h0M288.3 286.3h0M286.0 283.9h0M268.4 284.6h0M269.2 285.5h0M289.3 289.1h0M266.9 284.1h0M272.4 283.5h0M278.4 289.3h0M274.8 286.8h0M265.4 281.5h0M267.5 286.5h0M293.7 289.5h0M279.6 284.2h0M292.4 285.7h0M278.5 282.1h0M280.3 282.2h0M270.3 286.9h0M282.2 281.7h0M271.2 283.1h0M274.2 288.0h0M277.1 288.9h0M288.1 284.6h0M271.0 284.0h0M291.8 288.9h0M271.6 287.0h0M270.1 282.6h0M281.2 281.8h0M284.0 286.4h0M290.2 287.0h0M285.0 283.1h0M272.2 284.4h0M279.3 282.2h0M282.1 284.9h0M286.7 286.5h0M284.3 288.2h0M285.6 288.0h0M280.0 286.2h0M286.2 282.9h0M274.9 281.5h0M278.7 287.2h0M275.6 284.5h0M264.6 283.2h0M286.0 283.0h0M277.0 280.5h0M266.0 283.8h0M284.8 289.9h0M278.5 282.4h0M279.9 284.8h0M270.6 284.7h0M288.8 286.3h0M269.1 284.8h0M285.6 288.4h0M287.5 289.0h0M278.0 280.7h0M270.5 286.3h0M274.3 284.5h0M284.5 286.2h0M271.2 285.3h0M287.1 284.2h0M283.1 287.3h0M292.2 288.5h0M291.2 285.4h0M282.6 286.2h0M277.7 288.3h0M271.6 282.1h0M281.9 289.5h0M267.6 280.2h0M272.2 283.1h0M292.1 287.7h0M277.6 283.7h0M272.1 287.9h0M281.0 282.5h0M274.0 286.9h0M289.7 286.5h0M273.5 281.3h0M275.8 285.2h0M264.5 284.3h0M288.0 283.6h0M285.5 283.9h0M284.5 290.0h0M276.2 285.4h0M291.9 286.6h0M267.3 285.0h0M289.4 289.2h0M281.9 290.0h0M271.0 283.0h0M270.7 284.5h0M283.0 285.4h0M279.6 287.2h0M280.7 281.2h0M264.0 282.5h0M283.6 287.8h0M279.9 280.9h0M288.1 290.8h0M283.1 286.9h0M277.1 280.5h0M278.4 284.7h0M264.5 281.6h0M265.5 285.7h0M288.5 287.7h0M282.5 285.9h0M268.1 282.4h0M267.0 280.8h0M280.4 284.0h0M283.7 289.6h0M272.1 282.2h0M272.3 286.6h0M287.9 284.9h0M269.6 280.3h0M278.5 285.6h0M285.6 286.2h0M266.8 281.5h0M274.1 281.0h0M266.1 281.1h0M274.9 281.5h0M264.1 281.8h0M283.9 284.7h0M282.7 283.6h0M274.1 280.2h0M267.8 283.5h0M291.1 289.6h0M275.4 286.6h0M264.6 282.5h0M285.7 287.9h0M290.9 286.5h0M274.7 283.2h0M283.1 289.3h0M277.1 285.5h0M288.9 287.9h0M270.7 286.3h0M274.8 283.4h0M286.5 290.4h0M283.7 286.2h0M268.1 284.9h0M284.0 284.2h0M291.0 285.4h0M284.4 284.9h0M281.0 281.7h0M284.9 289.4h0M293.7 288.1h0M275.7 285.8h0M280.7 286.5h0M276.7 285.3h0M285.4 287.7h0M284.0 286.5h0M282.9 285.8h0M270.4 284.0h0M290.3 289.0h0M275.6 281.3h0M265.2 284.4h0M278.8 284.4h0M283.6 286.3h0M269.6 286.8h0M290.4 285.7h0M273.6 284.8h0M292.6 287.0h0M266.9 280.6h0M269.0 280.2h0M291.5 289.2h0M287.6 289.9h0M275.6 284.3h0M267.8 280.8h0M277.6 283.4h0M276.6 285.1h0M286.3 285.9h0M286.5 287.2h0M290.3 289.0h0M285.3 289.5h0M267.9 282.0h0M279.4 285.0h0M291.4 288.1h0M267.6 280.0h0M272.6 283.1h0M277.6 285.3h0M271.2 284.6h0M270.6 284.3h0M282.4 282.8h0M276.7 285.8h0M267.5 284.2h0M272.9 283.1h0M276.9 285.4h0M283.6 283.8h0M282.2 281.3h0M268.9 283.8h0M270.4 280.0h0M270.5 280.2h0M272.9 285.4h0M282.9 286.8h0M276.3 285.8h0M281.2 283.0h0M273.7 286.6h0M289.8 286.5h0M270.4 284.2h0M261.7 277.1h0M284.8 283.1h0M283.2 289.2h0M275.3 287.5h0M281.4 281.8h0M282.0 286.4h0M265.8 285.7h0M282.6 284.1h0M289.6 295.3h0M288.9 287.4h0M271.0 281.2h0M283.2 282.2h0M294.5 287.5h0M277.2 291.7h0M273.4 280.1h0M281.6 288.4h0M273.8 285.5h0M286.0 288.9h0M280.5 286.1h0M283.6 286.2h0M289.4 289.1h0M264.4 280.5h0M275.7 285.7h0M293.8 289.3h0M280.4 287.7h0M271.1 282.0h0M295.7 291.6h0M270.6 289.0h0M276.8 283.2h0M281.2 289.8h0M292.4 286.9h0M288.0 283.6h0M269.5 284.0h0M282.1 291.1h0M283.3 284.3h0M275.8 284.7h0M265.5 287.9h0M275.3 284.5h0M277.9 288.3h0M283.3 286.4h0M277.4 287.2h0M283.9 284.0h0M270.5 279.4h0M282.5 283.1h0M278.8 290.8h0M278.4 289.3h0M278.1 284.2h0M279.1 286.2h0M281.2 288.5h0M276.8 281.4h0M263.9 281.5h0M295.5 282.7h0M275.6 288.4h0M259.4 279.5h0M290.2 289.4h0M281.9 283.3h0M286.1 291.4h0M269.8 289.3h0M260.0 283.5h0M272.4 286.7h0M291.3 285.8h0M271.9 283.7h0M280.1 287.3h0M284.3 284.0h0M294.0 284.5h0M282.8 287.0h0" stroke="#e8560c" stroke-width="1.44" stroke-linecap="round"/>
<path d="M284.7 285.3h0M298.3 290.0h0M292.7 291.5h0M301.5 292.2h0M300.2 291.3h0M289.5 287.5h0M289.8 287.5h0M301.5 292.0h0M286.3 290.9h0M296.9 289.5h0M288.4 288.1h0M298.9 290.2h0M294.9 289.9h0M291.5 288.4h0M297.4 290.6h0M285.2 286.3h0M298.8 290.2h0M287.2 287.0h0M299.8 291.4h0M295.0 291.3h0M289.9 290.4h0M295.3 289.0h0M301.5 291.2h0M288.2 286.8h0M289.3 291.4h0M297.5 290.0h0M297.1 291.2h0M286.1 290.0h0M288.7 288.7h0M295.5 289.9h0M298.7 291.7h0M300.0 290.8h0M291.4 289.5h0M300.9 291.7h0M297.5 290.1h0M296.1 290.1h0M296.2 289.0h0M287.4 289.0h0M300.5 289.8h0M287.5 288.6h0M285.4 287.7h0M295.5 291.0h0M286.9 289.2h0M293.7 291.8h0M285.1 287.6h0M290.8 288.7h0M289.2 289.1h0M293.3 290.4h0M285.1 288.2h0M298.3 289.5h0M293.3 289.3h0M297.6 290.5h0M288.2 290.3h0M290.9 289.2h0M284.8 287.5h0M289.0 289.1h0M289.0 289.6h0M298.8 290.4h0M300.4 291.6h0M293.7 287.9h0M291.8 289.5h0M287.9 290.1h0M286.0 288.4h0M285.4 288.7h0M286.5 289.1h0M290.6 288.8h0M290.4 286.0h0M290.7 290.2h0M294.6 290.6h0M295.6 290.1h0M297.2 290.8h0M294.3 289.6h0M288.9 289.3h0M294.5 291.3h0M289.9 289.0h0M297.9 291.0h0M286.8 289.2h0M287.2 289.7h0M284.1 288.8h0M292.1 289.4h0M301.4 290.8h0M297.1 290.6h0M288.9 288.3h0M297.4 290.0h0M286.5 287.0h0M293.4 288.8h0M300.8 292.0h0M286.9 288.8h0M286.5 286.9h0M293.4 288.4h0M300.2 291.0h0M285.6 289.2h0M301.3 293.2h0M286.7 288.6h0M284.1 287.6h0M301.8 292.1h0M299.4 290.4h0M296.1 289.7h0M293.9 290.2h0M301.8 292.3h0" stroke="#e85a0c" stroke-width="1.44" stroke-linecap="round"/>
<path d="M329.4 195.9h0M328.4 199.0h0M330.7 199.8h0M330.6 198.0h0M328.7 200.4h0M330.1 198.0h0M329.2 198.3h0M330.4 197.0h0M329.5 196.2h0M330.9 198.9h0M331.1 197.3h0M331.0 196.5h0M328.8 197.7h0M329.0 202.4h0M330.3 193.2h0M331.2 195.2h0M331.8 198.4h0M330.5 197.9h0" stroke="#c8001e" stroke-width="1.44" stroke-linecap="round"/>
<path d="M329.3 205.4h0M329.3 208.3h0M328.8 210.4h0M329.4 207.4h0M329.7 205.8h0M328.2 210.2h0M328.6 208.4h0M328.6 207.6h0M329.6 206.3h0M328.3 206.9h0M329.4 205.2h0M328.6 207.6h0M327.8 210.8h0M328.1 210.1h0" stroke="#e8101a" stroke-width="1.44" stroke-linecap="round"/>
<path d="M320.5 232.7h0M329.4 222.7h0M317.3 229.9h0M315.5 241.4h0M324.4 241.4h0M326.5 215.6h0M328.0 227.3h0M314.0 245.6h0M330.5 221.2h0M325.3 231.5h0M326.6 215.9h0M316.6 233.9h0M315.1 243.3h0M323.4 226.1h0M316.4 237.0h0M319.0 240.6h0M314.5 238.6h0M326.5 224.4h0M330.4 220.3h0M319.4 217.5h0M321.8 225.3h0M321.2 233.5h0M316.8 230.4h0M323.5 215.4h0M324.2 237.1h0M330.4 224.5h0M324.5 217.7h0M325.4 228.5h0M326.2 219.0h0M319.9 221.1h0M327.2 215.2h0M315.2 237.1h0M321.9 238.9h0M314.2 240.3h0M328.2 218.0h0M330.8 225.7h0M330.5 222.6h0M330.0 221.8h0M315.9 240.2h0M330.0 221.2h0M326.4 224.6h0M317.2 226.8h0M323.1 219.7h0M323.3 241.1h0M318.6 225.3h0M320.4 232.8h0M327.1 233.1h0M318.9 228.9h0M318.7 223.7h0M328.1 227.7h0M327.5 222.2h0M317.0 243.6h0M318.1 238.3h0M315.4 236.6h0M319.1 235.3h0M320.3 233.5h0M318.5 235.1h0M329.9 229.2h0M315.9 233.7h0M323.5 231.2h0M329.1 216.6h0M327.0 226.7h0M330.3 219.0h0M321.5 231.8h0M315.7 244.6h0M327.7 232.2h0M325.2 239.1h0M320.2 216.7h0M329.1 226.1h0M324.0 231.1h0M319.1 241.7h0M314.3 239.2h0M323.5 241.5h0M319.7 228.2h0M321.5 235.6h0M330.4 220.6h0M316.8 240.6h0M328.9 236.3h0M331.5 228.4h0M324.2 221.4h0M319.4 237.4h0M322.3 228.0h0M329.4 227.9h0M331.1 227.7h0M320.6 233.4h0M330.9 225.2h0M317.6 236.5h0M331.3 226.1h0M316.5 231.5h0M318.5 226.7h0M329.3 227.0h0M317.2 228.5h0M325.3 239.7h0M315.3 239.7h0M324.7 228.6h0M323.7 240.0h0M319.5 225.9h0M328.2 234.1h0M328.7 236.7h0M330.7 231.9h0M328.2 231.8h0M316.2 234.5h0M315.8 242.9h0M317.0 239.1h0M317.6 224.8h0M326.7 220.9h0M329.5 224.7h0M315.4 240.5h0M313.5 244.9h0M317.7 244.6h0M320.6 239.7h0M327.7 220.0h0M328.3 235.4h0M315.9 233.5h0M328.5 217.6h0M328.8 217.0h0M328.4 227.2h0M328.4 215.8h0M323.0 242.4h0M319.7 225.0h0M323.7 228.0h0M324.1 240.4h0M324.5 226.1h0M321.6 222.1h0M327.5 216.3h0M328.5 230.5h0M318.4 236.2h0M327.2 217.6h0M321.0 241.4h0M323.5 223.6h0M315.8 237.7h0M322.1 239.9h0M324.6 230.8h0M326.6 238.0h0M326.4 235.1h0M328.1 225.3h0M320.1 237.5h0M323.7 242.5h0M320.9 239.8h0M322.6 226.8h0M317.1 229.1h0M318.1 231.3h0M325.9 237.8h0M326.1 231.1h0M331.2 227.9h0M313.4 243.5h0M319.4 221.5h0M324.5 216.0h0M321.4 236.5h0M330.2 234.0h0M327.1 225.7h0M319.5 224.5h0M323.5 225.7h0M328.6 220.3h0M323.5 228.9h0M326.4 219.0h0M320.3 219.5h0M326.7 239.7h0M325.9 222.9h0M326.7 226.7h0M316.6 229.6h0M317.9 227.0h0M317.3 234.0h0M329.7 223.9h0M328.7 222.7h0M328.1 222.0h0M324.8 221.0h0M325.4 234.3h0M323.4 237.0h0M320.4 216.7h0M323.7 222.8h0M324.2 242.0h0M322.6 243.4h0M322.1 243.4h0M319.1 223.1h0M326.0 235.2h0M322.9 216.8h0M330.7 229.3h0M322.9 219.0h0M316.7 236.9h0M315.9 237.0h0M321.3 235.8h0M319.0 241.8h0M323.6 222.2h0M315.9 232.6h0M320.8 224.6h0M328.1 221.8h0M316.5 242.5h0M330.5 226.4h0M320.6 228.0h0M319.9 222.9h0M324.5 231.7h0M325.9 216.4h0M325.0 228.9h0M320.1 216.9h0M329.3 217.2h0M327.3 236.7h0M320.3 234.2h0M320.9 233.8h0M317.1 243.5h0M316.4 236.4h0M325.9 234.1h0M320.8 222.4h0M314.1 238.4h0M324.5 225.9h0M330.9 231.6h0M327.1 225.4h0M320.9 227.4h0M318.5 229.5h0M317.9 226.0h0M326.0 228.4h0M327.0 235.9h0M318.5 222.7h0M322.3 232.9h0M317.3 244.4h0M321.6 242.0h0M325.3 215.4h0M331.1 233.9h0M324.7 239.8h0M323.9 233.6h0M323.9 238.5h0M323.2 222.4h0M323.6 222.0h0M322.6 220.7h0M326.1 228.0h0M319.4 241.5h0M324.2 222.3h0M330.8 222.1h0M326.0 215.5h0M329.4 222.9h0M322.4 234.9h0M321.8 229.7h0M318.4 219.3h0M322.0 219.6h0M321.0 227.7h0M318.9 244.0h0M328.8 229.0h0M330.1 219.7h0M327.0 225.3h0M321.8 221.5h0M316.7 230.1h0M316.8 230.7h0M322.5 232.1h0M325.2 231.9h0M319.7 230.4h0M328.7 218.7h0M314.6 239.9h0M312.9 241.5h0M324.3 221.7h0M329.4 217.5h0M320.6 228.0h0M324.0 222.8h0M327.8 226.1h0M331.2 224.1h0M319.3 230.7h0M319.3 240.4h0M316.7 233.5h0M319.1 242.3h0M322.5 231.9h0M322.1 243.5h0M329.0 217.9h0M317.0 243.4h0M328.5 225.3h0M322.8 243.1h0M329.2 236.0h0M330.2 226.1h0M320.1 222.2h0M325.9 236.5h0M322.0 219.1h0M323.9 224.1h0M326.4 220.9h0M331.4 230.7h0M325.6 231.2h0M325.3 214.7h0M320.2 220.3h0M315.5 245.2h0M330.2 225.1h0M318.9 222.9h0M322.0 216.2h0M322.5 216.9h0M330.7 229.8h0M325.8 224.6h0M323.4 229.6h0M326.4 216.4h0M324.5 223.6h0M315.9 234.0h0M323.0 236.4h0M320.7 230.1h0M325.0 241.2h0M324.4 225.7h0M322.6 235.5h0M325.3 224.2h0M316.5 236.3h0M320.9 243.8h0M326.3 223.2h0M324.4 229.2h0M316.2 242.7h0M318.4 237.5h0M329.7 218.4h0M320.1 242.0h0M322.7 221.4h0M323.9 242.1h0M327.2 223.6h0M320.3 220.2h0M324.4 223.8h0M320.3 240.5h0M327.8 223.4h0M327.4 236.7h0M312.8 240.6h0M325.3 231.0h0M327.0 238.2h0M317.9 226.9h0M324.9 222.9h0M320.5 232.0h0M329.8 232.3h0M329.9 220.4h0M317.2 238.2h0M323.1 229.6h0M318.1 233.5h0M325.8 221.8h0M320.8 216.7h0M319.2 230.6h0M324.5 241.7h0M322.1 226.0h0M324.5 236.6h0M323.8 218.4h0M319.5 229.0h0M318.7 225.0h0M325.1 229.3h0M321.0 223.5h0M331.2 223.8h0M316.0 235.0h0M326.2 223.6h0M326.1 216.4h0M326.4 219.8h0M317.3 234.0h0M326.3 235.6h0M322.9 223.5h0M326.1 236.2h0M327.1 219.3h0M328.2 231.1h0M319.2 219.8h0M329.9 223.4h0M323.5 238.4h0M330.0 218.7h0M327.1 225.1h0M321.7 216.9h0M319.8 223.7h0M321.2 213.7h0M314.4 240.7h0M324.3 235.8h0M316.9 234.5h0M321.3 229.5h0M326.6 225.3h0M321.7 238.7h0M329.6 231.1h0M317.9 223.4h0M330.7 229.9h0M328.0 227.6h0M328.3 219.4h0M322.5 229.8h0M316.5 230.4h0M319.6 227.6h0M324.0 224.0h0M315.7 240.1h0M321.0 222.4h0M329.5 234.0h0M315.4 240.1h0M328.0 233.3h0M330.9 225.8h0M324.9 225.7h0M320.7 243.6h0M322.7 213.8h0M320.0 224.6h0M318.6 220.9h0M325.5 227.6h0M327.9 220.8h0M321.7 218.9h0M320.7 226.8h0M321.7 240.8h0M318.1 238.9h0M315.7 239.7h0M318.6 223.0h0M326.1 215.2h0M316.0 239.6h0M321.5 240.0h0M320.5 230.1h0M319.1 233.5h0M320.2 228.9h0M313.4 242.1h0M329.9 220.3h0M317.5 242.0h0M325.9 215.3h0M323.0 215.6h0M320.7 213.9h0M325.4 234.6h0M316.2 238.4h0M314.6 237.6h0M323.5 221.9h0M317.7 239.3h0M325.6 222.8h0M317.2 228.7h0M320.8 243.1h0M318.8 238.7h0M324.2 235.3h0M330.9 231.2h0M325.7 216.0h0M313.5 241.4h0M317.0 236.7h0M329.5 221.2h0M324.0 222.2h0M329.9 227.0h0M318.2 243.5h0M320.7 225.0h0M328.0 234.4h0M327.6 231.1h0M322.3 241.7h0M319.8 240.4h0M330.0 233.1h0M325.9 220.1h0" stroke="#f07830" stroke-width="1.44" stroke-linecap="round"/>
<path d="M307.1 231.5h0M305.4 233.8h0M304.4 245.3h0M306.4 240.1h0M311.0 233.5h0M305.7 236.4h0M299.4 242.8h0M307.4 238.1h0M299.5 239.7h0M302.7 227.4h0M301.7 242.2h0M300.2 231.2h0M312.7 234.9h0M299.9 240.9h0M298.1 232.0h0M301.8 228.3h0M304.1 245.1h0M312.0 232.6h0M301.1 235.5h0M307.8 243.0h0M302.7 242.2h0M298.0 239.9h0M305.0 226.4h0M299.2 229.0h0M299.5 239.9h0M304.2 244.1h0M302.1 241.6h0M307.2 236.6h0M304.1 232.1h0M305.8 230.7h0M298.2 235.1h0M301.2 231.8h0M309.3 241.6h0M301.3 231.3h0M304.6 231.9h0M310.0 235.3h0M302.9 230.2h0M309.7 232.2h0M307.2 239.7h0M302.4 236.0h0M308.2 230.0h0M299.5 240.7h0M299.0 232.3h0M297.9 230.6h0M300.4 229.1h0M304.1 227.8h0M311.9 236.3h0M306.9 234.4h0M304.3 234.8h0M301.7 241.9h0M306.9 227.9h0M304.5 243.0h0M308.2 243.1h0M299.8 234.1h0M300.2 231.0h0M305.9 240.4h0M300.5 241.5h0M311.5 235.6h0M308.0 232.1h0M301.0 237.0h0M299.4 235.3h0M297.4 231.9h0M302.1 233.2h0M299.6 237.6h0M307.7 243.8h0M301.8 245.9h0M300.1 236.1h0M300.6 236.7h0M308.1 233.7h0M300.0 239.7h0M311.7 232.8h0M309.3 229.5h0M304.5 226.4h0M306.7 233.2h0M299.6 229.3h0M304.5 234.5h0M304.8 232.0h0M310.0 230.7h0M302.1 245.1h0M303.2 244.4h0M299.1 238.4h0M307.0 234.3h0M300.1 231.3h0M308.8 230.9h0M303.5 231.4h0M309.5 233.2h0M300.3 236.3h0M299.7 229.2h0M306.7 237.9h0M306.0 240.6h0M302.3 238.2h0M299.0 235.0h0M305.0 231.9h0M304.8 245.5h0M300.8 240.8h0M311.2 231.3h0M299.1 229.4h0M305.0 237.0h0M304.0 231.1h0M312.2 233.4h0M303.7 234.6h0M301.1 239.6h0M299.5 240.4h0M305.5 230.0h0M299.3 236.7h0M302.5 240.0h0M310.3 235.2h0M299.1 230.7h0M304.8 226.5h0M305.7 245.3h0M301.6 240.8h0M308.5 235.1h0M311.8 237.1h0M299.2 239.8h0M303.3 228.8h0M306.2 237.9h0M310.1 231.5h0M303.2 244.2h0M300.2 232.7h0M301.4 241.0h0M306.9 232.6h0M298.2 237.1h0M310.1 232.0h0M298.8 229.8h0M299.0 234.4h0M300.4 243.2h0M305.5 234.7h0M308.4 241.1h0M308.8 235.6h0M301.8 236.4h0M301.6 230.2h0M304.1 229.3h0M300.4 230.5h0M303.2 239.8h0M298.1 237.7h0M303.8 244.0h0M306.9 228.7h0M299.9 234.7h0M304.3 230.4h0M303.9 237.7h0M300.4 233.7h0M302.1 240.5h0M303.8 239.2h0M303.5 228.8h0M309.3 238.7h0M303.0 243.5h0M304.2 233.6h0M309.3 240.5h0M306.7 230.6h0M305.6 231.9h0M313.1 233.5h0M301.6 228.6h0M301.3 230.2h0M302.1 241.3h0M308.8 229.7h0M303.6 232.0h0M301.4 243.1h0M304.4 243.3h0M310.7 230.1h0M298.5 237.9h0M310.2 240.8h0M305.4 240.2h0M309.0 233.0h0M308.8 242.8h0M298.5 239.8h0M301.6 243.4h0M312.8 235.4h0M307.4 242.7h0M314.3 238.0h0M301.5 234.0h0M297.3 236.3h0M302.4 229.0h0M310.2 236.3h0M310.3 233.2h0M312.0 241.3h0" stroke="#2470c0" stroke-width="1.44" stroke-linecap="round"/>
<path d="M307.2 245.4h0M305.3 247.6h0M305.6 246.5h0M304.5 246.8h0M301.7 247.4h0M307.7 248.1h0M305.2 247.7h0M305.6 246.9h0M306.2 246.6h0M306.1 246.5h0M303.0 249.5h0M305.1 248.1h0M307.2 246.6h0M303.7 246.0h0M305.8 247.2h0M304.2 246.6h0M305.2 249.0h0M305.4 247.5h0M301.7 245.8h0M311.5 246.3h0M304.5 249.2h0M300.3 247.8h0M305.8 248.2h0M307.3 246.6h0M306.0 248.8h0M302.7 249.6h0M304.3 250.3h0M299.0 250.3h0M303.6 246.0h0M301.4 247.9h0M304.8 246.1h0M300.2 251.0h0M303.4 246.8h0M308.1 245.4h0M303.6 247.4h0M305.6 248.9h0M308.8 249.0h0M301.8 245.5h0M304.4 245.0h0M300.9 248.4h0" stroke="#8060b0" stroke-width="1.44" stroke-linecap="round"/>
<path d="M272.7 235.0h0M270.8 235.2h0M271.4 233.7h0M270.3 235.4h0M272.1 234.5h0M271.2 234.4h0M272.2 234.8h0M271.6 234.1h0" stroke="#b08040" stroke-width="1.44" stroke-linecap="round"/>
<path d="M251.2 254.1h0M248.2 253.9h0M250.7 254.5h0M250.3 254.5h0M252.6 252.9h0M247.5 255.1h0M249.9 254.3h0M245.3 254.4h0M246.4 255.0h0M249.2 254.3h0M246.9 251.9h0M248.0 254.1h0M247.3 253.8h0M249.8 253.9h0M249.4 253.0h0M248.1 254.0h0M245.5 254.5h0M243.0 254.0h0M248.1 254.6h0M250.8 253.9h0" stroke="#905080" stroke-width="1.44" stroke-linecap="round"/>
<path d="M305.7 260.9h0M314.6 267.1h0M305.8 262.5h0M320.6 263.5h0M320.3 264.2h0M305.2 262.6h0M305.5 262.5h0M318.3 264.5h0M313.6 260.7h0M319.1 262.9h0M316.0 265.4h0M317.7 260.7h0M317.7 262.9h0M316.1 261.9h0M313.6 261.1h0M319.0 264.5h0M306.3 263.3h0M319.8 264.8h0M309.6 262.4h0M319.8 262.7h0M319.0 264.3h0M310.9 262.0h0M315.2 265.4h0M319.4 262.2h0M306.0 260.1h0M316.6 263.3h0M314.3 262.7h0M314.7 263.4h0M305.7 262.0h0M317.7 264.0h0M318.7 264.1h0M313.8 262.4h0M312.5 265.6h0M319.8 264.5h0M307.2 261.7h0M309.4 263.5h0M317.5 264.8h0M307.4 264.8h0M306.3 261.9h0M319.3 263.4h0M307.4 264.7h0M308.2 261.4h0M307.4 263.9h0M308.0 263.3h0M320.2 262.5h0M306.6 262.0h0M314.7 263.1h0M310.3 263.9h0M316.1 263.3h0M310.4 260.1h0M320.4 262.5h0M317.6 262.4h0M307.3 262.1h0M306.4 262.6h0M314.9 266.4h0M308.3 263.4h0M305.8 262.8h0M308.7 262.1h0M320.3 264.2h0M314.4 263.8h0M315.8 265.0h0M319.7 263.8h0M309.2 264.2h0M314.1 262.2h0M317.7 263.4h0M318.8 264.6h0M310.9 266.9h0M317.2 264.9h0M313.0 263.6h0M315.2 262.8h0M319.9 264.0h0M319.3 263.3h0M313.9 265.0h0M315.0 264.0h0M312.1 263.1h0M321.1 262.9h0M317.5 263.4h0M306.6 262.5h0M307.3 262.9h0M317.6 264.1h0M316.9 263.1h0M306.7 262.5h0M314.2 263.5h0M308.7 264.6h0M314.8 261.7h0M316.5 263.5h0M317.9 262.1h0M315.2 262.0h0M320.9 262.6h0M319.7 264.0h0M308.8 262.4h0M305.9 262.3h0M306.7 264.2h0M307.2 263.6h0M308.7 263.5h0M317.3 263.9h0M308.8 263.8h0M310.2 263.2h0M317.7 261.6h0M310.7 262.5h0M314.4 261.0h0M320.8 264.5h0M309.2 263.4h0M311.8 259.2h0M317.2 264.0h0M308.1 262.4h0M312.4 263.9h0M309.5 260.9h0M318.4 262.4h0M320.5 263.7h0M309.4 263.9h0M311.8 261.6h0M310.8 262.4h0M314.9 262.2h0M312.4 260.4h0M312.8 262.8h0M308.8 263.6h0M320.8 264.5h0M307.3 261.4h0M310.8 262.8h0M313.2 260.3h0M305.8 262.3h0M312.6 263.2h0M310.1 262.5h0M312.1 263.3h0M314.2 264.0h0M305.8 262.3h0M313.7 263.3h0M320.2 263.7h0M308.8 264.9h0M310.2 264.1h0M316.3 266.0h0M305.2 263.5h0M318.2 263.4h0M310.1 261.2h0M318.1 262.7h0M320.6 264.6h0M320.0 265.3h0M315.3 261.0h0M310.6 263.3h0M317.8 262.5h0M318.9 261.9h0M307.6 262.9h0M319.0 262.0h0M316.4 261.8h0M313.3 263.4h0M307.5 263.9h0M308.5 264.4h0M309.1 263.6h0M319.7 263.4h0" stroke="#6438a0" stroke-width="1.44" stroke-linecap="round"/>
<path d="M380.9 252.7h0M388.9 251.0h0M390.7 250.3h0M388.8 250.2h0M378.7 251.3h0M385.6 249.6h0M384.8 251.2h0M379.2 251.9h0M392.9 249.4h0M393.8 248.9h0M390.3 251.9h0M389.2 251.6h0M391.2 250.1h0M394.6 248.0h0M386.0 250.9h0M394.1 249.0h0M382.7 251.5h0M375.7 252.0h0M392.5 248.2h0M379.4 251.4h0M394.8 248.9h0M392.1 249.8h0M382.7 251.0h0M387.9 250.7h0M375.8 253.7h0M392.1 248.6h0M376.8 251.8h0M374.5 251.8h0M393.9 250.1h0M384.8 250.1h0M379.5 251.3h0M374.2 253.0h0M379.5 251.7h0M394.0 248.2h0M378.5 250.2h0M395.4 249.1h0M380.6 252.0h0M394.9 246.8h0M381.8 250.7h0M382.8 249.9h0M379.6 250.8h0M378.0 252.1h0M373.6 252.1h0M378.9 250.2h0M386.2 253.5h0M390.2 250.7h0M393.7 250.5h0M395.4 250.2h0M378.4 252.3h0M384.9 251.3h0M395.7 251.2h0M377.4 253.3h0M380.5 249.5h0M383.7 250.6h0M387.7 250.7h0M379.3 251.6h0M385.6 249.8h0M391.4 249.3h0M386.8 250.3h0M385.3 251.5h0M380.2 251.2h0M376.3 252.2h0M379.9 251.2h0M386.0 251.7h0M395.0 249.1h0M378.4 252.6h0M393.1 249.2h0M388.7 250.9h0M385.6 251.7h0M375.9 251.9h0M378.4 250.7h0M374.5 252.2h0M395.8 250.4h0M389.2 250.0h0M388.4 248.8h0M393.6 251.2h0M375.8 253.1h0M381.9 251.0h0M384.9 252.1h0M376.1 252.9h0M398.9 262.8h0M395.2 273.4h0M398.2 267.5h0M397.0 257.1h0M400.0 265.2h0M397.5 266.4h0M398.1 264.8h0M397.2 270.1h0M398.1 257.6h0M397.9 263.1h0M396.0 272.9h0M399.6 273.1h0M397.7 271.5h0M397.0 273.1h0M397.6 259.6h0M398.6 258.6h0M400.7 262.5h0M395.2 269.9h0M394.3 267.9h0M395.9 260.5h0M400.3 268.2h0M397.4 270.5h0M393.2 267.3h0M396.9 273.2h0M399.0 265.1h0M394.9 267.0h0M398.2 259.1h0M397.2 270.6h0M400.2 266.3h0M396.2 262.4h0" stroke="#c09060" stroke-width="1.44" stroke-linecap="round"/>
<path d="M432.0 291.5h0M410.5 297.2h0M435.0 287.0h0M414.9 298.1h0M432.7 294.8h0M408.9 294.1h0M437.5 283.5h0M419.9 297.1h0M409.3 297.6h0M437.9 287.1h0M430.2 293.0h0M432.7 290.1h0M405.7 293.5h0M417.3 298.8h0M405.4 293.2h0M431.8 292.0h0M428.6 296.8h0M406.1 291.3h0M420.0 296.6h0M414.0 298.2h0M419.0 298.5h0M406.1 295.2h0M417.3 297.3h0M431.5 294.2h0M437.0 286.0h0M413.9 299.2h0M428.3 293.9h0M411.8 297.9h0M417.2 299.6h0M412.1 297.1h0M437.5 283.7h0M422.8 298.3h0M404.8 293.8h0M428.3 293.6h0M437.1 286.9h0M427.7 295.0h0M412.5 298.9h0M421.5 296.0h0M430.7 292.5h0M409.2 295.8h0M421.8 298.4h0M432.6 293.0h0M425.3 296.6h0M409.6 294.0h0M432.6 290.7h0M436.3 287.5h0M435.3 291.5h0M410.8 294.1h0M433.6 292.4h0M425.0 296.4h0M410.6 297.0h0M419.3 298.6h0M407.6 292.3h0M407.3 292.6h0M437.9 285.3h0M419.2 298.5h0M427.0 298.4h0M418.8 296.7h0M414.3 297.5h0M429.2 293.2h0M438.9 287.1h0M427.8 293.9h0M405.3 292.1h0M423.5 295.3h0M438.3 286.1h0M428.9 293.7h0M428.1 296.3h0M430.7 294.1h0M433.3 291.4h0M430.3 293.4h0M433.9 293.7h0M435.8 286.0h0M413.8 297.1h0M423.3 297.3h0M405.1 292.3h0M436.9 284.3h0M407.7 293.1h0M411.3 297.4h0M435.9 287.7h0M438.9 285.2h0M413.8 298.0h0M407.6 296.2h0M428.5 295.5h0M431.0 292.3h0M437.6 287.9h0M413.4 298.9h0M435.1 291.7h0M416.1 297.9h0M430.5 295.6h0M433.1 291.4h0M405.8 294.1h0M418.5 296.9h0M435.9 291.1h0M422.4 296.9h0M433.1 290.5h0M438.5 285.2h0M429.1 295.6h0M438.8 286.8h0M411.2 298.0h0M418.8 296.4h0M422.0 297.6h0M406.6 294.5h0M435.9 286.4h0M406.2 294.3h0M436.2 287.4h0M428.7 293.9h0M407.0 295.3h0M425.3 294.9h0M412.6 298.3h0M416.3 297.3h0M438.4 287.0h0M419.8 298.5h0M430.2 295.7h0M413.7 298.8h0M421.1 298.0h0M438.5 284.9h0M420.3 296.5h0M411.1 296.4h0M409.5 297.2h0M417.3 296.0h0M412.7 297.1h0M411.1 298.3h0M414.6 299.3h0M432.5 292.7h0M433.6 294.1h0M416.4 298.9h0M427.8 294.7h0M409.7 293.3h0M433.9 290.8h0M429.3 294.5h0M405.2 293.7h0M415.7 296.4h0M425.2 296.3h0M419.5 299.0h0M438.8 284.5h0M413.5 298.4h0M429.3 294.8h0M407.4 291.9h0M424.1 298.4h0M434.2 293.6h0M425.7 296.1h0M426.1 297.7h0M417.0 299.6h0M412.8 297.6h0M433.1 293.0h0M405.9 293.2h0M419.6 297.0h0M418.6 296.5h0M435.9 287.6h0M419.3 299.7h0M431.4 291.4h0M420.3 295.9h0M430.2 294.4h0M436.6 285.1h0M410.6 297.1h0M411.8 297.1h0M407.4 295.5h0M435.3 287.4h0M412.7 295.4h0M420.6 299.4h0M428.5 296.8h0M419.9 297.8h0M417.2 299.0h0M435.3 292.2h0M415.2 298.0h0M437.3 286.4h0M420.6 299.0h0M419.4 297.9h0M429.5 294.2h0M432.0 295.4h0M417.7 299.5h0M414.0 295.2h0M410.1 296.2h0M435.4 289.8h0M418.8 297.5h0M434.4 288.8h0M407.1 292.6h0M417.4 297.7h0M423.1 298.3h0M426.2 297.4h0M426.1 295.6h0M434.4 290.4h0M433.0 291.0h0M424.6 298.3h0M412.3 295.4h0M416.8 297.6h0M433.3 289.7h0M406.0 292.3h0M427.2 297.5h0M413.0 298.9h0M411.5 294.7h0M433.2 292.7h0M407.1 292.1h0M408.0 293.6h0M439.0 285.9h0M427.6 295.2h0M421.0 295.9h0M438.0 286.1h0M424.0 295.4h0M407.2 293.9h0M437.6 286.8h0M428.1 296.0h0M434.0 291.4h0M421.2 298.3h0M422.3 297.5h0M417.8 297.7h0M424.9 299.0h0M418.1 298.8h0M435.7 289.8h0M421.7 299.2h0M433.7 288.8h0M425.9 297.7h0M412.1 296.2h0" stroke="#ecc850" stroke-width="1.44" stroke-linecap="round"/>
<path d="M438.8 283.2h0M434.4 262.3h0M437.9 260.7h0M437.3 260.3h0M436.6 267.2h0M441.6 270.2h0M433.0 264.1h0M434.6 266.0h0M442.8 274.2h0M432.5 274.2h0M442.1 277.8h0M435.4 272.6h0M437.6 274.6h0M434.8 275.8h0M439.4 255.0h0M439.6 282.2h0M443.2 273.0h0M439.5 277.9h0M442.0 270.9h0M436.3 255.7h0M435.8 274.3h0M440.1 270.0h0M434.2 255.5h0M431.3 262.1h0M436.7 276.5h0M439.3 267.8h0M433.3 252.6h0M437.4 253.9h0M432.7 270.4h0M437.8 264.6h0M436.2 281.0h0M436.8 253.0h0M441.7 259.9h0M440.9 280.5h0M432.5 262.2h0M441.8 272.3h0M433.1 276.8h0M439.0 256.1h0M438.9 257.9h0M432.0 258.0h0M438.7 267.8h0M430.1 260.9h0M439.1 262.4h0M436.8 259.0h0M438.6 281.9h0M440.0 259.8h0M440.1 278.2h0M440.3 282.7h0M438.4 277.2h0M441.1 259.7h0M439.5 264.0h0M438.3 253.0h0M433.3 276.8h0M436.5 253.1h0M440.5 274.1h0M439.3 265.7h0M436.5 282.2h0M433.6 251.2h0M433.5 260.0h0M435.4 276.1h0M437.2 265.0h0M436.5 278.8h0M433.6 272.9h0M441.9 265.7h0M437.2 275.6h0M440.1 257.3h0M442.0 265.8h0M436.7 273.3h0M433.9 261.8h0M435.8 279.1h0M431.2 277.3h0M433.5 259.1h0M436.3 261.2h0M439.4 258.7h0M438.3 258.2h0M441.5 271.7h0M436.2 259.3h0M432.1 258.8h0M437.3 281.8h0M436.2 262.9h0M433.1 257.2h0M435.8 276.2h0M435.1 268.4h0M436.1 267.7h0M442.2 267.4h0M442.0 272.0h0M439.1 273.8h0M432.7 258.2h0M435.3 275.0h0M440.9 267.5h0M440.2 275.6h0M435.2 270.5h0M432.7 252.9h0M435.9 280.2h0M441.1 269.3h0M433.8 278.1h0M430.9 256.8h0M431.0 264.8h0M433.5 255.7h0M440.9 269.5h0M440.2 275.7h0M442.5 271.5h0M439.2 254.0h0M434.9 279.8h0M440.2 262.5h0M436.9 271.2h0M441.8 275.6h0M440.5 281.7h0M435.3 273.9h0M441.5 268.0h0M430.0 255.9h0M439.3 269.1h0M431.3 254.5h0M433.4 279.7h0M440.6 283.3h0M440.2 265.5h0M435.6 258.0h0M438.6 274.2h0M429.5 259.2h0M440.6 282.4h0M441.5 275.7h0M438.6 270.6h0M435.3 260.6h0M436.6 257.0h0M441.4 272.6h0M435.1 265.2h0M439.6 266.3h0M432.3 256.3h0M441.5 270.8h0M440.7 282.1h0M434.8 268.1h0M441.1 266.7h0M431.7 258.0h0M434.5 267.3h0M434.4 259.6h0M435.2 249.4h0M441.4 263.3h0M438.2 261.0h0M438.5 258.3h0M438.5 266.3h0M436.5 272.9h0M432.0 268.8h0M436.0 261.0h0M437.8 259.4h0M438.0 265.8h0M442.7 269.9h0M434.9 266.9h0M436.6 273.5h0M435.5 279.7h0M438.1 255.8h0M437.4 266.4h0M430.1 262.6h0M437.1 257.0h0M427.9 259.4h0M440.7 263.2h0M441.6 261.1h0M436.5 257.6h0M433.4 275.6h0M440.5 282.4h0M437.7 266.9h0M437.4 257.8h0M437.3 268.3h0M433.9 261.2h0M441.3 262.5h0M437.3 279.8h0M435.7 270.8h0M430.2 255.6h0M432.4 260.4h0M437.5 254.6h0M439.2 273.7h0M442.8 276.2h0M435.1 268.2h0M428.0 259.6h0M431.4 262.8h0M431.2 277.6h0M436.4 279.3h0M432.1 278.4h0M437.0 256.9h0M432.4 263.8h0M439.2 279.0h0M437.3 282.5h0M436.3 259.1h0M441.2 270.0h0M437.9 268.8h0M436.2 259.3h0M430.1 261.9h0M438.4 256.5h0M432.7 273.0h0M437.6 259.8h0M436.3 261.2h0M439.5 258.3h0M437.4 261.9h0M442.6 268.5h0M432.8 258.2h0M438.2 262.6h0M432.3 266.1h0M433.3 262.0h0M435.7 250.5h0M436.0 272.0h0M435.9 280.6h0M442.5 264.0h0M435.8 256.4h0M434.7 272.3h0M432.6 278.5h0M442.2 261.9h0M429.6 258.3h0M433.3 253.9h0M439.7 266.4h0M440.9 282.9h0M432.0 268.9h0M436.9 267.7h0M441.9 276.4h0M431.8 274.1h0M439.2 253.8h0M441.1 265.0h0M438.3 267.6h0M438.4 252.6h0M438.7 276.3h0M436.4 275.1h0M439.5 284.7h0M437.0 261.4h0M428.6 257.9h0M435.6 265.5h0M435.9 273.7h0M442.5 278.8h0M441.4 259.6h0M432.8 267.2h0M436.4 252.6h0M437.8 277.2h0M440.4 271.9h0M434.6 280.6h0M434.4 265.5h0M430.6 255.7h0M440.9 283.7h0M434.1 276.7h0M433.2 269.3h0M435.1 249.6h0M436.0 279.4h0M436.9 263.3h0M432.2 256.2h0M432.8 260.3h0M439.6 272.7h0M440.2 275.8h0M434.1 253.9h0M435.7 259.0h0M430.1 259.1h0M440.9 267.3h0M436.3 262.8h0M436.7 254.3h0M439.1 278.2h0M438.4 256.2h0M433.4 258.1h0M439.0 262.2h0M435.3 250.0h0M434.7 280.1h0M441.6 267.5h0M432.7 261.9h0M436.5 263.1h0M438.9 273.6h0M436.9 280.4h0M434.8 269.2h0M434.1 251.7h0M432.9 278.0h0M436.1 276.1h0M432.5 276.9h0M433.3 262.4h0M436.0 274.8h0M433.5 267.5h0M438.7 283.8h0M438.2 255.3h0M437.7 263.6h0M432.4 255.3h0M434.8 258.8h0M442.9 274.3h0M432.8 273.1h0M431.2 255.2h0M430.7 256.4h0M435.4 265.6h0M438.7 276.2h0M438.3 278.2h0M436.5 254.3h0M436.1 256.0h0M440.7 263.8h0M436.3 282.2h0M442.9 266.0h0M440.3 270.2h0M440.7 273.5h0M434.8 261.2h0M442.4 266.7h0M431.2 256.7h0M432.6 269.0h0M439.8 265.5h0M438.5 262.1h0M430.5 261.1h0M433.7 266.5h0M442.1 274.6h0M437.4 263.0h0M436.2 269.2h0M435.4 263.6h0M439.5 261.2h0M436.0 253.8h0M432.6 266.3h0M439.6 269.8h0M436.0 277.7h0M431.7 256.3h0M437.9 275.4h0M434.4 256.6h0M438.3 269.4h0M435.4 267.1h0M440.7 260.9h0M435.8 266.8h0M432.1 277.0h0M442.3 265.4h0M435.7 262.4h0M438.7 270.2h0M442.7 275.7h0M441.9 271.2h0M435.8 259.6h0M439.0 283.3h0M432.8 262.0h0M438.0 253.5h0M436.2 261.0h0M439.8 278.3h0M433.0 269.4h0M436.8 268.4h0M434.9 274.5h0M438.4 260.1h0M441.2 282.6h0M437.9 253.5h0M431.0 260.1h0M438.9 280.6h0M437.6 267.4h0M438.4 260.9h0M436.3 250.6h0M430.3 258.3h0M431.3 261.0h0M439.7 261.9h0M439.0 266.7h0M437.3 282.0h0M440.4 257.1h0M436.1 260.6h0M439.6 260.1h0M432.9 266.6h0M438.2 263.4h0M441.0 281.5h0M435.1 266.7h0M434.9 280.8h0M442.5 275.3h0M440.7 257.4h0M437.5 275.8h0M428.2 258.7h0M439.9 266.1h0M434.7 256.3h0M430.4 260.3h0M437.5 262.6h0M442.6 278.5h0M433.0 264.7h0M441.2 276.0h0M439.9 256.5h0M437.7 281.2h0M440.6 271.7h0M436.5 254.5h0M428.2 260.6h0M441.9 263.7h0M440.1 282.5h0M438.8 278.5h0M443.2 267.1h0M433.6 271.4h0M437.5 260.8h0M439.4 274.7h0M439.5 282.2h0M436.4 282.4h0M432.3 278.8h0M434.1 275.1h0M428.4 259.6h0M440.6 280.1h0M438.0 281.2h0M435.6 260.7h0M433.2 258.4h0M439.0 254.0h0M435.5 250.4h0M432.0 278.4h0M436.8 266.4h0M436.4 256.3h0M433.0 258.9h0M438.7 256.7h0M430.1 261.7h0M431.5 260.5h0M442.7 271.5h0M434.2 269.8h0M438.5 257.4h0M433.5 256.2h0M436.4 251.0h0M429.5 260.1h0M439.8 264.1h0M438.6 272.0h0M440.3 264.5h0M438.4 256.9h0M438.9 264.1h0M432.0 270.6h0M432.2 271.8h0M434.5 252.0h0M431.7 267.2h0M430.0 258.3h0M438.5 266.8h0M437.3 276.6h0M433.3 258.9h0M434.4 267.3h0M443.4 272.8h0M439.8 280.7h0M438.4 264.7h0M438.3 276.3h0M436.3 249.8h0M433.9 276.8h0M438.9 261.7h0M436.1 276.1h0M442.4 266.4h0M436.0 277.3h0M438.8 256.5h0M433.9 277.5h0M440.9 263.1h0M440.6 270.6h0M432.9 253.8h0M440.4 281.6h0M430.2 262.2h0M441.3 269.6h0M435.2 272.5h0M440.4 262.5h0M442.1 275.1h0M434.1 262.3h0M440.2 267.0h0M441.3 271.4h0M441.0 272.7h0M440.7 281.4h0M434.2 260.0h0M432.4 258.8h0M431.6 259.0h0M440.0 264.6h0M439.4 281.2h0M430.8 260.3h0M433.6 265.9h0M435.0 273.4h0M436.8 255.0h0M432.6 278.7h0M430.9 278.6h0M440.0 268.4h0M439.6 264.8h0M440.2 260.1h0M436.3 261.8h0M434.2 253.0h0M433.6 275.7h0M433.0 275.6h0M431.3 262.7h0M428.1 259.8h0M439.7 270.4h0M438.0 268.7h0M440.6 283.1h0M430.9 278.3h0M437.0 263.0h0M440.0 273.6h0M439.0 276.7h0M432.0 275.6h0M440.2 278.6h0M436.8 265.7h0M440.2 257.4h0M440.7 258.1h0M438.6 271.3h0M432.2 255.2h0M439.5 261.6h0M440.6 276.6h0M437.7 268.1h0M439.8 262.1h0M430.4 258.0h0M438.5 260.5h0M433.5 256.3h0M440.0 277.5h0M440.0 270.7h0M438.8 273.1h0M435.9 249.6h0M437.7 264.3h0M429.1 257.5h0M438.9 280.2h0" stroke="#3a9a70" stroke-width="1.44" stroke-linecap="round"/>
<path d="M407.0 250.9h0M426.3 256.2h0M397.7 261.1h0M402.5 251.3h0M403.2 250.5h0M408.8 247.0h0M412.1 251.9h0M413.5 245.0h0M428.1 245.4h0M425.0 253.4h0M423.1 257.0h0M412.3 254.1h0M421.2 242.6h0M415.9 243.6h0M402.5 281.4h0M405.7 250.3h0M411.7 242.8h0M421.8 254.3h0M413.9 250.2h0M405.0 290.0h0M405.7 280.0h0M429.9 251.7h0M417.1 245.9h0M429.2 244.0h0M424.1 242.7h0M410.7 250.2h0M422.2 252.6h0M418.7 247.0h0M400.7 266.2h0M417.1 241.3h0M409.2 249.9h0M399.7 253.2h0M426.3 258.9h0M400.2 252.2h0M415.0 244.6h0M403.4 258.9h0M409.4 284.8h0M404.2 252.2h0M412.1 257.0h0M410.1 257.1h0M417.7 254.7h0M425.2 251.8h0M415.3 245.6h0M400.7 275.6h0M410.3 258.2h0M405.9 274.1h0M401.1 257.2h0M421.0 243.3h0M418.3 250.4h0M406.0 247.2h0M430.6 245.2h0M423.0 257.2h0M396.3 268.4h0M411.4 251.7h0M419.0 253.4h0M404.5 260.3h0M404.3 249.5h0M423.0 246.3h0M402.0 256.6h0M406.7 252.6h0M429.5 252.8h0M429.1 253.8h0M406.1 280.9h0M406.4 280.6h0M405.1 269.1h0M405.1 282.4h0M402.2 254.1h0M401.6 255.5h0M402.0 287.7h0M425.1 253.6h0M410.6 258.5h0M415.6 242.2h0M399.5 270.4h0M428.5 246.4h0M405.2 249.6h0M410.8 249.8h0M408.3 251.7h0M427.6 258.0h0M400.9 285.9h0M403.4 257.0h0M403.4 288.4h0M404.8 253.8h0M405.1 253.8h0M414.7 255.3h0M411.5 248.0h0M404.3 281.5h0M417.9 246.6h0M403.3 290.4h0M408.7 255.3h0M414.6 253.2h0M405.1 249.5h0M427.3 249.8h0M409.1 255.6h0M430.8 250.4h0M405.4 246.8h0M423.7 250.1h0M422.1 244.4h0M402.6 272.1h0M416.8 246.8h0M429.3 247.6h0M404.7 290.0h0M423.3 241.6h0M397.8 282.0h0M430.5 253.1h0M421.1 245.1h0M416.0 245.8h0M400.5 255.4h0M430.8 253.3h0M426.6 244.2h0M420.1 252.2h0M417.6 248.9h0M403.1 257.6h0M401.5 279.5h0M405.8 255.9h0M407.3 245.5h0M416.3 243.4h0M428.5 253.4h0M429.7 256.0h0M398.6 271.4h0M405.7 249.0h0M402.7 282.3h0M404.9 260.4h0M419.6 251.7h0M401.2 262.4h0M402.7 278.6h0M411.0 257.1h0M420.6 254.2h0M404.1 269.2h0M415.4 241.8h0M414.2 255.1h0M418.8 245.6h0M402.3 258.6h0M409.5 252.9h0M414.3 251.9h0M422.4 250.0h0M407.5 259.7h0M397.9 274.1h0M417.2 245.8h0M410.8 258.5h0M427.7 250.0h0M424.9 251.6h0M409.5 257.2h0M406.5 288.2h0M404.2 249.7h0M426.4 254.0h0M421.2 254.4h0M416.6 256.1h0M416.7 241.3h0M412.7 251.0h0M416.6 253.0h0M402.7 273.0h0M404.9 250.3h0M420.8 247.3h0M429.3 247.5h0M428.4 248.6h0M408.2 260.8h0M416.8 256.0h0M420.6 255.9h0M415.7 252.3h0M428.8 244.5h0M411.2 251.1h0M406.9 245.7h0M414.7 242.0h0M432.2 246.7h0M402.6 282.0h0M416.1 245.8h0M427.5 247.6h0M420.5 254.5h0M404.2 285.6h0M406.8 245.4h0M417.1 247.6h0M432.9 246.4h0M409.8 259.5h0M421.6 246.7h0M429.5 253.9h0M400.5 282.7h0M412.6 256.0h0M413.9 242.1h0M415.0 244.7h0M410.0 254.3h0M398.6 282.6h0M418.1 241.8h0M426.4 255.1h0M397.7 277.0h0M409.0 253.0h0M421.1 251.7h0M413.4 243.6h0M419.9 245.6h0M427.2 244.6h0M408.1 258.5h0M401.8 282.7h0M423.2 241.6h0M400.1 284.3h0M402.1 255.6h0M399.8 254.3h0M408.5 249.9h0M408.6 256.5h0M403.6 258.5h0M425.4 246.3h0M410.7 250.4h0M410.1 253.4h0M425.7 246.1h0M411.6 243.3h0M407.8 253.8h0M411.7 246.6h0M402.8 256.0h0M410.7 257.7h0M430.3 247.6h0M403.4 291.0h0M404.5 254.5h0M402.1 253.4h0M430.5 246.3h0M432.0 252.5h0M410.6 281.6h0M419.9 249.4h0M406.0 245.7h0M430.3 251.6h0M412.3 252.8h0M399.4 256.7h0M427.5 255.2h0M410.5 251.6h0M407.5 279.2h0M399.2 253.7h0M428.2 247.6h0M424.6 256.9h0M407.4 284.3h0M423.4 249.0h0M402.3 250.5h0M418.2 242.8h0M407.8 254.6h0M405.5 267.8h0M420.1 251.5h0M423.6 256.3h0M397.2 261.6h0M422.6 243.0h0M416.9 242.8h0M429.2 247.4h0M428.0 256.0h0M421.7 250.2h0M422.4 256.7h0M414.4 253.6h0M400.4 256.3h0M400.2 274.1h0M401.9 260.0h0M433.1 247.4h0M417.6 247.2h0M418.5 250.9h0M408.6 249.1h0M418.8 254.8h0M404.6 260.1h0M418.9 243.9h0M412.6 255.8h0M422.3 253.7h0M425.3 247.8h0M404.0 285.3h0M409.9 246.6h0M409.7 253.2h0M397.2 262.2h0M420.8 242.4h0M406.5 260.6h0M417.9 250.3h0M412.5 258.1h0M417.8 242.9h0M403.3 257.3h0M413.7 248.5h0M399.2 262.5h0M416.1 246.9h0M424.2 249.0h0M408.5 245.0h0M404.6 267.9h0M407.8 244.6h0M429.6 254.1h0M406.1 280.8h0M434.3 249.7h0M398.9 272.9h0M417.8 254.1h0M420.7 247.9h0M429.2 247.1h0M427.1 253.3h0M425.1 254.4h0M411.5 244.2h0M431.5 246.0h0M403.4 255.8h0M407.2 261.0h0M411.8 255.5h0M420.4 253.1h0M430.3 246.3h0M400.5 282.7h0M406.0 274.8h0M423.0 250.0h0M408.4 244.1h0M429.3 255.8h0M404.4 253.5h0M407.8 285.3h0M427.6 243.9h0M417.5 242.1h0M405.5 246.2h0M405.2 248.4h0M425.5 253.0h0M408.5 262.0h0M426.0 244.8h0M406.0 256.0h0M419.4 248.6h0M420.0 250.6h0M427.2 252.2h0M406.8 251.0h0M423.9 245.5h0M429.8 248.4h0M415.9 243.0h0M417.7 241.1h0M405.0 248.4h0M397.5 281.9h0M407.2 244.9h0M405.2 260.1h0M423.8 251.5h0M409.6 245.7h0M409.7 255.8h0M431.7 248.4h0M417.3 253.4h0M429.1 247.4h0M411.4 254.4h0M404.4 256.4h0M405.9 260.9h0M405.6 250.2h0M410.1 244.3h0M418.2 244.1h0M420.1 247.4h0M407.2 251.0h0M417.0 249.5h0M411.8 257.4h0M404.2 250.5h0M416.0 244.5h0M410.7 247.2h0M429.7 247.4h0M427.3 248.1h0M420.7 244.1h0M423.5 245.9h0M404.9 255.3h0M403.8 264.6h0M404.9 272.5h0M403.5 259.1h0M398.3 255.9h0M419.6 245.8h0M420.3 252.6h0M413.9 243.1h0M397.4 282.6h0M426.4 247.8h0M425.0 247.3h0M409.7 248.0h0M428.2 254.9h0M431.4 249.7h0M417.5 248.6h0M425.9 247.5h0M434.1 247.5h0M414.8 241.6h0M402.8 262.1h0M412.6 252.1h0M407.4 259.5h0M425.1 251.6h0M409.7 249.0h0M414.9 250.7h0M421.7 252.2h0M433.5 248.6h0M415.5 241.5h0M426.7 251.3h0M403.1 259.0h0M422.4 255.2h0M410.5 243.9h0M420.4 246.5h0M429.5 249.1h0M421.9 243.6h0M398.2 269.9h0M424.7 251.8h0M411.8 249.1h0M429.5 249.9h0M428.1 255.4h0M423.1 247.8h0M406.3 245.6h0M420.3 241.4h0M419.8 254.9h0M426.0 246.1h0M400.3 264.1h0M424.8 250.5h0M416.0 245.9h0M408.7 257.1h0M426.6 243.6h0M427.3 254.6h0M394.8 267.2h0M425.4 255.2h0M410.5 250.5h0M426.0 249.1h0M417.4 253.7h0M408.9 261.4h0M417.5 246.8h0M417.4 247.0h0M413.5 254.1h0M428.9 248.9h0M429.8 245.7h0M406.1 252.4h0M428.7 257.0h0M427.9 250.8h0M408.0 246.0h0M432.0 246.2h0M418.8 243.6h0M421.6 255.4h0M406.0 274.3h0M401.6 251.9h0M417.5 247.9h0M417.4 256.0h0M406.9 262.0h0M402.6 254.7h0M429.3 252.3h0M424.5 244.7h0M405.2 267.8h0M397.0 278.1h0M405.5 252.3h0M425.6 253.9h0M412.6 256.8h0M407.8 256.9h0M426.7 252.0h0M416.5 242.8h0M429.5 244.9h0M412.4 253.5h0M426.3 253.4h0M425.1 243.4h0M407.0 248.6h0M414.9 257.0h0M421.1 243.8h0M397.6 270.6h0M395.8 262.5h0M418.2 250.8h0M432.4 251.1h0M426.7 256.5h0M419.8 255.1h0M429.8 246.2h0M427.7 250.3h0M401.2 279.6h0M420.9 250.5h0M423.9 256.5h0M416.1 241.9h0M399.3 261.3h0M395.4 264.1h0M421.0 243.4h0M419.3 245.7h0M401.4 250.2h0M402.2 285.7h0M398.5 272.2h0M423.9 255.6h0M409.6 250.5h0M407.0 246.3h0M433.2 251.3h0M406.5 248.2h0M402.8 278.5h0M407.2 261.1h0M424.3 242.4h0M411.1 249.4h0M405.4 276.4h0M427.5 255.5h0M398.3 269.5h0M405.4 260.8h0M420.3 247.2h0M419.6 249.0h0M413.0 254.5h0M413.6 243.7h0M399.9 252.3h0M410.3 254.5h0M410.2 252.7h0M401.5 260.9h0M406.2 263.5h0M414.7 251.1h0M422.1 254.1h0M402.8 249.0h0M403.2 258.9h0M417.7 249.6h0M427.2 245.5h0M404.7 283.0h0M417.2 242.9h0M411.0 251.3h0M402.4 252.8h0M419.7 248.9h0M414.2 257.3h0M420.8 254.6h0M401.6 270.7h0M399.3 253.3h0M419.0 250.0h0M411.5 253.0h0M422.6 244.5h0M396.9 258.4h0M418.2 249.5h0M398.3 274.5h0M399.4 254.8h0M424.7 247.4h0M418.0 252.8h0M425.2 256.3h0M421.7 256.2h0M402.3 252.6h0M398.7 267.1h0M424.4 254.4h0M427.5 258.1h0M423.4 249.8h0M402.4 278.7h0M402.7 273.0h0M401.2 261.0h0M401.2 255.8h0M428.7 245.0h0M417.5 241.4h0M404.9 252.3h0M422.2 247.9h0M397.3 260.9h0M418.0 250.8h0M397.3 267.3h0M404.8 290.6h0M399.5 281.5h0M424.3 248.7h0M402.6 253.6h0M398.5 266.3h0M400.7 290.0h0M426.3 254.4h0M401.8 280.6h0M410.4 254.2h0M408.7 254.8h0M418.8 250.3h0M418.1 256.4h0M428.4 246.5h0M433.1 249.2h0M402.8 275.6h0M420.3 251.1h0M402.0 252.8h0M413.6 241.9h0M409.3 283.4h0M399.3 277.2h0M397.0 260.9h0M405.3 276.0h0M414.8 247.7h0M406.9 247.3h0M427.8 253.0h0M426.0 243.4h0M396.4 272.3h0M417.6 246.0h0M409.7 244.4h0M399.5 275.0h0M406.2 260.8h0M404.6 255.7h0M417.2 252.9h0M428.2 249.5h0M398.3 259.1h0M419.4 248.3h0M409.6 252.2h0M408.2 250.9h0M403.1 251.5h0M423.8 254.7h0M407.6 258.1h0M411.8 256.9h0M430.7 244.7h0M426.5 245.1h0M400.4 283.5h0M426.1 244.5h0M421.3 243.9h0M407.5 246.8h0M412.7 256.3h0M405.7 246.7h0M418.0 248.3h0M417.8 246.2h0M418.6 250.5h0M425.5 242.1h0M417.0 253.5h0M426.9 251.5h0M422.1 241.5h0M423.0 251.4h0M416.0 246.3h0M422.2 247.8h0M405.7 255.6h0M419.3 256.0h0M409.8 257.7h0M400.5 283.7h0M404.3 252.6h0M410.5 250.6h0M404.8 260.5h0M429.1 245.2h0M425.5 255.4h0M427.3 245.6h0M428.8 253.2h0M407.3 263.3h0M410.1 258.8h0M420.1 251.0h0M399.8 256.4h0M418.6 249.8h0M412.6 244.1h0M425.5 245.9h0M420.7 242.7h0M421.4 253.7h0M420.7 245.3h0M409.1 250.4h0M395.5 267.3h0M433.8 249.4h0M401.2 289.9h0M425.7 258.0h0M412.6 253.2h0M402.2 258.3h0M411.1 250.2h0M404.4 247.5h0M426.1 243.5h0M402.8 255.7h0M430.6 248.2h0M413.9 253.8h0M405.8 255.3h0M418.3 254.6h0M421.6 246.1h0M411.4 243.3h0M396.6 275.9h0M434.3 249.9h0M431.6 250.4h0M427.6 247.4h0M419.1 254.2h0M413.1 253.7h0M415.3 256.4h0M424.9 251.8h0M397.2 280.5h0M424.8 243.6h0M408.7 246.5h0M414.8 248.2h0M420.7 244.4h0M407.9 248.3h0M420.3 243.0h0M425.6 250.0h0M407.5 258.5h0M409.3 281.6h0M422.6 242.5h0M415.7 252.6h0M429.9 251.5h0M410.8 247.0h0M407.8 247.2h0M420.2 244.3h0M405.9 256.1h0M405.2 250.7h0M415.9 252.7h0M411.5 256.7h0M424.3 256.4h0M404.9 290.2h0M411.5 250.3h0M408.0 256.2h0M420.0 252.4h0M414.2 244.7h0M426.9 248.0h0M431.9 252.6h0M405.6 275.3h0M419.6 244.6h0M419.5 247.2h0M408.9 260.9h0M409.6 257.4h0M430.4 248.3h0M407.3 247.4h0M424.3 248.5h0M407.0 250.5h0M414.3 251.7h0M416.2 249.7h0M413.7 252.9h0M428.4 249.8h0M423.5 253.1h0M404.8 282.4h0M414.2 244.3h0M397.8 278.0h0M405.1 247.0h0M417.3 250.5h0M419.9 246.3h0M412.2 254.6h0M429.9 245.9h0M416.6 255.3h0M428.7 244.8h0M408.8 255.1h0M404.4 256.9h0M403.1 249.6h0M400.3 253.5h0M429.6 253.7h0M421.0 253.4h0M427.8 255.1h0M431.0 249.9h0M406.7 247.8h0M405.3 257.2h0M404.9 253.1h0M407.0 252.7h0M405.1 255.9h0M402.0 276.4h0M420.5 242.2h0M399.6 256.7h0M420.8 242.8h0M429.6 250.6h0M429.0 254.5h0M411.2 245.1h0M404.8 278.0h0M421.0 256.4h0M402.6 286.3h0M401.1 255.2h0M416.5 246.0h0M418.7 248.9h0M407.4 261.5h0M425.9 251.0h0M418.1 246.7h0M396.3 279.5h0M397.4 267.0h0M417.7 241.7h0M419.4 251.1h0M400.3 258.9h0M433.5 249.8h0M413.5 244.0h0M412.3 245.1h0M424.0 253.7h0M418.3 252.3h0M422.8 249.3h0M397.5 273.8h0M429.5 251.6h0M412.6 251.7h0M422.3 252.1h0M404.0 261.4h0M421.3 255.2h0M396.3 266.9h0M417.3 244.4h0M407.6 286.4h0M417.5 244.9h0M420.4 244.5h0M405.7 260.4h0M401.2 250.9h0M404.6 272.9h0M401.8 278.5h0M414.3 242.0h0M430.4 255.2h0M422.5 249.8h0M420.8 254.4h0M424.8 249.3h0M406.9 257.8h0M402.7 268.7h0M419.7 249.1h0M427.5 246.2h0M404.7 288.7h0M435.2 248.9h0M404.6 260.4h0M417.6 256.2h0M422.4 250.7h0M426.1 248.0h0M411.7 244.1h0M425.5 244.5h0M406.1 260.7h0M406.0 250.5h0M401.0 278.9h0M403.0 271.0h0M422.5 244.4h0M432.8 250.5h0M405.3 249.0h0M414.9 256.7h0M408.6 251.7h0M402.4 262.8h0M433.5 248.2h0M423.5 243.8h0M434.3 249.6h0M406.1 254.1h0M400.1 280.5h0M410.7 248.5h0M408.5 257.3h0M417.9 244.7h0M412.2 242.8h0M423.3 244.0h0M403.7 256.9h0M403.3 256.2h0M418.1 243.5h0M419.7 254.5h0M418.2 253.3h0M432.0 250.5h0M397.8 280.9h0M410.2 245.5h0M398.5 254.7h0M421.8 255.5h0M398.8 262.4h0M431.2 245.8h0M405.9 258.8h0M405.2 248.4h0M413.0 243.1h0M408.8 261.0h0M396.0 268.2h0M418.4 244.4h0M400.5 251.5h0M409.8 283.5h0M409.0 256.8h0M395.9 268.4h0M413.8 253.0h0M424.1 245.6h0M428.2 246.9h0M398.4 256.8h0M422.5 245.9h0M403.1 259.2h0M409.0 246.5h0M412.8 246.0h0M410.8 258.0h0M408.3 283.9h0M403.9 277.5h0M432.0 246.2h0M407.4 245.0h0M407.8 247.1h0M403.2 255.3h0M397.8 261.0h0M399.0 286.6h0M412.1 246.7h0M401.6 258.4h0M407.7 253.3h0M423.7 251.3h0M411.0 249.8h0M407.8 279.5h0M428.0 244.8h0M397.3 267.6h0M397.7 270.3h0M405.9 250.7h0M429.4 252.1h0M416.2 246.9h0M409.9 254.6h0M419.4 251.3h0M417.5 251.6h0M426.9 255.8h0M411.1 249.4h0" stroke="#3a8a3a" stroke-width="1.44" stroke-linecap="round"/>
<path d="M409.7 275.8h0M417.7 271.2h0M414.9 270.7h0M415.6 271.0h0M411.0 271.3h0M426.0 271.4h0M414.4 274.6h0M415.2 264.0h0M414.6 266.2h0M424.0 261.8h0M420.8 275.6h0M426.5 261.3h0M425.1 271.0h0M426.5 260.0h0M427.6 274.6h0M428.7 265.7h0M422.9 295.3h0M413.8 281.8h0M428.2 276.7h0M417.2 265.7h0M430.4 266.7h0M421.0 288.6h0M416.0 284.1h0M416.0 268.2h0M428.6 274.5h0M425.1 261.3h0M407.0 275.3h0M410.4 273.3h0M415.3 270.1h0M427.3 284.4h0M430.9 272.9h0M413.4 270.4h0M421.4 273.0h0M425.6 270.0h0M422.2 261.5h0M421.2 287.8h0M430.3 283.0h0M419.2 290.0h0M425.4 273.4h0M411.2 278.1h0M427.6 260.3h0M419.6 293.0h0M410.1 263.7h0M407.4 266.6h0M421.0 272.2h0M409.1 273.4h0M419.2 284.3h0M409.1 292.4h0M416.2 270.2h0M414.6 284.7h0M414.1 265.9h0M410.7 273.3h0M422.6 268.8h0M413.2 292.3h0M418.9 292.8h0M429.2 285.9h0M410.0 266.6h0M415.7 280.3h0M425.5 264.5h0M433.4 281.2h0M413.3 279.2h0M428.0 276.1h0M426.3 262.1h0M417.4 295.0h0M414.6 273.7h0M426.9 274.3h0M418.2 290.7h0M421.5 258.9h0M411.7 278.7h0M411.1 270.3h0M410.5 271.9h0M406.7 269.0h0M420.2 274.3h0M422.2 262.2h0M413.1 274.0h0M425.6 292.6h0M420.2 262.8h0M418.0 259.3h0M420.1 279.6h0M406.3 271.5h0M422.8 264.6h0M416.4 278.1h0M426.6 269.6h0M424.3 259.7h0M419.6 276.1h0M411.2 268.3h0M408.7 274.7h0M419.3 275.1h0M406.8 265.6h0M413.1 282.2h0M418.9 263.7h0M426.6 261.4h0M410.8 264.0h0M424.9 269.6h0M431.1 267.5h0M426.9 272.1h0M429.9 286.6h0M412.5 262.2h0M413.0 290.5h0M410.4 268.2h0M412.2 283.1h0M417.6 263.2h0M425.8 267.0h0M426.2 268.0h0M410.3 263.0h0M431.0 291.0h0M429.1 274.0h0M415.3 276.1h0M420.8 266.3h0M426.8 263.7h0M409.1 275.3h0M413.5 266.2h0M425.1 260.0h0M420.9 287.7h0M424.0 260.1h0M435.3 284.7h0M411.3 266.1h0M420.7 269.2h0M426.9 264.9h0M421.3 271.8h0M415.1 271.9h0M423.7 264.3h0M421.2 263.5h0M429.3 280.5h0M417.2 283.9h0M426.3 273.6h0" stroke="#7cc070" stroke-width="1.44" stroke-linecap="round"/>
<path d="M418.1 274.9h0M420.7 275.2h0M419.8 285.0h0M427.3 292.3h0M429.2 285.3h0M417.4 295.2h0M413.4 280.9h0M423.7 293.9h0M430.8 281.6h0M416.5 282.7h0M409.8 290.9h0M416.1 288.3h0M427.7 293.0h0M411.3 288.9h0M424.5 289.2h0M413.2 280.3h0M424.3 294.5h0M432.2 285.9h0M412.7 294.3h0M415.2 277.7h0M412.4 292.1h0M428.9 286.8h0M427.7 289.3h0M412.8 287.1h0M418.0 277.5h0M429.1 289.5h0M425.9 288.4h0M406.7 291.1h0M422.8 277.7h0M416.5 291.1h0M419.0 292.4h0M421.7 295.6h0M413.2 279.5h0M422.2 278.1h0M420.5 286.4h0M420.2 287.7h0M409.0 292.5h0M428.2 287.2h0M422.8 288.8h0M414.0 282.5h0M429.3 285.7h0M426.3 290.4h0M425.4 292.4h0M429.9 287.1h0M422.9 287.9h0M413.6 289.8h0M421.3 276.3h0M416.6 289.5h0M435.4 286.2h0M416.6 280.4h0M421.2 286.2h0M423.5 286.7h0M420.3 287.3h0M411.3 283.0h0M422.9 274.1h0M422.5 295.2h0M429.0 283.5h0M420.9 292.5h0M420.9 272.6h0M408.7 289.4h0M422.6 273.7h0M431.6 289.1h0" stroke="#f0e0a0" stroke-width="1.44" stroke-linecap="round"/>
<path d="M395.2 301.3h0M399.2 301.7h0M401.2 301.0h0M400.4 301.6h0M406.9 300.0h0M405.0 302.2h0M399.6 301.6h0M403.2 301.0h0M397.1 302.8h0M405.9 299.7h0M403.8 300.0h0M394.3 301.0h0M409.8 300.5h0M406.2 300.7h0M401.9 301.8h0M396.0 302.6h0M398.4 301.2h0M409.9 299.7h0M398.7 302.3h0M407.0 298.6h0M399.8 303.0h0M403.1 300.0h0M407.5 301.0h0M400.4 300.3h0M406.9 301.6h0M395.9 301.4h0M396.1 301.5h0M403.4 302.7h0M394.3 301.0h0M406.8 300.9h0M396.1 302.6h0M411.0 298.4h0M411.2 299.3h0M404.9 302.3h0M401.6 299.4h0M400.3 301.8h0M396.4 302.1h0M395.1 300.8h0M410.5 301.0h0M402.6 300.4h0M410.7 300.8h0M399.3 300.0h0M400.8 301.0h0M396.0 302.5h0M395.1 301.4h0M398.2 302.2h0M405.8 300.9h0M400.1 300.3h0M396.1 300.9h0M406.7 300.4h0M405.1 300.1h0M410.9 300.5h0M401.9 302.0h0M400.5 301.4h0M407.1 301.3h0M403.3 299.3h0M394.9 300.5h0M408.2 301.5h0M394.7 300.6h0M399.3 301.2h0M408.8 298.9h0M402.8 302.4h0M398.8 301.2h0M398.7 302.7h0M401.2 301.4h0M402.2 301.5h0M408.4 300.5h0M406.8 300.7h0M407.0 301.4h0M403.5 301.0h0" stroke="#ecc850" stroke-width="1.44" stroke-linecap="round"/>
<path d="M341.3 277.6h0M341.1 277.4h0M340.5 278.1h0M341.3 278.9h0M341.3 277.6h0" stroke="#203060" stroke-width="1.44" stroke-linecap="round"/>
<path d="M379.2 331.7h0M383.8 333.3h0M387.9 335.7h0M373.6 326.0h0M388.3 334.8h0M378.6 329.3h0M374.5 327.9h0M382.0 335.1h0M386.1 335.5h0M385.2 334.1h0M386.5 335.9h0M377.9 333.8h0M378.2 331.7h0M377.1 330.6h0M374.6 328.0h0M385.6 334.4h0M387.5 336.0h0M373.9 327.4h0M383.7 330.8h0M376.7 326.7h0M385.0 333.1h0M379.7 330.0h0M378.3 327.8h0M385.1 335.5h0M382.0 333.0h0M383.0 334.4h0M379.6 333.4h0M375.5 330.0h0M383.4 335.9h0M377.6 330.0h0M382.0 333.1h0M379.2 333.5h0M383.9 333.4h0M377.2 330.9h0M377.0 328.3h0M381.2 331.0h0M387.3 334.8h0M373.7 329.6h0M373.3 329.9h0M374.1 328.6h0M373.3 325.5h0M386.1 334.7h0M380.2 335.4h0M381.0 332.8h0M377.6 329.6h0M385.6 335.5h0M376.1 330.7h0M381.5 330.3h0M380.0 335.0h0M378.0 329.0h0M378.4 329.2h0M384.2 335.3h0M381.4 333.3h0M383.0 333.4h0M374.4 328.1h0M382.8 332.6h0M380.4 330.0h0M386.0 335.9h0M382.7 331.5h0M385.3 333.1h0M386.2 335.8h0M376.4 329.1h0M379.7 332.5h0M383.8 335.4h0M377.5 329.3h0M377.2 333.3h0M376.7 332.4h0M388.2 335.5h0M377.1 328.3h0M375.9 327.9h0M385.7 336.0h0M378.5 331.8h0M372.4 328.2h0M381.5 330.2h0M380.7 330.6h0M386.4 335.9h0M377.3 329.9h0M375.7 329.5h0M384.0 332.8h0M371.6 328.0h0M385.3 334.3h0M376.4 329.3h0M380.8 331.2h0M374.8 328.1h0M382.6 332.3h0M376.1 330.1h0M372.4 328.0h0M384.2 333.5h0M374.9 329.4h0M375.0 328.9h0M379.5 329.3h0M377.6 331.3h0M374.9 328.0h0M386.0 334.9h0M382.6 334.0h0M375.9 330.0h0M374.8 328.3h0M379.9 329.9h0M371.9 327.2h0M382.4 333.4h0M382.8 331.7h0M385.9 333.0h0M382.9 331.1h0M379.0 331.9h0M381.7 330.4h0M373.9 326.5h0M377.0 329.5h0M379.9 331.0h0M385.8 338.0h0M380.8 333.1h0" stroke="#a890d0" stroke-width="1.44" stroke-linecap="round"/>
<path d="M390.3 314.0h0M388.6 316.9h0M389.8 315.2h0M390.7 313.0h0M389.6 314.5h0M388.5 316.8h0M388.6 316.9h0M387.6 317.7h0M390.4 314.0h0M388.5 317.3h0" stroke="#404060" stroke-width="1.44" stroke-linecap="round"/>
<path d="M397.8 337.3h0M390.8 339.3h0M402.9 337.6h0M392.2 337.6h0M404.5 335.0h0M392.7 339.6h0M400.8 336.5h0M397.7 335.5h0M397.6 333.4h0M393.6 334.4h0M401.5 338.1h0M391.1 338.4h0M397.4 340.0h0M404.1 337.6h0M390.6 335.3h0M390.9 334.1h0M396.2 336.4h0M402.9 340.4h0M398.1 338.3h0M400.7 339.7h0M403.1 340.5h0M393.3 337.9h0M402.0 340.5h0M401.8 337.8h0M393.6 337.8h0M396.3 333.9h0M392.9 333.3h0M392.3 335.9h0M396.7 338.6h0M395.4 340.2h0M404.0 339.0h0M398.3 339.3h0M402.3 333.6h0M403.5 334.5h0M394.5 337.5h0M400.6 337.0h0M403.7 334.8h0M395.5 337.2h0M400.9 339.5h0M404.5 337.0h0M395.6 340.1h0M400.2 340.0h0M392.4 338.1h0M395.2 339.4h0M398.0 340.4h0M404.1 340.2h0M400.2 335.1h0M399.2 333.3h0M407.0 337.6h0M391.5 339.0h0M400.7 340.8h0M400.0 338.2h0M393.3 339.2h0M389.9 334.2h0M393.0 338.7h0M392.0 335.9h0M397.4 334.7h0M395.6 333.1h0M388.2 337.3h0M407.4 336.5h0M404.9 336.0h0M394.4 339.2h0M388.2 335.9h0M397.7 338.0h0M399.7 340.0h0M395.3 338.5h0M401.2 334.3h0M393.7 339.1h0M401.8 340.6h0M405.8 338.5h0M398.3 339.4h0M406.3 335.1h0M404.1 334.8h0M393.1 334.0h0M398.4 338.4h0M394.9 334.0h0M389.3 336.1h0M396.4 333.1h0M401.5 340.8h0M389.2 338.6h0M396.9 336.5h0M401.2 338.7h0M396.9 339.5h0M395.4 333.0h0M396.6 339.1h0M400.6 340.8h0M403.9 336.3h0M393.4 336.0h0M402.1 340.1h0M394.9 339.0h0M390.6 338.0h0M402.4 338.7h0M399.8 337.1h0M391.8 335.7h0M390.5 337.4h0M390.6 340.1h0M402.4 340.3h0M400.3 334.8h0M394.0 334.5h0M399.7 336.8h0M398.6 335.4h0M395.5 333.9h0M404.9 336.2h0M399.0 339.1h0M403.7 337.1h0M405.1 334.9h0M401.2 339.1h0M390.4 336.3h0M405.1 336.0h0M394.2 333.1h0M399.5 333.6h0M397.9 334.5h0M391.2 336.1h0M393.6 338.6h0M403.9 338.6h0M392.3 339.6h0M396.5 336.8h0M390.9 339.1h0M401.2 335.0h0M406.3 335.8h0M396.9 336.3h0M390.5 336.4h0M404.0 338.0h0M393.9 335.4h0M394.6 333.7h0M391.6 337.8h0M405.4 334.5h0M393.6 334.4h0M405.1 338.3h0M393.1 336.4h0M397.8 335.4h0M395.0 333.9h0M395.0 335.5h0M404.9 338.8h0M405.6 338.5h0M395.3 335.5h0M407.4 336.6h0M399.6 340.4h0M399.3 334.5h0M390.2 339.6h0M393.7 333.6h0M403.5 339.0h0M400.2 337.8h0M391.7 339.6h0M394.0 338.2h0M392.1 334.0h0M399.2 338.9h0M399.3 336.8h0M392.0 336.5h0M396.3 340.1h0M398.4 333.0h0M403.4 334.0h0M397.1 336.9h0M403.3 333.8h0M405.0 335.8h0M397.2 339.2h0M396.2 334.2h0M390.0 339.9h0M393.9 339.9h0M400.8 335.9h0M396.1 336.4h0M389.0 336.6h0M397.7 339.4h0M390.8 335.5h0M405.3 338.7h0M389.3 337.9h0M405.7 335.9h0M390.8 337.8h0M387.4 335.9h0M403.2 337.0h0M388.2 335.6h0M404.5 337.0h0M395.2 336.4h0M401.1 336.0h0M391.3 337.2h0M393.9 338.4h0M395.4 340.3h0M406.6 335.1h0M391.6 337.3h0M402.2 337.5h0M397.0 334.3h0M404.2 336.4h0M390.0 336.4h0M402.4 339.3h0M399.5 340.2h0M401.4 337.8h0M398.0 340.3h0M400.1 335.5h0M394.0 340.8h0M401.1 338.5h0" stroke="#a8d060" stroke-width="1.44" stroke-linecap="round"/>
<path d="M386.0 364.1h0M386.9 364.4h0M380.7 355.5h0M381.9 356.1h0M382.3 359.4h0M389.3 364.3h0M384.9 361.2h0M388.9 364.0h0M382.8 358.5h0M382.8 356.3h0M382.3 355.8h0M383.2 355.8h0M382.5 357.7h0M384.7 363.3h0M386.8 362.6h0M381.9 356.1h0M387.3 365.7h0M384.6 358.2h0M390.2 364.8h0M385.6 361.4h0M385.4 359.2h0M384.1 359.0h0M381.7 354.7h0M388.8 364.9h0M382.2 355.5h0M382.7 356.0h0M382.1 355.7h0M386.1 363.0h0M381.5 356.0h0M380.8 356.0h0M381.9 356.3h0M384.6 359.7h0M385.9 361.4h0M384.9 360.2h0M385.7 360.9h0M388.5 365.4h0M383.2 355.9h0M385.7 360.5h0M385.6 361.4h0M385.4 362.2h0M383.1 359.0h0M383.2 357.1h0M386.7 364.6h0M388.2 364.4h0M380.9 355.3h0M384.2 361.3h0M381.6 355.5h0M382.7 356.4h0M384.4 359.6h0M381.3 354.9h0M382.0 354.9h0M385.6 359.9h0M387.3 363.0h0M383.9 357.6h0M387.4 363.9h0" stroke="#a0c8e8" stroke-width="1.44" stroke-linecap="round"/>
<path d="M390.8 372.5h0M390.5 372.0h0M393.1 374.5h0M389.6 370.5h0M388.4 369.4h0M389.6 370.0h0M394.2 373.7h0M389.1 369.3h0M387.7 368.9h0M391.6 373.0h0M393.7 373.6h0M387.8 367.9h0M391.8 370.5h0M392.9 372.5h0M392.7 372.3h0M390.6 371.4h0M391.4 370.5h0M391.0 369.7h0M394.0 374.3h0M394.2 372.8h0M391.9 370.7h0M388.8 368.5h0M391.0 369.1h0M393.5 373.4h0M387.1 368.7h0M394.5 372.5h0M394.2 374.9h0M393.1 374.3h0M390.1 369.8h0M387.7 367.4h0M388.1 369.4h0M392.7 372.7h0M388.9 369.4h0M393.9 374.4h0M394.9 373.4h0M387.6 367.8h0M394.7 373.1h0M394.2 373.2h0M393.8 373.4h0M388.7 367.9h0M392.0 373.2h0M391.6 371.3h0M390.1 370.4h0M390.3 369.2h0M391.4 370.0h0M388.2 368.2h0M389.0 369.6h0M388.8 371.5h0M389.5 367.5h0M393.0 371.9h0M394.7 374.0h0M388.8 367.6h0M390.4 371.6h0M390.4 370.6h0M391.8 371.6h0" stroke="#901818" stroke-width="1.44" stroke-linecap="round"/>
<path d="M320.3 345.7h0M329.2 342.7h0M332.6 344.4h0M341.5 346.7h0M316.5 344.4h0M331.4 349.2h0M321.4 343.8h0M330.8 340.9h0M341.1 345.9h0M333.5 347.5h0M329.3 348.2h0M343.2 345.1h0M337.3 346.4h0M320.9 344.2h0M317.4 342.9h0M325.5 346.4h0M328.7 342.4h0M331.3 343.6h0M328.4 349.3h0M338.3 344.7h0M330.1 349.2h0M329.5 348.4h0M337.9 345.1h0M319.8 345.2h0M335.1 345.8h0M323.4 340.9h0M315.2 345.8h0M324.7 348.9h0M342.7 346.4h0M326.6 349.4h0M338.1 346.3h0M322.7 344.1h0M341.3 345.3h0M334.0 346.5h0M328.4 347.9h0M330.5 349.9h0M326.6 345.2h0M318.8 342.0h0M320.0 345.4h0M317.4 343.7h0M327.7 348.1h0M323.0 342.4h0M323.1 348.0h0M324.0 341.8h0M339.7 346.6h0M319.1 344.9h0M322.3 349.8h0M325.0 346.1h0M328.3 345.6h0M329.9 348.5h0M323.5 340.8h0M326.1 348.3h0M319.7 348.8h0M323.7 341.2h0M323.9 341.7h0M328.5 344.2h0M340.7 347.7h0M330.8 342.4h0M319.9 342.2h0M331.2 345.0h0M327.4 349.2h0M313.8 343.2h0M330.9 342.8h0M317.3 349.2h0M323.7 341.7h0M325.5 343.7h0M337.5 346.5h0M322.6 346.9h0M325.6 344.9h0M322.1 348.2h0M324.7 343.2h0M340.9 346.3h0M320.0 348.8h0M326.6 347.9h0M314.5 343.3h0M314.2 346.2h0M322.8 343.7h0M325.9 341.9h0M336.6 348.2h0M314.0 343.3h0M335.4 347.1h0M313.9 344.5h0M321.6 346.5h0M320.8 349.7h0M323.0 348.7h0M318.2 344.5h0M330.2 346.5h0M326.0 347.8h0M341.8 343.6h0M329.9 345.5h0M342.6 344.1h0M321.8 348.6h0M330.6 346.6h0M314.1 346.3h0M339.5 348.4h0M324.8 342.0h0M333.6 340.9h0M329.5 341.8h0M324.2 347.7h0M335.8 342.3h0M333.6 349.7h0M325.2 346.6h0M326.9 340.8h0M325.3 345.7h0M323.9 341.5h0M333.7 350.1h0M339.4 343.2h0M327.8 347.7h0M318.8 349.0h0M341.9 345.6h0M323.4 342.5h0M342.3 346.4h0M338.4 342.0h0M313.0 347.1h0M337.1 346.8h0M313.2 345.5h0M340.7 346.4h0M319.0 349.2h0M327.8 346.8h0M316.6 346.0h0M333.9 342.9h0M330.3 344.4h0M338.0 349.3h0M332.6 345.0h0M324.8 343.0h0M336.0 343.9h0M324.5 342.8h0M320.2 343.7h0M325.2 343.3h0M315.3 345.8h0M326.7 341.1h0M337.8 342.3h0M341.2 343.2h0M331.0 342.7h0M321.4 342.6h0M341.7 344.3h0M314.5 346.0h0M331.6 349.2h0M324.9 348.2h0M321.6 348.2h0M325.6 342.0h0M330.5 346.5h0M326.7 346.9h0M338.9 344.6h0M339.4 348.1h0M322.2 344.3h0M325.0 348.3h0M338.0 341.9h0M342.9 346.4h0M341.2 344.0h0M337.3 346.1h0M324.4 342.9h0M334.2 341.8h0M330.7 344.9h0M326.7 348.1h0M328.0 343.3h0M333.6 345.6h0M321.5 348.2h0M333.8 341.8h0M334.0 348.3h0M325.3 346.6h0M313.7 347.6h0M314.1 347.1h0M330.2 347.0h0M318.0 348.7h0M328.9 348.9h0M338.6 347.2h0M325.1 345.2h0M331.4 348.2h0M338.1 348.8h0M325.1 342.6h0M339.7 343.4h0M315.8 343.2h0M341.9 345.9h0M325.5 349.3h0M339.8 344.6h0M328.1 343.9h0M330.5 341.3h0M319.2 343.8h0M339.2 347.7h0M327.9 344.6h0M336.8 344.7h0M332.3 350.1h0M337.4 346.2h0M335.1 347.6h0M323.3 341.1h0M332.7 349.9h0M335.0 342.9h0M318.6 345.9h0M323.4 343.8h0M331.1 340.8h0M314.2 346.1h0M334.1 347.4h0M318.5 348.3h0M334.3 345.7h0M331.0 345.4h0M323.0 342.7h0M325.4 347.6h0M331.7 342.3h0M313.7 344.9h0M328.4 349.7h0M316.2 348.4h0M323.0 344.8h0M329.2 347.8h0M330.0 342.1h0M331.9 350.1h0M329.4 344.2h0M318.2 343.7h0M323.2 346.0h0M330.2 343.6h0M327.2 345.0h0M322.1 342.1h0M331.4 349.9h0M326.7 349.2h0M317.6 345.4h0M326.1 344.1h0M313.7 347.6h0M329.8 345.8h0M319.3 341.9h0M332.5 341.9h0M330.1 345.7h0M332.8 345.9h0M315.5 347.6h0M316.0 345.0h0M341.1 347.4h0M321.1 346.7h0M319.2 345.9h0M337.0 341.9h0M330.9 348.0h0M320.2 349.8h0M318.1 348.0h0M334.3 344.3h0M324.6 343.2h0M319.0 342.1h0M324.1 341.6h0M331.3 349.7h0M324.2 343.6h0M324.2 341.9h0M324.7 346.0h0M333.6 343.3h0M331.1 349.8h0M337.6 341.7h0M320.4 346.9h0M338.0 342.9h0M312.9 346.2h0M336.1 344.0h0M343.6 345.6h0M318.8 347.1h0M322.5 343.3h0M327.0 348.8h0M332.5 348.5h0M334.0 343.1h0M319.5 342.8h0M332.0 344.5h0M328.6 343.0h0M316.9 343.6h0M316.5 345.5h0M330.5 345.9h0M340.6 347.4h0M314.0 343.5h0M339.6 344.4h0M329.6 346.5h0M324.7 345.8h0M321.4 346.6h0M332.4 349.4h0M330.5 350.2h0M324.0 348.2h0M332.2 350.1h0M326.9 343.1h0M322.6 344.0h0M333.7 346.8h0M335.9 345.6h0M325.9 348.5h0M342.2 343.4h0M325.0 348.5h0M333.9 348.8h0M325.1 349.6h0M328.1 348.4h0M333.9 343.9h0M330.3 348.7h0M331.9 343.7h0M338.7 343.4h0M330.6 349.6h0M335.2 347.4h0M337.8 343.8h0M333.9 348.3h0M337.6 349.1h0M326.5 348.3h0M321.4 345.1h0M342.1 346.9h0M326.2 341.7h0M330.4 348.3h0M321.1 344.6h0M338.5 343.5h0M313.6 346.8h0M326.4 342.5h0M321.7 345.1h0M336.5 348.3h0M319.6 349.6h0M324.1 345.6h0M329.8 347.1h0M328.5 341.0h0M315.3 343.7h0M320.5 343.4h0M314.4 347.9h0M318.9 344.5h0M321.8 343.1h0M317.3 348.2h0M326.1 350.1h0M320.2 342.1h0M322.2 343.7h0M326.1 345.8h0M321.0 342.8h0M319.5 349.5h0M336.2 346.9h0M328.4 347.0h0M339.6 344.0h0M339.8 344.7h0M341.1 347.9h0M325.2 346.2h0" stroke="#5080c0" stroke-width="1.44" stroke-linecap="round"/>
<path d="M324.5 355.9h0M320.4 355.0h0M317.7 355.0h0M323.4 353.5h0M331.3 356.1h0M322.5 354.6h0M321.7 360.0h0M324.4 353.8h0M323.9 354.2h0M324.8 358.2h0M322.5 354.8h0M329.2 359.5h0M330.7 354.2h0M324.4 358.2h0M331.7 356.7h0M326.9 356.7h0M319.3 359.9h0M315.8 359.3h0M323.5 353.0h0M326.0 352.6h0M321.8 354.3h0M317.3 353.3h0M320.3 355.3h0M325.6 360.7h0M318.7 357.9h0M324.4 357.6h0M317.4 355.2h0M321.3 353.4h0M312.8 357.2h0M312.1 356.1h0M318.0 352.4h0M317.2 356.7h0M319.5 356.9h0M315.2 354.9h0M325.4 359.4h0M312.3 356.6h0M316.5 360.2h0M318.7 355.9h0M317.6 357.1h0M317.7 353.3h0M323.7 359.3h0M330.1 354.1h0M321.1 357.7h0M326.2 352.4h0M318.7 357.3h0M322.9 360.2h0M330.7 355.1h0M324.7 360.8h0M327.8 353.2h0M330.3 358.6h0M319.7 351.4h0M331.3 356.3h0M314.3 356.1h0M323.1 351.8h0M326.1 357.0h0M325.1 351.2h0M318.9 351.9h0M312.9 355.9h0M331.7 356.2h0M324.2 358.4h0M323.3 355.1h0M331.1 354.8h0M321.6 352.5h0M313.8 358.4h0M323.9 359.5h0M317.8 358.4h0M319.8 355.9h0M318.0 355.2h0M319.8 358.5h0M314.9 352.8h0M320.0 352.7h0M318.2 358.6h0M324.2 358.6h0M322.6 357.5h0M319.0 358.7h0M330.3 355.3h0M330.4 356.2h0M324.7 355.3h0M314.1 355.9h0M323.9 352.3h0M313.8 357.9h0M319.8 359.8h0M329.3 356.7h0M314.8 354.5h0M330.2 358.6h0M328.7 359.5h0M317.0 354.9h0M330.4 355.2h0M331.7 357.0h0M332.7 355.0h0M324.5 353.6h0M320.2 360.4h0M326.1 356.1h0M316.0 357.8h0M328.9 360.5h0M320.0 358.1h0M314.3 358.5h0M332.3 358.3h0M327.1 358.7h0M326.1 361.5h0M320.3 356.0h0M318.5 356.0h0M322.8 357.8h0M318.8 355.9h0M321.6 360.8h0M328.0 359.9h0M316.2 359.6h0M323.0 361.6h0M330.4 354.2h0M323.6 356.3h0M323.3 353.3h0M320.9 359.8h0M312.8 356.8h0M329.5 358.2h0M316.4 359.9h0M314.7 355.5h0M327.3 359.6h0M319.3 352.2h0M327.1 351.6h0M330.3 357.0h0M321.7 353.8h0M319.0 352.7h0M325.1 353.7h0M317.3 354.8h0M326.9 352.6h0M319.4 357.4h0M317.9 356.9h0M316.4 353.9h0M324.3 352.5h0M327.3 352.8h0M317.9 357.5h0M325.7 357.8h0M330.5 357.3h0M319.0 360.9h0M327.8 357.3h0M312.4 357.5h0M313.2 357.6h0M327.5 356.1h0M321.3 357.2h0M313.3 354.4h0M327.0 352.2h0M314.7 356.8h0M323.1 358.9h0M317.6 358.9h0M316.1 357.6h0M333.5 356.4h0M325.0 354.8h0M315.7 358.8h0M320.8 357.8h0M323.3 352.6h0M324.8 357.0h0M322.8 362.0h0M327.3 359.6h0M322.0 353.2h0M319.8 352.1h0M322.9 358.3h0M320.6 354.9h0M318.2 352.0h0M326.7 353.4h0M324.6 354.9h0M330.1 356.6h0M317.6 357.1h0M315.7 358.1h0M320.1 355.1h0M331.6 354.8h0M328.1 354.5h0M326.8 360.7h0M319.5 356.8h0M330.4 353.7h0M328.2 355.8h0M319.8 361.0h0M326.2 359.7h0M319.9 356.7h0M314.1 357.4h0M330.5 354.8h0M330.8 358.4h0M325.2 360.7h0M324.5 354.3h0M320.1 360.8h0M320.3 355.2h0M330.9 355.2h0M319.8 357.4h0M314.2 353.3h0M325.1 353.9h0M315.2 356.0h0M315.2 353.2h0M318.3 355.6h0M318.0 355.1h0M323.0 357.4h0M319.5 359.3h0M323.7 354.3h0M316.9 360.5h0M324.5 356.4h0M319.2 354.9h0M313.3 354.2h0M327.2 361.3h0M330.4 354.9h0M330.5 354.5h0M332.9 357.4h0M329.2 357.0h0M329.0 352.2h0M319.8 360.3h0M325.7 355.7h0M326.1 352.4h0M323.5 358.0h0M325.7 357.6h0M322.0 356.5h0M321.7 359.3h0M329.1 358.3h0M315.7 354.9h0M319.7 360.4h0M330.5 354.3h0M320.5 357.0h0M320.7 357.5h0M324.7 361.7h0M322.5 353.3h0M320.2 361.2h0M324.1 351.1h0M315.8 360.5h0M330.2 356.2h0M326.4 353.5h0M315.9 358.5h0M330.9 356.5h0M326.3 356.4h0M320.8 361.8h0M330.3 353.0h0M332.8 355.6h0M328.8 354.3h0M317.3 354.7h0M318.0 361.0h0M330.2 358.8h0M324.3 360.7h0M318.1 357.3h0M326.8 355.2h0M332.9 355.9h0M323.2 361.0h0M321.7 357.4h0M329.3 356.4h0M319.7 359.8h0M322.3 352.5h0M316.4 353.9h0M322.9 354.0h0M324.8 358.9h0M318.2 352.5h0M323.9 360.2h0M315.4 359.8h0M318.3 360.2h0M325.8 361.2h0M327.7 358.4h0M331.9 353.8h0M327.5 352.3h0M332.9 357.4h0M321.0 361.2h0M322.2 352.5h0M327.1 356.5h0M320.7 351.2h0M321.1 361.1h0M320.1 360.1h0M319.4 355.3h0M322.2 355.4h0M324.2 353.3h0M329.6 354.6h0M333.5 357.3h0M325.9 361.6h0M323.7 353.6h0M322.5 356.3h0M315.9 355.1h0M314.0 358.2h0M317.1 353.1h0M321.7 356.0h0M319.6 351.3h0M320.2 360.5h0M331.2 356.4h0M315.8 357.2h0M327.7 354.9h0M325.6 354.5h0M324.7 356.9h0M331.3 354.0h0M329.0 357.8h0M316.6 361.0h0M324.1 355.3h0M314.7 356.6h0M326.0 356.7h0M318.1 354.8h0M320.7 361.2h0M330.1 356.2h0M317.2 357.0h0M312.3 356.1h0M327.2 352.2h0M320.7 361.3h0M328.8 359.3h0M319.9 361.6h0M328.7 360.2h0M314.4 359.0h0M332.5 354.1h0M326.7 353.2h0M327.8 360.2h0M314.7 357.6h0M315.0 356.1h0M323.7 357.1h0M331.5 354.8h0M315.0 359.4h0M328.2 357.2h0M323.4 352.4h0M320.0 361.1h0M323.2 353.1h0M312.7 355.2h0M325.9 361.3h0M328.4 353.4h0M315.9 358.3h0M324.6 351.1h0M326.2 352.8h0M327.9 356.8h0M323.5 353.6h0M328.6 353.1h0M318.3 354.6h0M331.2 359.7h0M320.2 359.7h0M328.9 357.9h0M328.7 357.9h0" stroke="#d09098" stroke-width="1.44" stroke-linecap="round"/>
<path d="M349.5 346.6h0M349.7 350.1h0M352.6 350.4h0M344.9 349.2h0M350.6 349.3h0M347.3 345.7h0M348.9 347.0h0M349.0 351.1h0M355.1 346.4h0M351.9 343.5h0M344.8 348.7h0M354.3 344.9h0M352.6 348.6h0M352.4 347.1h0M352.1 349.5h0M351.8 350.5h0M354.7 345.6h0M352.3 342.5h0M353.8 343.5h0M345.4 348.5h0M341.3 347.1h0M354.3 347.5h0M351.7 348.3h0M343.9 346.3h0M348.4 345.9h0M346.1 350.7h0M352.4 346.0h0M350.8 349.4h0M346.0 348.9h0M354.0 345.6h0M353.8 346.9h0M353.9 346.4h0M343.2 347.3h0M346.2 345.0h0M348.9 349.3h0M348.8 350.2h0M356.3 348.7h0M350.5 345.5h0M350.2 349.7h0M351.1 348.6h0M345.6 348.0h0M354.1 350.5h0M351.7 344.2h0M349.8 344.9h0M342.3 345.2h0M352.5 345.2h0M342.8 347.5h0M350.1 350.2h0M348.9 342.8h0M349.5 348.9h0M351.8 348.7h0M346.8 349.1h0M352.7 351.2h0M347.2 346.0h0M341.8 346.8h0M349.4 350.5h0M342.8 349.4h0M345.6 347.5h0M348.3 348.0h0M352.3 345.2h0M341.7 347.2h0M342.3 344.9h0M355.7 349.2h0M343.3 348.4h0M345.9 344.6h0M356.2 346.4h0M353.3 350.2h0M347.3 342.3h0M344.5 343.6h0M345.0 346.8h0M348.3 343.4h0M355.4 347.8h0M349.9 343.0h0M354.9 344.8h0M344.0 350.7h0M345.9 344.1h0M349.0 346.7h0M345.0 344.4h0M346.3 349.9h0M351.4 349.2h0M356.2 347.0h0M347.3 342.3h0M347.7 347.1h0M349.8 349.7h0M350.4 343.7h0M344.2 346.2h0M350.1 349.9h0M351.5 346.9h0M353.8 345.0h0M348.2 348.2h0M353.4 345.7h0M349.9 350.0h0M350.4 350.2h0M347.8 343.8h0M350.9 342.7h0M344.5 345.9h0M355.0 344.9h0M346.1 351.5h0M341.4 347.5h0M347.8 343.7h0M344.3 359.5h0M345.5 366.5h0M343.9 359.8h0M342.2 352.4h0M343.9 357.2h0M344.3 364.9h0M344.2 357.8h0M343.0 352.4h0M343.1 352.5h0M343.8 362.1h0M344.0 359.9h0M344.0 361.3h0M345.1 365.6h0M344.5 363.3h0M344.5 359.8h0M343.0 355.6h0M343.3 357.9h0M344.8 367.8h0M343.7 361.9h0M344.2 362.4h0M342.8 361.5h0M343.0 356.7h0M343.6 360.2h0M344.2 357.1h0M344.7 360.9h0" stroke="#30a030" stroke-width="1.44" stroke-linecap="round"/>
<path d="M345.5 370.6h0M346.5 370.5h0M347.9 378.0h0M344.6 374.1h0M344.0 378.7h0M343.1 372.0h0M345.7 371.0h0M344.7 370.1h0M345.1 375.7h0M345.6 378.9h0M345.7 370.6h0M347.5 370.1h0M346.4 378.8h0M345.7 379.3h0M345.8 372.3h0M343.2 371.1h0M347.2 375.9h0M344.4 375.9h0M347.4 378.1h0M344.9 370.5h0M346.5 375.5h0M344.9 376.1h0M348.8 377.9h0M347.8 375.1h0M343.1 375.3h0M344.9 377.1h0M345.3 374.2h0M347.6 375.9h0M345.5 378.8h0M346.8 379.1h0M347.2 370.9h0M346.7 375.9h0M346.1 370.7h0M345.2 375.4h0M347.9 369.3h0M344.0 376.3h0M346.0 373.3h0M347.5 372.7h0M345.7 374.8h0M345.7 373.6h0M346.8 369.7h0M346.2 377.6h0M348.9 375.2h0M345.5 371.6h0M345.0 372.4h0M345.5 372.1h0M344.9 378.5h0M347.9 374.9h0M347.3 374.2h0M345.5 374.0h0M347.3 372.9h0M346.0 376.5h0M347.1 375.7h0M344.7 372.1h0M346.1 374.9h0" stroke="#f0b050" stroke-width="1.44" stroke-linecap="round"/>
<text x="240.60" y="176.87" font-size="10.8" font-weight="bold" textLength="6.40" lengthAdjust="spacingAndGlyphs">F</text>
<text x="344.20" y="175.90" font-size="9.5" text-anchor="middle" textLength="17.00" lengthAdjust="spacingAndGlyphs">Epo</text>
<text x="312.70" y="193.51" font-size="7.0" fill="#333" textLength="47.70" lengthAdjust="spacingAndGlyphs">Naive B cell_c36</text>
<text x="332.00" y="212.31" font-size="7.0" fill="#333" textLength="28.40" lengthAdjust="spacingAndGlyphs">B cell_c21</text>
<text x="283.80" y="228.51" font-size="7.0" fill="#333" textLength="27.90" lengthAdjust="spacingAndGlyphs">Pro-B_c26</text>
<text x="256.00" y="231.91" font-size="7.0" fill="#333" textLength="26.30" lengthAdjust="spacingAndGlyphs">Treg_c24</text>
<text x="321.00" y="234.51" font-size="7.0" fill="#333" textLength="41.30" lengthAdjust="spacingAndGlyphs">Pre-B cell_c25</text>
<text x="239.60" y="249.01" font-size="7.0" fill="#333" textLength="29.80" lengthAdjust="spacingAndGlyphs">B cell_c16</text>
<text x="347.30" y="252.11" font-size="7.0" fill="#333" textLength="39.30" lengthAdjust="spacingAndGlyphs">immNeu_c12</text>
<text x="390.50" y="239.81" font-size="7.0" fill="#333" textLength="42.30" lengthAdjust="spacingAndGlyphs">preNeu-3_c39</text>
<text x="270.00" y="266.11" font-size="7.0" fill="#333" textLength="34.00" lengthAdjust="spacingAndGlyphs">NK cell_c10</text>
<text x="324.70" y="267.51" font-size="7.0" fill="#333" textLength="27.30" lengthAdjust="spacingAndGlyphs">T cell_c37</text>
<text x="415.50" y="267.51" font-size="7.0" fill="#333" textLength="40.50" lengthAdjust="spacingAndGlyphs">preNeu-2_c33</text>
<text x="333.50" y="279.51" font-size="7.0" fill="#333" textLength="26.50" lengthAdjust="spacingAndGlyphs">Meg_c35</text>
<text x="256.50" y="279.81" font-size="7.0" fill="#333" textLength="23.20" lengthAdjust="spacingAndGlyphs">pDC_c7</text>
<text x="297.70" y="285.51" font-size="7.0" fill="#333" textLength="27.00" lengthAdjust="spacingAndGlyphs">MPP_c27</text>
<text x="355.40" y="295.91" font-size="7.0" fill="#333" textLength="41.60" lengthAdjust="spacingAndGlyphs">preNeu-1_c18</text>
<text x="403.40" y="294.51" font-size="7.0" fill="#333" textLength="40.90" lengthAdjust="spacingAndGlyphs">proNeu-2_c22</text>
<text x="322.00" y="301.81" font-size="7.0" fill="#333" textLength="30.00" lengthAdjust="spacingAndGlyphs">Mono_c19</text>
<text x="260.70" y="305.91" font-size="7.0" fill="#333" textLength="54.80" lengthAdjust="spacingAndGlyphs">GM-precursor_c17</text>
<text x="358.90" y="325.91" font-size="7.0" fill="#333" textLength="30.10" lengthAdjust="spacingAndGlyphs">ERP1_c20</text>
<text x="284.00" y="331.31" font-size="7.0" fill="#333" textLength="31.00" lengthAdjust="spacingAndGlyphs">Mono_c15</text>
<text x="390.40" y="347.71" font-size="7.0" fill="#333" textLength="24.20" lengthAdjust="spacingAndGlyphs">ERP2_c4</text>
<text x="313.60" y="348.81" font-size="7.0" fill="#333" textLength="31.00" lengthAdjust="spacingAndGlyphs">Mono_c23</text>
<text x="372.40" y="353.71" font-size="7.0" fill="#333" textLength="24.20" lengthAdjust="spacingAndGlyphs">Baso_c6</text>
<text x="348.70" y="359.01" font-size="7.0" fill="#333" textLength="21.30" lengthAdjust="spacingAndGlyphs">DC_c11</text>
<text x="308.30" y="367.11" font-size="7.0" fill="#333" textLength="30.70" lengthAdjust="spacingAndGlyphs">Mono_c13</text>
<text x="301.50" y="375.21" font-size="7.0" fill="#333" textLength="35.90" lengthAdjust="spacingAndGlyphs">Stromal_c28</text>
<text x="379.60" y="381.11" font-size="7.0" fill="#333" textLength="27.40" lengthAdjust="spacingAndGlyphs">Mast_c30</text>
<text x="333.80" y="384.51" font-size="7.0" fill="#333" textLength="22.20" lengthAdjust="spacingAndGlyphs">Mac_c9</text>
</svg></body></html>
